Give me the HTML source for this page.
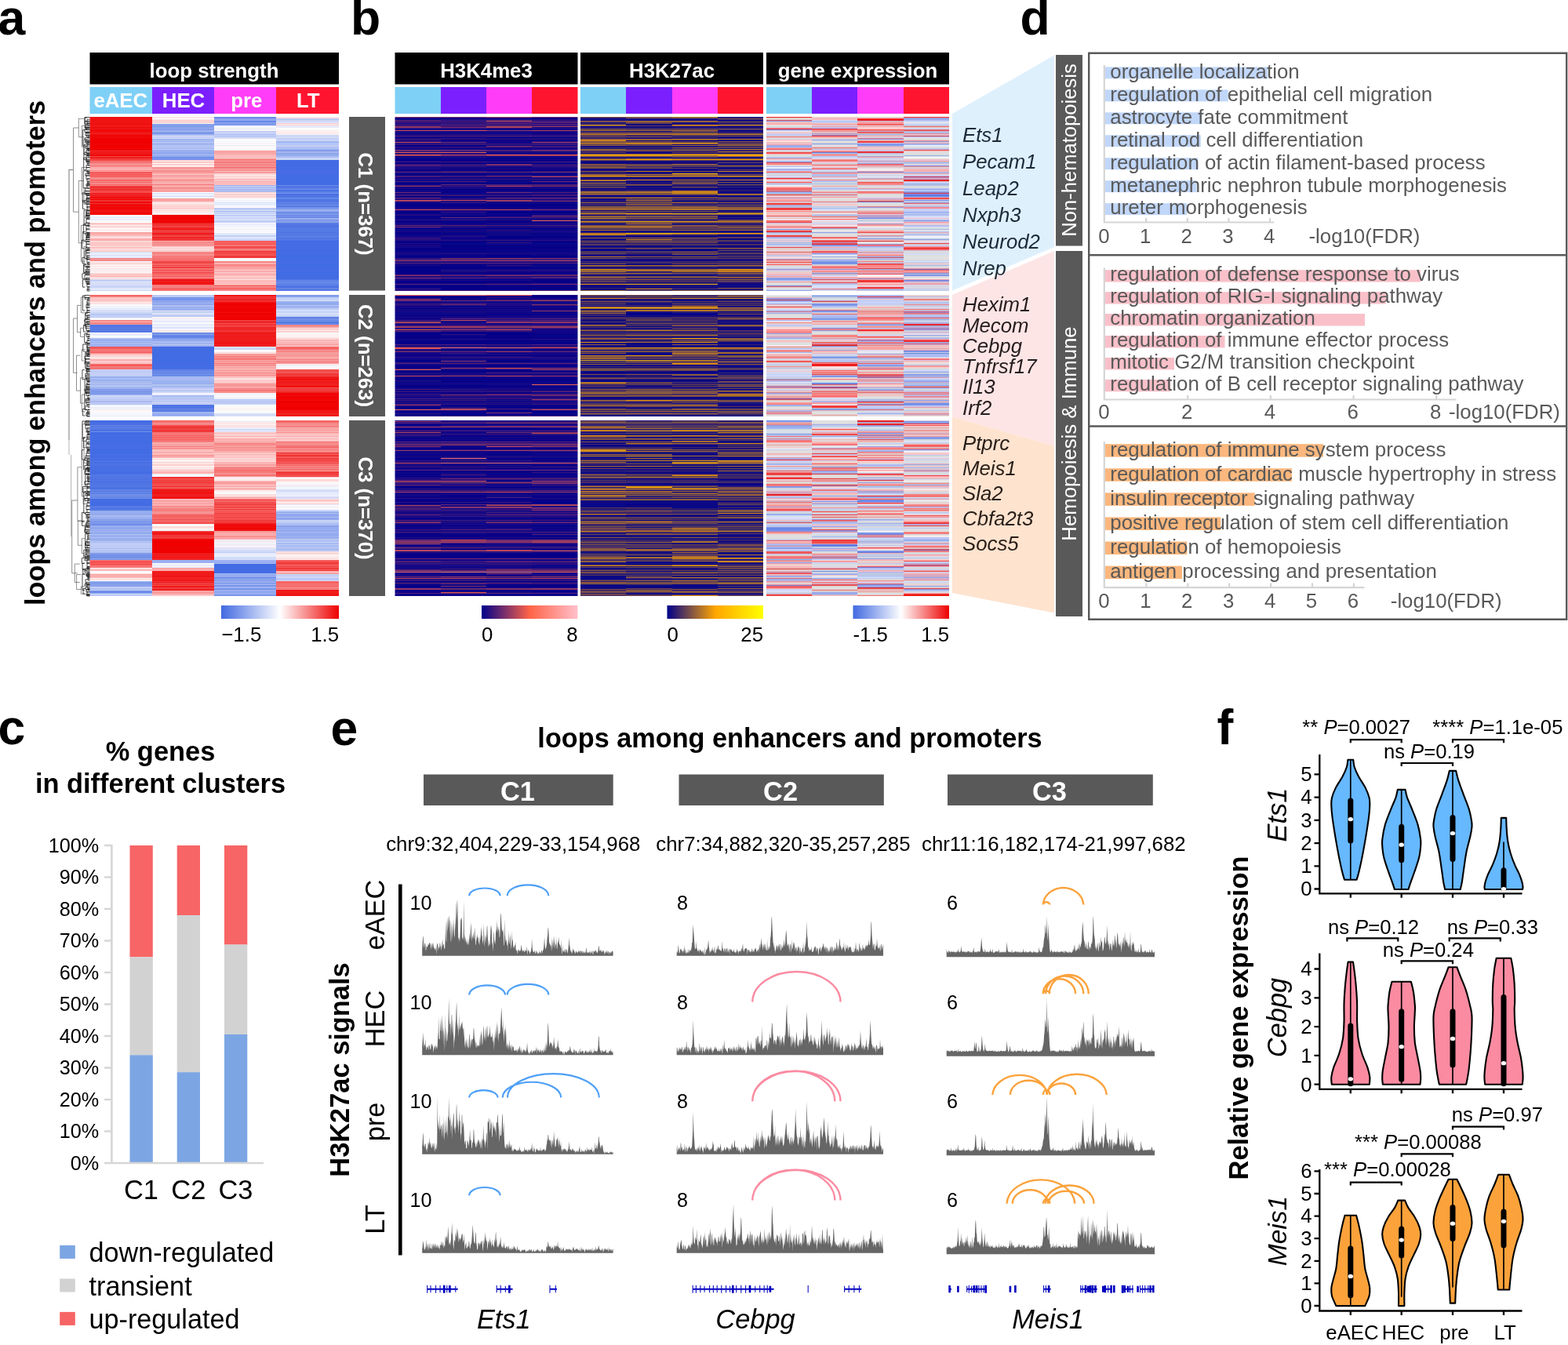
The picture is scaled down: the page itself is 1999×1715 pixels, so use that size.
<!DOCTYPE html>
<html lang="en">
<head>
<meta charset="utf-8">
<title>Figure: loops among enhancers and promoters</title>
<style>
html,body{margin:0;padding:0;background:#fff;}
body{width:1999px;height:1715px;overflow:hidden;}
svg{display:block;font-family:'Liberation Sans', Arial, Helvetica, sans-serif;}
</style>
</head>
<body>
<svg width="1999" height="1715" viewBox="0 0 1999 1715" shape-rendering="auto">
<defs>
<linearGradient id="gbwr"><stop offset="0" stop-color="#4169e1"/><stop offset="0.5" stop-color="#fff"/><stop offset="1" stop-color="#ee0000"/></linearGradient>
<linearGradient id="gk4"><stop offset="0" stop-color="#00008b"/><stop offset="0.5" stop-color="#ff6347"/><stop offset="1" stop-color="#ffc0cb"/></linearGradient>
<linearGradient id="gk27"><stop offset="0" stop-color="#00008b"/><stop offset="0.5" stop-color="#ffa500"/><stop offset="1" stop-color="#ffff00"/></linearGradient>
</defs>
<rect width="1999" height="1715" fill="#fff"/>
<text x="-2.5" y="44.4" font-size="62.5" font-weight="bold">a</text>
<rect x="114.50" y="67.00" width="317.50" height="40.50" fill="#000"/>
<text x="273.0" y="98.8" font-size="25.8" text-anchor="middle" font-weight="bold" fill="#fff">loop strength</text>
<rect x="114.50" y="111.00" width="79.50" height="34.00" fill="#7fd0f7"/>
<text x="153.8" y="136.8" font-size="25.8" text-anchor="middle" font-weight="bold" fill="#fff">eAEC</text>
<rect x="194.00" y="111.00" width="79.00" height="34.00" fill="#7b1fff"/>
<text x="234.0" y="136.8" font-size="25.8" text-anchor="middle" font-weight="bold" fill="#fff">HEC</text>
<rect x="273.00" y="111.00" width="79.00" height="34.00" fill="#ff3cf7"/>
<text x="314.3" y="136.8" font-size="25.8" text-anchor="middle" font-weight="bold" fill="#fff">pre</text>
<rect x="352.00" y="111.00" width="80.00" height="34.00" fill="#ff1430"/>
<text x="392.8" y="136.8" font-size="25.8" text-anchor="middle" font-weight="bold" fill="#fff">LT</text>
<path fill="#f01212" d="M114.5 149h79.5v2h-79.5zM114.5 152h79.5v3h-79.5zM114.5 156h79.5v2h-79.5zM114.5 168h79.5v1h-79.5zM114.5 171h79.5v1h-79.5zM114.5 260h79.5v1h-79.5zM114.5 263h79.5v1h-79.5zM114.5 268h79.5v1h-79.5zM114.5 271h79.5v1h-79.5zM114.5 273h79.5v1h-79.5zM194 356h79v2h-79zM194 360h79v1h-79zM273 376h79v2h-79zM273 425h79v1h-79zM273 436h79v1h-79zM273 438h79v1h-79zM352 483h80v2h-80zM352 492h80v2h-80zM352 525h80v1h-80zM352 529h80v1h-80zM194 625h79v1h-79zM194 627h79v3h-79zM194 633h79v3h-79zM194 681h79v1h-79zM194 707h79v1h-79zM194 735h79v1h-79zM194 740h79v1h-79zM273 675h79v1h-79zM352 753h80v1h-80zM352 757h80v1h-80zM352 759h80v1h-80z"/>
<path fill="#f00c0c" d="M114.5 151h79.5v1h-79.5zM114.5 158h79.5v1h-79.5zM114.5 162h79.5v2h-79.5zM114.5 167h79.5v1h-79.5zM114.5 175h79.5v1h-79.5zM114.5 193h79.5v1h-79.5zM114.5 195h79.5v1h-79.5zM114.5 198h79.5v1h-79.5zM114.5 258h79.5v1h-79.5zM114.5 266h79.5v2h-79.5zM194 280h79v1h-79zM273 382h79v1h-79zM273 390h79v1h-79zM273 398h79v1h-79zM352 501h80v1h-80zM352 504h80v1h-80zM352 510h80v1h-80zM194 679h79v1h-79zM194 687h79v1h-79zM273 668h79v2h-79zM273 671h79v2h-79z"/>
<path fill="#f01818" d="M114.5 155h79.5v1h-79.5zM114.5 159h79.5v3h-79.5zM114.5 169h79.5v1h-79.5zM114.5 238h79.5v1h-79.5zM114.5 246h79.5v1h-79.5zM114.5 248h79.5v1h-79.5zM114.5 253h79.5v1h-79.5zM114.5 269h79.5v1h-79.5zM194 291h79v2h-79zM194 298h79v1h-79zM194 303h79v1h-79zM194 359h79v1h-79zM194 361h79v2h-79zM273 385h79v1h-79zM273 410h79v1h-79zM273 429h79v1h-79zM273 433h79v1h-79zM273 435h79v1h-79zM273 437h79v1h-79zM352 481h80v2h-80zM352 487h80v1h-80zM352 491h80v1h-80zM352 523h80v2h-80zM194 624h79v1h-79zM194 631h79v1h-79zM194 705h79v1h-79zM194 709h79v2h-79zM194 730h79v2h-79zM194 733h79v2h-79zM194 747h79v1h-79zM273 676h79v1h-79zM352 755h80v1h-80zM352 758h80v1h-80z"/>
<path fill="#f01e1e" d="M114.5 164h79.5v1h-79.5zM114.5 170h79.5v1h-79.5zM114.5 252h79.5v1h-79.5zM194 284h79v1h-79zM194 297h79v1h-79zM273 418h79v1h-79zM273 420h79v1h-79zM273 423h79v2h-79zM273 426h79v3h-79zM273 430h79v3h-79zM273 434h79v1h-79zM273 439h79v2h-79zM352 480h80v1h-80zM352 486h80v1h-80zM352 488h80v2h-80zM352 526h80v2h-80zM352 530h80v1h-80zM194 626h79v1h-79zM194 680h79v1h-79zM194 711h79v2h-79zM194 728h79v2h-79zM194 732h79v1h-79zM194 738h79v2h-79zM194 742h79v1h-79zM194 748h79v1h-79zM194 751h79v1h-79zM352 752h80v1h-80zM352 756h80v1h-80z"/>
<path fill="#f00606" d="M114.5 165h79.5v2h-79.5zM114.5 172h79.5v3h-79.5zM114.5 184h79.5v1h-79.5zM114.5 189h79.5v3h-79.5zM114.5 201h79.5v1h-79.5zM114.5 254h79.5v1h-79.5zM114.5 257h79.5v1h-79.5zM114.5 261h79.5v2h-79.5zM114.5 264h79.5v2h-79.5zM114.5 270h79.5v1h-79.5zM114.5 272h79.5v1h-79.5zM194 276h79v1h-79zM273 387h79v1h-79zM273 391h79v1h-79zM273 393h79v1h-79zM273 395h79v1h-79zM273 397h79v1h-79zM273 402h79v2h-79zM273 405h79v1h-79zM352 503h80v1h-80zM352 505h80v1h-80zM352 508h80v2h-80zM352 514h80v1h-80zM352 517h80v1h-80zM194 688h79v1h-79zM194 697h79v1h-79zM194 699h79v1h-79zM273 670h79v1h-79zM273 673h79v2h-79z"/>
<path fill="#f00000" d="M114.5 176h79.5v8h-79.5zM114.5 185h79.5v4h-79.5zM114.5 197h79.5v1h-79.5zM114.5 251h79.5v1h-79.5zM194 274h79v2h-79zM194 277h79v3h-79zM194 281h79v3h-79zM273 386h79v1h-79zM273 388h79v2h-79zM273 392h79v1h-79zM273 394h79v1h-79zM273 396h79v1h-79zM273 399h79v3h-79zM273 404h79v1h-79zM273 406h79v2h-79zM352 502h80v1h-80zM352 506h80v2h-80zM352 511h80v3h-80zM352 515h80v2h-80zM352 518h80v5h-80zM194 689h79v8h-79zM194 698h79v1h-79zM194 700h79v5h-79z"/>
<path fill="#f03636" d="M114.5 192h79.5v1h-79.5zM114.5 256h79.5v1h-79.5zM194 286h79v1h-79zM194 290h79v1h-79zM194 294h79v1h-79zM194 296h79v1h-79zM194 299h79v1h-79zM273 321h79v1h-79zM273 326h79v1h-79zM273 328h79v1h-79zM273 381h79v1h-79zM273 413h79v1h-79zM273 421h79v1h-79zM352 477h80v2h-80zM352 495h80v1h-80zM352 497h80v1h-80zM194 543h79v1h-79zM194 608h79v1h-79zM194 613h79v1h-79zM194 623h79v1h-79zM194 685h79v1h-79zM194 741h79v1h-79zM194 743h79v1h-79zM352 580h80v1h-80zM352 724h80v1h-80zM352 727h80v1h-80z"/>
<path fill="#f02424" d="M114.5 194h79.5v1h-79.5zM114.5 196h79.5v1h-79.5zM114.5 241h79.5v1h-79.5zM114.5 249h79.5v2h-79.5zM194 305h79v1h-79zM194 358h79v1h-79zM273 384h79v1h-79zM273 441h79v1h-79zM352 485h80v1h-80zM352 490h80v1h-80zM352 499h80v2h-80zM352 528h80v1h-80zM194 549h79v1h-79zM194 609h79v1h-79zM194 615h79v1h-79zM194 630h79v1h-79zM194 632h79v1h-79zM194 706h79v1h-79zM194 708h79v1h-79zM194 713h79v1h-79zM194 736h79v2h-79zM194 752h79v1h-79zM352 754h80v1h-80z"/>
<path fill="#f03c3c" d="M114.5 199h79.5v1h-79.5zM114.5 242h79.5v1h-79.5zM194 300h79v1h-79zM194 340h79v1h-79zM273 323h79v1h-79zM273 327h79v1h-79zM273 408h79v2h-79zM273 416h79v1h-79zM273 422h79v1h-79zM352 476h80v1h-80zM194 677h79v1h-79zM194 686h79v1h-79zM194 749h79v2h-79zM273 646h79v1h-79zM273 654h79v1h-79zM352 584h80v2h-80zM352 587h80v1h-80zM352 722h80v1h-80zM352 725h80v1h-80z"/>
<path fill="#f03030" d="M114.5 200h79.5v1h-79.5zM114.5 203h79.5v1h-79.5zM114.5 247h79.5v1h-79.5zM114.5 255h79.5v1h-79.5zM114.5 259h79.5v1h-79.5zM194 285h79v1h-79zM194 289h79v1h-79zM273 380h79v1h-79zM273 419h79v1h-79zM194 620h79v1h-79zM194 678h79v1h-79zM352 577h80v1h-80zM352 581h80v1h-80zM352 602h80v2h-80zM352 605h80v1h-80zM352 718h80v1h-80z"/>
<path fill="#f64e4e" d="M114.5 202h79.5v1h-79.5zM114.5 222h79.5v1h-79.5zM114.5 224h79.5v1h-79.5zM114.5 237h79.5v1h-79.5zM114.5 244h79.5v2h-79.5zM194 288h79v1h-79zM194 306h79v1h-79zM194 344h79v1h-79zM273 315h79v2h-79zM273 412h79v1h-79zM273 415h79v1h-79zM114.5 716h79.5v1h-79.5zM114.5 719h79.5v1h-79.5zM194 658h79v1h-79zM194 660h79v1h-79zM194 666h79v1h-79zM194 746h79v1h-79zM273 644h79v1h-79zM273 647h79v1h-79zM273 650h79v1h-79zM273 652h79v1h-79zM273 655h79v3h-79zM273 660h79v3h-79zM352 715h80v2h-80zM352 720h80v1h-80z"/>
<path fill="#f65454" d="M114.5 204h79.5v1h-79.5zM114.5 219h79.5v1h-79.5zM194 349h79v1h-79zM273 311h79v1h-79zM114.5 443h79.5v1h-79.5zM114.5 466h79.5v1h-79.5zM352 475h80v1h-80zM352 494h80v1h-80zM114.5 715h79.5v1h-79.5zM114.5 717h79.5v1h-79.5zM114.5 720h79.5v1h-79.5zM194 542h79v1h-79zM194 614h79v1h-79zM194 616h79v1h-79zM194 618h79v1h-79zM194 622h79v1h-79zM273 638h79v1h-79zM273 641h79v1h-79zM273 658h79v1h-79zM273 665h79v1h-79zM352 578h80v2h-80zM352 582h80v1h-80zM352 586h80v1h-80zM352 588h80v1h-80zM352 604h80v1h-80z"/>
<path fill="#f66666" d="M114.5 205h79.5v1h-79.5zM114.5 232h79.5v1h-79.5zM194 336h79v2h-79zM194 345h79v1h-79zM194 368h79v1h-79zM273 364h79v1h-79zM273 367h79v2h-79zM114.5 469h79.5v1h-79.5zM352 443h80v1h-80zM194 551h79v1h-79zM194 558h79v1h-79zM194 562h79v1h-79zM194 657h79v1h-79zM194 663h79v1h-79zM273 648h79v1h-79zM273 651h79v1h-79zM352 563h80v1h-80zM352 591h80v1h-80zM352 714h80v1h-80zM352 721h80v1h-80zM352 743h80v1h-80z"/>
<path fill="#f67878" d="M114.5 206h79.5v1h-79.5zM114.5 236h79.5v1h-79.5zM194 326h79v2h-79zM194 330h79v1h-79zM194 354h79v1h-79zM194 363h79v1h-79zM273 312h79v2h-79zM114.5 468h79.5v1h-79.5zM273 497h79v1h-79zM114.5 714h79.5v1h-79.5zM194 559h79v1h-79zM194 561h79v1h-79zM273 598h79v1h-79zM273 606h79v1h-79zM352 596h80v1h-80z"/>
<path fill="#f66c6c" d="M114.5 207h79.5v1h-79.5zM114.5 221h79.5v1h-79.5zM114.5 230h79.5v1h-79.5zM114.5 235h79.5v1h-79.5zM194 329h79v1h-79zM194 331h79v2h-79zM194 339h79v1h-79zM194 343h79v1h-79zM194 348h79v1h-79zM194 351h79v1h-79zM273 213h79v1h-79zM114.5 377h79.5v1h-79.5zM114.5 445h79.5v1h-79.5zM114.5 464h79.5v1h-79.5zM352 445h80v1h-80zM114.5 722h79.5v1h-79.5zM194 553h79v1h-79zM194 650h79v1h-79zM194 664h79v1h-79zM273 596h79v1h-79zM273 636h79v1h-79zM352 536h80v1h-80zM352 538h80v1h-80zM352 543h80v1h-80zM352 570h80v1h-80zM352 741h80v1h-80zM352 745h80v1h-80zM352 747h80v2h-80zM352 750h80v1h-80z"/>
<path fill="#f69090" d="M114.5 208h79.5v1h-79.5zM114.5 227h79.5v2h-79.5zM114.5 233h79.5v1h-79.5zM194 217h79v1h-79zM194 325h79v1h-79zM273 338h79v1h-79zM114.5 409h79.5v1h-79.5zM352 460h80v1h-80zM352 462h80v1h-80zM194 563h79v1h-79zM194 571h79v2h-79zM194 651h79v1h-79zM194 654h79v1h-79zM194 753h79v1h-79zM194 757h79v1h-79zM273 603h79v2h-79zM273 607h79v1h-79zM352 544h80v1h-80zM352 551h80v1h-80zM352 564h80v2h-80zM352 574h80v2h-80zM352 594h80v1h-80zM352 597h80v1h-80z"/>
<path fill="#f69696" d="M114.5 209h79.5v1h-79.5zM114.5 330h79.5v1h-79.5zM194 218h79v1h-79zM194 229h79v2h-79zM194 239h79v1h-79zM194 255h79v1h-79zM194 310h79v2h-79zM194 324h79v1h-79zM273 202h79v1h-79zM273 208h79v1h-79zM273 212h79v1h-79zM273 216h79v1h-79zM273 220h79v1h-79zM114.5 413h79.5v1h-79.5zM273 452h79v1h-79zM273 455h79v1h-79zM273 460h79v2h-79zM273 466h79v1h-79zM273 472h79v1h-79zM273 476h79v1h-79zM273 490h79v2h-79zM273 499h79v1h-79zM352 414h80v1h-80zM352 451h80v1h-80zM114.5 735h79.5v1h-79.5zM194 641h79v1h-79zM194 646h79v2h-79zM194 725h79v1h-79zM273 566h79v1h-79zM273 570h79v1h-79zM273 615h79v1h-79zM273 679h79v1h-79zM273 683h79v1h-79zM352 731h80v1h-80zM352 749h80v1h-80z"/>
<path fill="#f68a8a" d="M114.5 210h79.5v1h-79.5zM114.5 212h79.5v1h-79.5zM114.5 231h79.5v1h-79.5zM114.5 331h79.5v1h-79.5zM194 214h79v1h-79zM194 219h79v1h-79zM194 240h79v1h-79zM194 321h79v1h-79zM273 210h79v2h-79zM273 217h79v1h-79zM273 333h79v1h-79zM273 339h79v1h-79zM273 365h79v1h-79zM273 370h79v1h-79zM114.5 378h79.5v1h-79.5zM114.5 411h79.5v1h-79.5zM114.5 446h79.5v1h-79.5zM273 465h79v1h-79zM273 478h79v1h-79zM273 496h79v1h-79zM352 448h80v1h-80zM352 453h80v1h-80zM194 539h79v2h-79zM194 649h79v1h-79zM194 755h79v1h-79zM273 597h79v1h-79zM273 601h79v1h-79zM273 677h79v1h-79zM273 684h79v1h-79zM352 540h80v2h-80zM352 566h80v2h-80zM352 599h80v1h-80zM352 751h80v1h-80z"/>
<path fill="#f67e7e" d="M114.5 211h79.5v1h-79.5zM194 309h79v1h-79zM194 323h79v1h-79zM194 328h79v1h-79zM194 350h79v1h-79zM194 364h79v2h-79zM194 370h79v1h-79zM273 318h79v1h-79zM273 366h79v1h-79zM273 369h79v1h-79zM114.5 412h79.5v1h-79.5zM114.5 448h79.5v1h-79.5zM114.5 470h79.5v1h-79.5zM273 456h79v2h-79zM352 447h80v1h-80zM352 458h80v1h-80zM352 461h80v1h-80zM114.5 721h79.5v1h-79.5zM114.5 723h79.5v1h-79.5zM194 554h79v1h-79zM194 556h79v1h-79zM194 569h79v1h-79zM194 645h79v1h-79zM194 648h79v1h-79zM194 659h79v1h-79zM194 661h79v1h-79zM273 565h79v1h-79zM273 567h79v1h-79zM273 599h79v1h-79zM352 571h80v1h-80z"/>
<path fill="#fcaeae" d="M114.5 213h79.5v1h-79.5zM114.5 218h79.5v1h-79.5zM114.5 312h79.5v1h-79.5zM194 215h79v1h-79zM194 231h79v1h-79zM273 231h79v1h-79zM273 233h79v1h-79zM273 336h79v1h-79zM273 343h79v1h-79zM273 349h79v1h-79zM273 361h79v1h-79zM114.5 410h79.5v1h-79.5zM114.5 458h79.5v1h-79.5zM273 471h79v1h-79zM273 477h79v1h-79zM352 440h80v1h-80zM114.5 732h79.5v1h-79.5zM194 582h79v2h-79zM194 602h79v2h-79zM194 637h79v1h-79zM194 724h79v1h-79zM194 727h79v1h-79zM273 556h79v1h-79zM273 562h79v2h-79zM273 572h79v1h-79zM273 589h79v1h-79zM273 591h79v1h-79zM273 594h79v1h-79zM273 613h79v2h-79zM273 678h79v1h-79zM273 682h79v1h-79zM273 687h79v1h-79zM352 547h80v1h-80zM352 556h80v1h-80zM352 730h80v1h-80z"/>
<path fill="#fca8a8" d="M114.5 214h79.5v1h-79.5zM114.5 296h79.5v1h-79.5zM114.5 304h79.5v1h-79.5zM194 220h79v2h-79zM194 225h79v2h-79zM194 254h79v1h-79zM273 193h79v1h-79zM273 340h79v1h-79zM273 342h79v1h-79zM273 350h79v1h-79zM273 354h79v1h-79zM273 459h79v1h-79zM273 462h79v1h-79zM273 469h79v1h-79zM273 479h79v1h-79zM273 493h79v2h-79zM352 434h80v1h-80zM352 455h80v2h-80zM194 567h79v1h-79zM194 570h79v1h-79zM194 643h79v1h-79zM273 559h79v1h-79zM273 568h79v1h-79zM273 681h79v1h-79zM273 685h79v1h-79zM352 549h80v1h-80z"/>
<path fill="#fcb4b4" d="M114.5 215h79.5v2h-79.5zM114.5 285h79.5v1h-79.5zM114.5 298h79.5v2h-79.5zM114.5 305h79.5v1h-79.5zM114.5 352h79.5v1h-79.5zM194 237h79v1h-79zM194 242h79v1h-79zM194 244h79v1h-79zM194 256h79v1h-79zM273 200h79v1h-79zM273 228h79v1h-79zM273 335h79v1h-79zM273 345h79v1h-79zM273 359h79v1h-79zM114.5 459h79.5v1h-79.5zM273 467h79v1h-79zM273 470h79v1h-79zM273 473h79v1h-79zM273 488h79v1h-79zM352 436h80v3h-80zM114.5 726h79.5v1h-79.5zM194 565h79v1h-79zM194 642h79v1h-79zM194 754h79v1h-79zM194 756h79v1h-79zM273 560h79v1h-79zM273 575h79v1h-79zM273 579h79v1h-79zM273 617h79v2h-79zM273 680h79v1h-79zM352 550h80v1h-80zM352 559h80v1h-80zM352 728h80v1h-80z"/>
<path fill="#f68484" d="M114.5 217h79.5v1h-79.5zM114.5 226h79.5v1h-79.5zM114.5 234h79.5v1h-79.5zM114.5 329h79.5v1h-79.5zM114.5 332h79.5v1h-79.5zM194 235h79v1h-79zM194 243h79v1h-79zM194 312h79v1h-79zM194 322h79v1h-79zM194 353h79v1h-79zM194 366h79v1h-79zM273 203h79v2h-79zM273 207h79v1h-79zM273 209h79v1h-79zM273 214h79v1h-79zM273 317h79v1h-79zM273 334h79v1h-79zM273 337h79v1h-79zM273 363h79v1h-79zM114.5 408h79.5v1h-79.5zM114.5 450h79.5v1h-79.5zM114.5 467h79.5v1h-79.5zM273 495h79v1h-79zM273 500h79v1h-79zM194 541h79v1h-79zM194 552h79v1h-79zM194 652h79v1h-79zM194 655h79v1h-79zM273 571h79v1h-79zM273 573h79v1h-79zM352 539h80v1h-80zM352 576h80v1h-80zM352 600h80v1h-80z"/>
<path fill="#f65a5a" d="M114.5 220h79.5v1h-79.5zM194 352h79v1h-79zM194 355h79v1h-79zM273 307h79v1h-79zM273 322h79v1h-79zM273 324h79v2h-79zM114.5 442h79.5v1h-79.5zM114.5 449h79.5v1h-79.5zM352 472h80v1h-80zM352 474h80v1h-80zM194 555h79v1h-79zM194 560h79v1h-79zM194 610h79v1h-79zM194 621h79v1h-79zM273 637h79v1h-79zM352 589h80v1h-80zM352 598h80v1h-80zM352 601h80v1h-80zM352 719h80v1h-80zM352 723h80v1h-80zM352 726h80v1h-80z"/>
<path fill="#f67272" d="M114.5 223h79.5v1h-79.5zM114.5 225h79.5v1h-79.5zM194 342h79v1h-79zM194 346h79v1h-79zM273 206h79v1h-79zM273 319h79v1h-79zM273 454h79v1h-79zM273 458h79v1h-79zM273 463h79v1h-79zM273 498h79v1h-79zM352 415h80v1h-80zM194 537h79v2h-79zM273 602h79v1h-79zM273 605h79v1h-79zM273 639h79v1h-79zM352 568h80v2h-80zM352 573h80v1h-80zM352 592h80v1h-80zM352 595h80v1h-80zM352 744h80v1h-80zM352 746h80v1h-80z"/>
<path fill="#f66060" d="M114.5 229h79.5v1h-79.5zM194 367h79v1h-79zM194 369h79v1h-79zM273 308h79v3h-79zM114.5 376h79.5v1h-79.5zM114.5 444h79.5v1h-79.5zM114.5 447h79.5v1h-79.5zM114.5 465h79.5v1h-79.5zM352 442h80v1h-80zM352 444h80v1h-80zM114.5 718h79.5v1h-79.5zM194 536h79v1h-79zM194 557h79v1h-79zM194 656h79v1h-79zM194 665h79v1h-79zM273 600h79v1h-79zM273 645h79v1h-79zM273 653h79v1h-79zM352 537h80v1h-80zM352 583h80v1h-80zM352 593h80v1h-80zM352 606h80v1h-80zM352 742h80v1h-80z"/>
<path fill="#f04242" d="M114.5 239h79.5v2h-79.5zM114.5 243h79.5v1h-79.5zM194 293h79v1h-79zM194 335h79v1h-79zM194 338h79v1h-79zM194 341h79v1h-79zM194 347h79v1h-79zM273 320h79v1h-79zM273 378h79v1h-79zM273 383h79v1h-79zM352 471h80v1h-80zM352 473h80v1h-80zM352 496h80v1h-80zM194 544h79v1h-79zM194 547h79v2h-79zM194 611h79v1h-79zM194 682h79v1h-79zM194 684h79v1h-79zM194 744h79v1h-79zM273 642h79v2h-79zM273 649h79v1h-79zM273 659h79v1h-79zM273 663h79v1h-79zM352 607h80v1h-80zM352 717h80v1h-80z"/>
<path fill="#fcf6f6" d="M114.5 274h79.5v1h-79.5zM114.5 282h79.5v1h-79.5zM114.5 341h79.5v1h-79.5zM114.5 347h79.5v1h-79.5zM194 157h79v1h-79zM194 211h79v1h-79zM273 166h79v1h-79zM273 178h79v1h-79zM273 189h79v1h-79zM273 191h79v1h-79zM273 246h79v1h-79zM273 264h79v1h-79zM273 295h79v1h-79zM352 165h80v1h-80zM352 171h80v1h-80zM114.5 389h79.5v1h-79.5zM114.5 523h79.5v1h-79.5zM114.5 525h79.5v1h-79.5zM194 405h79v1h-79zM194 407h79v1h-79zM273 448h79v1h-79zM273 505h79v1h-79zM273 518h79v2h-79zM273 525h79v1h-79zM352 425h80v1h-80zM352 427h80v1h-80zM352 429h80v1h-80zM194 604h79v1h-79zM273 536h79v1h-79zM273 612h79v1h-79zM352 609h80v1h-80zM352 645h80v1h-80zM352 710h80v1h-80z"/>
<path fill="#fcfcfc" d="M114.5 275h79.5v1h-79.5zM114.5 278h79.5v1h-79.5zM114.5 283h79.5v1h-79.5zM114.5 291h79.5v1h-79.5zM114.5 294h79.5v1h-79.5zM114.5 338h79.5v1h-79.5zM194 151h79v1h-79zM194 208h79v1h-79zM194 245h79v1h-79zM194 248h79v1h-79zM273 163h79v1h-79zM273 165h79v1h-79zM273 177h79v1h-79zM273 179h79v1h-79zM273 181h79v1h-79zM273 184h79v1h-79zM273 187h79v2h-79zM273 253h79v1h-79zM273 256h79v1h-79zM273 262h79v1h-79zM273 287h79v1h-79zM273 290h79v1h-79zM273 293h79v1h-79zM273 296h79v1h-79zM273 329h79v2h-79zM352 163h80v2h-80zM114.5 388h79.5v1h-79.5zM114.5 407h79.5v1h-79.5zM114.5 424h79.5v1h-79.5zM114.5 429h79.5v1h-79.5zM114.5 517h79.5v1h-79.5zM114.5 524h79.5v1h-79.5zM114.5 527h79.5v1h-79.5zM114.5 529h79.5v1h-79.5zM194 411h79v2h-79zM194 416h79v1h-79zM194 502h79v1h-79zM273 446h79v2h-79zM273 501h79v1h-79zM273 506h79v1h-79zM273 516h79v1h-79zM273 520h79v1h-79zM273 522h79v1h-79zM273 524h79v1h-79zM352 468h80v1h-80zM352 470h80v1h-80zM114.5 729h79.5v2h-79.5zM114.5 740h79.5v1h-79.5zM194 584h79v1h-79zM194 586h79v1h-79zM194 594h79v1h-79zM194 606h79v1h-79zM194 670h79v1h-79zM194 674h79v1h-79zM194 718h79v1h-79zM273 541h79v1h-79zM273 610h79v1h-79zM273 628h79v1h-79zM273 692h79v1h-79zM273 696h79v1h-79zM352 610h80v1h-80zM352 615h80v2h-80zM352 644h80v1h-80zM352 648h80v1h-80zM352 708h80v1h-80z"/>
<path fill="#eaf0fc" d="M114.5 276h79.5v1h-79.5zM114.5 280h79.5v1h-79.5zM114.5 323h79.5v2h-79.5zM114.5 327h79.5v1h-79.5zM194 251h79v1h-79zM273 185h79v1h-79zM273 255h79v1h-79zM273 257h79v1h-79zM273 259h79v1h-79zM273 285h79v1h-79zM114.5 427h79.5v1h-79.5zM114.5 519h79.5v2h-79.5zM114.5 528h79.5v1h-79.5zM194 409h79v1h-79zM352 466h80v1h-80zM194 605h79v1h-79zM273 537h79v1h-79zM273 546h79v1h-79zM273 700h79v1h-79zM273 708h79v1h-79zM352 620h80v1h-80zM352 623h80v1h-80z"/>
<path fill="#e4eafc" d="M114.5 277h79.5v1h-79.5zM114.5 279h79.5v1h-79.5zM114.5 322h79.5v1h-79.5zM114.5 326h79.5v1h-79.5zM114.5 359h79.5v1h-79.5zM114.5 362h79.5v1h-79.5zM114.5 368h79.5v1h-79.5zM194 247h79v1h-79zM273 261h79v1h-79zM273 286h79v1h-79zM273 297h79v2h-79zM273 302h79v1h-79zM352 160h80v2h-80zM114.5 426h79.5v1h-79.5zM114.5 516h79.5v1h-79.5zM114.5 530h79.5v1h-79.5zM273 442h79v1h-79zM273 502h79v1h-79zM273 507h79v1h-79zM273 548h79v1h-79zM273 550h79v1h-79zM273 693h79v1h-79zM273 707h79v1h-79zM273 709h79v1h-79zM352 627h80v3h-80zM352 631h80v1h-80zM352 643h80v1h-80zM352 650h80v1h-80z"/>
<path fill="#f6fcfc" d="M114.5 281h79.5v1h-79.5zM273 254h79v1h-79zM273 332h79v1h-79zM114.5 428h79.5v1h-79.5zM273 503h79v1h-79zM273 517h79v1h-79zM273 526h79v1h-79zM352 424h80v1h-80zM194 669h79v1h-79zM194 676h79v1h-79zM273 629h79v1h-79zM352 622h80v1h-80z"/>
<path fill="#fcd8d8" d="M114.5 284h79.5v1h-79.5zM114.5 288h79.5v1h-79.5zM114.5 301h79.5v1h-79.5zM114.5 311h79.5v1h-79.5zM114.5 317h79.5v2h-79.5zM114.5 353h79.5v1h-79.5zM114.5 355h79.5v1h-79.5zM194 155h79v1h-79zM194 260h79v1h-79zM194 264h79v1h-79zM194 266h79v1h-79zM273 221h79v1h-79zM273 249h79v1h-79zM273 353h79v1h-79zM273 355h79v2h-79zM273 362h79v1h-79zM352 150h80v1h-80zM114.5 461h79.5v1h-79.5zM273 449h79v1h-79zM273 484h79v1h-79zM352 431h80v1h-80zM114.5 725h79.5v1h-79.5zM194 589h79v1h-79zM194 599h79v1h-79zM194 671h79v1h-79zM194 758h79v1h-79zM273 542h79v1h-79zM273 544h79v1h-79zM273 554h79v1h-79zM273 557h79v2h-79zM273 630h79v1h-79zM352 611h80v1h-80zM352 639h80v1h-80z"/>
<path fill="#fcdede" d="M114.5 286h79.5v1h-79.5zM114.5 302h79.5v2h-79.5zM114.5 336h79.5v1h-79.5zM114.5 342h79.5v1h-79.5zM114.5 348h79.5v1h-79.5zM194 149h79v1h-79zM194 268h79v1h-79zM194 317h79v2h-79zM273 224h79v1h-79zM273 227h79v1h-79zM273 248h79v1h-79zM273 251h79v1h-79zM114.5 387h79.5v1h-79.5zM114.5 453h79.5v1h-79.5zM114.5 457h79.5v1h-79.5zM273 483h79v1h-79zM352 418h80v1h-80zM352 420h80v1h-80zM114.5 731h79.5v1h-79.5zM114.5 738h79.5v1h-79.5zM194 590h79v1h-79zM194 595h79v1h-79zM194 672h79v2h-79zM273 540h79v1h-79zM273 586h79v1h-79zM273 588h79v1h-79zM273 609h79v1h-79zM273 632h79v1h-79zM352 711h80v2h-80z"/>
<path fill="#fceaea" d="M114.5 287h79.5v1h-79.5zM114.5 307h79.5v1h-79.5zM114.5 334h79.5v1h-79.5zM114.5 346h79.5v1h-79.5zM114.5 354h79.5v1h-79.5zM194 259h79v1h-79zM194 269h79v1h-79zM194 272h79v1h-79zM273 223h79v1h-79zM352 158h80v1h-80zM352 169h80v2h-80zM114.5 385h79.5v1h-79.5zM114.5 456h79.5v1h-79.5zM114.5 522h79.5v1h-79.5zM194 422h79v1h-79zM273 521h79v1h-79zM352 421h80v1h-80zM352 464h80v2h-80zM352 469h80v1h-80zM114.5 724h79.5v1h-79.5zM114.5 737h79.5v1h-79.5zM194 596h79v1h-79zM194 675h79v1h-79zM273 543h79v1h-79zM273 689h79v1h-79zM273 691h79v1h-79zM273 698h79v1h-79zM352 707h80v1h-80zM352 713h80v1h-80z"/>
<path fill="#fcd2d2" d="M114.5 289h79.5v1h-79.5zM114.5 319h79.5v1h-79.5zM114.5 335h79.5v1h-79.5zM194 153h79v2h-79zM194 204h79v1h-79zM194 210h79v1h-79zM194 263h79v1h-79zM194 320h79v1h-79zM273 201h79v1h-79zM273 222h79v1h-79zM273 225h79v1h-79zM273 245h79v1h-79zM273 250h79v1h-79zM352 159h80v1h-80zM273 486h79v2h-79zM352 423h80v1h-80zM352 441h80v1h-80zM273 577h79v1h-79zM273 582h79v1h-79zM352 558h80v1h-80zM352 642h80v1h-80z"/>
<path fill="#fce4e4" d="M114.5 290h79.5v1h-79.5zM114.5 293h79.5v1h-79.5zM114.5 313h79.5v1h-79.5zM114.5 337h79.5v1h-79.5zM114.5 339h79.5v1h-79.5zM114.5 344h79.5v1h-79.5zM194 152h79v1h-79zM194 205h79v1h-79zM194 212h79v1h-79zM194 261h79v1h-79zM194 267h79v1h-79zM194 270h79v1h-79zM194 273h79v1h-79zM194 315h79v1h-79zM273 226h79v1h-79zM273 252h79v1h-79zM114.5 386h79.5v1h-79.5zM114.5 455h79.5v1h-79.5zM194 421h79v1h-79zM273 450h79v1h-79zM273 482h79v1h-79zM352 430h80v1h-80zM114.5 739h79.5v1h-79.5zM273 538h79v1h-79zM273 584h79v1h-79zM273 611h79v1h-79zM273 625h79v1h-79zM273 631h79v1h-79zM352 614h80v1h-80zM352 619h80v1h-80zM352 636h80v1h-80zM352 641h80v1h-80zM352 703h80v2h-80zM352 706h80v1h-80zM352 709h80v1h-80z"/>
<path fill="#fcf0f0" d="M114.5 292h79.5v1h-79.5zM114.5 295h79.5v1h-79.5zM114.5 340h79.5v1h-79.5zM194 150h79v1h-79zM194 258h79v1h-79zM273 183h79v1h-79zM273 186h79v1h-79zM352 149h80v1h-80zM352 166h80v3h-80zM194 404h79v1h-79zM194 423h79v1h-79zM352 426h80v1h-80zM352 428h80v1h-80zM194 587h79v2h-79zM194 591h79v1h-79zM194 597h79v1h-79zM194 668h79v1h-79zM194 722h79v1h-79zM273 539h79v1h-79zM273 626h79v2h-79zM273 694h79v1h-79zM352 613h80v1h-80zM352 640h80v1h-80z"/>
<path fill="#f6a2a2" d="M114.5 297h79.5v1h-79.5zM114.5 306h79.5v1h-79.5zM194 216h79v1h-79zM194 223h79v2h-79zM194 232h79v1h-79zM194 236h79v1h-79zM194 313h79v1h-79zM273 194h79v2h-79zM273 197h79v1h-79zM273 346h79v1h-79zM273 453h79v1h-79zM273 464h79v1h-79zM273 468h79v1h-79zM273 474h79v1h-79zM352 416h80v2h-80zM352 439h80v1h-80zM352 452h80v1h-80zM352 454h80v1h-80zM352 457h80v1h-80zM352 459h80v1h-80zM352 463h80v1h-80zM194 638h79v2h-79zM273 564h79v1h-79zM273 592h79v2h-79zM273 595h79v1h-79zM273 620h79v1h-79zM273 634h79v1h-79zM273 686h79v1h-79zM352 545h80v2h-80z"/>
<path fill="#fcbaba" d="M114.5 300h79.5v1h-79.5zM273 196h79v1h-79zM273 199h79v1h-79zM273 235h79v1h-79zM273 348h79v1h-79zM273 357h79v1h-79zM114.5 382h79.5v1h-79.5zM114.5 452h79.5v1h-79.5zM114.5 727h79.5v1h-79.5zM194 574h79v1h-79zM194 578h79v2h-79zM194 644h79v1h-79zM194 726h79v1h-79zM273 561h79v1h-79zM273 583h79v1h-79zM273 590h79v1h-79zM352 552h80v2h-80zM352 729h80v1h-80z"/>
<path fill="#fcc6c6" d="M114.5 308h79.5v1h-79.5zM114.5 351h79.5v1h-79.5zM194 207h79v1h-79zM194 209h79v1h-79zM194 222h79v1h-79zM194 227h79v1h-79zM194 265h79v1h-79zM273 229h79v1h-79zM273 232h79v1h-79zM273 234h79v1h-79zM273 344h79v1h-79zM273 351h79v2h-79zM114.5 379h79.5v2h-79.5zM114.5 451h79.5v1h-79.5zM352 433h80v1h-80zM114.5 736h79.5v1h-79.5zM194 601h79v1h-79zM273 551h79v1h-79zM273 553h79v1h-79zM273 587h79v1h-79zM273 635h79v1h-79zM352 637h80v1h-80z"/>
<path fill="#fccccc" d="M114.5 309h79.5v1h-79.5zM114.5 314h79.5v1h-79.5zM114.5 316h79.5v1h-79.5zM114.5 320h79.5v1h-79.5zM114.5 350h79.5v1h-79.5zM194 156h79v1h-79zM194 206h79v1h-79zM194 262h79v1h-79zM194 316h79v1h-79zM194 319h79v1h-79zM273 198h79v1h-79zM273 230h79v1h-79zM273 347h79v1h-79zM273 360h79v1h-79zM352 157h80v1h-80zM114.5 381h79.5v1h-79.5zM114.5 383h79.5v2h-79.5zM114.5 454h79.5v1h-79.5zM352 422h80v1h-80zM352 432h80v1h-80zM352 435h80v1h-80zM114.5 734h79.5v1h-79.5zM194 575h79v1h-79zM194 585h79v1h-79zM194 592h79v2h-79zM194 598h79v1h-79zM273 555h79v1h-79zM273 580h79v1h-79zM273 621h79v1h-79zM273 624h79v1h-79zM273 633h79v1h-79zM352 554h80v1h-80zM352 557h80v1h-80zM352 560h80v1h-80zM352 562h80v1h-80zM352 608h80v1h-80zM352 612h80v1h-80zM352 705h80v1h-80z"/>
<path fill="#fcc0c0" d="M114.5 310h79.5v1h-79.5zM114.5 315h79.5v1h-79.5zM114.5 349h79.5v1h-79.5zM194 233h79v1h-79zM194 257h79v1h-79zM194 314h79v1h-79zM273 218h79v1h-79zM273 247h79v1h-79zM273 358h79v1h-79zM114.5 460h79.5v1h-79.5zM114.5 462h79.5v2h-79.5zM273 480h79v2h-79zM273 485h79v1h-79zM352 419h80v1h-80zM194 573h79v1h-79zM194 577h79v1h-79zM194 600h79v1h-79zM194 636h79v1h-79zM194 640h79v1h-79zM194 759h79v1h-79zM273 552h79v1h-79zM273 578h79v1h-79zM273 581h79v1h-79zM273 585h79v1h-79zM273 619h79v1h-79zM273 622h79v1h-79zM352 555h80v1h-80zM352 561h80v1h-80zM352 638h80v1h-80z"/>
<path fill="#d2def6" d="M114.5 321h79.5v1h-79.5zM194 176h79v1h-79zM273 176h79v1h-79zM273 267h79v1h-79zM273 280h79v1h-79zM352 173h80v1h-80zM352 178h80v1h-80zM352 202h80v1h-80zM114.5 397h79.5v1h-79.5zM273 443h79v1h-79zM273 527h79v1h-79zM273 529h79v1h-79zM352 383h80v1h-80zM352 400h80v1h-80zM352 625h80v1h-80z"/>
<path fill="#d8def6" d="M114.5 325h79.5v1h-79.5zM114.5 356h79.5v1h-79.5zM114.5 360h79.5v1h-79.5zM114.5 364h79.5v1h-79.5zM273 175h79v1h-79zM273 304h79v1h-79zM352 175h80v1h-80zM194 396h79v1h-79zM194 417h79v1h-79zM273 528h79v1h-79zM273 530h79v1h-79zM273 549h79v1h-79zM352 634h80v1h-80zM352 735h80v1h-80zM352 740h80v1h-80z"/>
<path fill="#dee4fc" d="M114.5 328h79.5v1h-79.5zM114.5 367h79.5v1h-79.5zM194 246h79v1h-79zM194 249h79v2h-79zM273 164h79v1h-79zM273 258h79v1h-79zM273 273h79v1h-79zM273 279h79v1h-79zM273 303h79v1h-79zM114.5 393h79.5v1h-79.5zM114.5 396h79.5v1h-79.5zM194 400h79v1h-79zM194 410h79v1h-79zM194 413h79v1h-79zM194 415h79v1h-79zM194 503h79v1h-79zM194 720h79v1h-79zM194 723h79v1h-79zM273 702h79v1h-79zM273 705h79v1h-79z"/>
<path fill="#f6f6fc" d="M114.5 333h79.5v1h-79.5zM114.5 343h79.5v1h-79.5zM114.5 345h79.5v1h-79.5zM194 252h79v1h-79zM273 160h79v2h-79zM273 182h79v1h-79zM273 284h79v1h-79zM273 289h79v1h-79zM273 291h79v1h-79zM273 294h79v1h-79zM114.5 406h79.5v1h-79.5zM114.5 518h79.5v1h-79.5zM114.5 526h79.5v1h-79.5zM194 419h79v2h-79zM273 504h79v1h-79zM273 508h79v1h-79zM273 523h79v1h-79zM352 467h80v1h-80zM114.5 728h79.5v1h-79.5zM194 607h79v1h-79zM194 719h79v1h-79zM273 608h79v1h-79zM352 618h80v1h-80zM352 632h80v1h-80zM352 647h80v1h-80z"/>
<path fill="#c0ccf6" d="M114.5 357h79.5v2h-79.5zM114.5 365h79.5v1h-79.5zM194 175h79v1h-79zM194 181h79v1h-79zM273 170h79v1h-79zM273 238h79v1h-79zM273 301h79v1h-79zM352 151h80v1h-80zM352 187h80v1h-80zM114.5 401h79.5v2h-79.5zM114.5 471h79.5v1h-79.5zM114.5 477h79.5v1h-79.5zM114.5 507h79.5v1h-79.5zM114.5 510h79.5v1h-79.5zM194 376h79v1h-79zM194 397h79v1h-79zM194 513h79v2h-79zM273 511h79v1h-79zM273 513h79v2h-79zM352 397h80v1h-80zM352 403h80v1h-80zM114.5 695h79.5v2h-79.5zM114.5 703h79.5v1h-79.5zM114.5 748h79.5v1h-79.5zM114.5 758h79.5v1h-79.5zM352 694h80v1h-80zM352 737h80v1h-80z"/>
<path fill="#ccd8f6" d="M114.5 361h79.5v1h-79.5zM114.5 366h79.5v1h-79.5zM114.5 370h79.5v1h-79.5zM273 270h79v1h-79zM273 281h79v1h-79zM273 283h79v1h-79zM114.5 398h79.5v2h-79.5zM114.5 403h79.5v1h-79.5zM114.5 478h79.5v1h-79.5zM114.5 505h79.5v1h-79.5zM194 499h79v1h-79zM194 510h79v1h-79zM273 444h79v1h-79zM352 380h80v1h-80zM352 395h80v1h-80zM352 401h80v2h-80zM114.5 757h79.5v1h-79.5zM273 713h79v1h-79zM352 663h80v1h-80z"/>
<path fill="#c6d2f6" d="M114.5 363h79.5v1h-79.5zM273 168h79v1h-79zM273 173h79v1h-79zM273 240h79v1h-79zM273 265h79v1h-79zM273 272h79v1h-79zM273 275h79v1h-79zM273 278h79v1h-79zM273 300h79v1h-79zM273 306h79v1h-79zM352 172h80v1h-80zM352 174h80v1h-80zM352 176h80v1h-80zM352 179h80v1h-80zM352 185h80v1h-80zM352 203h80v1h-80zM114.5 474h79.5v1h-79.5zM114.5 504h79.5v1h-79.5zM114.5 506h79.5v1h-79.5zM114.5 508h79.5v1h-79.5zM194 378h79v1h-79zM194 398h79v1h-79zM194 401h79v1h-79zM194 494h79v1h-79zM194 497h79v1h-79zM273 445h79v1h-79zM273 515h79v1h-79zM352 394h80v1h-80zM114.5 694h79.5v1h-79.5zM114.5 700h79.5v1h-79.5zM114.5 749h79.5v1h-79.5zM114.5 752h79.5v1h-79.5zM273 547h79v1h-79zM273 701h79v1h-79zM273 703h79v2h-79zM273 711h79v1h-79zM352 665h80v1h-80zM352 688h80v1h-80zM352 698h80v1h-80zM352 732h80v2h-80zM352 736h80v1h-80z"/>
<path fill="#deeafc" d="M114.5 369h79.5v1h-79.5zM273 260h79v1h-79z"/>
<path fill="#7e9cea" d="M194 158h79v1h-79zM194 161h79v1h-79zM352 270h80v1h-80zM352 273h80v1h-80zM114.5 709h79.5v1h-79.5z"/>
<path fill="#8aa2ea" d="M194 159h79v1h-79zM194 162h79v1h-79zM194 164h79v1h-79zM194 168h79v1h-79zM194 195h79v1h-79zM273 151h79v1h-79zM352 269h80v1h-80zM352 282h80v2h-80zM114.5 497h79.5v1h-79.5zM114.5 501h79.5v1h-79.5zM194 380h79v1h-79zM194 384h79v1h-79zM194 388h79v1h-79zM194 394h79v1h-79zM352 377h80v1h-80zM352 387h80v1h-80zM114.5 655h79.5v1h-79.5zM114.5 663h79.5v1h-79.5zM114.5 706h79.5v1h-79.5zM114.5 712h79.5v1h-79.5zM114.5 742h79.5v1h-79.5zM273 738h79v3h-79zM352 653h80v1h-80zM352 656h80v1h-80zM352 661h80v1h-80zM352 671h80v1h-80zM352 685h80v1h-80z"/>
<path fill="#849cea" d="M194 160h79v1h-79zM194 165h79v1h-79zM352 191h80v2h-80zM352 195h80v1h-80zM352 272h80v1h-80zM352 280h80v1h-80zM194 426h79v1h-79zM114.5 662h79.5v1h-79.5zM114.5 664h79.5v1h-79.5zM114.5 666h79.5v1h-79.5zM114.5 673h79.5v1h-79.5zM114.5 745h79.5v1h-79.5zM114.5 747h79.5v1h-79.5zM273 737h79v1h-79zM352 670h80v1h-80z"/>
<path fill="#90a8f0" d="M194 163h79v1h-79zM194 192h79v1h-79zM194 194h79v1h-79zM194 198h79v1h-79zM273 152h79v2h-79zM273 156h79v1h-79zM352 267h80v1h-80zM114.5 434h79.5v1h-79.5zM114.5 436h79.5v1h-79.5zM114.5 481h79.5v1h-79.5zM194 383h79v1h-79zM194 432h79v2h-79zM194 484h79v1h-79zM194 486h79v1h-79zM194 525h79v1h-79zM194 527h79v1h-79zM194 529h79v1h-79zM114.5 653h79.5v1h-79.5zM114.5 683h79.5v1h-79.5zM114.5 686h79.5v1h-79.5zM114.5 746h79.5v1h-79.5zM114.5 756h79.5v1h-79.5zM273 717h79v1h-79zM273 741h79v1h-79zM273 744h79v1h-79zM273 754h79v2h-79zM352 657h80v2h-80zM352 660h80v1h-80zM352 673h80v1h-80zM352 676h80v2h-80zM352 680h80v1h-80zM352 683h80v1h-80z"/>
<path fill="#9cb4f0" d="M194 166h79v1h-79zM194 171h79v1h-79zM194 177h79v1h-79zM194 180h79v1h-79zM194 184h79v1h-79zM194 193h79v1h-79zM194 196h79v1h-79zM273 239h79v1h-79zM352 181h80v1h-80zM352 196h80v1h-80zM352 199h80v1h-80zM114.5 433h79.5v1h-79.5zM114.5 484h79.5v1h-79.5zM114.5 495h79.5v1h-79.5zM194 489h79v1h-79zM352 384h80v1h-80zM114.5 652h79.5v1h-79.5zM114.5 654h79.5v1h-79.5zM114.5 659h79.5v1h-79.5zM114.5 674h79.5v1h-79.5zM273 748h79v1h-79z"/>
<path fill="#a2b4f0" d="M194 167h79v1h-79zM194 178h79v1h-79zM194 183h79v1h-79zM273 236h79v1h-79zM273 241h79v1h-79zM352 188h80v1h-80zM352 190h80v1h-80zM352 193h80v1h-80zM352 198h80v1h-80zM352 268h80v1h-80zM352 278h80v1h-80zM114.5 438h79.5v3h-79.5zM114.5 490h79.5v1h-79.5zM194 482h79v1h-79zM352 390h80v1h-80zM114.5 682h79.5v1h-79.5zM114.5 684h79.5v1h-79.5zM114.5 699h79.5v1h-79.5zM194 716h79v1h-79zM273 714h79v1h-79zM273 716h79v1h-79zM273 742h79v1h-79zM273 745h79v1h-79zM273 749h79v1h-79zM352 689h80v1h-80zM352 697h80v1h-80zM352 700h80v1h-80z"/>
<path fill="#7896ea" d="M194 169h79v2h-79zM194 201h79v1h-79zM273 157h79v1h-79zM352 281h80v1h-80zM114.5 500h79.5v1h-79.5zM194 425h79v1h-79zM194 431h79v1h-79zM352 376h80v1h-80zM352 407h80v1h-80zM352 409h80v1h-80zM114.5 633h79.5v1h-79.5zM114.5 665h79.5v1h-79.5zM114.5 667h79.5v1h-79.5zM114.5 713h79.5v1h-79.5zM114.5 743h79.5v1h-79.5zM114.5 753h79.5v1h-79.5zM273 743h79v1h-79zM273 746h79v1h-79zM273 750h79v2h-79zM273 758h79v2h-79z"/>
<path fill="#b4c0f0" d="M194 172h79v1h-79zM273 242h79v1h-79zM273 244h79v1h-79zM114.5 437h79.5v1h-79.5zM194 389h79v1h-79zM194 439h79v1h-79zM194 509h79v1h-79zM273 512h79v1h-79zM352 389h80v1h-80zM114.5 690h79.5v1h-79.5z"/>
<path fill="#d2d8f6" d="M194 173h79v1h-79zM273 169h79v1h-79zM273 268h79v1h-79zM273 277h79v1h-79zM352 153h80v1h-80zM114.5 395h79.5v1h-79.5zM194 500h79v1h-79zM194 512h79v1h-79zM352 382h80v1h-80zM273 699h79v1h-79zM352 626h80v1h-80zM352 633h80v1h-80zM352 635h80v1h-80z"/>
<path fill="#ccd2f6" d="M194 174h79v1h-79zM273 305h79v1h-79zM352 154h80v1h-80zM114.5 472h79.5v1h-79.5zM114.5 476h79.5v1h-79.5zM194 496h79v1h-79zM194 515h79v1h-79zM352 398h80v1h-80zM114.5 698h79.5v1h-79.5zM352 691h80v1h-80z"/>
<path fill="#aec0f0" d="M194 179h79v1h-79zM194 186h79v1h-79zM194 189h79v1h-79zM273 174h79v1h-79zM114.5 400h79.5v1h-79.5zM114.5 479h79.5v1h-79.5zM114.5 488h79.5v2h-79.5zM114.5 492h79.5v2h-79.5zM194 390h79v1h-79zM194 395h79v1h-79zM194 436h79v1h-79zM194 480h79v1h-79zM194 485h79v1h-79zM194 490h79v3h-79zM194 498h79v1h-79zM194 504h79v1h-79zM194 526h79v1h-79zM114.5 681h79.5v1h-79.5zM114.5 685h79.5v1h-79.5zM114.5 689h79.5v1h-79.5zM114.5 704h79.5v1h-79.5zM114.5 750h79.5v2h-79.5zM352 654h80v1h-80zM352 667h80v1h-80zM352 702h80v1h-80z"/>
<path fill="#a8baf0" d="M194 182h79v1h-79zM194 188h79v1h-79zM194 191h79v1h-79zM194 197h79v1h-79zM273 266h79v1h-79zM273 269h79v1h-79zM352 180h80v1h-80zM352 194h80v1h-80zM114.5 480h79.5v1h-79.5zM114.5 486h79.5v2h-79.5zM114.5 503h79.5v1h-79.5zM114.5 511h79.5v1h-79.5zM194 435h79v1h-79zM194 438h79v1h-79zM194 481h79v1h-79zM194 505h79v1h-79zM194 511h79v1h-79zM194 530h79v1h-79zM352 392h80v1h-80zM114.5 657h79.5v2h-79.5zM114.5 678h79.5v1h-79.5zM114.5 687h79.5v1h-79.5zM114.5 691h79.5v1h-79.5zM114.5 702h79.5v1h-79.5zM273 718h79v1h-79zM352 659h80v1h-80zM352 668h80v1h-80zM352 678h80v1h-80zM352 684h80v1h-80zM352 686h80v2h-80zM352 692h80v1h-80zM352 695h80v1h-80zM352 699h80v1h-80z"/>
<path fill="#bac6f6" d="M194 185h79v1h-79zM194 187h79v1h-79zM273 167h79v1h-79zM273 171h79v1h-79zM273 237h79v1h-79zM273 274h79v1h-79zM352 177h80v1h-80zM352 186h80v1h-80zM352 200h80v2h-80zM114.5 473h79.5v1h-79.5zM114.5 513h79.5v1h-79.5zM114.5 515h79.5v1h-79.5zM194 402h79v1h-79zM194 495h79v1h-79zM194 507h79v2h-79zM352 393h80v1h-80zM114.5 693h79.5v1h-79.5zM114.5 759h79.5v1h-79.5zM352 738h80v2h-80z"/>
<path fill="#b4c6f6" d="M194 190h79v1h-79zM273 172h79v1h-79zM273 282h79v1h-79zM352 152h80v1h-80zM352 182h80v3h-80zM352 189h80v1h-80zM114.5 404h79.5v1h-79.5zM114.5 431h79.5v1h-79.5zM114.5 435h79.5v1h-79.5zM114.5 482h79.5v1h-79.5zM114.5 491h79.5v1h-79.5zM114.5 509h79.5v1h-79.5zM194 377h79v1h-79zM194 483h79v1h-79zM273 509h79v1h-79zM114.5 697h79.5v1h-79.5zM352 651h80v2h-80zM352 669h80v1h-80zM352 690h80v1h-80zM352 696h80v1h-80z"/>
<path fill="#96aef0" d="M194 199h79v1h-79zM114.5 441h79.5v1h-79.5zM194 386h79v2h-79zM194 528h79v1h-79zM352 385h80v2h-80zM352 391h80v1h-80zM114.5 660h79.5v1h-79.5zM114.5 672h79.5v1h-79.5zM114.5 680h79.5v1h-79.5zM114.5 741h79.5v1h-79.5zM194 715h79v1h-79zM273 732h79v2h-79zM273 735h79v1h-79zM273 753h79v1h-79zM273 756h79v1h-79zM352 674h80v1h-80zM352 681h80v2h-80z"/>
<path fill="#6c8aea" d="M194 200h79v1h-79zM273 149h79v2h-79zM352 241h80v1h-80zM352 258h80v1h-80zM352 261h80v1h-80zM352 274h80v1h-80zM352 363h80v1h-80zM194 427h79v1h-79zM194 473h79v2h-79zM194 476h79v1h-79zM114.5 669h79.5v1h-79.5zM114.5 707h79.5v1h-79.5zM114.5 754h79.5v1h-79.5zM273 736h79v1h-79z"/>
<path fill="#7290ea" d="M194 202h79v1h-79zM273 159h79v1h-79zM352 236h80v1h-80zM352 246h80v1h-80zM352 264h80v2h-80zM352 275h80v2h-80zM352 359h80v1h-80zM114.5 502h79.5v1h-79.5zM194 477h79v1h-79zM114.5 550h79.5v1h-79.5zM114.5 635h79.5v1h-79.5zM114.5 668h79.5v1h-79.5zM114.5 708h79.5v1h-79.5z"/>
<path fill="#7890ea" d="M194 203h79v1h-79zM352 406h80v1h-80z"/>
<path fill="#f69c9c" d="M194 213h79v1h-79zM194 228h79v1h-79zM194 234h79v1h-79zM194 238h79v1h-79zM194 241h79v1h-79zM194 253h79v1h-79zM194 307h79v2h-79zM273 192h79v1h-79zM273 205h79v1h-79zM273 215h79v1h-79zM273 219h79v1h-79zM273 341h79v1h-79zM273 451h79v1h-79zM273 475h79v1h-79zM273 489h79v1h-79zM273 492h79v1h-79zM352 446h80v1h-80zM352 449h80v2h-80zM114.5 733h79.5v1h-79.5zM194 564h79v1h-79zM194 566h79v1h-79zM194 568h79v1h-79zM194 576h79v1h-79zM194 580h79v2h-79zM194 653h79v1h-79zM273 569h79v1h-79zM273 574h79v1h-79zM273 576h79v1h-79zM273 616h79v1h-79zM273 623h79v1h-79zM352 542h80v1h-80zM352 548h80v1h-80zM352 572h80v1h-80z"/>
<path fill="#f0f6fc" d="M194 271h79v1h-79zM273 162h79v1h-79zM273 180h79v1h-79zM273 190h79v1h-79zM273 263h79v1h-79zM273 331h79v1h-79zM114.5 390h79.5v1h-79.5zM114.5 392h79.5v1h-79.5zM114.5 394h79.5v1h-79.5zM114.5 405h79.5v1h-79.5zM114.5 521h79.5v1h-79.5zM194 414h79v1h-79zM194 721h79v1h-79zM352 621h80v1h-80z"/>
<path fill="#f02a2a" d="M194 287h79v1h-79zM194 302h79v1h-79zM273 379h79v1h-79zM273 411h79v1h-79zM273 414h79v1h-79zM273 417h79v1h-79zM194 545h79v1h-79zM194 683h79v1h-79zM194 745h79v1h-79zM273 664h79v1h-79zM273 666h79v2h-79z"/>
<path fill="#f04848" d="M194 295h79v1h-79zM194 301h79v1h-79zM194 304h79v1h-79zM194 333h79v2h-79zM273 314h79v1h-79zM352 479h80v1h-80zM352 498h80v1h-80zM194 546h79v1h-79zM194 550h79v1h-79zM194 612h79v1h-79zM194 617h79v1h-79zM194 619h79v1h-79zM194 662h79v1h-79zM194 667h79v1h-79zM273 640h79v1h-79zM352 590h80v1h-80z"/>
<path fill="#668aea" d="M273 154h79v1h-79zM352 252h80v1h-80zM352 357h80v1h-80zM352 361h80v1h-80zM194 379h79v1h-79zM194 381h79v1h-79zM194 430h79v1h-79zM194 478h79v2h-79zM352 412h80v1h-80zM114.5 627h79.5v1h-79.5zM114.5 630h79.5v1h-79.5zM114.5 755h79.5v1h-79.5z"/>
<path fill="#6684e4" d="M273 155h79v1h-79zM352 240h80v1h-80zM352 277h80v1h-80zM352 367h80v2h-80zM194 429h79v1h-79zM194 471h79v1h-79zM194 521h79v1h-79zM352 404h80v1h-80zM114.5 542h79.5v1h-79.5zM114.5 625h79.5v1h-79.5zM114.5 710h79.5v1h-79.5z"/>
<path fill="#84a2ea" d="M273 158h79v1h-79zM352 197h80v1h-80zM352 266h80v1h-80zM352 378h80v1h-80zM114.5 651h79.5v1h-79.5zM114.5 679h79.5v1h-79.5zM114.5 688h79.5v1h-79.5zM114.5 744h79.5v1h-79.5z"/>
<path fill="#a2baf0" d="M273 243h79v1h-79zM114.5 483h79.5v1h-79.5zM194 393h79v1h-79zM194 440h79v1h-79zM194 487h79v1h-79zM352 693h80v1h-80z"/>
<path fill="#c0d2f6" d="M273 271h79v1h-79zM273 510h79v1h-79zM114.5 692h79.5v1h-79.5z"/>
<path fill="#d8e4fc" d="M273 276h79v1h-79zM273 299h79v1h-79zM352 155h80v2h-80zM194 399h79v1h-79zM194 418h79v1h-79zM352 396h80v1h-80zM352 399h80v1h-80zM273 710h79v1h-79zM273 712h79v1h-79zM352 624h80v1h-80z"/>
<path fill="#eaeafc" d="M273 288h79v1h-79zM352 162h80v1h-80zM114.5 425h79.5v1h-79.5zM194 406h79v1h-79zM273 690h79v1h-79zM273 695h79v1h-79zM273 697h79v1h-79z"/>
<path fill="#f0f0fc" d="M273 292h79v1h-79zM114.5 391h79.5v1h-79.5zM114.5 430h79.5v1h-79.5zM194 408h79v1h-79zM194 501h79v1h-79zM273 545h79v1h-79zM273 688h79v1h-79zM273 706h79v1h-79zM352 617h80v1h-80zM352 630h80v1h-80zM352 646h80v1h-80zM352 649h80v1h-80z"/>
<path fill="#486ce4" d="M352 204h80v1h-80zM352 207h80v1h-80zM352 213h80v1h-80zM352 215h80v1h-80zM352 217h80v5h-80zM352 225h80v1h-80zM352 230h80v1h-80zM352 247h80v1h-80zM352 309h80v1h-80zM352 311h80v1h-80zM352 313h80v1h-80zM352 315h80v1h-80zM352 317h80v1h-80zM352 322h80v1h-80zM352 334h80v2h-80zM352 344h80v2h-80zM194 443h79v1h-79zM194 448h79v1h-79zM194 456h79v1h-79zM194 464h79v2h-79zM194 470h79v1h-79zM114.5 538h79.5v1h-79.5zM114.5 541h79.5v1h-79.5zM114.5 555h79.5v1h-79.5zM114.5 557h79.5v1h-79.5zM114.5 560h79.5v1h-79.5zM114.5 567h79.5v3h-79.5zM114.5 571h79.5v1h-79.5zM114.5 581h79.5v1h-79.5zM114.5 586h79.5v1h-79.5zM114.5 590h79.5v1h-79.5zM114.5 597h79.5v1h-79.5zM114.5 602h79.5v1h-79.5zM114.5 637h79.5v1h-79.5zM114.5 639h79.5v1h-79.5zM273 724h79v1h-79zM273 730h79v1h-79z"/>
<path fill="#426ce4" d="M352 205h80v2h-80zM352 208h80v5h-80zM352 214h80v1h-80zM352 216h80v1h-80zM352 222h80v3h-80zM352 226h80v4h-80zM352 231h80v5h-80zM352 307h80v2h-80zM352 310h80v1h-80zM352 312h80v1h-80zM352 314h80v1h-80zM352 316h80v1h-80zM352 318h80v4h-80zM352 323h80v11h-80zM352 336h80v8h-80zM352 346h80v10h-80zM194 442h79v1h-79zM194 444h79v4h-79zM194 449h79v7h-79zM194 457h79v7h-79zM194 466h79v4h-79zM114.5 537h79.5v1h-79.5zM114.5 539h79.5v1h-79.5zM114.5 551h79.5v4h-79.5zM114.5 556h79.5v1h-79.5zM114.5 558h79.5v2h-79.5zM114.5 561h79.5v6h-79.5zM114.5 570h79.5v1h-79.5zM114.5 572h79.5v7h-79.5zM114.5 580h79.5v1h-79.5zM114.5 582h79.5v2h-79.5zM114.5 585h79.5v1h-79.5zM114.5 595h79.5v1h-79.5zM114.5 599h79.5v1h-79.5zM114.5 601h79.5v1h-79.5zM114.5 603h79.5v1h-79.5zM114.5 636h79.5v1h-79.5zM114.5 638h79.5v1h-79.5zM114.5 640h79.5v5h-79.5zM273 719h79v5h-79zM273 725h79v5h-79z"/>
<path fill="#4872e4" d="M352 237h80v1h-80zM352 243h80v1h-80zM352 364h80v1h-80zM194 519h79v1h-79zM114.5 536h79.5v1h-79.5zM114.5 548h79.5v2h-79.5zM114.5 579h79.5v1h-79.5zM114.5 589h79.5v1h-79.5zM114.5 593h79.5v1h-79.5zM114.5 598h79.5v1h-79.5zM114.5 614h79.5v1h-79.5zM114.5 622h79.5v2h-79.5z"/>
<path fill="#5478e4" d="M352 238h80v1h-80zM352 251h80v1h-80zM352 256h80v1h-80zM352 259h80v1h-80zM352 263h80v1h-80zM352 286h80v1h-80zM352 289h80v1h-80zM352 292h80v2h-80zM352 296h80v1h-80zM352 358h80v1h-80zM352 362h80v1h-80zM114.5 414h79.5v2h-79.5zM114.5 419h79.5v1h-79.5zM194 516h79v1h-79zM194 518h79v1h-79zM194 520h79v1h-79zM194 523h79v1h-79zM352 410h80v2h-80zM114.5 543h79.5v2h-79.5zM114.5 547h79.5v1h-79.5zM114.5 606h79.5v2h-79.5zM114.5 609h79.5v1h-79.5zM114.5 612h79.5v1h-79.5zM114.5 616h79.5v1h-79.5zM114.5 618h79.5v1h-79.5zM114.5 620h79.5v1h-79.5zM114.5 645h79.5v1h-79.5zM114.5 647h79.5v1h-79.5zM114.5 649h79.5v1h-79.5z"/>
<path fill="#4e72e4" d="M352 239h80v1h-80zM352 242h80v1h-80zM352 248h80v2h-80zM352 255h80v1h-80zM352 257h80v1h-80zM352 287h80v2h-80zM352 297h80v1h-80zM352 299h80v1h-80zM352 303h80v1h-80zM352 306h80v1h-80zM352 356h80v1h-80zM352 365h80v2h-80zM352 369h80v1h-80zM114.5 416h79.5v1h-79.5zM114.5 422h79.5v1h-79.5zM194 517h79v1h-79zM114.5 540h79.5v1h-79.5zM114.5 584h79.5v1h-79.5zM114.5 587h79.5v2h-79.5zM114.5 591h79.5v2h-79.5zM114.5 594h79.5v1h-79.5zM114.5 596h79.5v1h-79.5zM114.5 600h79.5v1h-79.5zM114.5 604h79.5v2h-79.5zM114.5 608h79.5v1h-79.5zM114.5 610h79.5v2h-79.5zM114.5 613h79.5v1h-79.5zM114.5 615h79.5v1h-79.5zM114.5 617h79.5v1h-79.5zM114.5 621h79.5v1h-79.5zM114.5 648h79.5v1h-79.5z"/>
<path fill="#5a7ee4" d="M352 244h80v1h-80zM352 262h80v1h-80zM352 271h80v1h-80zM352 284h80v1h-80zM352 291h80v1h-80zM352 294h80v1h-80zM352 298h80v1h-80zM352 300h80v3h-80zM352 370h80v1h-80zM114.5 418h79.5v1h-79.5zM114.5 421h79.5v1h-79.5zM114.5 423h79.5v1h-79.5zM194 472h79v1h-79zM352 405h80v1h-80zM114.5 545h79.5v1h-79.5zM114.5 632h79.5v1h-79.5zM114.5 646h79.5v1h-79.5zM114.5 650h79.5v1h-79.5z"/>
<path fill="#6084e4" d="M352 245h80v1h-80zM352 253h80v1h-80zM352 260h80v1h-80zM352 360h80v1h-80zM194 424h79v1h-79zM194 475h79v1h-79zM194 524h79v1h-79zM352 408h80v1h-80zM114.5 624h79.5v1h-79.5zM114.5 628h79.5v1h-79.5z"/>
<path fill="#4e78e4" d="M352 250h80v1h-80zM352 254h80v1h-80zM352 290h80v1h-80zM352 295h80v1h-80zM352 304h80v1h-80zM114.5 619h79.5v1h-79.5zM114.5 626h79.5v1h-79.5z"/>
<path fill="#96a8f0" d="M352 279h80v1h-80zM194 385h79v1h-79zM194 434h79v1h-79zM194 441h79v1h-79zM194 488h79v1h-79zM194 493h79v1h-79zM114.5 675h79.5v1h-79.5zM194 717h79v1h-79zM273 734h79v1h-79zM352 662h80v1h-80z"/>
<path fill="#5a78e4" d="M352 285h80v1h-80zM352 305h80v1h-80zM114.5 417h79.5v1h-79.5zM114.5 420h79.5v1h-79.5zM114.5 546h79.5v1h-79.5z"/>
<path fill="#9caef0" d="M114.5 432h79.5v1h-79.5zM114.5 485h79.5v1h-79.5zM114.5 494h79.5v1h-79.5zM194 391h79v2h-79zM194 437h79v1h-79zM352 388h80v1h-80zM114.5 656h79.5v1h-79.5zM114.5 661h79.5v1h-79.5zM114.5 670h79.5v2h-79.5zM114.5 676h79.5v2h-79.5zM194 714h79v1h-79zM273 715h79v1h-79zM273 731h79v1h-79zM273 752h79v1h-79zM273 757h79v1h-79zM352 655h80v1h-80zM352 672h80v1h-80zM352 675h80v1h-80zM352 679h80v1h-80z"/>
<path fill="#baccf6" d="M114.5 475h79.5v1h-79.5zM114.5 514h79.5v1h-79.5zM194 403h79v1h-79zM194 506h79v1h-79zM352 379h80v1h-80zM352 381h80v1h-80zM114.5 701h79.5v1h-79.5zM352 664h80v1h-80zM352 666h80v1h-80zM352 701h80v1h-80zM352 734h80v1h-80z"/>
<path fill="#7e96ea" d="M114.5 496h79.5v1h-79.5zM114.5 498h79.5v2h-79.5zM194 382h79v1h-79zM114.5 631h79.5v1h-79.5zM114.5 705h79.5v1h-79.5zM114.5 711h79.5v1h-79.5zM273 747h79v1h-79z"/>
<path fill="#aebaf0" d="M114.5 512h79.5v1h-79.5z"/>
<path fill="#607ee4" d="M194 428h79v1h-79zM194 522h79v1h-79zM352 413h80v1h-80zM114.5 629h79.5v1h-79.5zM114.5 634h79.5v1h-79.5z"/>
<path d="M114.5 149.5H108V154.5H114.5M114.5 152.2H111V157.2H114.5M114.5 154.9H108V157.9H114.5M114.5 157.0H111V160.0H114.5M114.5 159.4H109V162.4H114.5M114.5 161.9H109V163.9H114.5M114.5 163.6H110V165.6H114.5M114.5 165.5H108V168.5H114.5M114.5 168.1H110V170.1H114.5M114.5 169.4H109V172.4H114.5M114.5 172.2H110V174.2H114.5M114.5 174.0H112V176.0H114.5M114.5 175.8H108V178.8H114.5M114.5 178.8H109V180.8H114.5M114.5 180.4H109V182.4H114.5M114.5 181.6H111V184.6H114.5M114.5 183.8H111V188.8H114.5M114.5 186.3H109V189.3H114.5M114.5 189.0H111V191.0H114.5M114.5 190.3H112V192.3H114.5M114.5 191.6H110V195.6H114.5M114.5 194.2H108V197.2H114.5M114.5 195.8H111V197.8H114.5M114.5 197.0H112V200.0H114.5M114.5 198.6H110V203.6H114.5M114.5 201.2H110V206.2H114.5M114.5 204.3H110V206.3H114.5M114.5 205.7H111V208.7H114.5M114.5 207.8H112V210.8H114.5M114.5 210.7H110V213.7H114.5M114.5 213.5H110V218.5H114.5M114.5 217.1H111V220.1H114.5M114.5 219.7H112V221.7H114.5M114.5 221.2H109V224.2H114.5M114.5 223.3H110V228.3H114.5M114.5 227.8H111V231.8H114.5M114.5 231.0H112V234.0H114.5M114.5 233.3H111V235.3H114.5M114.5 235.0H110V237.0H114.5M114.5 236.2H111V240.2H114.5M114.5 239.8H109V243.8H114.5M114.5 243.6H108V246.6H114.5M114.5 246.3H109V248.3H114.5M114.5 247.4H110V249.4H114.5M114.5 249.4H111V252.4H114.5M114.5 252.3H110V254.3H114.5M114.5 253.4H110V256.4H114.5M114.5 255.9H108V258.9H114.5M114.5 257.6H110V260.6H114.5M114.5 260.0H111V265.0H114.5M114.5 263.5H111V268.5H114.5M114.5 267.7H110V271.7H114.5M114.5 269.8H110V274.8H114.5M114.5 272.6H110V274.6H114.5M114.5 274.1H110V276.1H114.5M114.5 275.1H109V278.1H114.5M114.5 277.3H111V279.3H114.5M114.5 279.3H110V284.3H114.5M114.5 284.3H109V287.3H114.5M114.5 285.9H112V288.9H114.5M114.5 287.8H110V292.8H114.5M114.5 291.7H110V296.7H114.5M114.5 296.4H111V298.4H114.5M114.5 297.4H109V299.4H114.5M114.5 298.7H111V300.7H114.5M114.5 300.4H110V302.4H114.5M114.5 301.8H110V303.8H114.5M114.5 302.8H110V305.8H114.5M114.5 305.5H109V308.5H114.5M114.5 307.7H110V311.7H114.5M114.5 311.0H110V316.0H114.5M114.5 315.9H109V318.9H114.5M114.5 317.6H111V319.6H114.5M114.5 318.8H110V322.8H114.5M114.5 322.1H110V327.1H114.5M114.5 325.7H111V330.7H114.5M114.5 328.7H110V330.7H114.5M114.5 330.3H111V335.3H114.5M114.5 334.2H112V337.2H114.5M114.5 337.0H108V340.0H114.5M114.5 339.1H110V341.1H114.5M114.5 340.5H111V343.5H114.5M114.5 343.5H109V345.5H114.5M114.5 345.4H110V347.4H114.5M114.5 347.0H108V349.0H114.5M114.5 348.7H110V350.7H114.5M114.5 350.6H108V355.6H114.5M114.5 354.0H110V357.0H114.5M114.5 356.2H109V359.2H114.5M114.5 358.7H110V361.7H114.5M114.5 360.5H111V362.5H114.5M114.5 362.2H111V366.2H114.5M114.5 365.8H112V369.8H114.5M114.5 368.4H111V371.0H114.5M111.2 150.0H108.2V163.9H111.2M108.7 165.5H105.7V185.8H108.7M109.9 184.7H106.9V203.6H109.9M109.7 201.2H106.7V216.8H109.7M109.2 217.9H106.2V239.7H109.2M108.2 245.8H105.2V257.4H108.2M108.5 255.5H105.5V266.3H108.5M110.1 267.9H107.1V287.2H110.1M109.3 285.9H106.3V297.7H109.3M108.7 295.5H105.7V307.5H108.7M107.6 306.0H104.6V316.9H107.6M111.1 319.9H108.1V329.9H111.1M108.0 328.4H105.0V335.8H108.0M109.6 337.1H106.6V347.3H109.6M107.9 348.8H104.9V355.3H107.9M108.5 356.7H105.5V366.1H108.5M114.5 376.5H108V379.5H114.5M114.5 379.3H108V381.3H114.5M114.5 380.8H112V383.8H114.5M114.5 383.0H111V387.0H114.5M114.5 386.2H111V389.2H114.5M114.5 388.5H110V392.5H114.5M114.5 391.1H111V396.1H114.5M114.5 395.6H111V398.6H114.5M114.5 398.3H109V402.3H114.5M114.5 401.9H111V404.9H114.5M114.5 404.3H111V407.3H114.5M114.5 406.9H108V409.9H114.5M114.5 409.7H111V412.7H114.5M114.5 411.3H109V414.3H114.5M114.5 413.8H109V418.8H114.5M114.5 416.5H110V421.5H114.5M114.5 421.3H112V423.3H114.5M114.5 422.6H111V426.6H114.5M114.5 426.2H110V429.2H114.5M114.5 428.5H112V431.5H114.5M114.5 431.2H112V434.2H114.5M114.5 434.0H111V438.0H114.5M114.5 437.1H109V439.1H114.5M114.5 438.3H111V443.3H114.5M114.5 440.9H111V443.9H114.5M114.5 443.3H111V446.3H114.5M114.5 445.3H111V447.3H114.5M114.5 446.6H112V448.6H114.5M114.5 448.0H110V451.0H114.5M114.5 449.7H112V451.7H114.5M114.5 450.9H110V452.9H114.5M114.5 452.6H111V454.6H114.5M114.5 454.1H108V458.1H114.5M114.5 457.4H109V462.4H114.5M114.5 461.2H108V464.2H114.5M114.5 463.3H111V467.3H114.5M114.5 466.2H110V470.2H114.5M114.5 469.3H111V471.3H114.5M114.5 470.3H110V473.3H114.5M114.5 471.8H110V473.8H114.5M114.5 473.3H111V477.3H114.5M114.5 476.0H109V480.0H114.5M114.5 478.9H109V481.9H114.5M114.5 481.9H110V483.9H114.5M114.5 483.4H110V485.4H114.5M114.5 485.4H112V487.4H114.5M114.5 486.5H111V490.5H114.5M114.5 489.6H110V493.6H114.5M114.5 492.2H110V495.2H114.5M114.5 494.2H110V496.2H114.5M114.5 496.2H108V498.2H114.5M114.5 497.3H109V500.3H114.5M114.5 499.8H110V501.8H114.5M114.5 501.4H110V504.4H114.5M114.5 504.0H112V508.0H114.5M114.5 507.2H112V509.2H114.5M114.5 508.6H109V510.6H114.5M114.5 510.1H109V513.1H114.5M114.5 512.5H110V515.5H114.5M114.5 515.3H112V519.3H114.5M114.5 517.4H109V522.4H114.5M114.5 522.2H112V526.2H114.5M114.5 524.7H111V527.7H114.5M114.5 526.4H110V530.4H114.5M114.5 528.6H111V531.0H114.5M108.4 377.0H105.4V396.0H108.4M111.8 399.4H108.8V406.4H111.8M111.0 407.7H108.0V416.0H111.0M109.6 414.5H106.6V423.1H109.6M110.7 425.5H107.7V436.6H110.7M108.8 439.0H105.8V447.9H108.8M111.8 448.9H108.8V469.9H111.8M107.9 471.6H104.9V483.7H107.9M111.1 482.8H108.1V500.3H111.1M110.8 501.1H107.8V522.6H110.8M108.6 521.3H105.6V530.0H108.6M114.5 536.5H109V538.5H114.5M114.5 537.7H108V540.7H114.5M114.5 540.2H109V542.2H114.5M114.5 541.9H109V546.9H114.5M114.5 545.4H111V550.4H114.5M114.5 549.1H110V551.1H114.5M114.5 550.6H112V553.6H114.5M114.5 552.9H112V554.9H114.5M114.5 553.9H111V557.9H114.5M114.5 557.0H111V560.0H114.5M114.5 559.9H110V564.9H114.5M114.5 562.9H112V566.9H114.5M114.5 565.9H110V570.9H114.5M114.5 570.0H111V573.0H114.5M114.5 572.2H112V574.2H114.5M114.5 573.7H111V575.7H114.5M114.5 574.9H111V577.9H114.5M114.5 577.7H110V581.7H114.5M114.5 581.2H109V584.2H114.5M114.5 584.0H108V587.0H114.5M114.5 585.6H111V588.6H114.5M114.5 588.0H111V590.0H114.5M114.5 589.9H111V592.9H114.5M114.5 591.5H111V593.5H114.5M114.5 593.4H108V597.4H114.5M114.5 595.4H111V597.4H114.5M114.5 596.7H110V598.7H114.5M114.5 597.8H112V599.8H114.5M114.5 599.5H112V601.5H114.5M114.5 600.6H108V604.6H114.5M114.5 603.4H110V605.4H114.5M114.5 605.0H112V609.0H114.5M114.5 607.7H111V610.7H114.5M114.5 609.3H112V613.3H114.5M114.5 611.7H112V614.7H114.5M114.5 613.8H108V617.8H114.5M114.5 616.6H111V620.6H114.5M114.5 620.5H111V622.5H114.5M114.5 621.9H111V626.9H114.5M114.5 626.7H109V628.7H114.5M114.5 627.7H111V630.7H114.5M114.5 629.7H109V631.7H114.5M114.5 631.4H111V636.4H114.5M114.5 635.5H108V638.5H114.5M114.5 637.3H112V641.3H114.5M114.5 640.8H111V645.8H114.5M114.5 644.8H110V649.8H114.5M114.5 649.5H111V653.5H114.5M114.5 653.5H109V656.5H114.5M114.5 655.4H111V659.4H114.5M114.5 658.0H110V661.0H114.5M114.5 659.6H112V664.6H114.5M114.5 663.2H111V667.2H114.5M114.5 665.6H110V669.6H114.5M114.5 668.0H109V671.0H114.5M114.5 670.8H111V672.8H114.5M114.5 672.0H109V676.0H114.5M114.5 675.2H108V679.2H114.5M114.5 677.7H110V680.7H114.5M114.5 680.1H112V685.1H114.5M114.5 682.9H112V687.9H114.5M114.5 687.0H111V692.0H114.5M114.5 690.6H109V694.6H114.5M114.5 692.7H109V695.7H114.5M114.5 695.6H111V698.6H114.5M114.5 698.2H109V701.2H114.5M114.5 700.3H110V703.3H114.5M114.5 702.4H109V705.4H114.5M114.5 705.0H110V708.0H114.5M114.5 707.5H108V709.5H114.5M114.5 709.2H111V711.2H114.5M114.5 710.8H109V712.8H114.5M114.5 711.8H108V714.8H114.5M114.5 713.6H111V718.6H114.5M114.5 717.5H111V722.5H114.5M114.5 722.5H111V724.5H114.5M114.5 723.6H111V725.6H114.5M114.5 725.0H109V728.0H114.5M114.5 726.9H108V729.9H114.5M114.5 729.7H112V731.7H114.5M114.5 731.3H110V733.3H114.5M114.5 732.5H110V734.5H114.5M114.5 733.7H111V735.7H114.5M114.5 735.2H112V737.2H114.5M114.5 736.8H112V739.8H114.5M114.5 738.9H109V743.9H114.5M114.5 742.3H110V745.3H114.5M114.5 744.8H108V746.8H114.5M114.5 745.8H111V749.8H114.5M114.5 748.4H109V751.4H114.5M114.5 750.5H112V752.5H114.5M114.5 752.0H110V755.0H114.5M114.5 754.4H111V758.4H114.5M114.5 757.4H110V759.4H114.5M114.5 758.5H111V760.0H114.5M108.0 537.0H105.0V558.8H108.0M109.5 557.6H106.5V570.9H109.5M107.4 573.6H104.4V585.9H107.4M109.6 586.5H106.6V598.8H109.6M111.8 598.6H108.8V620.6H111.8M108.6 620.5H105.6V627.8H108.6M109.9 626.9H106.9V635.3H109.9M109.8 636.1H106.8V654.4H109.8M107.6 653.4H104.6V665.3H107.6M107.6 664.2H104.6V670.4H107.6M111.3 670.6H108.3V678.7H111.3M111.7 680.7H108.7V698.7H111.7M109.8 701.2H106.8V710.6H109.8M107.3 711.6H104.3V718.4H107.3M108.1 718.2H105.1V726.5H108.1M108.7 725.3H105.7V731.9H108.7M108.0 732.1H105.0V752.5H108.0M109.0 750.5H106.0V757.2H109.0" fill="none" stroke="#111" stroke-width="0.75"/>
<path d="M100.3 163.0H93.5V270.2H100.3M107.0 151.3H100.3V174.7H107.0M107.0 230.5H100.3V309.8H107.0M109.7 160.3H104.3V187.3H109.7M109.7 213.4H104.3V247.6H109.7M108.8 287.3H103.4V333.2H108.8M111.5 177.4H107.0V197.2H111.5M111.5 239.5H107.0V260.3H111.5M111.5 314.3H107.0V348.5H111.5M98.5 406.0H93.5V475.3H98.5M103.4 389.4H98.5V423.7H103.4M102.5 453.2H97.5V498.2H102.5M107.9 379.0H103.4V398.8H107.9M107.0 418.3H102.5V429.4H107.0M108.8 445.6H104.3V460.0H108.8M107.0 481.7H102.5V514.1H107.0M108.8 503.3H104.3V524.9H108.8M98.9 638.0H91.7V730.8H98.9M104.3 595.7H98.9V664.2H104.3M104.9 664.2H99.4V695.3H104.9M101.6 719.1H95.3V742.5H101.6M103.4 732.6H97.6V751.5H103.4M109.7 540.8H105.2V562.4H109.7M108.8 558.8H104.3V632.6H108.8M111.0 562.4H107.0V590.3H111.0M110.6 622.7H106.1V642.6H110.6M108.8 686.7H104.3V705.6H108.8M107.9 747.9H103.4V757.3H107.9" fill="none" stroke="#444" stroke-width="0.6"/>
<path d="M93.5 216.5H88V561" fill="none" stroke="#999" stroke-width="1.3"/>
<path d="M88 561V580M90.6 580V684" fill="none" stroke="#aaa" stroke-width="0.9"/>
<text transform="translate(57.0 450.0) rotate(-90)" font-size="34.3" text-anchor="middle" font-weight="bold">loops among enhancers and promoters</text>
<rect x="282" y="772" width="150" height="17" fill="url(#gbwr)"/>
<text x="282.3" y="818.0" font-size="25.8">−1.5</text>
<text x="432.0" y="818.0" font-size="25.8" text-anchor="end">1.5</text>
<text x="447.0" y="44.4" font-size="62.5" font-weight="bold">b</text>
<rect x="503.50" y="67.00" width="233.00" height="40.50" fill="#000"/>
<text x="620.0" y="98.8" font-size="25.8" text-anchor="middle" font-weight="bold" fill="#fff">H3K4me3</text>
<rect x="503.50" y="111.00" width="58.50" height="34.00" fill="#7fd0f7"/>
<rect x="562.00" y="111.00" width="58.00" height="34.00" fill="#7b1fff"/>
<rect x="620.00" y="111.00" width="58.00" height="34.00" fill="#ff3cf7"/>
<rect x="678.00" y="111.00" width="58.50" height="34.00" fill="#ff1430"/>
<rect x="740.00" y="67.00" width="233.00" height="40.50" fill="#000"/>
<text x="856.5" y="98.8" font-size="25.8" text-anchor="middle" font-weight="bold" fill="#fff">H3K27ac</text>
<rect x="740.00" y="111.00" width="58.00" height="34.00" fill="#7fd0f7"/>
<rect x="798.00" y="111.00" width="59.00" height="34.00" fill="#7b1fff"/>
<rect x="857.00" y="111.00" width="58.00" height="34.00" fill="#ff3cf7"/>
<rect x="915.00" y="111.00" width="58.00" height="34.00" fill="#ff1430"/>
<rect x="977.00" y="67.00" width="233.00" height="40.50" fill="#000"/>
<text x="1093.5" y="98.8" font-size="25.8" text-anchor="middle" font-weight="bold" fill="#fff">gene expression</text>
<rect x="977.00" y="111.00" width="58.00" height="34.00" fill="#7fd0f7"/>
<rect x="1035.00" y="111.00" width="58.00" height="34.00" fill="#7b1fff"/>
<rect x="1093.00" y="111.00" width="59.00" height="34.00" fill="#ff3cf7"/>
<rect x="1152.00" y="111.00" width="58.00" height="34.00" fill="#ff1430"/>
<rect x="445.00" y="149.00" width="46.00" height="221.50" fill="#595959"/>
<text transform="translate(457.0 260.0) rotate(90)" font-size="25.8" text-anchor="middle" font-weight="bold" fill="#fff">C1 (n=367)</text>
<rect x="445.00" y="376.00" width="46.00" height="155.00" fill="#595959"/>
<text transform="translate(457.0 453.5) rotate(90)" font-size="25.8" text-anchor="middle" font-weight="bold" fill="#fff">C2 (n=263)</text>
<rect x="445.00" y="536.00" width="46.00" height="224.00" fill="#595959"/>
<text transform="translate(457.0 648.0) rotate(90)" font-size="25.8" text-anchor="middle" font-weight="bold" fill="#fff">C3 (n=370)</text>
<path fill="#783068" d="M503.5 149h58.5v1h-58.5zM503.5 191h58.5v1h-58.5zM503.5 289h58.5v1h-58.5zM562 181h58v1h-58zM562 219h58v1h-58zM562 330h58v1h-58zM620 160h58v1h-58zM620 329h58v2h-58zM678 237h58.5v1h-58.5zM620 383h58v1h-58zM620 417h58v1h-58zM620 503h58v1h-58zM678 504h58.5v1h-58.5zM503.5 698h58.5v1h-58.5zM562 689h58v1h-58zM562 727h58v1h-58zM562 747h58v1h-58zM562 756h58v1h-58zM620 539h58v1h-58zM678 616h58.5v1h-58.5zM678 712h58.5v1h-58.5z"/>
<path fill="#180888" d="M503.5 150h58.5v1h-58.5zM503.5 157h58.5v1h-58.5zM503.5 165h58.5v1h-58.5zM503.5 168h58.5v1h-58.5zM503.5 182h58.5v1h-58.5zM503.5 189h58.5v2h-58.5zM503.5 209h58.5v1h-58.5zM503.5 211h58.5v1h-58.5zM503.5 240h58.5v1h-58.5zM503.5 246h58.5v1h-58.5zM503.5 265h58.5v1h-58.5zM503.5 273h58.5v1h-58.5zM503.5 284h58.5v1h-58.5zM503.5 288h58.5v1h-58.5zM503.5 295h58.5v1h-58.5zM503.5 303h58.5v1h-58.5zM503.5 315h58.5v1h-58.5zM503.5 329h58.5v1h-58.5zM503.5 331h58.5v1h-58.5zM503.5 333h58.5v1h-58.5zM503.5 352h58.5v1h-58.5zM503.5 357h58.5v1h-58.5zM503.5 361h58.5v1h-58.5zM562 150h58v1h-58zM562 157h58v1h-58zM562 165h58v1h-58zM562 168h58v1h-58zM562 172h58v1h-58zM562 180h58v1h-58zM562 195h58v1h-58zM562 217h58v1h-58zM562 236h58v1h-58zM562 238h58v1h-58zM562 240h58v1h-58zM562 256h58v1h-58zM562 273h58v1h-58zM562 286h58v1h-58zM562 305h58v1h-58zM562 352h58v2h-58zM562 357h58v1h-58zM620 150h58v1h-58zM620 167h58v2h-58zM620 194h58v1h-58zM620 211h58v1h-58zM620 223h58v1h-58zM620 231h58v1h-58zM620 246h58v1h-58zM620 251h58v1h-58zM620 265h58v1h-58zM620 305h58v1h-58zM620 333h58v1h-58zM620 357h58v1h-58zM620 363h58v1h-58zM678 154h58.5v1h-58.5zM678 165h58.5v1h-58.5zM678 182h58.5v1h-58.5zM678 188h58.5v3h-58.5zM678 194h58.5v1h-58.5zM678 200h58.5v1h-58.5zM678 232h58.5v1h-58.5zM678 238h58.5v1h-58.5zM678 247h58.5v1h-58.5zM678 251h58.5v1h-58.5zM678 254h58.5v1h-58.5zM678 265h58.5v2h-58.5zM678 268h58.5v1h-58.5zM678 273h58.5v2h-58.5zM678 276h58.5v1h-58.5zM678 286h58.5v1h-58.5zM678 295h58.5v1h-58.5zM678 305h58.5v1h-58.5zM678 328h58.5v1h-58.5zM678 331h58.5v1h-58.5zM678 333h58.5v1h-58.5zM678 346h58.5v1h-58.5zM678 363h58.5v1h-58.5zM503.5 377h58.5v1h-58.5zM503.5 380h58.5v1h-58.5zM503.5 391h58.5v1h-58.5zM503.5 397h58.5v1h-58.5zM503.5 445h58.5v1h-58.5zM503.5 457h58.5v1h-58.5zM503.5 464h58.5v1h-58.5zM503.5 477h58.5v2h-58.5zM503.5 503h58.5v1h-58.5zM503.5 505h58.5v1h-58.5zM503.5 512h58.5v1h-58.5zM503.5 517h58.5v1h-58.5zM503.5 523h58.5v1h-58.5zM562 377h58v1h-58zM562 449h58v1h-58zM562 464h58v1h-58zM562 468h58v1h-58zM562 470h58v1h-58zM562 477h58v1h-58zM562 480h58v1h-58zM562 498h58v1h-58zM562 507h58v1h-58zM562 523h58v1h-58zM620 377h58v1h-58zM620 391h58v1h-58zM620 397h58v1h-58zM620 407h58v1h-58zM620 449h58v1h-58zM620 464h58v1h-58zM620 474h58v1h-58zM620 477h58v2h-58zM620 480h58v1h-58zM620 505h58v1h-58zM620 507h58v1h-58zM678 381h58.5v1h-58.5zM678 395h58.5v1h-58.5zM678 407h58.5v1h-58.5zM678 421h58.5v1h-58.5zM678 423h58.5v1h-58.5zM678 464h58.5v1h-58.5zM678 468h58.5v1h-58.5zM678 478h58.5v1h-58.5zM678 480h58.5v1h-58.5zM678 489h58.5v1h-58.5zM678 514h58.5v1h-58.5zM503.5 536h58.5v1h-58.5zM503.5 545h58.5v1h-58.5zM503.5 550h58.5v1h-58.5zM503.5 560h58.5v1h-58.5zM503.5 564h58.5v1h-58.5zM503.5 570h58.5v1h-58.5zM503.5 573h58.5v1h-58.5zM503.5 575h58.5v1h-58.5zM503.5 589h58.5v1h-58.5zM503.5 593h58.5v1h-58.5zM503.5 598h58.5v1h-58.5zM503.5 612h58.5v1h-58.5zM503.5 626h58.5v1h-58.5zM503.5 628h58.5v1h-58.5zM503.5 655h58.5v1h-58.5zM503.5 657h58.5v1h-58.5zM503.5 668h58.5v1h-58.5zM503.5 694h58.5v1h-58.5zM503.5 703h58.5v1h-58.5zM503.5 713h58.5v1h-58.5zM503.5 724h58.5v1h-58.5zM503.5 738h58.5v1h-58.5zM503.5 749h58.5v1h-58.5zM503.5 752h58.5v1h-58.5zM562 540h58v1h-58zM562 545h58v1h-58zM562 548h58v1h-58zM562 564h58v1h-58zM562 575h58v1h-58zM562 580h58v1h-58zM562 589h58v1h-58zM562 592h58v1h-58zM562 598h58v1h-58zM562 606h58v1h-58zM562 612h58v1h-58zM562 626h58v1h-58zM562 628h58v1h-58zM562 645h58v1h-58zM562 655h58v1h-58zM562 668h58v1h-58zM562 673h58v2h-58zM562 676h58v1h-58zM562 693h58v1h-58zM562 713h58v1h-58zM562 717h58v1h-58zM562 726h58v1h-58zM562 738h58v1h-58zM620 542h58v1h-58zM620 545h58v1h-58zM620 548h58v1h-58zM620 560h58v1h-58zM620 564h58v1h-58zM620 570h58v1h-58zM620 575h58v1h-58zM620 589h58v1h-58zM620 592h58v1h-58zM620 598h58v1h-58zM620 619h58v1h-58zM620 628h58v1h-58zM620 655h58v1h-58zM620 657h58v1h-58zM620 668h58v1h-58zM620 673h58v1h-58zM620 676h58v1h-58zM620 687h58v1h-58zM620 703h58v1h-58zM620 713h58v1h-58zM620 717h58v1h-58zM620 724h58v1h-58zM620 732h58v1h-58zM620 738h58v1h-58zM620 752h58v1h-58zM678 540h58.5v1h-58.5zM678 542h58.5v1h-58.5zM678 545h58.5v1h-58.5zM678 548h58.5v1h-58.5zM678 560h58.5v1h-58.5zM678 564h58.5v1h-58.5zM678 570h58.5v1h-58.5zM678 580h58.5v1h-58.5zM678 589h58.5v1h-58.5zM678 591h58.5v1h-58.5zM678 598h58.5v1h-58.5zM678 600h58.5v1h-58.5zM678 612h58.5v1h-58.5zM678 617h58.5v1h-58.5zM678 626h58.5v1h-58.5zM678 645h58.5v1h-58.5zM678 651h58.5v1h-58.5zM678 655h58.5v1h-58.5zM678 657h58.5v1h-58.5zM678 662h58.5v1h-58.5zM678 668h58.5v1h-58.5zM678 675h58.5v1h-58.5zM678 679h58.5v1h-58.5zM678 703h58.5v1h-58.5zM678 713h58.5v1h-58.5zM678 717h58.5v1h-58.5zM678 732h58.5v1h-58.5zM678 738h58.5v1h-58.5zM678 749h58.5v1h-58.5zM678 752h58.5v1h-58.5z"/>
<path fill="#000088" d="M503.5 151h58.5v1h-58.5zM503.5 203h58.5v2h-58.5zM503.5 208h58.5v1h-58.5zM503.5 217h58.5v1h-58.5zM503.5 222h58.5v1h-58.5zM503.5 234h58.5v1h-58.5zM503.5 241h58.5v1h-58.5zM503.5 260h58.5v2h-58.5zM503.5 270h58.5v2h-58.5zM503.5 282h58.5v1h-58.5zM503.5 291h58.5v1h-58.5zM503.5 309h58.5v1h-58.5zM503.5 318h58.5v1h-58.5zM503.5 320h58.5v1h-58.5zM503.5 341h58.5v2h-58.5zM503.5 344h58.5v1h-58.5zM503.5 346h58.5v1h-58.5zM503.5 348h58.5v1h-58.5zM503.5 360h58.5v1h-58.5zM503.5 365h58.5v1h-58.5zM562 204h58v1h-58zM562 222h58v1h-58zM562 233h58v1h-58zM562 241h58v2h-58zM562 260h58v2h-58zM562 275h58v1h-58zM562 282h58v1h-58zM562 285h58v1h-58zM562 309h58v1h-58zM562 312h58v1h-58zM562 314h58v1h-58zM562 318h58v1h-58zM562 320h58v1h-58zM562 341h58v2h-58zM562 348h58v1h-58zM562 358h58v3h-58zM562 365h58v1h-58zM562 368h58v1h-58zM620 204h58v1h-58zM620 217h58v1h-58zM620 233h58v1h-58zM620 241h58v1h-58zM620 260h58v2h-58zM620 270h58v2h-58zM620 282h58v1h-58zM620 291h58v1h-58zM620 301h58v3h-58zM620 314h58v1h-58zM620 320h58v1h-58zM620 326h58v1h-58zM620 341h58v2h-58zM620 348h58v1h-58zM620 358h58v1h-58zM620 360h58v1h-58zM620 368h58v1h-58zM678 204h58.5v1h-58.5zM678 208h58.5v1h-58.5zM678 217h58.5v1h-58.5zM678 222h58.5v1h-58.5zM678 241h58.5v1h-58.5zM678 260h58.5v2h-58.5zM678 270h58.5v2h-58.5zM678 302h58.5v1h-58.5zM678 308h58.5v2h-58.5zM678 312h58.5v1h-58.5zM678 314h58.5v1h-58.5zM678 320h58.5v1h-58.5zM678 326h58.5v1h-58.5zM678 341h58.5v2h-58.5zM678 348h58.5v1h-58.5zM678 358h58.5v1h-58.5zM678 368h58.5v1h-58.5zM503.5 378h58.5v1h-58.5zM503.5 424h58.5v3h-58.5zM503.5 431h58.5v1h-58.5zM503.5 437h58.5v1h-58.5zM503.5 459h58.5v2h-58.5zM503.5 473h58.5v1h-58.5zM503.5 493h58.5v1h-58.5zM503.5 519h58.5v1h-58.5zM503.5 525h58.5v1h-58.5zM562 378h58v1h-58zM562 424h58v1h-58zM562 437h58v1h-58zM562 472h58v2h-58zM562 493h58v1h-58zM562 524h58v1h-58zM562 528h58v1h-58zM620 424h58v3h-58zM620 431h58v1h-58zM620 437h58v1h-58zM620 461h58v1h-58zM620 465h58v1h-58zM620 472h58v2h-58zM620 493h58v1h-58zM620 519h58v1h-58zM620 528h58v1h-58zM678 378h58.5v1h-58.5zM678 426h58.5v1h-58.5zM678 437h58.5v1h-58.5zM678 473h58.5v1h-58.5zM678 493h58.5v1h-58.5zM678 519h58.5v1h-58.5zM678 524h58.5v2h-58.5zM678 528h58.5v1h-58.5zM503.5 584h58.5v1h-58.5zM503.5 621h58.5v1h-58.5zM503.5 708h58.5v1h-58.5zM503.5 747h58.5v1h-58.5zM562 601h58v1h-58zM562 708h58v1h-58zM562 731h58v1h-58zM620 579h58v1h-58zM620 636h58v1h-58zM620 706h58v1h-58zM620 708h58v1h-58zM620 747h58v1h-58zM678 546h58.5v2h-58.5zM678 584h58.5v1h-58.5zM678 640h58.5v2h-58.5zM678 708h58.5v1h-58.5zM678 747h58.5v1h-58.5zM740 207h58v1h-58zM740 318h58v1h-58zM798 207h59v1h-59zM857 318h58v1h-58zM798 399h59v3h-59zM857 401h58v1h-58zM740 568h58v1h-58zM798 568h59v1h-59zM798 643h59v1h-59zM798 748h59v1h-59zM857 568h58v1h-58zM857 579h58v1h-58zM857 617h58v1h-58zM915 585h58v1h-58zM915 617h58v1h-58z"/>
<path fill="#100888" d="M503.5 152h58.5v1h-58.5zM503.5 159h58.5v1h-58.5zM503.5 164h58.5v1h-58.5zM503.5 170h58.5v1h-58.5zM503.5 172h58.5v1h-58.5zM503.5 174h58.5v1h-58.5zM503.5 179h58.5v1h-58.5zM503.5 201h58.5v1h-58.5zM503.5 205h58.5v1h-58.5zM503.5 213h58.5v2h-58.5zM503.5 220h58.5v2h-58.5zM503.5 223h58.5v1h-58.5zM503.5 227h58.5v1h-58.5zM503.5 229h58.5v2h-58.5zM503.5 232h58.5v1h-58.5zM503.5 235h58.5v1h-58.5zM503.5 243h58.5v2h-58.5zM503.5 247h58.5v1h-58.5zM503.5 251h58.5v1h-58.5zM503.5 272h58.5v1h-58.5zM503.5 279h58.5v1h-58.5zM503.5 285h58.5v1h-58.5zM503.5 290h58.5v1h-58.5zM503.5 292h58.5v1h-58.5zM503.5 294h58.5v1h-58.5zM503.5 300h58.5v1h-58.5zM503.5 311h58.5v1h-58.5zM503.5 319h58.5v1h-58.5zM503.5 321h58.5v2h-58.5zM503.5 324h58.5v1h-58.5zM503.5 334h58.5v1h-58.5zM503.5 336h58.5v1h-58.5zM503.5 338h58.5v1h-58.5zM503.5 356h58.5v1h-58.5zM503.5 363h58.5v1h-58.5zM503.5 367h58.5v1h-58.5zM503.5 369h58.5v1h-58.5zM562 159h58v1h-58zM562 164h58v1h-58zM562 170h58v1h-58zM562 174h58v2h-58zM562 178h58v1h-58zM562 182h58v1h-58zM562 189h58v2h-58zM562 199h58v1h-58zM562 201h58v1h-58zM562 203h58v1h-58zM562 209h58v1h-58zM562 211h58v1h-58zM562 213h58v1h-58zM562 220h58v2h-58zM562 223h58v1h-58zM562 227h58v1h-58zM562 229h58v2h-58zM562 232h58v1h-58zM562 243h58v1h-58zM562 246h58v2h-58zM562 252h58v1h-58zM562 259h58v1h-58zM562 272h58v1h-58zM562 276h58v1h-58zM562 278h58v2h-58zM562 284h58v1h-58zM562 288h58v1h-58zM562 292h58v1h-58zM562 294h58v1h-58zM562 299h58v2h-58zM562 303h58v1h-58zM562 319h58v1h-58zM562 321h58v2h-58zM562 324h58v1h-58zM562 328h58v1h-58zM562 333h58v2h-58zM562 336h58v2h-58zM562 345h58v1h-58zM562 361h58v1h-58zM562 363h58v1h-58zM620 159h58v1h-58zM620 165h58v1h-58zM620 170h58v1h-58zM620 172h58v1h-58zM620 174h58v1h-58zM620 178h58v1h-58zM620 180h58v2h-58zM620 185h58v1h-58zM620 189h58v2h-58zM620 193h58v1h-58zM620 195h58v1h-58zM620 199h58v1h-58zM620 220h58v2h-58zM620 227h58v1h-58zM620 243h58v2h-58zM620 247h58v1h-58zM620 259h58v1h-58zM620 278h58v2h-58zM620 286h58v1h-58zM620 288h58v1h-58zM620 292h58v1h-58zM620 294h58v1h-58zM620 296h58v1h-58zM620 299h58v2h-58zM620 310h58v2h-58zM620 319h58v1h-58zM620 321h58v2h-58zM620 334h58v1h-58zM620 336h58v1h-58zM620 339h58v1h-58zM620 343h58v1h-58zM620 345h58v1h-58zM620 352h58v1h-58zM620 356h58v1h-58zM678 150h58.5v1h-58.5zM678 159h58.5v1h-58.5zM678 164h58.5v1h-58.5zM678 170h58.5v1h-58.5zM678 172h58.5v1h-58.5zM678 174h58.5v1h-58.5zM678 178h58.5v1h-58.5zM678 185h58.5v1h-58.5zM678 193h58.5v1h-58.5zM678 195h58.5v1h-58.5zM678 199h58.5v1h-58.5zM678 203h58.5v1h-58.5zM678 209h58.5v1h-58.5zM678 211h58.5v1h-58.5zM678 213h58.5v2h-58.5zM678 220h58.5v2h-58.5zM678 223h58.5v1h-58.5zM678 226h58.5v2h-58.5zM678 230h58.5v1h-58.5zM678 240h58.5v1h-58.5zM678 243h58.5v2h-58.5zM678 246h58.5v1h-58.5zM678 259h58.5v1h-58.5zM678 278h58.5v2h-58.5zM678 282h58.5v1h-58.5zM678 288h58.5v1h-58.5zM678 293h58.5v2h-58.5zM678 296h58.5v1h-58.5zM678 303h58.5v1h-58.5zM678 311h58.5v1h-58.5zM678 313h58.5v1h-58.5zM678 319h58.5v1h-58.5zM678 321h58.5v2h-58.5zM678 325h58.5v1h-58.5zM678 334h58.5v1h-58.5zM678 337h58.5v1h-58.5zM678 340h58.5v1h-58.5zM678 343h58.5v1h-58.5zM678 345h58.5v1h-58.5zM503.5 384h58.5v3h-58.5zM503.5 392h58.5v1h-58.5zM503.5 395h58.5v2h-58.5zM503.5 399h58.5v1h-58.5zM503.5 401h58.5v1h-58.5zM503.5 403h58.5v2h-58.5zM503.5 407h58.5v1h-58.5zM503.5 418h58.5v1h-58.5zM503.5 440h58.5v1h-58.5zM503.5 449h58.5v1h-58.5zM503.5 454h58.5v1h-58.5zM503.5 456h58.5v1h-58.5zM503.5 465h58.5v1h-58.5zM503.5 472h58.5v1h-58.5zM503.5 475h58.5v1h-58.5zM503.5 486h58.5v1h-58.5zM503.5 488h58.5v1h-58.5zM503.5 490h58.5v1h-58.5zM503.5 494h58.5v2h-58.5zM503.5 497h58.5v2h-58.5zM503.5 506h58.5v2h-58.5zM503.5 511h58.5v1h-58.5zM503.5 514h58.5v1h-58.5zM503.5 518h58.5v1h-58.5zM503.5 526h58.5v1h-58.5zM503.5 529h58.5v1h-58.5zM562 380h58v3h-58zM562 384h58v2h-58zM562 391h58v2h-58zM562 395h58v2h-58zM562 398h58v2h-58zM562 403h58v2h-58zM562 410h58v2h-58zM562 440h58v1h-58zM562 454h58v1h-58zM562 456h58v1h-58zM562 458h58v2h-58zM562 461h58v1h-58zM562 475h58v1h-58zM562 488h58v2h-58zM562 494h58v2h-58zM562 511h58v2h-58zM562 514h58v1h-58zM562 518h58v1h-58zM562 529h58v1h-58zM620 380h58v2h-58zM620 384h58v3h-58zM620 388h58v1h-58zM620 392h58v1h-58zM620 396h58v1h-58zM620 399h58v1h-58zM620 402h58v3h-58zM620 412h58v1h-58zM620 440h58v1h-58zM620 446h58v1h-58zM620 454h58v1h-58zM620 456h58v1h-58zM620 471h58v1h-58zM620 488h58v3h-58zM620 494h58v1h-58zM620 496h58v1h-58zM620 511h58v2h-58zM620 514h58v1h-58zM620 520h58v1h-58zM620 522h58v1h-58zM620 525h58v1h-58zM620 527h58v1h-58zM620 529h58v1h-58zM678 380h58.5v1h-58.5zM678 384h58.5v3h-58.5zM678 391h58.5v2h-58.5zM678 399h58.5v1h-58.5zM678 402h58.5v3h-58.5zM678 425h58.5v1h-58.5zM678 440h58.5v1h-58.5zM678 446h58.5v1h-58.5zM678 449h58.5v1h-58.5zM678 456h58.5v1h-58.5zM678 458h58.5v1h-58.5zM678 472h58.5v1h-58.5zM678 474h58.5v1h-58.5zM678 477h58.5v1h-58.5zM678 488h58.5v1h-58.5zM678 494h58.5v3h-58.5zM678 507h58.5v1h-58.5zM678 511h58.5v2h-58.5zM678 520h58.5v1h-58.5zM678 523h58.5v1h-58.5zM678 527h58.5v1h-58.5zM503.5 540h58.5v1h-58.5zM503.5 543h58.5v1h-58.5zM503.5 556h58.5v2h-58.5zM503.5 562h58.5v1h-58.5zM503.5 577h58.5v2h-58.5zM503.5 580h58.5v1h-58.5zM503.5 594h58.5v1h-58.5zM503.5 600h58.5v1h-58.5zM503.5 603h58.5v1h-58.5zM503.5 617h58.5v1h-58.5zM503.5 622h58.5v1h-58.5zM503.5 624h58.5v1h-58.5zM503.5 630h58.5v3h-58.5zM503.5 651h58.5v1h-58.5zM503.5 659h58.5v2h-58.5zM503.5 662h58.5v1h-58.5zM503.5 664h58.5v1h-58.5zM503.5 673h58.5v1h-58.5zM503.5 696h58.5v1h-58.5zM503.5 700h58.5v1h-58.5zM503.5 711h58.5v1h-58.5zM503.5 714h58.5v1h-58.5zM503.5 720h58.5v1h-58.5zM503.5 722h58.5v2h-58.5zM503.5 725h58.5v1h-58.5zM503.5 730h58.5v1h-58.5zM503.5 732h58.5v1h-58.5zM503.5 742h58.5v1h-58.5zM503.5 754h58.5v1h-58.5zM503.5 757h58.5v1h-58.5zM562 536h58v1h-58zM562 541h58v2h-58zM562 551h58v2h-58zM562 557h58v2h-58zM562 560h58v1h-58zM562 562h58v1h-58zM562 568h58v1h-58zM562 577h58v2h-58zM562 586h58v1h-58zM562 591h58v1h-58zM562 600h58v1h-58zM562 603h58v2h-58zM562 607h58v1h-58zM562 617h58v1h-58zM562 620h58v1h-58zM562 622h58v1h-58zM562 624h58v1h-58zM562 629h58v2h-58zM562 644h58v1h-58zM562 648h58v1h-58zM562 651h58v1h-58zM562 657h58v1h-58zM562 659h58v1h-58zM562 662h58v1h-58zM562 666h58v2h-58zM562 669h58v1h-58zM562 671h58v2h-58zM562 695h58v1h-58zM562 697h58v1h-58zM562 699h58v1h-58zM562 711h58v1h-58zM562 714h58v1h-58zM562 720h58v1h-58zM562 722h58v2h-58zM562 730h58v1h-58zM562 732h58v1h-58zM562 742h58v1h-58zM562 745h58v2h-58zM562 748h58v2h-58zM562 752h58v1h-58zM562 759h58v1h-58zM620 536h58v1h-58zM620 541h58v1h-58zM620 550h58v1h-58zM620 555h58v1h-58zM620 557h58v2h-58zM620 562h58v1h-58zM620 572h58v1h-58zM620 578h58v1h-58zM620 580h58v1h-58zM620 583h58v1h-58zM620 586h58v1h-58zM620 591h58v1h-58zM620 600h58v1h-58zM620 603h58v1h-58zM620 606h58v1h-58zM620 618h58v1h-58zM620 622h58v1h-58zM620 624h58v1h-58zM620 629h58v1h-58zM620 631h58v3h-58zM620 637h58v1h-58zM620 639h58v1h-58zM620 651h58v1h-58zM620 659h58v2h-58zM620 662h58v1h-58zM620 664h58v1h-58zM620 667h58v1h-58zM620 669h58v1h-58zM620 671h58v1h-58zM620 699h58v2h-58zM620 711h58v1h-58zM620 714h58v1h-58zM620 720h58v1h-58zM620 722h58v2h-58zM620 742h58v1h-58zM620 745h58v1h-58zM620 749h58v1h-58zM620 754h58v2h-58zM620 759h58v1h-58zM678 536h58.5v1h-58.5zM678 550h58.5v1h-58.5zM678 555h58.5v1h-58.5zM678 557h58.5v2h-58.5zM678 562h58.5v1h-58.5zM678 572h58.5v1h-58.5zM678 578h58.5v1h-58.5zM678 586h58.5v1h-58.5zM678 603h58.5v1h-58.5zM678 606h58.5v1h-58.5zM678 620h58.5v1h-58.5zM678 622h58.5v1h-58.5zM678 624h58.5v1h-58.5zM678 628h58.5v1h-58.5zM678 630h58.5v2h-58.5zM678 642h58.5v1h-58.5zM678 646h58.5v1h-58.5zM678 659h58.5v1h-58.5zM678 667h58.5v1h-58.5zM678 673h58.5v1h-58.5zM678 676h58.5v1h-58.5zM678 680h58.5v1h-58.5zM678 699h58.5v1h-58.5zM678 711h58.5v1h-58.5zM678 714h58.5v1h-58.5zM678 720h58.5v1h-58.5zM678 722h58.5v2h-58.5zM678 730h58.5v1h-58.5zM678 733h58.5v1h-58.5zM678 742h58.5v1h-58.5zM678 745h58.5v1h-58.5zM678 755h58.5v1h-58.5zM678 759h58.5v1h-58.5zM740 254h58v1h-58zM740 256h58v1h-58zM798 231h59v1h-59zM798 241h59v1h-59zM798 249h59v1h-59zM798 319h59v1h-59zM857 226h58v1h-58zM857 331h58v1h-58zM915 276h58v1h-58zM857 507h58v1h-58zM915 401h58v1h-58zM915 429h58v1h-58zM915 438h58v1h-58zM915 446h58v1h-58zM915 466h58v1h-58zM740 562h58v1h-58zM740 567h58v1h-58zM740 584h58v1h-58zM740 599h58v1h-58zM740 642h58v1h-58zM798 717h59v1h-59zM798 738h59v1h-59zM857 567h58v1h-58zM857 577h58v1h-58zM857 584h58v1h-58zM857 602h58v1h-58zM857 640h58v1h-58zM915 619h58v1h-58zM915 645h58v1h-58z"/>
<path fill="#582070" d="M503.5 153h58.5v1h-58.5zM503.5 160h58.5v1h-58.5zM503.5 350h58.5v1h-58.5zM562 173h58v1h-58zM562 351h58v1h-58zM620 158h58v1h-58zM620 354h58v1h-58zM620 362h58v1h-58zM678 160h58.5v1h-58.5zM678 210h58.5v1h-58.5zM678 235h58.5v1h-58.5zM678 245h58.5v1h-58.5zM678 277h58.5v1h-58.5zM678 370h58.5v1h-58.5zM503.5 382h58.5v1h-58.5zM503.5 422h58.5v1h-58.5zM562 463h58v1h-58zM678 382h58.5v1h-58.5zM503.5 549h58.5v1h-58.5zM503.5 646h58.5v1h-58.5zM503.5 726h58.5v1h-58.5zM503.5 735h58.5v1h-58.5zM503.5 743h58.5v1h-58.5zM562 539h58v1h-58zM562 625h58v1h-58zM562 675h58v1h-58zM562 743h58v1h-58zM620 566h58v1h-58zM620 725h58v1h-58zM678 563h58.5v1h-58.5zM678 728h58.5v1h-58.5z"/>
<path fill="#401878" d="M503.5 154h58.5v2h-58.5zM503.5 178h58.5v1h-58.5zM503.5 224h58.5v1h-58.5zM503.5 248h58.5v1h-58.5zM503.5 304h58.5v1h-58.5zM503.5 370h58.5v1h-58.5zM562 212h58v1h-58zM562 225h58v1h-58zM562 228h58v1h-58zM562 249h58v1h-58zM562 331h58v1h-58zM620 157h58v1h-58zM620 187h58v1h-58zM620 225h58v1h-58zM620 370h58v1h-58zM678 153h58.5v1h-58.5zM678 186h58.5v2h-58.5zM678 236h58.5v1h-58.5zM678 248h58.5v2h-58.5zM503.5 408h58.5v1h-58.5zM503.5 499h58.5v1h-58.5zM503.5 502h58.5v1h-58.5zM503.5 510h58.5v1h-58.5zM562 422h58v1h-58zM562 455h58v1h-58zM562 510h58v1h-58zM620 414h58v1h-58zM620 422h58v1h-58zM620 439h58v1h-58zM620 521h58v1h-58zM678 475h58.5v1h-58.5zM678 508h58.5v1h-58.5zM503.5 595h58.5v1h-58.5zM503.5 611h58.5v1h-58.5zM562 595h58v1h-58zM562 609h58v1h-58zM562 611h58v1h-58zM562 692h58v1h-58zM620 640h58v1h-58zM678 553h58.5v1h-58.5zM678 595h58.5v1h-58.5zM678 663h58.5v1h-58.5z"/>
<path fill="#301080" d="M503.5 156h58.5v1h-58.5zM503.5 187h58.5v1h-58.5zM503.5 228h58.5v1h-58.5zM503.5 253h58.5v1h-58.5zM503.5 280h58.5v1h-58.5zM503.5 302h58.5v1h-58.5zM562 153h58v1h-58zM562 155h58v1h-58zM562 163h58v1h-58zM562 253h58v1h-58zM562 258h58v1h-58zM562 301h58v1h-58zM620 163h58v1h-58zM620 171h58v1h-58zM620 212h58v1h-58zM620 276h58v1h-58zM620 309h58v1h-58zM620 338h58v1h-58zM620 353h58v1h-58zM678 289h58.5v1h-58.5zM678 306h58.5v1h-58.5zM678 344h58.5v1h-58.5zM503.5 389h58.5v1h-58.5zM503.5 415h58.5v1h-58.5zM503.5 455h58.5v1h-58.5zM503.5 530h58.5v1h-58.5zM562 405h58v1h-58zM562 412h58v1h-58zM562 415h58v1h-58zM562 419h58v1h-58zM562 426h58v1h-58zM562 450h58v1h-58zM562 496h58v1h-58zM562 502h58v1h-58zM562 530h58v1h-58zM620 387h58v1h-58zM620 504h58v1h-58zM678 405h58.5v1h-58.5zM678 412h58.5v1h-58.5zM678 455h58.5v1h-58.5zM503.5 587h58.5v1h-58.5zM503.5 609h58.5v1h-58.5zM503.5 616h58.5v1h-58.5zM503.5 640h58.5v1h-58.5zM503.5 649h58.5v1h-58.5zM503.5 652h58.5v1h-58.5zM503.5 704h58.5v1h-58.5zM503.5 719h58.5v1h-58.5zM503.5 734h58.5v1h-58.5zM503.5 736h58.5v1h-58.5zM503.5 740h58.5v1h-58.5zM562 537h58v2h-58zM562 573h58v1h-58zM562 665h58v1h-58zM562 704h58v1h-58zM562 740h58v1h-58zM620 553h58v1h-58zM620 573h58v1h-58zM620 582h58v1h-58zM620 587h58v1h-58zM620 595h58v1h-58zM620 674h58v1h-58zM620 692h58v1h-58zM620 696h58v1h-58zM620 718h58v1h-58zM620 736h58v1h-58zM678 573h58.5v1h-58.5zM678 575h58.5v1h-58.5zM678 602h58.5v1h-58.5zM678 649h58.5v1h-58.5zM678 653h58.5v1h-58.5zM678 658h58.5v1h-58.5zM678 693h58.5v1h-58.5zM678 715h58.5v1h-58.5zM678 719h58.5v1h-58.5zM678 736h58.5v1h-58.5zM678 739h58.5v2h-58.5z"/>
<path fill="#482078" d="M503.5 158h58.5v1h-58.5zM503.5 231h58.5v1h-58.5zM562 362h58v1h-58zM620 153h58v1h-58zM620 191h58v1h-58zM678 353h58.5v1h-58.5zM503.5 463h58.5v1h-58.5zM503.5 470h58.5v1h-58.5zM620 418h58v1h-58zM678 502h58.5v1h-58.5zM503.5 565h58.5v2h-58.5zM503.5 614h58.5v1h-58.5zM503.5 650h58.5v1h-58.5zM562 614h58v1h-58zM562 663h58v1h-58zM562 678h58v1h-58zM620 634h58v1h-58zM620 665h58v1h-58zM620 698h58v1h-58zM620 728h58v1h-58zM678 610h58.5v1h-58.5zM678 725h58.5v1h-58.5z"/>
<path fill="#803068" d="M503.5 161h58.5v1h-58.5zM503.5 256h58.5v1h-58.5zM503.5 351h58.5v1h-58.5zM620 186h58v1h-58zM620 351h58v1h-58zM678 155h58.5v1h-58.5zM678 219h58.5v1h-58.5zM678 267h58.5v1h-58.5zM620 526h58v1h-58zM678 388h58.5v1h-58.5zM678 396h58.5v1h-58.5zM503.5 567h58.5v1h-58.5zM503.5 666h58.5v1h-58.5zM562 646h58v1h-58zM562 735h58v1h-58zM620 643h58v1h-58zM620 690h58v1h-58zM620 750h58v2h-58zM678 539h58.5v1h-58.5zM678 551h58.5v1h-58.5zM678 688h58.5v1h-58.5zM678 735h58.5v1h-58.5z"/>
<path fill="#903860" d="M503.5 162h58.5v1h-58.5zM620 210h58v1h-58zM503.5 448h58.5v1h-58.5zM620 411h58v1h-58zM620 416h58v1h-58zM678 410h58.5v1h-58.5zM620 615h58v1h-58zM678 727h58.5v1h-58.5z"/>
<path fill="#381880" d="M503.5 163h58.5v1h-58.5zM503.5 355h58.5v1h-58.5zM503.5 368h58.5v1h-58.5zM562 154h58v1h-58zM562 224h58v1h-58zM562 237h58v1h-58zM562 270h58v1h-58zM562 280h58v1h-58zM620 206h58v1h-58zM620 253h58v1h-58zM620 306h58v1h-58zM678 156h58.5v1h-58.5zM678 255h58.5v1h-58.5zM503.5 419h58.5v1h-58.5zM503.5 462h58.5v1h-58.5zM562 442h58v1h-58zM562 478h58v1h-58zM562 499h58v1h-58zM562 515h58v1h-58zM620 415h58v1h-58zM620 419h58v1h-58zM678 414h58.5v2h-58.5zM503.5 715h58.5v1h-58.5zM503.5 718h58.5v1h-58.5zM503.5 739h58.5v1h-58.5zM562 585h58v1h-58zM562 616h58v1h-58zM562 658h58v1h-58zM562 718h58v1h-58zM562 736h58v1h-58zM562 739h58v1h-58zM620 537h58v1h-58zM620 653h58v1h-58zM620 704h58v1h-58zM620 715h58v1h-58zM678 618h58.5v1h-58.5zM678 665h58.5v1h-58.5z"/>
<path fill="#c85058" d="M503.5 166h58.5v1h-58.5zM503.5 181h58.5v1h-58.5zM562 255h58v1h-58zM620 332h58v1h-58zM620 420h58v1h-58zM678 522h58.5v1h-58.5zM503.5 702h58.5v1h-58.5zM562 613h58v1h-58z"/>
<path fill="#180880" d="M503.5 167h58.5v1h-58.5zM503.5 200h58.5v1h-58.5zM503.5 238h58.5v2h-58.5zM503.5 286h58.5v1h-58.5zM503.5 337h58.5v1h-58.5zM562 167h58v1h-58zM562 215h58v1h-58zM562 295h58v1h-58zM620 176h58v1h-58zM620 200h58v1h-58zM620 218h58v1h-58zM620 240h58v1h-58zM620 254h58v1h-58zM620 323h58v1h-58zM620 331h58v1h-58zM620 337h58v1h-58zM678 162h58.5v1h-58.5zM678 168h58.5v1h-58.5zM678 196h58.5v1h-58.5zM678 215h58.5v1h-58.5zM678 239h58.5v1h-58.5zM678 323h58.5v1h-58.5zM678 352h58.5v1h-58.5zM503.5 394h58.5v1h-58.5zM503.5 405h58.5v1h-58.5zM503.5 432h58.5v1h-58.5zM503.5 480h58.5v1h-58.5zM562 394h58v1h-58zM562 476h58v1h-58zM620 423h58v1h-58zM620 498h58v1h-58zM678 447h58.5v1h-58.5zM678 497h58.5v1h-58.5zM678 505h58.5v1h-58.5zM503.5 538h58.5v1h-58.5zM503.5 548h58.5v1h-58.5zM503.5 643h58.5v1h-58.5zM503.5 647h58.5v1h-58.5zM503.5 676h58.5v1h-58.5zM503.5 717h58.5v1h-58.5zM562 593h58v1h-58zM562 724h58v1h-58zM562 754h58v1h-58zM620 540h58v1h-58zM620 552h58v1h-58zM620 626h58v1h-58zM678 619h58.5v1h-58.5zM678 687h58.5v1h-58.5zM678 724h58.5v1h-58.5z"/>
<path fill="#080888" d="M503.5 169h58.5v1h-58.5zM503.5 199h58.5v1h-58.5zM503.5 242h58.5v1h-58.5zM503.5 259h58.5v1h-58.5zM503.5 277h58.5v1h-58.5zM503.5 293h58.5v1h-58.5zM503.5 299h58.5v1h-58.5zM503.5 325h58.5v1h-58.5zM503.5 328h58.5v1h-58.5zM503.5 343h58.5v1h-58.5zM562 169h58v1h-58zM562 214h58v1h-58zM562 234h58v1h-58zM562 251h58v1h-58zM562 274h58v1h-58zM562 293h58v1h-58zM562 296h58v1h-58zM562 310h58v2h-58zM562 326h58v1h-58zM562 343h58v1h-58zM562 355h58v2h-58zM620 169h58v1h-58zM620 201h58v1h-58zM620 203h58v1h-58zM620 208h58v1h-58zM620 214h58v1h-58zM620 222h58v1h-58zM620 229h58v2h-58zM620 232h58v1h-58zM620 272h58v1h-58zM620 285h58v1h-58zM620 297h58v2h-58zM620 308h58v1h-58zM620 324h58v1h-58zM620 328h58v1h-58zM678 175h58.5v1h-58.5zM678 229h58.5v1h-58.5zM678 272h58.5v1h-58.5zM678 285h58.5v1h-58.5zM678 292h58.5v1h-58.5zM678 297h58.5v1h-58.5zM678 299h58.5v2h-58.5zM678 310h58.5v1h-58.5zM678 324h58.5v1h-58.5zM678 338h58.5v2h-58.5zM678 356h58.5v1h-58.5zM678 367h58.5v1h-58.5zM678 369h58.5v1h-58.5zM503.5 398h58.5v1h-58.5zM503.5 400h58.5v1h-58.5zM503.5 433h58.5v2h-58.5zM503.5 458h58.5v1h-58.5zM503.5 474h58.5v1h-58.5zM503.5 487h58.5v1h-58.5zM503.5 489h58.5v1h-58.5zM503.5 509h58.5v1h-58.5zM562 400h58v2h-58zM562 427h58v2h-58zM562 433h58v1h-58zM562 446h58v1h-58zM562 465h58v1h-58zM562 474h58v1h-58zM562 485h58v1h-58zM562 490h58v1h-58zM562 509h58v1h-58zM562 519h58v1h-58zM562 526h58v1h-58zM620 395h58v1h-58zM620 398h58v1h-58zM620 433h58v1h-58zM620 436h58v1h-58zM620 481h58v1h-58zM620 518h58v1h-58zM678 428h58.5v1h-58.5zM678 433h58.5v1h-58.5zM678 435h58.5v1h-58.5zM678 460h58.5v1h-58.5zM678 485h58.5v1h-58.5zM678 487h58.5v1h-58.5zM678 492h58.5v1h-58.5zM678 501h58.5v1h-58.5zM678 516h58.5v1h-58.5zM678 526h58.5v1h-58.5zM678 529h58.5v1h-58.5zM503.5 542h58.5v1h-58.5zM503.5 558h58.5v1h-58.5zM503.5 572h58.5v1h-58.5zM503.5 583h58.5v1h-58.5zM503.5 597h58.5v1h-58.5zM503.5 602h58.5v1h-58.5zM503.5 606h58.5v1h-58.5zM503.5 610h58.5v1h-58.5zM503.5 629h58.5v1h-58.5zM503.5 669h58.5v1h-58.5zM503.5 671h58.5v1h-58.5zM503.5 677h58.5v1h-58.5zM503.5 733h58.5v1h-58.5zM503.5 745h58.5v1h-58.5zM562 547h58v1h-58zM562 559h58v1h-58zM562 570h58v1h-58zM562 572h58v1h-58zM562 596h58v1h-58zM562 602h58v1h-58zM562 637h58v1h-58zM562 639h58v1h-58zM562 660h58v1h-58zM562 664h58v1h-58zM562 677h58v1h-58zM562 680h58v2h-58zM562 707h58v1h-58zM562 757h58v1h-58zM620 581h58v1h-58zM620 596h58v1h-58zM620 613h58v1h-58zM620 617h58v1h-58zM620 620h58v1h-58zM620 630h58v1h-58zM620 642h58v1h-58zM620 661h58v1h-58zM620 677h58v1h-58zM620 680h58v1h-58zM620 694h58v2h-58zM620 757h58v1h-58zM678 577h58.5v1h-58.5zM678 583h58.5v1h-58.5zM678 597h58.5v1h-58.5zM678 607h58.5v1h-58.5zM678 629h58.5v1h-58.5zM678 637h58.5v1h-58.5zM678 660h58.5v1h-58.5zM678 669h58.5v1h-58.5zM678 671h58.5v2h-58.5zM678 677h58.5v1h-58.5zM678 682h58.5v1h-58.5zM678 721h58.5v1h-58.5zM678 757h58.5v1h-58.5zM740 152h58v1h-58zM740 250h58v1h-58zM740 295h58v1h-58zM740 314h58v1h-58zM740 319h58v1h-58zM740 331h58v1h-58zM740 366h58v1h-58zM798 152h59v1h-59zM798 216h59v1h-59zM798 220h59v1h-59zM798 237h59v1h-59zM798 250h59v1h-59zM798 295h59v1h-59zM798 314h59v1h-59zM798 318h59v1h-59zM798 332h59v1h-59zM798 336h59v1h-59zM798 350h59v1h-59zM857 152h58v1h-58zM857 216h58v1h-58zM857 241h58v1h-58zM857 250h58v1h-58zM857 256h58v1h-58zM857 295h58v1h-58zM857 314h58v1h-58zM857 319h58v1h-58zM857 325h58v1h-58zM857 350h58v1h-58zM857 366h58v1h-58zM915 166h58v1h-58zM915 175h58v1h-58zM915 209h58v1h-58zM915 237h58v1h-58zM915 245h58v1h-58zM915 278h58v1h-58zM915 295h58v1h-58zM915 300h58v1h-58zM915 305h58v1h-58zM915 362h58v1h-58zM740 382h58v1h-58zM740 412h58v1h-58zM740 441h58v1h-58zM740 466h58v1h-58zM740 474h58v1h-58zM740 479h58v1h-58zM740 484h58v1h-58zM740 486h58v1h-58zM740 508h58v1h-58zM798 382h59v1h-59zM798 438h59v1h-59zM798 441h59v1h-59zM798 450h59v2h-59zM798 474h59v2h-59zM798 484h59v1h-59zM798 486h59v1h-59zM798 508h59v1h-59zM857 382h58v2h-58zM857 399h58v1h-58zM857 441h58v1h-58zM857 475h58v1h-58zM857 484h58v1h-58zM857 486h58v1h-58zM857 508h58v1h-58zM915 382h58v1h-58zM915 419h58v1h-58zM915 437h58v1h-58zM915 441h58v1h-58zM915 467h58v1h-58zM915 472h58v3h-58zM915 496h58v1h-58zM915 508h58v1h-58zM915 515h58v1h-58zM915 530h58v1h-58zM740 565h58v1h-58zM740 602h58v1h-58zM740 616h58v1h-58zM740 641h58v1h-58zM740 643h58v3h-58zM740 657h58v1h-58zM740 704h58v1h-58zM740 734h58v1h-58zM740 736h58v3h-58zM740 747h58v1h-58zM798 577h59v1h-59zM798 599h59v1h-59zM798 616h59v2h-59zM798 641h59v2h-59zM798 645h59v1h-59zM798 704h59v1h-59zM798 716h59v1h-59zM798 719h59v1h-59zM798 747h59v1h-59zM857 616h58v1h-58zM857 639h58v1h-58zM857 641h58v1h-58zM857 643h58v1h-58zM857 645h58v3h-58zM857 746h58v3h-58zM915 562h58v1h-58zM915 584h58v1h-58zM915 616h58v1h-58zM915 648h58v1h-58zM915 663h58v1h-58zM915 682h58v1h-58zM915 719h58v1h-58zM915 757h58v1h-58z"/>
<path fill="#200880" d="M503.5 171h58.5v1h-58.5zM503.5 180h58.5v1h-58.5zM503.5 188h58.5v1h-58.5zM503.5 218h58.5v1h-58.5zM503.5 254h58.5v1h-58.5zM503.5 268h58.5v1h-58.5zM503.5 305h58.5v1h-58.5zM503.5 310h58.5v1h-58.5zM503.5 323h58.5v1h-58.5zM562 161h58v1h-58zM562 188h58v1h-58zM562 239h58v1h-58zM562 254h58v1h-58zM562 266h58v1h-58zM562 268h58v1h-58zM620 188h58v1h-58zM620 196h58v1h-58zM620 215h58v1h-58zM620 238h58v2h-58zM620 266h58v1h-58zM620 268h58v1h-58zM620 284h58v1h-58zM620 295h58v1h-58zM620 346h58v1h-58zM620 361h58v1h-58zM678 152h58.5v1h-58.5zM678 157h58.5v1h-58.5zM678 167h58.5v1h-58.5zM678 171h58.5v1h-58.5zM678 284h58.5v1h-58.5zM503.5 451h58.5v1h-58.5zM562 397h58v1h-58zM562 407h58v1h-58zM562 505h58v1h-58zM620 394h58v1h-58zM620 432h58v1h-58zM620 468h58v1h-58zM620 476h58v1h-58zM620 495h58v1h-58zM678 394h58.5v1h-58.5zM678 419h58.5v1h-58.5zM678 506h58.5v1h-58.5zM503.5 552h58.5v1h-58.5zM503.5 568h58.5v1h-58.5zM503.5 582h58.5v1h-58.5zM503.5 687h58.5v1h-58.5zM503.5 721h58.5v1h-58.5zM562 597h58v1h-58zM562 619h58v1h-58zM562 635h58v1h-58zM562 679h58v1h-58zM562 685h58v1h-58zM562 687h58v1h-58zM620 554h58v1h-58zM620 648h58v1h-58zM620 679h58v1h-58zM620 697h58v1h-58zM620 721h58v1h-58zM620 744h58v1h-58zM678 541h58.5v1h-58.5zM678 744h58.5v1h-58.5z"/>
<path fill="#602070" d="M503.5 173h58.5v1h-58.5zM503.5 663h58.5v1h-58.5z"/>
<path fill="#080088" d="M503.5 175h58.5v1h-58.5zM503.5 185h58.5v2h-58.5zM503.5 202h58.5v1h-58.5zM503.5 207h58.5v1h-58.5zM503.5 216h58.5v1h-58.5zM503.5 226h58.5v1h-58.5zM503.5 233h58.5v1h-58.5zM503.5 250h58.5v1h-58.5zM503.5 258h58.5v1h-58.5zM503.5 262h58.5v3h-58.5zM503.5 269h58.5v1h-58.5zM503.5 275h58.5v2h-58.5zM503.5 278h58.5v1h-58.5zM503.5 281h58.5v1h-58.5zM503.5 283h58.5v1h-58.5zM503.5 296h58.5v3h-58.5zM503.5 301h58.5v1h-58.5zM503.5 307h58.5v2h-58.5zM503.5 312h58.5v1h-58.5zM503.5 314h58.5v1h-58.5zM503.5 316h58.5v2h-58.5zM503.5 326h58.5v2h-58.5zM503.5 339h58.5v2h-58.5zM503.5 345h58.5v1h-58.5zM503.5 347h58.5v1h-58.5zM503.5 349h58.5v1h-58.5zM503.5 358h58.5v2h-58.5zM503.5 364h58.5v1h-58.5zM503.5 366h58.5v1h-58.5zM562 151h58v1h-58zM562 179h58v1h-58zM562 185h58v2h-58zM562 202h58v1h-58zM562 205h58v1h-58zM562 207h58v2h-58zM562 216h58v1h-58zM562 226h58v1h-58zM562 244h58v2h-58zM562 250h58v1h-58zM562 262h58v3h-58zM562 269h58v1h-58zM562 271h58v1h-58zM562 281h58v1h-58zM562 283h58v1h-58zM562 290h58v2h-58zM562 297h58v2h-58zM562 302h58v1h-58zM562 304h58v1h-58zM562 307h58v2h-58zM562 313h58v1h-58zM562 315h58v3h-58zM562 325h58v1h-58zM562 327h58v1h-58zM562 338h58v3h-58zM562 347h58v1h-58zM562 349h58v1h-58zM562 364h58v1h-58zM562 366h58v2h-58zM562 369h58v1h-58zM620 151h58v1h-58zM620 164h58v1h-58zM620 175h58v1h-58zM620 179h58v1h-58zM620 182h58v1h-58zM620 202h58v1h-58zM620 205h58v1h-58zM620 207h58v1h-58zM620 213h58v1h-58zM620 216h58v1h-58zM620 226h58v1h-58zM620 234h58v1h-58zM620 242h58v1h-58zM620 250h58v1h-58zM620 258h58v1h-58zM620 262h58v3h-58zM620 269h58v1h-58zM620 273h58v3h-58zM620 281h58v1h-58zM620 283h58v1h-58zM620 290h58v1h-58zM620 304h58v1h-58zM620 307h58v1h-58zM620 312h58v2h-58zM620 315h58v4h-58zM620 325h58v1h-58zM620 327h58v1h-58zM620 340h58v1h-58zM620 347h58v1h-58zM620 349h58v1h-58zM620 355h58v1h-58zM620 359h58v1h-58zM620 364h58v4h-58zM620 369h58v1h-58zM678 151h58.5v1h-58.5zM678 169h58.5v1h-58.5zM678 179h58.5v1h-58.5zM678 201h58.5v2h-58.5zM678 205h58.5v1h-58.5zM678 207h58.5v1h-58.5zM678 216h58.5v1h-58.5zM678 233h58.5v2h-58.5zM678 242h58.5v1h-58.5zM678 250h58.5v1h-58.5zM678 258h58.5v1h-58.5zM678 262h58.5v3h-58.5zM678 269h58.5v1h-58.5zM678 283h58.5v1h-58.5zM678 290h58.5v2h-58.5zM678 298h58.5v1h-58.5zM678 301h58.5v1h-58.5zM678 304h58.5v1h-58.5zM678 307h58.5v1h-58.5zM678 315h58.5v4h-58.5zM678 327h58.5v1h-58.5zM678 336h58.5v1h-58.5zM678 347h58.5v1h-58.5zM678 349h58.5v1h-58.5zM678 355h58.5v1h-58.5zM678 357h58.5v1h-58.5zM678 359h58.5v2h-58.5zM678 364h58.5v3h-58.5zM503.5 379h58.5v1h-58.5zM503.5 390h58.5v1h-58.5zM503.5 393h58.5v1h-58.5zM503.5 402h58.5v1h-58.5zM503.5 406h58.5v1h-58.5zM503.5 413h58.5v1h-58.5zM503.5 427h58.5v4h-58.5zM503.5 435h58.5v2h-58.5zM503.5 438h58.5v1h-58.5zM503.5 450h58.5v1h-58.5zM503.5 452h58.5v2h-58.5zM503.5 461h58.5v1h-58.5zM503.5 466h58.5v4h-58.5zM503.5 481h58.5v4h-58.5zM503.5 491h58.5v2h-58.5zM503.5 500h58.5v2h-58.5zM503.5 520h58.5v1h-58.5zM503.5 524h58.5v1h-58.5zM503.5 528h58.5v1h-58.5zM562 379h58v1h-58zM562 390h58v1h-58zM562 393h58v1h-58zM562 402h58v1h-58zM562 413h58v1h-58zM562 423h58v1h-58zM562 425h58v1h-58zM562 429h58v3h-58zM562 434h58v3h-58zM562 438h58v1h-58zM562 445h58v1h-58zM562 452h58v2h-58zM562 466h58v2h-58zM562 481h58v4h-58zM562 486h58v2h-58zM562 491h58v2h-58zM562 500h58v2h-58zM562 516h58v2h-58zM562 525h58v1h-58zM562 527h58v1h-58zM620 378h58v1h-58zM620 390h58v1h-58zM620 393h58v1h-58zM620 400h58v2h-58zM620 413h58v1h-58zM620 427h58v4h-58zM620 434h58v2h-58zM620 438h58v1h-58zM620 445h58v1h-58zM620 450h58v1h-58zM620 452h58v2h-58zM620 458h58v3h-58zM620 466h58v2h-58zM620 482h58v6h-58zM620 491h58v2h-58zM620 500h58v2h-58zM620 509h58v1h-58zM620 516h58v2h-58zM620 523h58v2h-58zM678 377h58.5v1h-58.5zM678 379h58.5v1h-58.5zM678 390h58.5v1h-58.5zM678 393h58.5v1h-58.5zM678 398h58.5v1h-58.5zM678 400h58.5v2h-58.5zM678 413h58.5v1h-58.5zM678 420h58.5v1h-58.5zM678 422h58.5v1h-58.5zM678 424h58.5v1h-58.5zM678 427h58.5v1h-58.5zM678 429h58.5v3h-58.5zM678 434h58.5v1h-58.5zM678 436h58.5v1h-58.5zM678 438h58.5v1h-58.5zM678 445h58.5v1h-58.5zM678 450h58.5v1h-58.5zM678 452h58.5v3h-58.5zM678 459h58.5v1h-58.5zM678 461h58.5v1h-58.5zM678 465h58.5v3h-58.5zM678 481h58.5v4h-58.5zM678 486h58.5v1h-58.5zM678 500h58.5v1h-58.5zM678 517h58.5v2h-58.5zM503.5 541h58.5v1h-58.5zM503.5 546h58.5v2h-58.5zM503.5 559h58.5v1h-58.5zM503.5 561h58.5v1h-58.5zM503.5 571h58.5v1h-58.5zM503.5 576h58.5v1h-58.5zM503.5 579h58.5v1h-58.5zM503.5 581h58.5v1h-58.5zM503.5 585h58.5v2h-58.5zM503.5 596h58.5v1h-58.5zM503.5 601h58.5v1h-58.5zM503.5 604h58.5v2h-58.5zM503.5 607h58.5v2h-58.5zM503.5 620h58.5v1h-58.5zM503.5 633h58.5v2h-58.5zM503.5 636h58.5v4h-58.5zM503.5 641h58.5v2h-58.5zM503.5 653h58.5v1h-58.5zM503.5 661h58.5v1h-58.5zM503.5 670h58.5v1h-58.5zM503.5 672h58.5v1h-58.5zM503.5 674h58.5v1h-58.5zM503.5 680h58.5v5h-58.5zM503.5 686h58.5v1h-58.5zM503.5 695h58.5v1h-58.5zM503.5 705h58.5v3h-58.5zM503.5 709h58.5v2h-58.5zM503.5 731h58.5v1h-58.5zM503.5 741h58.5v1h-58.5zM503.5 746h58.5v1h-58.5zM503.5 748h58.5v1h-58.5zM503.5 753h58.5v1h-58.5zM503.5 755h58.5v1h-58.5zM503.5 758h58.5v2h-58.5zM562 546h58v1h-58zM562 550h58v1h-58zM562 555h58v2h-58zM562 561h58v1h-58zM562 569h58v1h-58zM562 571h58v1h-58zM562 576h58v1h-58zM562 579h58v1h-58zM562 581h58v1h-58zM562 594h58v1h-58zM562 608h58v1h-58zM562 621h58v1h-58zM562 631h58v4h-58zM562 636h58v1h-58zM562 638h58v1h-58zM562 641h58v2h-58zM562 653h58v1h-58zM562 661h58v1h-58zM562 670h58v1h-58zM562 682h58v3h-58zM562 686h58v1h-58zM562 694h58v1h-58zM562 700h58v1h-58zM562 705h58v2h-58zM562 709h58v2h-58zM562 733h58v1h-58zM562 741h58v1h-58zM562 753h58v1h-58zM562 758h58v1h-58zM620 546h58v2h-58zM620 556h58v1h-58zM620 559h58v1h-58zM620 561h58v1h-58zM620 571h58v1h-58zM620 576h58v2h-58zM620 584h58v2h-58zM620 594h58v1h-58zM620 597h58v1h-58zM620 601h58v2h-58zM620 604h58v2h-58zM620 607h58v2h-58zM620 612h58v1h-58zM620 621h58v1h-58zM620 635h58v1h-58zM620 638h58v1h-58zM620 641h58v1h-58zM620 670h58v1h-58zM620 672h58v1h-58zM620 681h58v4h-58zM620 686h58v1h-58zM620 705h58v1h-58zM620 707h58v1h-58zM620 709h58v2h-58zM620 733h58v1h-58zM620 741h58v1h-58zM620 746h58v1h-58zM620 748h58v1h-58zM620 753h58v1h-58zM620 758h58v1h-58zM678 556h58.5v1h-58.5zM678 559h58.5v1h-58.5zM678 561h58.5v1h-58.5zM678 571h58.5v1h-58.5zM678 576h58.5v1h-58.5zM678 579h58.5v1h-58.5zM678 581h58.5v1h-58.5zM678 585h58.5v1h-58.5zM678 587h58.5v1h-58.5zM678 593h58.5v2h-58.5zM678 596h58.5v1h-58.5zM678 601h58.5v1h-58.5zM678 604h58.5v2h-58.5zM678 608h58.5v1h-58.5zM678 621h58.5v1h-58.5zM678 632h58.5v3h-58.5zM678 636h58.5v1h-58.5zM678 638h58.5v2h-58.5zM678 661h58.5v1h-58.5zM678 664h58.5v1h-58.5zM678 670h58.5v1h-58.5zM678 674h58.5v1h-58.5zM678 683h58.5v2h-58.5zM678 686h58.5v1h-58.5zM678 694h58.5v2h-58.5zM678 700h58.5v1h-58.5zM678 705h58.5v3h-58.5zM678 709h58.5v2h-58.5zM678 731h58.5v1h-58.5zM678 741h58.5v1h-58.5zM678 746h58.5v1h-58.5zM678 748h58.5v1h-58.5zM678 753h58.5v2h-58.5zM678 758h58.5v1h-58.5zM740 216h58v1h-58zM740 305h58v1h-58zM740 325h58v1h-58zM798 325h59v1h-59zM857 207h58v1h-58zM915 250h58v1h-58zM915 361h58v1h-58zM740 475h58v1h-58zM740 530h58v1h-58zM857 400h58v1h-58zM857 474h58v1h-58zM857 530h58v1h-58zM740 746h58v1h-58zM798 657h59v1h-59zM857 657h58v1h-58zM915 611h58v1h-58zM915 662h58v1h-58zM915 709h58v1h-58z"/>
<path fill="#281080" d="M503.5 176h58.5v2h-58.5zM503.5 184h58.5v1h-58.5zM503.5 196h58.5v1h-58.5zM503.5 215h58.5v1h-58.5zM503.5 257h58.5v1h-58.5zM503.5 266h58.5v1h-58.5zM503.5 274h58.5v1h-58.5zM503.5 306h58.5v1h-58.5zM503.5 353h58.5v1h-58.5zM562 171h58v1h-58zM562 176h58v2h-58zM562 196h58v1h-58zM562 248h58v1h-58zM562 257h58v1h-58zM562 306h58v1h-58zM562 344h58v1h-58zM620 152h58v1h-58zM620 177h58v1h-58zM620 248h58v1h-58zM620 280h58v1h-58zM620 289h58v1h-58zM620 293h58v1h-58zM620 344h58v1h-58zM678 180h58.5v1h-58.5zM678 184h58.5v1h-58.5zM503.5 388h58.5v1h-58.5zM503.5 409h58.5v1h-58.5zM503.5 414h58.5v1h-58.5zM503.5 421h58.5v1h-58.5zM503.5 441h58.5v1h-58.5zM503.5 447h58.5v1h-58.5zM503.5 504h58.5v1h-58.5zM503.5 527h58.5v1h-58.5zM562 386h58v1h-58zM562 389h58v1h-58zM562 432h58v1h-58zM562 451h58v1h-58zM562 462h58v1h-58zM562 506h58v1h-58zM620 379h58v1h-58zM620 389h58v1h-58zM620 405h58v1h-58zM620 409h58v1h-58zM620 421h58v1h-58zM620 441h58v1h-58zM620 447h58v1h-58zM620 451h58v1h-58zM620 462h58v1h-58zM620 506h58v1h-58zM620 515h58v1h-58zM678 432h58.5v1h-58.5zM678 441h58.5v1h-58.5zM678 451h58.5v1h-58.5zM678 462h58.5v1h-58.5zM678 513h58.5v1h-58.5zM503.5 553h58.5v2h-58.5zM503.5 588h58.5v1h-58.5zM503.5 592h58.5v1h-58.5zM503.5 635h58.5v1h-58.5zM503.5 658h58.5v1h-58.5zM503.5 667h58.5v1h-58.5zM503.5 697h58.5v1h-58.5zM562 553h58v1h-58zM562 652h58v1h-58zM562 696h58v1h-58zM562 703h58v1h-58zM562 715h58v1h-58zM562 719h58v1h-58zM562 734h58v1h-58zM620 649h58v1h-58zM620 654h58v1h-58zM620 693h58v1h-58zM620 730h58v1h-58zM620 734h58v1h-58zM620 739h58v2h-58zM678 614h58.5v1h-58.5zM678 652h58.5v1h-58.5zM678 654h58.5v1h-58.5zM678 696h58.5v1h-58.5zM678 704h58.5v1h-58.5zM678 718h58.5v1h-58.5z"/>
<path fill="#381878" d="M503.5 183h58.5v1h-58.5zM503.5 249h58.5v1h-58.5zM562 156h58v1h-58zM562 187h58v1h-58zM562 289h58v1h-58zM620 228h58v1h-58zM620 249h58v1h-58zM678 228h58.5v1h-58.5zM678 253h58.5v1h-58.5zM678 280h58.5v1h-58.5zM503.5 387h58.5v1h-58.5zM503.5 412h58.5v1h-58.5zM503.5 442h58.5v1h-58.5zM562 504h58v1h-58zM620 499h58v1h-58zM678 389h58.5v1h-58.5zM678 515h58.5v1h-58.5zM503.5 555h58.5v1h-58.5zM503.5 692h58.5v1h-58.5zM503.5 699h58.5v1h-58.5zM562 587h58v1h-58zM562 618h58v1h-58zM562 656h58v1h-58zM562 725h58v1h-58zM620 538h58v1h-58zM620 611h58v1h-58zM620 616h58v1h-58zM620 650h58v1h-58zM620 658h58v1h-58zM620 719h58v1h-58zM678 537h58.5v2h-58.5zM678 611h58.5v1h-58.5zM678 692h58.5v1h-58.5zM678 734h58.5v1h-58.5z"/>
<path fill="#682870" d="M503.5 192h58.5v1h-58.5zM503.5 287h58.5v1h-58.5zM503.5 354h58.5v1h-58.5zM562 158h58v1h-58zM562 160h58v1h-58zM562 235h58v1h-58zM562 277h58v1h-58zM562 335h58v1h-58zM562 354h58v1h-58zM620 219h58v1h-58zM620 224h58v1h-58zM620 335h58v1h-58zM678 231h58.5v1h-58.5zM678 329h58.5v1h-58.5zM678 351h58.5v1h-58.5zM562 448h58v1h-58zM562 520h58v1h-58zM678 408h58.5v1h-58.5zM678 499h58.5v1h-58.5zM503.5 615h58.5v1h-58.5zM503.5 618h58.5v1h-58.5zM503.5 625h58.5v1h-58.5zM503.5 648h58.5v1h-58.5zM503.5 656h58.5v1h-58.5zM503.5 665h58.5v1h-58.5zM562 563h58v1h-58zM562 643h58v1h-58zM620 563h58v1h-58zM620 567h58v1h-58zM620 625h58v1h-58zM620 656h58v1h-58zM620 726h58v1h-58zM620 743h58v1h-58zM620 756h58v1h-58zM678 543h58.5v1h-58.5zM678 599h58.5v1h-58.5zM678 625h58.5v1h-58.5zM678 648h58.5v1h-58.5zM678 656h58.5v1h-58.5zM678 666h58.5v1h-58.5zM678 716h58.5v1h-58.5z"/>
<path fill="#201080" d="M503.5 193h58.5v1h-58.5zM503.5 195h58.5v1h-58.5zM503.5 313h58.5v1h-58.5zM562 152h58v1h-58zM562 184h58v1h-58zM562 193h58v1h-58zM562 200h58v1h-58zM562 218h58v1h-58zM562 265h58v1h-58zM562 323h58v1h-58zM562 346h58v1h-58zM620 184h58v1h-58zM620 257h58v1h-58zM678 163h58.5v1h-58.5zM678 176h58.5v2h-58.5zM678 218h58.5v1h-58.5zM678 257h58.5v1h-58.5zM678 361h58.5v1h-58.5zM503.5 423h58.5v1h-58.5zM503.5 446h58.5v1h-58.5zM503.5 476h58.5v1h-58.5zM503.5 485h58.5v1h-58.5zM503.5 513h58.5v1h-58.5zM503.5 521h58.5v1h-58.5zM562 409h58v1h-58zM562 421h58v1h-58zM562 441h58v1h-58zM562 447h58v1h-58zM562 457h58v1h-58zM562 471h58v1h-58zM562 497h58v1h-58zM562 513h58v1h-58zM620 442h58v1h-58zM620 457h58v1h-58zM620 497h58v1h-58zM620 510h58v1h-58zM620 513h58v1h-58zM678 376h58.5v1h-58.5zM678 387h58.5v1h-58.5zM678 397h58.5v1h-58.5zM678 409h58.5v1h-58.5zM678 444h58.5v1h-58.5zM678 457h58.5v1h-58.5zM678 476h58.5v1h-58.5zM678 491h58.5v1h-58.5zM678 498h58.5v1h-58.5zM503.5 591h58.5v1h-58.5zM503.5 619h58.5v1h-58.5zM503.5 623h58.5v1h-58.5zM503.5 645h58.5v1h-58.5zM503.5 654h58.5v1h-58.5zM503.5 679h58.5v1h-58.5zM503.5 685h58.5v1h-58.5zM503.5 744h58.5v1h-58.5zM562 554h58v1h-58zM562 582h58v1h-58zM562 588h58v1h-58zM562 623h58v1h-58zM562 649h58v1h-58zM562 654h58v1h-58zM562 721h58v1h-58zM620 568h58v1h-58zM620 588h58v1h-58zM620 593h58v1h-58zM620 623h58v1h-58zM620 645h58v1h-58zM620 652h58v1h-58zM620 685h58v1h-58zM678 554h58.5v1h-58.5zM678 568h58.5v1h-58.5zM678 582h58.5v1h-58.5zM678 588h58.5v1h-58.5zM678 592h58.5v1h-58.5zM678 623h58.5v1h-58.5zM678 635h58.5v1h-58.5zM678 685h58.5v1h-58.5zM678 697h58.5v1h-58.5z"/>
<path fill="#e06058" d="M503.5 194h58.5v1h-58.5zM562 194h58v1h-58zM678 490h58.5v1h-58.5zM678 729h58.5v1h-58.5z"/>
<path fill="#e85850" d="M503.5 197h58.5v1h-58.5zM620 197h58v1h-58zM678 197h58.5v1h-58.5zM503.5 443h58.5v2h-58.5zM620 376h58v1h-58z"/>
<path fill="#903868" d="M503.5 198h58.5v1h-58.5zM620 198h58v1h-58zM678 161h58.5v1h-58.5zM620 410h58v1h-58zM678 509h58.5v1h-58.5zM503.5 569h58.5v1h-58.5zM503.5 750h58.5v2h-58.5zM620 647h58v1h-58zM620 731h58v1h-58zM678 567h58.5v1h-58.5zM678 750h58.5v1h-58.5z"/>
<path fill="#481878" d="M503.5 206h58.5v1h-58.5zM503.5 212h58.5v1h-58.5zM503.5 236h58.5v1h-58.5zM562 206h58v1h-58zM562 370h58v1h-58zM620 155h58v2h-58zM620 183h58v1h-58zM678 212h58.5v1h-58.5zM503.5 496h58.5v1h-58.5zM503.5 515h58.5v1h-58.5zM562 387h58v1h-58zM562 414h58v1h-58zM620 382h58v1h-58zM620 455h58v1h-58zM620 475h58v1h-58zM620 502h58v1h-58zM620 508h58v1h-58zM620 530h58v1h-58zM678 418h58.5v1h-58.5zM678 510h58.5v1h-58.5zM678 530h58.5v1h-58.5zM503.5 675h58.5v1h-58.5zM503.5 678h58.5v1h-58.5zM562 605h58v1h-58zM562 716h58v1h-58zM620 609h58v1h-58zM620 614h58v1h-58zM620 678h58v1h-58zM678 609h58.5v1h-58.5zM678 726h58.5v1h-58.5z"/>
<path fill="#883068" d="M503.5 210h58.5v1h-58.5zM562 162h58v1h-58zM503.5 383h58.5v1h-58.5zM562 417h58v1h-58zM678 411h58.5v1h-58.5zM620 666h58v1h-58z"/>
<path fill="#602870" d="M503.5 219h58.5v1h-58.5zM503.5 252h58.5v1h-58.5zM503.5 335h58.5v1h-58.5zM562 210h58v1h-58zM562 287h58v1h-58zM562 329h58v1h-58zM620 173h58v1h-58zM620 252h58v1h-58zM678 192h58.5v1h-58.5zM678 330h58.5v1h-58.5zM678 335h58.5v1h-58.5zM678 350h58.5v1h-58.5zM678 354h58.5v1h-58.5zM562 388h58v1h-58zM562 503h58v1h-58zM503.5 563h58.5v1h-58.5zM503.5 712h58.5v1h-58.5zM503.5 716h58.5v1h-58.5zM562 565h58v1h-58zM562 599h58v1h-58zM562 698h58v1h-58zM562 744h58v1h-58zM562 751h58v1h-58zM620 565h58v1h-58zM620 735h58v1h-58z"/>
<path fill="#502078" d="M503.5 225h58.5v1h-58.5zM503.5 362h58.5v1h-58.5zM562 183h58v1h-58zM562 192h58v1h-58zM562 231h58v1h-58zM562 350h58v1h-58zM620 192h58v1h-58zM620 235h58v2h-58zM620 277h58v1h-58zM620 287h58v1h-58zM620 350h58v1h-58zM678 183h58.5v1h-58.5zM678 206h58.5v1h-58.5zM678 224h58.5v1h-58.5zM678 287h58.5v1h-58.5zM503.5 439h58.5v1h-58.5zM503.5 508h58.5v1h-58.5zM562 406h58v1h-58zM562 418h58v1h-58zM562 439h58v1h-58zM562 508h58v1h-58zM620 406h58v1h-58zM620 470h58v1h-58zM678 406h58.5v1h-58.5zM678 439h58.5v1h-58.5zM678 442h58.5v1h-58.5zM678 470h58.5v1h-58.5zM678 503h58.5v1h-58.5zM678 521h58.5v1h-58.5zM503.5 728h58.5v1h-58.5zM503.5 756h58.5v1h-58.5zM562 543h58v1h-58zM562 549h58v1h-58zM562 566h58v1h-58zM562 610h58v1h-58zM562 650h58v1h-58zM562 728h58v1h-58zM620 549h58v1h-58zM620 610h58v1h-58zM620 663h58v1h-58zM620 675h58v1h-58zM678 549h58.5v1h-58.5zM678 566h58.5v1h-58.5zM678 678h58.5v1h-58.5zM678 681h58.5v1h-58.5zM678 698h58.5v1h-58.5zM678 743h58.5v1h-58.5z"/>
<path fill="#883868" d="M503.5 237h58.5v1h-58.5zM620 161h58v1h-58zM620 166h58v1h-58zM620 256h58v1h-58zM678 275h58.5v1h-58.5zM503.5 381h58.5v1h-58.5zM503.5 410h58.5v1h-58.5zM562 460h58v1h-58zM562 479h58v1h-58zM678 469h58.5v1h-58.5zM503.5 727h58.5v1h-58.5zM562 567h58v1h-58zM562 647h58v1h-58zM620 544h58v1h-58zM620 646h58v1h-58zM620 727h58v1h-58zM678 615h58.5v1h-58.5zM678 647h58.5v1h-58.5zM678 689h58.5v1h-58.5zM678 751h58.5v1h-58.5z"/>
<path fill="#702870" d="M503.5 245h58.5v1h-58.5zM562 198h58v1h-58zM620 209h58v1h-58zM678 149h58.5v1h-58.5zM678 158h58.5v1h-58.5zM678 252h58.5v1h-58.5zM678 256h58.5v1h-58.5zM678 362h58.5v1h-58.5zM503.5 688h58.5v2h-58.5zM562 701h58v1h-58zM562 712h58v1h-58zM562 750h58v1h-58zM620 543h58v1h-58zM620 599h58v1h-58zM620 688h58v1h-58zM620 716h58v1h-58z"/>
<path fill="#d05058" d="M503.5 255h58.5v1h-58.5zM562 166h58v1h-58zM503.5 613h58.5v1h-58.5zM620 569h58v1h-58z"/>
<path fill="#c04858" d="M503.5 267h58.5v1h-58.5zM562 408h58v1h-58zM620 479h58v1h-58zM503.5 590h58.5v1h-58.5zM503.5 737h58.5v1h-58.5zM562 688h58v1h-58zM562 737h58v1h-58zM678 691h58.5v1h-58.5zM678 737h58.5v1h-58.5z"/>
<path fill="#703070" d="M503.5 330h58.5v1h-58.5zM562 149h58v1h-58zM562 191h58v1h-58zM620 245h58v1h-58zM678 191h58.5v1h-58.5zM562 383h58v1h-58zM562 521h58v1h-58zM678 448h58.5v1h-58.5zM503.5 690h58.5v1h-58.5zM562 615h58v1h-58zM620 551h58v1h-58zM620 689h58v1h-58zM620 712h58v1h-58z"/>
<path fill="#b84858" d="M503.5 332h58.5v1h-58.5zM620 154h58v1h-58zM620 162h58v1h-58zM620 267h58v1h-58zM678 225h58.5v1h-58.5zM503.5 411h58.5v1h-58.5zM503.5 479h58.5v1h-58.5zM503.5 693h58.5v1h-58.5zM562 627h58v1h-58zM678 613h58.5v1h-58.5z"/>
<path fill="#a84060" d="M562 197h58v1h-58zM620 237h58v1h-58zM620 255h58v1h-58zM678 181h58.5v1h-58.5zM562 420h58v1h-58zM562 469h58v1h-58zM503.5 537h58.5v1h-58.5zM503.5 701h58.5v1h-58.5zM620 701h58v1h-58z"/>
<path fill="#b04858" d="M562 267h58v1h-58zM562 416h58v1h-58zM503.5 551h58.5v1h-58.5zM503.5 644h58.5v1h-58.5zM503.5 691h58.5v1h-58.5zM620 644h58v1h-58zM678 552h58.5v1h-58.5zM678 644h58.5v1h-58.5z"/>
<path fill="#b04060" d="M562 332h58v1h-58zM678 166h58.5v1h-58.5zM503.5 544h58.5v1h-58.5zM503.5 627h58.5v1h-58.5zM562 691h58v1h-58z"/>
<path fill="#a04060" d="M620 149h58v1h-58zM503.5 416h58.5v1h-58.5zM620 448h58v1h-58zM678 383h58.5v1h-58.5zM678 416h58.5v1h-58.5zM562 702h58v1h-58zM620 574h58v1h-58zM620 737h58v1h-58zM678 569h58.5v1h-58.5zM678 574h58.5v1h-58.5zM678 627h58.5v1h-58.5zM678 643h58.5v1h-58.5z"/>
<path fill="#582078" d="M678 173h58.5v1h-58.5zM620 408h58v1h-58zM620 463h58v1h-58zM678 463h58.5v1h-58.5zM503.5 539h58.5v1h-58.5zM503.5 599h58.5v1h-58.5zM678 565h58.5v1h-58.5zM678 756h58.5v1h-58.5z"/>
<path fill="#983860" d="M678 198h58.5v1h-58.5zM503.5 417h58.5v1h-58.5zM503.5 516h58.5v1h-58.5zM678 417h58.5v1h-58.5zM678 479h58.5v1h-58.5zM562 574h58v1h-58zM562 690h58v1h-58zM620 691h58v1h-58zM678 544h58.5v1h-58.5zM678 650h58.5v1h-58.5zM678 690h58.5v1h-58.5z"/>
<path fill="#e05858" d="M678 281h58.5v1h-58.5zM678 702h58.5v1h-58.5z"/>
<path fill="#d05050" d="M678 332h58.5v1h-58.5zM503.5 420h58.5v1h-58.5z"/>
<path fill="#f06858" d="M503.5 376h58.5v1h-58.5z"/>
<path fill="#e05850" d="M503.5 471h58.5v1h-58.5z"/>
<path fill="#e06060" d="M503.5 522h58.5v1h-58.5zM562 522h58v1h-58z"/>
<path fill="#f07068" d="M562 376h58v1h-58z"/>
<path fill="#e07070" d="M562 443h58v1h-58z"/>
<path fill="#181088" d="M562 444h58v1h-58z"/>
<path fill="#e06868" d="M620 443h58v1h-58zM503.5 729h58.5v1h-58.5z"/>
<path fill="#201088" d="M620 444h58v1h-58zM562 583h58v1h-58z"/>
<path fill="#d85050" d="M620 469h58v1h-58zM678 443h58.5v1h-58.5zM562 755h58v1h-58zM620 627h58v1h-58zM620 702h58v1h-58z"/>
<path fill="#984060" d="M678 471h58.5v1h-58.5zM503.5 574h58.5v1h-58.5zM562 544h58v1h-58z"/>
<path fill="#e06870" d="M562 584h58v1h-58z"/>
<path fill="#d86868" d="M562 590h58v1h-58z"/>
<path fill="#301880" d="M562 640h58v1h-58zM678 701h58.5v1h-58.5z"/>
<path fill="#e07878" d="M562 729h58v1h-58zM620 729h58v1h-58z"/>
<path fill="#d86870" d="M620 590h58v1h-58z"/>
<path fill="#d86060" d="M678 590h58.5v1h-58.5z"/>
<path fill="#885840" d="M740 149h58v1h-58zM740 170h58v1h-58zM740 172h58v1h-58zM740 211h58v1h-58zM740 223h58v1h-58zM740 287h58v1h-58zM740 323h58v1h-58zM740 339h58v1h-58zM740 345h58v1h-58zM798 149h59v1h-59zM798 170h59v1h-59zM798 174h59v1h-59zM798 196h59v1h-59zM798 287h59v1h-59zM798 291h59v1h-59zM798 293h59v1h-59zM857 183h58v1h-58zM857 188h58v1h-58zM857 247h58v1h-58zM857 252h58v1h-58zM857 273h58v1h-58zM857 323h58v1h-58zM915 155h58v1h-58zM915 170h58v1h-58zM915 261h58v1h-58zM915 283h58v1h-58zM915 316h58v1h-58zM915 348h58v1h-58zM915 370h58v1h-58zM740 405h58v1h-58zM740 415h58v1h-58zM740 432h58v1h-58zM740 439h58v1h-58zM740 444h58v2h-58zM740 448h58v1h-58zM740 450h58v1h-58zM740 455h58v1h-58zM740 517h58v1h-58zM798 376h59v1h-59zM798 477h59v1h-59zM857 434h58v1h-58zM857 439h58v1h-58zM857 450h58v1h-58zM857 470h58v1h-58zM857 496h58v1h-58zM915 406h58v1h-58zM915 431h58v1h-58zM915 492h58v1h-58zM915 525h58v1h-58zM740 652h58v1h-58zM740 664h58v1h-58zM740 671h58v1h-58zM740 685h58v1h-58zM740 712h58v1h-58zM740 720h58v1h-58zM740 727h58v1h-58zM740 757h58v1h-58zM798 543h59v1h-59zM798 548h59v1h-59zM798 572h59v1h-59zM798 605h59v1h-59zM798 622h59v2h-59zM798 681h59v1h-59zM798 697h59v1h-59zM798 707h59v1h-59zM798 740h59v1h-59zM857 655h58v1h-58zM857 681h58v1h-58zM857 699h58v1h-58zM915 543h58v1h-58zM915 579h58v1h-58zM915 624h58v1h-58zM915 671h58v1h-58zM915 739h58v1h-58zM915 754h58v1h-58z"/>
<path fill="#100880" d="M740 150h58v1h-58zM740 161h58v1h-58zM740 205h58v1h-58zM740 208h58v1h-58zM740 217h58v1h-58zM740 226h58v1h-58zM740 241h58v1h-58zM740 249h58v1h-58zM740 253h58v1h-58zM740 301h58v1h-58zM740 317h58v1h-58zM740 332h58v1h-58zM740 350h58v1h-58zM740 364h58v2h-58zM740 368h58v1h-58zM798 158h59v1h-59zM798 161h59v1h-59zM798 194h59v1h-59zM798 205h59v1h-59zM798 208h59v1h-59zM798 226h59v1h-59zM798 233h59v1h-59zM798 238h59v1h-59zM798 240h59v1h-59zM798 300h59v2h-59zM798 313h59v1h-59zM798 322h59v1h-59zM798 324h59v1h-59zM798 331h59v1h-59zM798 337h59v1h-59zM798 359h59v1h-59zM798 366h59v1h-59zM857 157h58v1h-58zM857 179h58v1h-58zM857 205h58v1h-58zM857 213h58v1h-58zM857 217h58v1h-58zM857 237h58v1h-58zM857 240h58v1h-58zM857 249h58v1h-58zM857 300h58v2h-58zM857 317h58v1h-58zM857 326h58v1h-58zM857 332h58v1h-58zM857 359h58v1h-58zM915 153h58v1h-58zM915 161h58v1h-58zM915 167h58v1h-58zM915 179h58v1h-58zM915 205h58v1h-58zM915 214h58v1h-58zM915 220h58v1h-58zM915 226h58v1h-58zM915 231h58v1h-58zM915 240h58v2h-58zM915 244h58v1h-58zM915 269h58v1h-58zM915 275h58v1h-58zM915 301h58v1h-58zM915 304h58v1h-58zM915 310h58v1h-58zM915 313h58v2h-58zM915 318h58v1h-58zM915 332h58v1h-58zM915 340h58v1h-58zM915 364h58v1h-58zM915 366h58v1h-58zM740 394h58v1h-58zM740 406h58v1h-58zM740 408h58v1h-58zM740 451h58v2h-58zM740 465h58v1h-58zM740 485h58v1h-58zM740 506h58v2h-58zM740 519h58v1h-58zM798 388h59v1h-59zM798 437h59v1h-59zM798 439h59v2h-59zM798 465h59v2h-59zM798 485h59v1h-59zM798 492h59v1h-59zM798 506h59v2h-59zM798 519h59v1h-59zM798 530h59v1h-59zM857 406h58v1h-58zM857 465h58v2h-58zM857 473h58v1h-58zM857 479h58v1h-58zM857 485h58v1h-58zM857 506h58v1h-58zM857 519h58v1h-58zM915 391h58v1h-58zM915 399h58v1h-58zM915 409h58v1h-58zM915 412h58v1h-58zM915 417h58v2h-58zM915 420h58v1h-58zM915 430h58v1h-58zM915 436h58v1h-58zM915 440h58v1h-58zM915 452h58v1h-58zM915 500h58v1h-58zM915 506h58v1h-58zM915 516h58v1h-58zM915 519h58v1h-58zM740 561h58v1h-58zM740 577h58v1h-58zM740 593h58v1h-58zM740 596h58v1h-58zM740 617h58v1h-58zM740 639h58v2h-58zM740 646h58v1h-58zM740 649h58v1h-58zM740 658h58v1h-58zM740 663h58v1h-58zM740 683h58v1h-58zM740 703h58v1h-58zM740 719h58v1h-58zM740 725h58v1h-58zM740 735h58v1h-58zM740 748h58v2h-58zM798 557h59v1h-59zM798 561h59v2h-59zM798 567h59v1h-59zM798 569h59v1h-59zM798 596h59v1h-59zM798 602h59v1h-59zM798 639h59v2h-59zM798 644h59v1h-59zM798 646h59v1h-59zM798 649h59v1h-59zM798 658h59v1h-59zM798 663h59v1h-59zM798 703h59v1h-59zM798 709h59v1h-59zM798 749h59v1h-59zM798 757h59v1h-59zM857 557h58v1h-58zM857 569h58v1h-58zM857 571h58v1h-58zM857 578h58v1h-58zM857 593h58v1h-58zM857 596h58v1h-58zM857 599h58v1h-58zM857 601h58v1h-58zM857 638h58v1h-58zM857 642h58v1h-58zM857 644h58v1h-58zM857 649h58v1h-58zM857 658h58v1h-58zM857 683h58v1h-58zM857 716h58v1h-58zM857 719h58v1h-58zM857 725h58v1h-58zM857 734h58v1h-58zM857 738h58v1h-58zM857 745h58v1h-58zM857 749h58v1h-58zM915 583h58v1h-58zM915 593h58v1h-58zM915 596h58v1h-58zM915 638h58v2h-58zM915 679h58v1h-58zM915 683h58v1h-58zM915 690h58v2h-58zM915 705h58v1h-58zM915 734h58v1h-58zM915 746h58v1h-58z"/>
<path fill="#281878" d="M740 151h58v1h-58zM740 162h58v1h-58zM740 167h58v1h-58zM740 176h58v1h-58zM740 200h58v1h-58zM740 242h58v1h-58zM740 292h58v1h-58zM740 294h58v1h-58zM740 328h58v1h-58zM740 361h58v1h-58zM798 200h59v1h-59zM798 212h59v1h-59zM798 239h59v1h-59zM798 268h59v1h-59zM798 274h59v1h-59zM798 294h59v1h-59zM798 361h59v1h-59zM857 162h58v1h-58zM857 176h58v1h-58zM857 184h58v1h-58zM857 187h58v1h-58zM857 189h58v1h-58zM857 201h58v1h-58zM857 206h58v1h-58zM857 268h58v1h-58zM857 274h58v1h-58zM857 281h58v1h-58zM915 169h58v1h-58zM915 206h58v1h-58zM915 255h58v1h-58zM915 285h58v1h-58zM915 294h58v1h-58zM915 308h58v1h-58zM915 337h58v1h-58zM915 342h58v1h-58zM915 357h58v1h-58zM740 390h58v1h-58zM740 429h58v1h-58zM740 434h58v1h-58zM740 458h58v1h-58zM740 497h58v1h-58zM798 390h59v1h-59zM798 455h59v1h-59zM798 479h59v1h-59zM798 483h59v1h-59zM798 494h59v2h-59zM798 525h59v1h-59zM857 413h58v1h-58zM857 422h58v1h-58zM857 495h58v1h-58zM857 497h58v1h-58zM857 525h58v1h-58zM915 379h58v1h-58zM915 410h58v1h-58zM915 422h58v1h-58zM915 447h58v1h-58zM915 493h58v2h-58zM740 550h58v1h-58zM740 558h58v1h-58zM740 603h58v2h-58zM740 625h58v1h-58zM740 635h58v1h-58zM740 668h58v1h-58zM740 675h58v1h-58zM740 698h58v1h-58zM740 722h58v1h-58zM740 728h58v1h-58zM798 544h59v1h-59zM798 564h59v1h-59zM798 586h59v1h-59zM798 635h59v1h-59zM798 656h59v1h-59zM798 670h59v1h-59zM798 675h59v1h-59zM798 696h59v1h-59zM857 554h58v1h-58zM857 586h58v1h-58zM857 625h58v1h-58zM857 627h58v1h-58zM857 632h58v1h-58zM857 698h58v1h-58zM857 731h58v2h-58zM857 753h58v1h-58zM915 560h58v1h-58zM915 629h58v1h-58zM915 636h58v1h-58zM915 656h58v1h-58zM915 698h58v1h-58zM915 710h58v1h-58zM915 721h58v1h-58zM915 728h58v1h-58z"/>
<path fill="#181080" d="M740 153h58v1h-58zM740 156h58v1h-58zM740 163h58v1h-58zM740 186h58v2h-58zM740 195h58v1h-58zM740 215h58v1h-58zM740 228h58v1h-58zM740 231h58v1h-58zM740 240h58v1h-58zM740 261h58v1h-58zM740 285h58v1h-58zM740 310h58v1h-58zM740 313h58v1h-58zM740 315h58v1h-58zM740 322h58v1h-58zM740 324h58v1h-58zM740 330h58v1h-58zM740 334h58v1h-58zM740 359h58v1h-58zM740 369h58v1h-58zM798 153h59v1h-59zM798 159h59v1h-59zM798 163h59v1h-59zM798 173h59v1h-59zM798 175h59v1h-59zM798 179h59v1h-59zM798 189h59v1h-59zM798 193h59v1h-59zM798 195h59v1h-59zM798 215h59v1h-59zM798 217h59v1h-59zM798 228h59v1h-59zM798 230h59v1h-59zM798 270h59v1h-59zM798 310h59v1h-59zM798 330h59v1h-59zM798 340h59v1h-59zM798 351h59v1h-59zM798 364h59v2h-59zM857 153h58v1h-58zM857 156h58v1h-58zM857 161h58v1h-58zM857 163h58v1h-58zM857 173h58v1h-58zM857 186h58v1h-58zM857 193h58v1h-58zM857 208h58v1h-58zM857 215h58v1h-58zM857 227h58v2h-58zM857 236h58v1h-58zM857 253h58v1h-58zM857 285h58v1h-58zM857 310h58v1h-58zM857 313h58v1h-58zM857 351h58v1h-58zM857 364h58v2h-58zM857 369h58v1h-58zM915 149h58v1h-58zM915 154h58v1h-58zM915 156h58v1h-58zM915 176h58v1h-58zM915 178h58v1h-58zM915 192h58v1h-58zM915 200h58v2h-58zM915 208h58v1h-58zM915 213h58v1h-58zM915 215h58v1h-58zM915 221h58v1h-58zM915 227h58v2h-58zM915 230h58v1h-58zM915 239h58v1h-58zM915 251h58v1h-58zM915 256h58v1h-58zM915 259h58v1h-58zM915 262h58v1h-58zM915 268h58v1h-58zM915 279h58v1h-58zM915 309h58v1h-58zM915 320h58v1h-58zM915 330h58v2h-58zM915 369h58v1h-58zM740 381h58v1h-58zM740 395h58v1h-58zM740 400h58v1h-58zM740 403h58v2h-58zM740 411h58v1h-58zM740 418h58v2h-58zM740 433h58v1h-58zM740 435h58v1h-58zM740 437h58v2h-58zM740 440h58v1h-58zM740 442h58v1h-58zM740 476h58v1h-58zM740 478h58v1h-58zM740 480h58v1h-58zM740 529h58v1h-58zM798 386h59v2h-59zM798 398h59v1h-59zM798 402h59v2h-59zM798 409h59v1h-59zM798 416h59v1h-59zM798 418h59v2h-59zM798 430h59v1h-59zM798 452h59v1h-59zM798 463h59v1h-59zM798 476h59v1h-59zM798 491h59v1h-59zM798 493h59v1h-59zM798 520h59v1h-59zM798 529h59v1h-59zM857 377h58v1h-58zM857 381h58v1h-58zM857 388h58v1h-58zM857 403h58v1h-58zM857 409h58v1h-58zM857 417h58v1h-58zM857 430h58v1h-58zM857 437h58v2h-58zM857 440h58v1h-58zM857 476h58v1h-58zM857 480h58v1h-58zM857 488h58v1h-58zM857 494h58v1h-58zM857 503h58v1h-58zM857 529h58v1h-58zM915 397h58v1h-58zM915 402h58v1h-58zM915 408h58v1h-58zM915 411h58v1h-58zM915 427h58v1h-58zM915 463h58v1h-58zM915 477h58v1h-58zM915 484h58v1h-58zM915 497h58v1h-58zM915 520h58v1h-58zM915 528h58v1h-58zM740 541h58v1h-58zM740 551h58v1h-58zM740 564h58v1h-58zM740 569h58v1h-58zM740 571h58v1h-58zM740 578h58v1h-58zM740 592h58v1h-58zM740 598h58v1h-58zM740 611h58v1h-58zM740 654h58v1h-58zM740 679h58v1h-58zM740 682h58v1h-58zM740 684h58v1h-58zM740 687h58v1h-58zM740 706h58v1h-58zM740 717h58v2h-58zM740 750h58v1h-58zM798 558h59v1h-59zM798 571h59v1h-59zM798 578h59v1h-59zM798 588h59v1h-59zM798 595h59v1h-59zM798 601h59v1h-59zM798 611h59v1h-59zM798 618h59v1h-59zM798 682h59v2h-59zM798 687h59v1h-59zM798 693h59v1h-59zM798 706h59v1h-59zM798 712h59v1h-59zM798 725h59v1h-59zM798 734h59v1h-59zM798 746h59v1h-59zM798 756h59v1h-59zM857 544h58v1h-58zM857 551h58v1h-58zM857 558h58v1h-58zM857 561h58v1h-58zM857 582h58v2h-58zM857 595h58v1h-58zM857 603h58v1h-58zM857 610h58v2h-58zM857 618h58v1h-58zM857 654h58v1h-58zM857 663h58v1h-58zM857 682h58v1h-58zM857 684h58v1h-58zM857 692h58v1h-58zM857 703h58v1h-58zM857 706h58v1h-58zM857 750h58v1h-58zM857 756h58v2h-58zM915 537h58v1h-58zM915 553h58v1h-58zM915 563h58v2h-58zM915 567h58v1h-58zM915 569h58v1h-58zM915 574h58v1h-58zM915 586h58v1h-58zM915 592h58v1h-58zM915 595h58v1h-58zM915 606h58v1h-58zM915 612h58v1h-58zM915 618h58v1h-58zM915 640h58v1h-58zM915 644h58v1h-58zM915 646h58v1h-58zM915 649h58v1h-58zM915 658h58v1h-58zM915 667h58v1h-58zM915 670h58v1h-58zM915 681h58v1h-58zM915 687h58v1h-58zM915 713h58v1h-58zM915 738h58v1h-58zM915 748h58v2h-58zM915 751h58v1h-58z"/>
<path fill="#905840" d="M740 154h58v1h-58zM740 174h58v1h-58zM740 258h58v1h-58zM798 356h59v1h-59zM857 155h58v1h-58zM857 160h58v1h-58zM857 287h58v1h-58zM857 339h58v1h-58zM740 431h58v1h-58zM740 516h58v1h-58zM798 461h59v1h-59zM798 527h59v1h-59zM857 500h58v1h-58zM915 377h58v1h-58zM915 461h58v1h-58zM740 742h58v1h-58zM798 674h59v1h-59zM857 545h58v1h-58zM915 695h58v1h-58z"/>
<path fill="#704850" d="M740 155h58v1h-58zM740 160h58v1h-58zM740 192h58v1h-58zM740 202h58v1h-58zM740 214h58v1h-58zM740 263h58v1h-58zM740 267h58v1h-58zM740 307h58v1h-58zM798 150h59v1h-59zM798 156h59v1h-59zM798 164h59v1h-59zM798 184h59v1h-59zM798 213h59v1h-59zM798 263h59v1h-59zM798 265h59v1h-59zM798 316h59v1h-59zM798 358h59v1h-59zM857 167h58v1h-58zM857 202h58v1h-58zM857 211h58v1h-58zM857 223h58v1h-58zM857 263h58v1h-58zM857 288h58v1h-58zM857 291h58v1h-58zM857 329h58v1h-58zM857 348h58v1h-58zM915 151h58v1h-58zM915 164h58v1h-58zM915 184h58v1h-58zM915 187h58v1h-58zM915 254h58v1h-58zM915 319h58v1h-58zM915 349h58v1h-58zM740 384h58v1h-58zM740 498h58v1h-58zM798 384h59v1h-59zM798 447h59v1h-59zM798 471h59v1h-59zM798 482h59v1h-59zM798 501h59v1h-59zM857 387h58v1h-58zM857 456h58v1h-58zM857 461h58v1h-58zM857 472h58v1h-58zM857 499h58v1h-58zM857 501h58v2h-58zM915 378h58v1h-58zM915 393h58v1h-58zM915 487h58v1h-58zM915 490h58v1h-58zM915 524h58v1h-58zM740 546h58v1h-58zM740 597h58v1h-58zM740 622h58v1h-58zM740 636h58v1h-58zM740 660h58v1h-58zM740 710h58v1h-58zM740 729h58v1h-58zM740 755h58v1h-58zM798 538h59v1h-59zM798 540h59v1h-59zM798 636h59v1h-59zM798 685h59v1h-59zM798 694h59v1h-59zM798 715h59v1h-59zM798 723h59v1h-59zM798 730h59v1h-59zM798 754h59v1h-59zM798 759h59v1h-59zM857 573h58v1h-58zM857 594h58v1h-58zM857 667h58v1h-58zM857 723h58v1h-58zM857 751h58v1h-58zM915 555h58v1h-58zM915 643h58v1h-58zM915 729h58v1h-58zM915 733h58v1h-58zM915 755h58v1h-58z"/>
<path fill="#402868" d="M740 157h58v1h-58zM740 239h58v1h-58zM740 257h58v1h-58zM740 308h58v1h-58zM798 257h59v1h-59zM798 277h59v1h-59zM798 360h59v1h-59zM857 257h58v1h-58zM857 270h58v1h-58zM857 277h58v1h-58zM857 308h58v1h-58zM857 333h58v1h-58zM857 355h58v1h-58zM857 360h58v1h-58zM915 152h58v1h-58zM915 157h58v1h-58zM915 210h58v1h-58zM915 284h58v1h-58zM915 292h58v1h-58zM915 312h58v1h-58zM915 335h58v1h-58zM915 347h58v1h-58zM915 354h58v2h-58zM915 360h58v1h-58zM740 407h58v1h-58zM740 428h58v1h-58zM798 389h59v1h-59zM798 426h59v1h-59zM798 435h59v1h-59zM798 469h59v1h-59zM798 489h59v1h-59zM857 423h58v1h-58zM857 467h58v1h-58zM857 489h58v1h-58zM915 398h58v1h-58zM915 423h58v1h-58zM915 426h58v1h-58zM915 435h58v1h-58zM915 479h58v1h-58zM740 536h58v1h-58zM740 542h58v1h-58zM740 566h58v1h-58zM740 673h58v1h-58zM740 688h58v2h-58zM740 739h58v1h-58zM798 542h59v1h-59zM798 615h59v1h-59zM798 669h59v1h-59zM798 690h59v1h-59zM798 692h59v1h-59zM798 714h59v1h-59zM798 729h59v1h-59zM798 737h59v1h-59zM857 536h58v1h-58zM857 570h58v1h-58zM857 574h58v1h-58zM857 585h58v1h-58zM857 600h58v1h-58zM857 612h58v1h-58zM857 614h58v1h-58zM857 714h58v1h-58zM915 558h58v1h-58zM915 672h58v1h-58zM915 692h58v1h-58zM915 726h58v1h-58zM915 758h58v1h-58z"/>
<path fill="#201878" d="M740 158h58v1h-58zM740 175h58v1h-58zM740 189h58v1h-58zM740 219h58v1h-58zM740 232h58v1h-58zM740 255h58v1h-58zM740 259h58v1h-58zM740 279h58v1h-58zM740 281h58v1h-58zM740 286h58v1h-58zM740 302h58v1h-58zM740 304h58v1h-58zM740 306h58v1h-58zM798 151h59v1h-59zM798 162h59v1h-59zM798 167h59v1h-59zM798 187h59v1h-59zM798 201h59v1h-59zM798 232h59v1h-59zM798 253h59v1h-59zM798 296h59v1h-59zM798 315h59v1h-59zM798 328h59v1h-59zM798 341h59v1h-59zM798 346h59v1h-59zM798 363h59v1h-59zM798 369h59v1h-59zM857 220h58v1h-58zM857 230h58v1h-58zM857 255h58v1h-58zM857 259h58v1h-58zM857 261h58v1h-58zM857 271h58v1h-58zM857 279h58v1h-58zM857 286h58v1h-58zM857 296h58v1h-58zM857 315h58v1h-58zM857 328h58v1h-58zM857 341h58v1h-58zM857 363h58v1h-58zM915 158h58v1h-58zM915 163h58v1h-58zM915 174h58v1h-58zM915 186h58v1h-58zM915 189h58v1h-58zM915 219h58v1h-58zM915 223h58v1h-58zM915 233h58v1h-58zM915 260h58v1h-58zM915 296h58v1h-58zM915 341h58v1h-58zM915 359h58v1h-58zM740 379h58v1h-58zM740 402h58v1h-58zM740 416h58v1h-58zM740 424h58v1h-58zM740 493h58v3h-58zM740 509h58v1h-58zM740 513h58v1h-58zM740 525h58v1h-58zM798 377h59v1h-59zM798 379h59v1h-59zM798 406h59v1h-59zM798 411h59v1h-59zM798 413h59v1h-59zM798 415h59v1h-59zM798 429h59v1h-59zM798 449h59v1h-59zM798 458h59v1h-59zM857 379h58v1h-58zM857 386h58v1h-58zM857 394h58v1h-58zM857 397h58v1h-58zM857 404h58v1h-58zM857 419h58v1h-58zM857 424h58v1h-58zM857 433h58v1h-58zM857 442h58v1h-58zM857 446h58v1h-58zM857 452h58v1h-58zM857 455h58v1h-58zM857 458h58v1h-58zM857 468h58v1h-58zM857 493h58v1h-58zM857 513h58v1h-58zM857 520h58v1h-58zM857 523h58v1h-58zM915 413h58v1h-58zM915 424h58v1h-58zM915 448h58v1h-58zM915 509h58v1h-58zM915 513h58v2h-58zM915 523h58v1h-58zM740 553h58v1h-58zM740 582h58v1h-58zM740 586h58v1h-58zM740 588h58v1h-58zM740 595h58v1h-58zM740 610h58v1h-58zM740 621h58v1h-58zM740 670h58v1h-58zM740 680h58v1h-58zM740 686h58v1h-58zM740 692h58v1h-58zM740 696h58v1h-58zM740 732h58v1h-58zM740 741h58v1h-58zM740 745h58v1h-58zM740 753h58v1h-58zM798 541h59v1h-59zM798 547h59v1h-59zM798 551h59v1h-59zM798 553h59v2h-59zM798 582h59v2h-59zM798 604h59v1h-59zM798 632h59v1h-59zM798 668h59v1h-59zM798 672h59v1h-59zM798 686h59v1h-59zM798 698h59v2h-59zM798 708h59v1h-59zM798 722h59v1h-59zM798 724h59v1h-59zM798 732h59v1h-59zM798 741h59v1h-59zM798 745h59v1h-59zM857 541h58v1h-58zM857 547h58v1h-58zM857 564h58v1h-58zM857 580h58v1h-58zM857 588h58v1h-58zM857 592h58v1h-58zM857 598h58v1h-58zM857 621h58v1h-58zM857 635h58v1h-58zM857 656h58v1h-58zM857 661h58v1h-58zM857 668h58v1h-58zM857 670h58v1h-58zM857 686h58v1h-58zM857 718h58v1h-58zM857 728h58v1h-58zM915 547h58v1h-58zM915 582h58v1h-58zM915 598h58v2h-58zM915 601h58v1h-58zM915 603h58v1h-58zM915 625h58v1h-58zM915 632h58v1h-58zM915 642h58v1h-58zM915 653h58v1h-58zM915 668h58v1h-58zM915 675h58v1h-58zM915 693h58v1h-58zM915 696h58v1h-58zM915 708h58v1h-58zM915 717h58v1h-58zM915 753h58v1h-58z"/>
<path fill="#e0a010" d="M740 159h58v1h-58zM857 587h58v1h-58z"/>
<path fill="#805840" d="M740 164h58v1h-58zM740 283h58v1h-58zM740 291h58v1h-58zM740 321h58v1h-58zM798 199h59v1h-59zM798 269h59v1h-59zM857 169h58v1h-58zM857 276h58v1h-58zM740 456h58v1h-58zM740 472h58v1h-58zM798 448h59v1h-59zM857 498h58v1h-58zM857 522h58v1h-58zM915 453h58v1h-58zM915 455h58v1h-58zM915 464h58v1h-58zM915 505h58v1h-58zM740 665h58v1h-58zM740 707h58v1h-58zM740 744h58v1h-58zM798 691h59v1h-59zM798 710h59v1h-59zM798 742h59v1h-59zM915 637h58v1h-58z"/>
<path fill="#583858" d="M740 165h58v1h-58zM740 194h58v1h-58zM740 212h58v1h-58zM740 251h58v1h-58zM740 309h58v1h-58zM740 312h58v1h-58zM798 157h59v1h-59zM798 160h59v1h-59zM798 190h59v1h-59zM798 284h59v1h-59zM798 311h59v1h-59zM798 323h59v1h-59zM857 174h58v1h-58zM857 180h58v1h-58zM857 194h58v1h-58zM857 251h58v1h-58zM857 305h58v1h-58zM915 216h58v1h-58zM915 303h58v1h-58zM915 306h58v1h-58zM915 311h58v1h-58zM915 317h58v1h-58zM740 410h58v1h-58zM740 481h58v1h-58zM740 526h58v1h-58zM798 414h59v1h-59zM798 515h59v1h-59zM857 384h58v1h-58zM857 408h58v1h-58zM857 410h58v1h-58zM857 490h58v1h-58zM857 518h58v1h-58zM915 458h58v1h-58zM740 615h58v1h-58zM740 619h58v1h-58zM740 669h58v1h-58zM740 672h58v1h-58zM740 733h58v1h-58zM740 759h58v1h-58zM798 607h59v1h-59zM798 634h59v1h-59zM798 660h59v1h-59zM798 662h59v1h-59zM798 727h59v1h-59zM798 755h59v1h-59zM857 597h58v1h-58zM857 609h58v1h-58zM857 659h58v1h-58zM857 664h58v1h-58zM857 694h58v2h-58zM857 729h58v1h-58zM857 752h58v1h-58zM915 552h58v1h-58zM915 561h58v1h-58zM915 566h58v1h-58zM915 623h58v1h-58zM915 657h58v1h-58zM915 685h58v1h-58zM915 752h58v1h-58z"/>
<path fill="#a87030" d="M740 166h58v1h-58zM740 222h58v1h-58zM740 233h58v1h-58zM740 244h58v2h-58zM740 293h58v1h-58zM740 327h58v1h-58zM740 344h58v1h-58zM740 346h58v1h-58zM915 190h58v1h-58zM915 193h58v1h-58zM915 199h58v1h-58zM915 247h58v1h-58zM915 252h58v1h-58zM798 393h59v1h-59zM798 427h59v1h-59zM798 436h59v1h-59zM798 498h59v1h-59zM798 500h59v1h-59zM798 504h59v1h-59zM857 524h58v1h-58zM915 395h58v1h-58zM915 415h58v1h-58zM915 450h58v1h-58zM798 549h59v1h-59zM798 555h59v1h-59zM857 690h58v1h-58zM857 715h58v1h-58zM857 736h58v1h-58zM915 622h58v1h-58zM915 712h58v1h-58zM915 744h58v1h-58z"/>
<path fill="#382070" d="M740 168h58v1h-58zM798 234h59v1h-59zM798 243h59v1h-59zM798 292h59v1h-59zM798 326h59v1h-59zM798 333h59v1h-59zM798 355h59v1h-59zM857 320h58v1h-58zM857 334h58v1h-58zM857 367h58v1h-58zM915 325h58v2h-58zM915 334h58v1h-58zM740 483h58v1h-58zM798 457h59v1h-59zM798 512h59v1h-59zM857 514h58v1h-58zM915 416h58v1h-58zM915 457h58v1h-58zM915 465h58v1h-58zM915 471h58v1h-58zM740 613h58v2h-58zM740 653h58v1h-58zM798 585h59v1h-59zM798 613h59v1h-59zM798 628h59v1h-59zM798 653h59v1h-59zM798 689h59v1h-59zM798 705h59v1h-59zM857 613h58v1h-58zM857 648h58v1h-58zM857 689h58v1h-58zM857 708h58v1h-58zM915 536h58v1h-58zM915 620h58v1h-58zM915 714h58v1h-58z"/>
<path fill="#785048" d="M740 169h58v1h-58zM740 184h58v2h-58zM740 191h58v1h-58zM740 196h58v1h-58zM740 225h58v1h-58zM740 238h58v1h-58zM740 246h58v1h-58zM740 271h58v1h-58zM740 329h58v1h-58zM740 348h58v2h-58zM798 204h59v1h-59zM798 209h59v1h-59zM798 225h59v1h-59zM798 235h59v1h-59zM798 267h59v1h-59zM798 288h59v1h-59zM798 321h59v1h-59zM857 150h58v1h-58zM857 164h58v1h-58zM857 172h58v1h-58zM857 190h58v1h-58zM857 218h58v1h-58zM857 231h58v1h-58zM857 238h58v1h-58zM857 307h58v1h-58zM857 358h58v1h-58zM915 180h58v1h-58zM915 202h58v1h-58zM915 225h58v1h-58zM915 235h58v1h-58zM915 265h58v1h-58zM915 267h58v1h-58zM915 271h58v1h-58zM915 287h58v1h-58zM740 477h58v1h-58zM740 501h58v1h-58zM740 505h58v1h-58zM798 405h59v1h-59zM798 408h59v1h-59zM798 444h59v2h-59zM798 454h59v1h-59zM798 522h59v1h-59zM857 412h58v1h-58zM857 448h58v1h-58zM857 482h58v1h-58zM857 517h58v1h-58zM915 400h58v1h-58zM915 414h58v1h-58zM915 433h58v2h-58zM915 454h58v1h-58zM915 470h58v1h-58zM915 521h58v1h-58zM740 543h58v1h-58zM740 666h58v1h-58zM740 702h58v1h-58zM798 680h59v1h-59zM857 543h58v1h-58zM857 591h58v1h-58zM857 636h58v1h-58zM857 665h58v1h-58zM857 702h58v1h-58zM857 713h58v1h-58zM857 733h58v1h-58zM857 744h58v1h-58zM857 755h58v1h-58zM915 544h58v1h-58zM915 573h58v1h-58zM915 651h58v1h-58zM915 697h58v1h-58zM915 703h58v1h-58zM915 727h58v1h-58zM915 737h58v1h-58zM915 742h58v1h-58z"/>
<path fill="#a86830" d="M740 171h58v1h-58zM740 338h58v1h-58zM857 166h58v1h-58zM857 258h58v1h-58zM915 345h58v1h-58zM740 510h58v1h-58zM798 524h59v1h-59zM857 391h58v1h-58zM915 449h58v1h-58zM740 544h58v1h-58zM740 548h58v1h-58zM740 572h58v1h-58zM740 624h58v1h-58zM740 631h58v1h-58zM740 754h58v1h-58zM798 579h59v1h-59zM798 676h59v2h-59zM798 700h59v1h-59zM915 556h58v1h-58z"/>
<path fill="#201078" d="M740 173h58v1h-58zM740 193h58v1h-58zM740 201h58v1h-58zM740 206h58v1h-58zM740 221h58v1h-58zM740 227h58v1h-58zM740 268h58v1h-58zM740 274h58v1h-58zM740 296h58v1h-58zM740 300h58v1h-58zM740 341h58v1h-58zM740 351h58v1h-58zM740 357h58v1h-58zM740 363h58v1h-58zM798 176h59v1h-59zM798 206h59v1h-59zM798 219h59v1h-59zM798 221h59v1h-59zM798 279h59v1h-59zM798 302h59v1h-59zM798 342h59v1h-59zM798 357h59v1h-59zM857 175h58v1h-58zM857 195h58v1h-58zM857 219h58v1h-58zM857 330h58v1h-58zM857 342h58v1h-58zM857 357h58v1h-58zM915 162h58v1h-58zM915 217h58v1h-58zM915 246h58v1h-58zM915 253h58v1h-58zM915 257h58v1h-58zM915 274h58v1h-58zM915 286h58v1h-58zM915 288h58v1h-58zM915 315h58v1h-58zM915 321h58v1h-58zM915 328h58v1h-58zM915 352h58v1h-58zM740 413h58v1h-58zM740 463h58v1h-58zM740 468h58v1h-58zM740 491h58v1h-58zM740 520h58v1h-58zM798 381h59v1h-59zM798 394h59v1h-59zM798 397h59v1h-59zM798 424h59v1h-59zM798 433h59v1h-59zM798 442h59v1h-59zM798 468h59v1h-59zM798 473h59v1h-59zM798 478h59v1h-59zM798 480h59v1h-59zM798 503h59v1h-59zM857 402h58v1h-58zM857 411h58v1h-58zM857 416h58v1h-58zM857 429h58v1h-58zM915 386h58v1h-58zM915 390h58v1h-58zM915 403h58v1h-58zM915 442h58v1h-58zM915 451h58v1h-58zM915 456h58v1h-58zM915 459h58v1h-58zM915 468h58v1h-58zM915 485h58v1h-58zM915 517h58v1h-58zM740 547h58v1h-58zM740 618h58v1h-58zM740 756h58v1h-58zM798 592h59v2h-59zM798 598h59v1h-59zM798 603h59v1h-59zM798 610h59v1h-59zM798 625h59v1h-59zM798 654h59v1h-59zM798 679h59v1h-59zM798 728h59v1h-59zM857 553h58v1h-58zM857 604h58v1h-58zM857 679h58v1h-58zM857 696h58v1h-58zM857 724h58v1h-58zM857 726h58v1h-58zM857 735h58v1h-58zM915 541h58v1h-58zM915 554h58v1h-58zM915 571h58v2h-58zM915 604h58v1h-58zM915 610h58v1h-58zM915 655h58v1h-58zM915 684h58v1h-58zM915 686h58v1h-58zM915 718h58v1h-58zM915 723h58v1h-58zM915 735h58v1h-58zM915 745h58v1h-58z"/>
<path fill="#b07028" d="M740 177h58v1h-58zM798 344h59v1h-59zM857 149h58v1h-58zM857 171h58v1h-58zM857 229h58v1h-58zM857 278h58v1h-58zM857 346h58v1h-58zM740 457h58v1h-58zM740 500h58v1h-58zM798 380h59v1h-59zM798 395h59v1h-59zM857 395h58v1h-58zM915 498h58v1h-58zM915 503h58v2h-58zM740 677h58v1h-58zM798 594h59v1h-59zM798 629h59v1h-59zM798 665h59v1h-59zM798 753h59v1h-59zM857 677h58v1h-58zM857 712h58v1h-58zM915 551h58v1h-58zM915 626h58v1h-58zM915 631h58v1h-58zM915 722h58v1h-58z"/>
<path fill="#986038" d="M740 178h58v1h-58zM740 199h58v1h-58zM740 218h58v1h-58zM740 229h58v1h-58zM740 298h58v1h-58zM798 154h59v1h-59zM798 177h59v2h-59zM798 211h59v1h-59zM798 258h59v1h-59zM798 303h59v1h-59zM798 307h59v1h-59zM798 343h59v1h-59zM798 348h59v1h-59zM798 353h59v1h-59zM857 170h58v1h-58zM857 185h58v1h-58zM857 243h58v1h-58zM857 303h58v1h-58zM915 293h58v1h-58zM915 358h58v1h-58zM740 391h58v1h-58zM740 496h58v1h-58zM740 504h58v1h-58zM798 516h59v1h-59zM857 415h58v1h-58zM857 421h58v1h-58zM857 449h58v1h-58zM857 453h58v1h-58zM857 512h58v1h-58zM857 521h58v1h-58zM915 444h58v1h-58zM915 511h58v1h-58zM740 556h58v1h-58zM740 573h58v1h-58zM740 626h58v1h-58zM740 699h58v1h-58zM740 715h58v1h-58zM798 556h59v1h-59zM798 563h59v1h-59zM798 655h59v1h-59zM798 701h59v1h-59zM857 563h58v1h-58zM857 626h58v1h-58zM857 631h58v1h-58zM857 675h58v2h-58zM857 700h58v1h-58zM857 704h58v1h-58zM857 707h58v1h-58zM915 630h58v1h-58zM915 650h58v1h-58zM915 659h58v1h-58zM915 724h58v1h-58zM915 736h58v1h-58zM915 750h58v1h-58z"/>
<path fill="#e89810" d="M740 179h58v1h-58zM740 282h58v1h-58zM798 289h59v1h-59zM915 297h58v1h-58zM857 443h58v1h-58zM740 549h58v1h-58z"/>
<path fill="#805048" d="M740 180h58v1h-58zM740 288h58v1h-58zM740 303h58v1h-58zM740 355h58v1h-58zM798 169h59v1h-59zM798 180h59v1h-59zM798 192h59v1h-59zM798 254h59v2h-59zM798 273h59v1h-59zM798 309h59v1h-59zM798 327h59v1h-59zM857 283h58v1h-58zM915 183h58v1h-58zM915 222h58v1h-58zM915 232h58v1h-58zM915 281h58v1h-58zM915 291h58v1h-58zM740 454h58v1h-58zM740 482h58v1h-58zM740 522h58v1h-58zM740 527h58v1h-58zM798 378h59v1h-59zM798 412h59v1h-59zM798 432h59v1h-59zM798 456h59v1h-59zM798 464h59v1h-59zM798 511h59v1h-59zM798 517h59v1h-59zM857 378h58v1h-58zM857 432h58v1h-58zM857 471h58v1h-58zM857 527h58v1h-58zM740 557h58v1h-58zM740 563h58v1h-58zM740 676h58v1h-58zM740 697h58v1h-58zM740 701h58v1h-58zM740 709h58v1h-58zM740 730h58v1h-58zM740 740h58v1h-58zM740 743h58v1h-58zM798 626h59v1h-59zM798 650h59v1h-59zM798 652h59v1h-59zM798 664h59v1h-59zM798 666h59v2h-59zM798 735h59v2h-59zM857 556h58v1h-58zM857 678h58v1h-58zM857 743h58v1h-58zM915 545h58v1h-58zM915 676h58v1h-58zM915 694h58v1h-58zM915 700h58v1h-58z"/>
<path fill="#604058" d="M740 181h58v1h-58zM740 235h58v2h-58zM740 269h58v1h-58zM740 335h58v1h-58zM798 236h59v1h-59zM798 299h59v1h-59zM798 349h59v1h-59zM798 352h59v1h-59zM857 204h58v1h-58zM857 214h58v1h-58zM857 248h58v1h-58zM857 254h58v1h-58zM857 262h58v1h-58zM857 265h58v1h-58zM857 324h58v1h-58zM915 207h58v1h-58zM915 263h58v1h-58zM915 336h58v1h-58zM740 387h58v1h-58zM740 471h58v1h-58zM740 511h58v1h-58zM798 420h59v1h-59zM798 425h59v1h-59zM798 472h59v1h-59zM798 487h59v1h-59zM798 505h59v1h-59zM857 376h58v1h-58zM857 414h58v1h-58zM857 462h58v1h-58zM915 376h58v1h-58zM915 387h58v1h-58zM915 460h58v1h-58zM915 480h58v2h-58zM740 609h58v1h-58zM740 659h58v1h-58zM740 681h58v1h-58zM740 693h58v2h-58zM740 713h58v1h-58zM740 723h58v1h-58zM798 552h59v1h-59zM798 560h59v1h-59zM798 566h59v1h-59zM798 671h59v1h-59zM798 733h59v1h-59zM798 743h59v1h-59zM857 560h58v1h-58zM857 680h58v1h-58zM915 550h58v1h-58zM915 570h58v1h-58zM915 605h58v1h-58zM915 621h58v1h-58zM915 627h58v1h-58zM915 634h58v1h-58zM915 666h58v1h-58zM915 669h58v1h-58zM915 680h58v1h-58zM915 701h58v1h-58zM915 720h58v1h-58zM915 730h58v1h-58zM915 759h58v1h-58z"/>
<path fill="#d08818" d="M740 182h58v1h-58zM740 278h58v1h-58zM740 343h58v1h-58zM798 252h59v1h-59zM857 246h58v1h-58zM915 289h58v1h-58zM915 344h58v1h-58zM740 396h58v1h-58zM798 443h59v1h-59zM915 443h58v1h-58zM740 632h58v1h-58zM857 549h58v1h-58zM857 711h58v1h-58zM915 565h58v1h-58z"/>
<path fill="#784848" d="M740 183h58v1h-58zM857 309h58v1h-58zM798 488h59v1h-59zM798 518h59v1h-59zM857 405h58v1h-58zM857 418h58v1h-58zM857 505h58v1h-58zM915 445h58v1h-58zM915 486h58v1h-58zM740 678h58v1h-58zM798 573h59v1h-59zM857 742h58v1h-58zM915 702h58v1h-58z"/>
<path fill="#302070" d="M740 188h58v1h-58zM740 234h58v1h-58zM740 243h58v1h-58zM740 320h58v1h-58zM740 326h58v1h-58zM740 354h58v1h-58zM798 168h59v1h-59zM798 261h59v1h-59zM798 281h59v1h-59zM798 286h59v1h-59zM798 304h59v1h-59zM798 347h59v1h-59zM798 354h59v1h-59zM857 168h58v1h-58zM857 232h58v1h-58zM857 234h58v1h-58zM857 239h58v1h-58zM857 242h58v1h-58zM857 292h58v1h-58zM857 294h58v1h-58zM857 304h58v1h-58zM857 306h58v1h-58zM857 347h58v1h-58zM857 354h58v1h-58zM915 150h58v1h-58zM915 168h58v1h-58zM915 236h58v1h-58zM915 238h58v1h-58zM915 242h58v1h-58zM915 277h58v1h-58zM915 290h58v1h-58zM740 383h58v1h-58zM798 383h59v1h-59zM798 497h59v1h-59zM798 509h59v1h-59zM798 521h59v1h-59zM857 385h58v1h-58zM857 398h58v1h-58zM857 483h58v1h-58zM915 383h58v1h-58zM915 385h58v1h-58zM915 439h58v1h-58zM740 580h58v1h-58zM740 585h58v1h-58zM740 606h58v1h-58zM740 628h58v1h-58zM740 651h58v1h-58zM740 708h58v1h-58zM740 714h58v1h-58zM740 731h58v1h-58zM798 574h59v1h-59zM798 606h59v1h-59zM798 612h59v1h-59zM798 630h59v1h-59zM857 653h58v1h-58zM857 722h58v1h-58zM915 575h58v1h-58zM915 608h58v1h-58zM915 613h58v1h-58zM915 673h58v1h-58zM915 688h58v2h-58zM915 731h58v1h-58zM915 756h58v1h-58z"/>
<path fill="#a06830" d="M740 190h58v1h-58zM740 252h58v1h-58zM798 166h59v1h-59zM798 183h59v1h-59zM798 247h59v1h-59zM798 264h59v1h-59zM798 338h59v1h-59zM857 154h58v1h-58zM857 199h58v1h-58zM857 298h58v1h-58zM857 338h58v1h-58zM857 345h58v1h-58zM857 353h58v1h-58zM915 185h58v1h-58zM915 248h58v1h-58zM740 421h58v1h-58zM798 496h59v1h-59zM857 390h58v1h-58zM740 579h58v1h-58zM740 589h58v1h-58zM857 608h58v1h-58zM857 637h58v1h-58zM857 674h58v1h-58zM857 730h58v1h-58zM857 740h58v1h-58zM915 600h58v1h-58z"/>
<path fill="#ffb000" d="M740 197h58v1h-58zM798 197h59v1h-59zM857 197h58v1h-58zM915 197h58v1h-58z"/>
<path fill="#d09018" d="M740 198h58v1h-58z"/>
<path fill="#c88020" d="M740 203h58v1h-58zM740 230h58v1h-58zM740 353h58v1h-58zM857 177h58v1h-58zM915 177h58v1h-58zM915 218h58v1h-58zM857 396h58v1h-58zM740 575h58v1h-58zM740 587h58v1h-58zM740 620h58v1h-58zM740 627h58v1h-58zM740 721h58v1h-58zM857 555h58v1h-58zM857 622h58v1h-58zM915 581h58v1h-58z"/>
<path fill="#684850" d="M740 204h58v1h-58zM740 275h58v1h-58zM740 316h58v1h-58zM798 214h59v1h-59zM798 246h59v1h-59zM798 256h59v1h-59zM798 262h59v1h-59zM798 275h59v1h-59zM798 370h59v1h-59zM857 178h58v1h-58zM857 191h58v1h-58zM857 269h58v1h-58zM857 352h58v1h-58zM915 323h58v1h-58zM740 461h58v1h-58zM857 460h58v1h-58zM915 396h58v1h-58zM915 495h58v1h-58zM915 527h58v1h-58zM740 634h58v1h-58zM740 650h58v1h-58zM798 591h59v1h-59zM857 546h58v1h-58zM857 634h58v1h-58zM857 650h58v1h-58zM857 660h58v1h-58zM915 591h58v1h-58zM915 597h58v1h-58zM915 674h58v1h-58z"/>
<path fill="#a06838" d="M740 209h58v1h-58zM740 247h58v1h-58zM798 278h59v1h-59zM798 285h59v1h-59zM857 196h58v1h-58zM857 222h58v1h-58zM857 321h58v1h-58zM915 298h58v1h-58zM915 338h58v1h-58zM740 399h58v1h-58zM740 414h58v1h-58zM857 444h58v1h-58zM857 447h58v1h-58zM740 545h58v1h-58zM740 594h58v1h-58zM740 608h58v1h-58zM740 637h58v1h-58zM798 559h59v1h-59zM798 631h59v1h-59zM857 565h58v1h-58zM857 581h58v1h-58zM857 701h58v1h-58zM915 559h58v1h-58zM915 590h58v1h-58zM915 594h58v1h-58z"/>
<path fill="#503060" d="M740 210h58v1h-58zM740 290h58v1h-58zM740 360h58v1h-58zM798 172h59v1h-59zM798 290h59v1h-59zM798 329h59v1h-59zM798 367h59v1h-59zM857 165h58v1h-58zM857 181h58v1h-58zM857 280h58v1h-58zM857 290h58v1h-58zM857 335h58v2h-58zM915 160h58v1h-58zM915 181h58v1h-58zM915 191h58v1h-58zM740 401h58v1h-58zM740 499h58v1h-58zM798 514h59v1h-59zM857 425h58v1h-58zM857 481h58v1h-58zM857 528h58v1h-58zM915 462h58v1h-58zM915 483h58v1h-58zM915 491h58v1h-58zM915 518h58v1h-58zM740 590h58v2h-58zM740 758h58v1h-58zM798 619h59v1h-59zM798 661h59v1h-59zM857 566h58v1h-58zM857 619h58v1h-58zM857 758h58v1h-58zM915 539h58v1h-58zM915 542h58v1h-58zM915 568h58v1h-58zM915 609h58v1h-58zM915 615h58v1h-58z"/>
<path fill="#906038" d="M740 213h58v1h-58zM740 370h58v1h-58zM798 155h59v1h-59zM798 283h59v1h-59zM857 316h58v1h-58zM857 327h58v1h-58zM857 343h58v1h-58zM857 370h58v1h-58zM915 264h58v1h-58zM915 356h58v1h-58zM740 427h58v1h-58zM740 524h58v1h-58zM798 502h59v1h-59zM740 716h58v1h-58zM798 744h59v1h-59zM857 538h58v1h-58zM857 559h58v1h-58zM857 620h58v1h-58zM857 624h58v1h-58zM915 577h58v1h-58zM915 628h58v1h-58z"/>
<path fill="#382868" d="M740 220h58v1h-58zM740 284h58v1h-58zM740 367h58v1h-58zM798 188h59v1h-59zM798 242h59v1h-59zM798 308h59v1h-59zM915 172h58v1h-58zM915 351h58v1h-58zM740 426h58v1h-58zM740 449h58v1h-58zM740 512h58v1h-58zM798 385h59v1h-59zM798 467h59v1h-59zM915 469h58v1h-58zM915 475h58v1h-58zM740 726h58v1h-58zM798 576h59v1h-59zM798 633h59v1h-59zM798 648h59v1h-59zM798 673h59v1h-59zM798 688h59v1h-59zM798 726h59v1h-59zM857 630h58v1h-58zM857 651h58v1h-58zM915 725h58v1h-58z"/>
<path fill="#f0a008" d="M740 224h58v1h-58zM798 203h59v1h-59z"/>
<path fill="#101080" d="M740 237h58v1h-58zM740 337h58v1h-58zM798 186h59v1h-59zM798 227h59v1h-59zM857 337h58v1h-58zM915 234h58v1h-58zM915 249h58v1h-58zM915 324h58v1h-58zM915 363h58v1h-58zM915 365h58v1h-58zM740 409h58v1h-58zM740 446h58v1h-58zM740 473h58v1h-58zM798 404h59v1h-59zM798 446h59v1h-59zM915 381h58v1h-58zM915 476h58v1h-58zM915 488h58v1h-58zM915 507h58v1h-58zM740 583h58v1h-58zM740 601h58v1h-58zM740 638h58v1h-58zM740 724h58v1h-58zM798 589h59v1h-59zM798 638h59v1h-59zM798 684h59v1h-59zM857 687h58v1h-58zM857 717h58v1h-58zM915 557h58v1h-58zM915 602h58v1h-58zM915 704h58v1h-58zM915 706h58v1h-58z"/>
<path fill="#603858" d="M740 248h58v1h-58zM740 492h58v1h-58zM915 421h58v1h-58zM740 751h58v1h-58zM798 647h59v1h-59zM798 678h59v1h-59zM798 750h59v1h-59zM857 540h58v1h-58zM857 633h58v1h-58z"/>
<path fill="#483068" d="M740 260h58v1h-58zM740 333h58v1h-58zM740 336h58v1h-58zM798 248h59v1h-59zM857 212h58v1h-58zM915 188h58v1h-58zM740 389h58v1h-58zM740 417h58v1h-58zM740 462h58v1h-58zM798 462h59v1h-59zM798 528h59v1h-59zM857 428h58v1h-58zM857 457h58v1h-58zM857 469h58v1h-58zM857 515h58v1h-58zM915 407h58v1h-58zM915 512h58v1h-58zM915 526h58v1h-58zM740 539h58v1h-58zM740 552h58v1h-58zM740 570h58v1h-58zM740 612h58v1h-58zM798 539h59v1h-59zM798 600h59v1h-59zM798 609h59v1h-59zM798 739h59v1h-59zM857 539h58v1h-58zM857 542h58v1h-58zM857 576h58v1h-58z"/>
<path fill="#483060" d="M740 262h58v1h-58zM740 270h58v1h-58zM798 165h59v1h-59zM798 251h59v1h-59zM798 280h59v1h-59zM798 312h59v1h-59zM798 335h59v1h-59zM857 200h58v1h-58zM857 260h58v1h-58zM857 284h58v1h-58zM857 299h58v1h-58zM857 311h58v1h-58zM915 165h58v1h-58zM915 194h58v1h-58zM915 270h58v1h-58zM915 322h58v1h-58zM740 385h58v1h-58zM740 425h58v1h-58zM740 430h58v1h-58zM740 489h58v1h-58zM740 518h58v1h-58zM798 410h59v1h-59zM798 428h59v1h-59zM798 481h59v1h-59zM857 407h58v1h-58zM857 426h58v1h-58zM857 435h58v1h-58zM915 404h58v1h-58zM915 428h58v1h-58zM915 501h58v1h-58zM915 529h58v1h-58zM740 607h58v1h-58zM740 662h58v1h-58zM740 690h58v1h-58zM798 537h59v1h-59zM798 570h59v1h-59zM857 537h58v1h-58zM857 552h58v1h-58zM857 628h58v1h-58zM857 669h58v1h-58zM857 672h58v1h-58zM857 739h58v1h-58zM915 546h58v1h-58zM915 607h58v1h-58zM915 633h58v1h-58zM915 647h58v1h-58zM915 664h58v1h-58zM915 678h58v1h-58zM915 740h58v1h-58z"/>
<path fill="#986838" d="M740 264h58v1h-58zM740 358h58v1h-58zM857 198h58v1h-58zM857 267h58v1h-58zM857 293h58v1h-58zM740 464h58v1h-58zM740 502h58v1h-58zM915 432h58v1h-58zM740 538h58v1h-58zM740 691h58v1h-58zM798 584h59v1h-59zM798 637h59v1h-59zM857 720h58v1h-58zM915 538h58v1h-58z"/>
<path fill="#684050" d="M740 265h58v1h-58zM798 185h59v1h-59zM798 191h59v1h-59zM798 339h59v1h-59zM857 289h58v1h-58zM857 356h58v1h-58zM915 173h58v1h-58zM915 204h58v1h-58zM915 280h58v1h-58zM915 329h58v1h-58zM740 397h58v1h-58zM740 447h58v1h-58zM798 407h59v1h-59zM798 460h59v1h-59zM798 490h59v1h-59zM857 389h58v1h-58zM857 420h58v1h-58zM857 445h58v1h-58zM857 454h58v1h-58zM857 492h58v1h-58zM915 384h58v1h-58zM915 394h58v1h-58zM915 405h58v1h-58zM915 425h58v1h-58zM915 499h58v1h-58zM915 510h58v1h-58zM915 522h58v1h-58zM740 537h58v1h-58zM740 560h58v1h-58zM740 656h58v1h-58zM740 752h58v1h-58zM798 720h59v1h-59zM798 751h59v1h-59zM857 671h58v1h-58zM857 727h58v1h-58zM915 540h58v1h-58zM915 641h58v1h-58zM915 660h58v1h-58z"/>
<path fill="#e09010" d="M740 266h58v1h-58zM740 362h58v1h-58zM798 224h59v1h-59zM857 244h58v1h-58zM857 266h58v1h-58zM915 343h58v1h-58zM915 346h58v1h-58zM740 380h58v1h-58zM798 510h59v1h-59zM857 436h58v1h-58zM857 451h58v1h-58zM857 459h58v1h-58zM857 759h58v1h-58zM915 654h58v1h-58zM915 711h58v1h-58zM915 716h58v1h-58z"/>
<path fill="#c88018" d="M740 272h58v1h-58z"/>
<path fill="#503860" d="M740 273h58v1h-58zM740 277h58v1h-58zM740 280h58v1h-58zM798 210h59v1h-59zM857 210h58v1h-58zM857 349h58v1h-58zM915 212h58v1h-58zM915 307h58v1h-58zM915 333h58v1h-58zM740 398h58v1h-58zM740 514h58v1h-58zM798 499h59v1h-59zM798 526h59v1h-59zM857 526h58v1h-58zM740 576h58v1h-58zM740 647h58v1h-58zM740 661h58v1h-58zM740 695h58v1h-58zM740 705h58v1h-58zM798 550h59v1h-59zM798 659h59v1h-59zM798 713h59v1h-59zM798 752h59v1h-59zM798 758h59v1h-59zM857 550h58v1h-58zM857 607h58v1h-58zM857 615h58v1h-58zM857 652h58v1h-58zM857 737h58v1h-58zM857 741h58v1h-58zM915 576h58v1h-58zM915 578h58v1h-58zM915 747h58v1h-58z"/>
<path fill="#b07828" d="M740 276h58v1h-58zM857 691h58v1h-58z"/>
<path fill="#d89010" d="M740 289h58v1h-58zM740 436h58v1h-58zM798 620h59v1h-59z"/>
<path fill="#d88818" d="M740 297h58v1h-58zM798 229h59v1h-59zM798 305h59v1h-59zM857 510h58v1h-58zM740 555h58v1h-58zM798 711h59v1h-59zM857 606h58v1h-58z"/>
<path fill="#e8a010" d="M740 299h58v1h-58zM798 282h59v1h-59zM857 182h58v1h-58zM857 224h58v1h-58zM857 282h58v1h-58zM915 224h58v1h-58zM857 431h58v1h-58zM857 721h58v1h-58z"/>
<path fill="#583860" d="M740 311h58v1h-58zM740 352h58v1h-58zM798 181h59v1h-59zM798 317h59v1h-59zM857 225h58v1h-58zM857 235h58v1h-58zM857 312h58v1h-58zM915 302h58v1h-58zM915 327h58v1h-58zM740 420h58v1h-58zM740 515h58v1h-58zM740 528h58v1h-58zM798 417h59v1h-59zM857 487h58v1h-58zM915 389h58v1h-58zM915 478h58v1h-58zM915 482h58v1h-58zM798 597h59v1h-59zM798 695h59v1h-59zM857 662h58v1h-58zM857 666h58v1h-58zM857 705h58v1h-58zM915 635h58v1h-58z"/>
<path fill="#181078" d="M740 340h58v1h-58zM857 158h58v1h-58zM857 302h58v1h-58zM857 322h58v1h-58zM857 340h58v1h-58zM915 195h58v1h-58zM915 299h58v1h-58zM740 377h58v1h-58zM740 388h58v1h-58zM740 503h58v1h-58zM798 513h59v1h-59zM857 491h58v1h-58zM915 388h58v1h-58zM798 536h59v1h-59zM798 718h59v1h-59zM857 693h58v1h-58z"/>
<path fill="#281870" d="M740 342h58v1h-58zM915 243h58v1h-58zM915 368h58v1h-58zM740 386h58v1h-58zM740 422h58v1h-58zM740 523h58v1h-58zM798 422h59v1h-59zM857 509h58v1h-58zM857 511h58v1h-58zM740 554h58v1h-58zM740 630h58v1h-58zM915 580h58v1h-58zM915 732h58v1h-58zM915 741h58v1h-58z"/>
<path fill="#382870" d="M740 347h58v1h-58zM798 223h59v1h-59zM798 306h59v1h-59zM798 320h59v1h-59zM798 334h59v1h-59zM857 368h58v1h-58zM915 182h58v1h-58zM740 423h58v1h-58zM740 467h58v1h-58zM740 469h58v1h-58zM798 423h59v1h-59zM915 489h58v1h-58zM740 600h58v1h-58zM798 580h59v1h-59zM798 590h59v1h-59zM798 614h59v1h-59zM798 651h59v1h-59zM857 688h58v1h-58zM915 614h58v1h-58zM915 661h58v1h-58z"/>
<path fill="#684058" d="M740 356h58v1h-58zM798 271h59v1h-59zM857 192h58v1h-58zM857 275h58v1h-58zM740 378h58v1h-58zM740 490h58v1h-58zM740 540h58v1h-58zM740 633h58v1h-58zM857 697h58v1h-58z"/>
<path fill="#c07820" d="M798 171h59v1h-59zM798 260h59v1h-59zM915 353h58v1h-58zM740 443h58v1h-58zM857 464h58v1h-58zM740 655h58v1h-58zM798 565h59v1h-59zM857 709h58v1h-58zM915 699h58v1h-58z"/>
<path fill="#e89808" d="M798 182h59v1h-59zM857 203h58v1h-58zM915 198h58v1h-58zM915 203h58v1h-58zM740 488h58v1h-58z"/>
<path fill="#d89018" d="M798 198h59v1h-59z"/>
<path fill="#906040" d="M798 202h59v1h-59zM798 276h59v1h-59zM915 196h58v1h-58zM915 211h58v1h-58zM915 258h58v1h-58zM915 367h58v1h-58zM740 376h58v1h-58zM740 470h58v1h-58zM740 487h58v1h-58zM798 470h59v1h-59zM857 477h58v2h-58zM740 559h58v1h-58zM740 700h58v1h-58zM798 546h59v1h-59zM798 702h59v1h-59zM857 575h58v1h-58zM857 685h58v1h-58zM915 549h58v1h-58zM915 589h58v1h-58zM915 652h58v1h-58zM915 665h58v1h-58zM915 743h58v1h-58z"/>
<path fill="#c08020" d="M798 218h59v1h-59zM798 266h59v1h-59zM857 245h58v1h-58zM915 282h58v1h-58zM798 421h59v1h-59zM798 587h59v1h-59zM798 627h59v1h-59zM857 548h58v1h-58zM857 623h58v1h-58zM915 548h58v1h-58z"/>
<path fill="#b87828" d="M798 222h59v1h-59zM798 244h59v2h-59zM798 298h59v1h-59zM798 345h59v1h-59zM798 368h59v1h-59zM857 264h58v1h-58zM857 344h58v1h-58zM915 171h58v1h-58zM915 229h58v1h-58zM740 453h58v1h-58zM798 396h59v1h-59zM857 393h58v1h-58zM857 427h58v1h-58zM915 392h58v1h-58zM740 605h58v1h-58zM740 623h58v1h-58zM740 629h58v1h-58zM740 711h58v1h-58zM798 608h59v1h-59zM798 721h59v1h-59zM857 562h58v1h-58zM857 589h58v1h-58zM857 605h58v1h-58zM857 629h58v1h-58zM915 677h58v1h-58zM915 715h58v1h-58z"/>
<path fill="#282070" d="M798 259h59v1h-59zM857 151h58v1h-58zM857 361h58v1h-58zM915 350h58v1h-58zM798 434h59v1h-59zM798 523h59v1h-59zM740 648h58v1h-58zM798 731h59v1h-59zM857 572h58v1h-58z"/>
<path fill="#e8a008" d="M798 272h59v1h-59z"/>
<path fill="#e8b808" d="M798 297h59v1h-59z"/>
<path fill="#e0a810" d="M798 362h59v1h-59zM857 362h58v1h-58zM740 459h58v1h-58zM798 459h59v1h-59z"/>
<path fill="#e89010" d="M857 159h58v1h-58z"/>
<path fill="#b07030" d="M857 209h58v1h-58zM798 431h59v1h-59zM857 516h58v1h-58zM915 502h58v1h-58zM740 667h58v1h-58zM740 674h58v1h-58zM798 575h59v1h-59zM857 673h58v1h-58zM857 710h58v1h-58zM915 588h58v1h-58zM915 707h58v1h-58z"/>
<path fill="#e8b010" d="M857 221h58v1h-58zM857 272h58v1h-58zM857 297h58v1h-58z"/>
<path fill="#c07828" d="M857 233h58v1h-58zM915 266h58v1h-58zM857 504h58v1h-58zM740 581h58v1h-58zM857 754h58v1h-58z"/>
<path fill="#e09810" d="M915 159h58v1h-58zM798 453h59v1h-59zM857 380h58v1h-58zM915 380h58v1h-58zM798 581h59v1h-59z"/>
<path fill="#f0b008" d="M915 272h58v1h-58zM740 392h58v1h-58zM798 392h59v1h-59z"/>
<path fill="#805848" d="M915 273h58v1h-58zM798 391h59v1h-59zM798 545h59v1h-59zM798 624h59v1h-59z"/>
<path fill="#704848" d="M915 339h58v1h-58zM740 521h58v1h-58z"/>
<path fill="#886040" d="M740 393h58v1h-58z"/>
<path fill="#282078" d="M740 460h58v1h-58z"/>
<path fill="#f0a808" d="M857 392h58v1h-58zM740 574h58v1h-58zM857 590h58v1h-58z"/>
<path fill="#f09808" d="M857 463h58v1h-58z"/>
<path fill="#f8a808" d="M798 621h59v1h-59z"/>
<path fill="#e8a810" d="M915 587h58v1h-58z"/>
<path fill="#f02828" d="M977 149h58v1h-58zM1093 358h59v1h-59zM1093 367h59v1h-59zM1152 316h58v1h-58zM1093 421h59v1h-59zM1152 434h58v1h-58zM977 609h58v1h-58zM1093 540h59v1h-59z"/>
<path fill="#e0c0c0" d="M977 150h58v1h-58zM977 249h58v1h-58zM977 316h58v1h-58zM977 322h58v1h-58zM977 332h58v1h-58zM977 335h58v1h-58zM1035 319h58v1h-58zM1093 297h59v1h-59zM1093 308h59v1h-59zM977 390h58v1h-58zM977 405h58v1h-58zM977 506h58v1h-58zM977 510h58v1h-58zM1035 385h58v1h-58zM1035 430h58v1h-58zM1035 491h58v1h-58zM1093 441h59v1h-59zM1093 476h59v1h-59zM1093 501h59v1h-59zM977 726h58v1h-58zM977 732h58v1h-58zM1035 573h58v1h-58zM1035 577h58v1h-58zM1035 592h58v1h-58zM1035 605h58v1h-58zM1035 609h58v1h-58zM1035 617h58v1h-58zM1035 653h58v1h-58zM1035 657h58v1h-58zM1035 674h58v1h-58zM1035 726h58v1h-58zM1093 613h59v1h-59zM1093 631h59v1h-59zM1152 570h58v1h-58zM1152 671h58v1h-58zM1152 699h58v1h-58zM1152 749h58v1h-58z"/>
<path fill="#e0e0e0" d="M977 151h58v1h-58zM977 160h58v1h-58zM977 198h58v1h-58zM977 339h58v1h-58zM977 361h58v2h-58zM1035 180h58v2h-58zM1035 185h58v2h-58zM1035 253h58v3h-58zM1035 272h58v1h-58zM1035 293h58v1h-58zM1035 298h58v3h-58zM1035 329h58v1h-58zM1093 214h59v1h-59zM1093 230h59v1h-59zM1093 238h59v1h-59zM1093 248h59v2h-59zM1093 259h59v3h-59zM1093 266h59v2h-59zM1093 298h59v1h-59zM1152 176h58v2h-58zM1152 194h58v3h-58zM1152 238h58v1h-58zM1152 290h58v1h-58zM1152 321h58v1h-58zM1152 326h58v5h-58zM1152 340h58v1h-58zM1152 353h58v2h-58zM977 377h58v1h-58zM977 401h58v4h-58zM977 437h58v3h-58zM977 511h58v1h-58zM977 519h58v2h-58zM977 529h58v2h-58zM1035 381h58v1h-58zM1035 393h58v1h-58zM1035 423h58v3h-58zM1035 470h58v1h-58zM1035 485h58v1h-58zM1035 525h58v3h-58zM1093 506h59v2h-59zM1093 530h59v1h-59zM1152 463h58v1h-58zM1152 521h58v1h-58zM977 575h58v2h-58zM977 615h58v1h-58zM977 682h58v5h-58zM1035 536h58v4h-58zM1035 545h58v1h-58zM1035 606h58v3h-58zM1035 704h58v1h-58zM1035 748h58v3h-58zM1093 567h59v1h-59zM1093 665h59v1h-59zM1093 756h59v2h-59zM1152 588h58v1h-58zM1152 603h58v1h-58zM1152 612h58v1h-58zM1152 614h58v1h-58zM1152 639h58v1h-58zM1152 675h58v2h-58zM1152 682h58v1h-58z"/>
<path fill="#e0c8c8" d="M977 152h58v1h-58zM977 175h58v1h-58zM977 193h58v1h-58zM977 276h58v1h-58zM977 320h58v1h-58zM977 338h58v1h-58zM977 366h58v1h-58zM1035 168h58v1h-58zM1035 187h58v1h-58zM1035 256h58v1h-58zM1035 269h58v1h-58zM1035 277h58v1h-58zM1093 231h59v1h-59zM1093 332h59v1h-59zM1152 162h58v1h-58zM1152 260h58v1h-58zM977 412h58v1h-58zM977 453h58v1h-58zM977 459h58v1h-58zM977 462h58v1h-58zM977 499h58v1h-58zM977 504h58v1h-58zM977 528h58v1h-58zM1035 394h58v1h-58zM1035 399h58v1h-58zM1035 435h58v1h-58zM1035 471h58v1h-58zM1035 484h58v1h-58zM1093 453h59v1h-59zM977 606h58v1h-58zM977 616h58v1h-58zM977 708h58v1h-58zM1035 658h58v1h-58zM1035 660h58v1h-58zM1035 747h58v1h-58zM1035 751h58v1h-58zM1035 753h58v1h-58zM1093 579h59v1h-59zM1093 581h59v1h-59zM1093 597h59v1h-59zM1093 606h59v1h-59zM1093 658h59v1h-59zM1093 753h59v1h-59zM1093 758h59v1h-59zM1152 550h58v1h-58zM1152 615h58v1h-58zM1152 656h58v1h-58zM1152 698h58v1h-58z"/>
<path fill="#e05860" d="M977 153h58v1h-58zM977 207h58v1h-58zM1035 356h58v1h-58zM1035 663h58v1h-58z"/>
<path fill="#9890d0" d="M977 154h58v1h-58zM1093 633h59v1h-59zM1152 539h58v1h-58z"/>
<path fill="#d0d0d8" d="M977 155h58v1h-58zM977 426h58v1h-58zM1035 445h58v1h-58zM1035 631h58v1h-58zM1093 608h59v1h-59zM1152 593h58v1h-58zM1152 746h58v1h-58z"/>
<path fill="#f8b8b8" d="M977 156h58v1h-58zM977 196h58v1h-58zM977 270h58v1h-58zM977 272h58v1h-58zM977 274h58v1h-58zM977 323h58v1h-58zM977 349h58v1h-58zM1035 211h58v1h-58zM1093 150h59v1h-59zM1093 164h59v1h-59zM1152 192h58v1h-58zM1152 284h58v1h-58zM1035 412h58v1h-58zM1035 448h58v1h-58zM977 578h58v2h-58zM977 690h58v2h-58zM977 722h58v1h-58zM1035 548h58v1h-58zM1035 563h58v1h-58zM1035 590h58v1h-58zM1035 629h58v1h-58zM1093 582h59v1h-59zM1093 624h59v1h-59zM1093 721h59v1h-59zM1152 541h58v1h-58zM1152 708h58v1h-58z"/>
<path fill="#f8b0b0" d="M977 157h58v2h-58zM977 238h58v1h-58zM977 254h58v1h-58zM977 336h58v1h-58zM1035 151h58v1h-58zM1035 175h58v1h-58zM1035 244h58v1h-58zM1093 324h59v1h-59zM1093 360h59v1h-59zM1093 363h59v1h-59zM1152 216h58v2h-58zM1093 400h59v1h-59zM977 564h58v1h-58zM977 680h58v1h-58zM977 723h58v1h-58zM977 742h58v1h-58zM1035 564h58v1h-58zM1035 759h58v1h-58zM1093 714h59v1h-59zM1152 714h58v1h-58z"/>
<path fill="#f8d8d8" d="M977 159h58v1h-58zM977 250h58v1h-58zM977 328h58v1h-58zM1035 271h58v1h-58zM1035 278h58v1h-58zM1035 304h58v1h-58zM1093 364h59v1h-59z"/>
<path fill="#d8e0e0" d="M977 161h58v1h-58zM977 367h58v1h-58zM1035 268h58v1h-58zM1093 250h59v1h-59zM1152 187h58v1h-58zM1152 325h58v1h-58zM977 471h58v1h-58zM1035 416h58v1h-58zM1035 486h58v1h-58zM977 548h58v1h-58zM977 550h58v1h-58zM1035 681h58v1h-58zM1035 686h58v1h-58zM1035 720h58v1h-58zM1093 546h59v1h-59zM1152 561h58v1h-58zM1152 582h58v1h-58zM1152 589h58v1h-58zM1152 604h58v1h-58zM1152 705h58v1h-58z"/>
<path fill="#d8d0e0" d="M977 162h58v1h-58zM1093 236h59v1h-59zM1152 610h58v1h-58zM1152 660h58v1h-58z"/>
<path fill="#f08088" d="M977 163h58v1h-58z"/>
<path fill="#e04050" d="M977 164h58v1h-58zM1093 612h59v1h-59zM1093 632h59v1h-59zM1152 540h58v1h-58z"/>
<path fill="#8080d0" d="M977 165h58v1h-58z"/>
<path fill="#c8d0f0" d="M977 166h58v1h-58zM977 224h58v1h-58zM1035 156h58v1h-58zM1093 202h59v1h-59zM1093 318h59v1h-59zM977 488h58v1h-58zM1035 417h58v1h-58zM1093 388h59v1h-59zM1093 427h59v1h-59zM1152 409h58v1h-58zM977 589h58v1h-58zM977 668h58v1h-58zM1035 615h58v1h-58zM1035 644h58v1h-58zM1035 661h58v1h-58zM1093 649h59v1h-59zM1152 654h58v1h-58z"/>
<path fill="#f0e0e8" d="M977 167h58v1h-58zM1035 252h58v1h-58zM1035 288h58v1h-58zM1152 425h58v1h-58zM1152 456h58v1h-58zM977 593h58v1h-58zM1035 714h58v1h-58zM1152 655h58v1h-58z"/>
<path fill="#e8d8d8" d="M977 168h58v1h-58zM1152 202h58v1h-58zM977 720h58v1h-58zM1035 584h58v1h-58zM1035 589h58v1h-58z"/>
<path fill="#f0c0c0" d="M977 169h58v1h-58zM977 278h58v1h-58zM1035 157h58v1h-58zM977 427h58v1h-58zM1093 504h59v1h-59zM1152 525h58v1h-58zM1035 560h58v1h-58zM1093 657h59v1h-59zM1093 717h59v1h-59zM1152 594h58v1h-58z"/>
<path fill="#d8d0f0" d="M977 170h58v1h-58zM1152 482h58v1h-58zM1152 730h58v1h-58z"/>
<path fill="#c0c8f8" d="M977 171h58v1h-58zM1035 324h58v1h-58zM1093 315h59v1h-59zM1093 387h59v1h-59zM1093 518h59v1h-59zM1152 517h58v1h-58zM1093 725h59v1h-59zM1152 686h58v1h-58z"/>
<path fill="#c0c8f0" d="M977 172h58v1h-58zM977 298h58v1h-58zM977 326h58v1h-58zM1093 207h59v1h-59zM1093 319h59v1h-59zM1152 189h58v1h-58zM1152 208h58v1h-58zM1152 232h58v1h-58zM1152 334h58v1h-58zM1152 368h58v1h-58zM1152 370h58v1h-58zM977 414h58v2h-58zM1035 398h58v1h-58zM1035 458h58v1h-58zM977 597h58v1h-58zM1093 669h59v2h-59zM1093 695h59v1h-59zM1152 673h58v1h-58zM1152 711h58v1h-58z"/>
<path fill="#d8c8d0" d="M977 173h58v1h-58zM1093 334h59v1h-59zM977 443h58v1h-58zM977 466h58v1h-58zM977 468h58v1h-58zM977 557h58v1h-58zM977 595h58v1h-58zM977 736h58v1h-58zM1035 614h58v1h-58zM1093 549h59v1h-59z"/>
<path fill="#f07878" d="M977 174h58v1h-58zM1035 188h58v1h-58zM1035 289h58v1h-58zM1093 159h59v1h-59zM1093 325h59v1h-59zM1035 501h58v1h-58zM1093 404h59v1h-59zM1093 440h59v1h-59zM1093 454h59v1h-59zM977 602h58v1h-58zM977 617h58v1h-58zM977 709h58v1h-58zM1035 742h58v1h-58zM1093 580h59v1h-59zM1093 759h59v1h-59zM1152 630h58v1h-58z"/>
<path fill="#d8d8e0" d="M977 176h58v1h-58zM977 192h58v1h-58zM977 199h58v1h-58zM977 211h58v1h-58zM977 222h58v2h-58zM977 313h58v1h-58zM977 329h58v1h-58zM977 340h58v1h-58zM1035 242h58v1h-58zM1035 326h58v1h-58zM1035 370h58v1h-58zM1093 197h59v1h-59zM1093 223h59v1h-59zM1093 226h59v1h-59zM1093 237h59v1h-59zM1093 280h59v1h-59zM1093 282h59v1h-59zM1093 292h59v1h-59zM1093 302h59v1h-59zM1093 310h59v1h-59zM1093 317h59v1h-59zM1152 188h58v1h-58zM1152 199h58v1h-58zM1152 209h58v1h-58zM1152 239h58v1h-58zM1152 261h58v1h-58zM1152 293h58v1h-58zM1152 300h58v1h-58zM1152 312h58v1h-58zM1152 320h58v1h-58zM1152 322h58v1h-58zM1152 331h58v1h-58zM1152 364h58v1h-58zM1152 366h58v2h-58zM977 413h58v1h-58zM977 416h58v1h-58zM977 458h58v1h-58zM977 463h58v1h-58zM977 470h58v1h-58zM977 489h58v2h-58zM977 496h58v1h-58zM1035 380h58v1h-58zM1093 389h59v1h-59zM1093 426h59v1h-59zM1093 524h59v2h-59zM1152 379h58v1h-58zM1152 391h58v2h-58zM1152 429h58v1h-58zM1152 464h58v1h-58zM1152 470h58v1h-58zM1152 496h58v2h-58zM1152 522h58v1h-58zM977 574h58v1h-58zM977 598h58v1h-58zM977 623h58v1h-58zM977 653h58v1h-58zM977 687h58v1h-58zM977 707h58v1h-58zM977 755h58v1h-58zM1035 570h58v1h-58zM1035 576h58v1h-58zM1035 616h58v1h-58zM1035 645h58v1h-58zM1035 654h58v1h-58zM1035 682h58v1h-58zM1035 719h58v1h-58zM1035 730h58v1h-58zM1093 564h59v1h-59zM1093 566h59v1h-59zM1093 591h59v1h-59zM1093 622h59v1h-59zM1093 664h59v1h-59zM1093 671h59v2h-59zM1093 694h59v1h-59zM1093 696h59v1h-59zM1093 701h59v1h-59zM1093 719h59v1h-59zM1093 738h59v1h-59zM1152 581h58v1h-58zM1152 587h58v1h-58zM1152 602h58v1h-58zM1152 611h58v1h-58zM1152 627h58v1h-58zM1152 672h58v1h-58zM1152 674h58v1h-58zM1152 710h58v1h-58zM1152 712h58v1h-58zM1152 724h58v2h-58zM1152 743h58v1h-58zM1152 754h58v1h-58z"/>
<path fill="#d8d8e8" d="M977 177h58v1h-58zM1035 414h58v1h-58zM1152 590h58v1h-58z"/>
<path fill="#f8b8c0" d="M977 178h58v1h-58z"/>
<path fill="#ffd8d8" d="M977 179h58v1h-58zM1093 163h59v1h-59zM1093 353h59v1h-59zM1093 588h59v1h-59zM1152 608h58v1h-58z"/>
<path fill="#f8e0e0" d="M977 180h58v1h-58zM977 410h58v1h-58zM1035 469h58v1h-58zM1035 482h58v1h-58zM1035 515h58v1h-58zM1152 462h58v1h-58zM1035 621h58v1h-58zM1093 598h59v1h-59zM1093 700h59v1h-59z"/>
<path fill="#e8d0d0" d="M977 181h58v1h-58zM977 271h58v1h-58zM977 286h58v1h-58zM977 348h58v1h-58zM1035 150h58v1h-58zM1093 188h59v1h-59zM977 441h58v1h-58zM1035 411h58v1h-58zM1035 449h58v1h-58zM1093 423h59v1h-59zM1093 492h59v1h-59zM1093 503h59v1h-59zM1093 653h59v1h-59zM1152 544h58v1h-58zM1152 642h58v1h-58zM1152 663h58v1h-58z"/>
<path fill="#f0a8a8" d="M977 182h58v1h-58zM977 359h58v1h-58zM1035 237h58v1h-58zM1093 173h59v1h-59zM977 446h58v1h-58zM1035 413h58v1h-58zM1035 529h58v1h-58zM977 567h58v1h-58zM1152 707h58v1h-58zM1152 727h58v1h-58z"/>
<path fill="#f8d8e0" d="M977 183h58v1h-58zM1093 350h59v1h-59z"/>
<path fill="#e898a8" d="M977 184h58v1h-58zM1152 170h58v1h-58zM1152 734h58v1h-58z"/>
<path fill="#a0a8e0" d="M977 185h58v1h-58zM977 201h58v1h-58zM1152 169h58v1h-58zM1152 183h58v1h-58zM1035 446h58v1h-58zM1093 461h59v1h-59zM1152 488h58v1h-58zM977 740h58v1h-58zM1093 575h59v1h-59zM1152 592h58v1h-58z"/>
<path fill="#a8b8f0" d="M977 186h58v1h-58zM977 216h58v1h-58zM977 357h58v1h-58zM1035 231h58v1h-58zM1152 184h58v1h-58zM1152 242h58v1h-58zM1152 273h58v1h-58zM977 384h58v1h-58zM1035 403h58v2h-58zM1035 454h58v1h-58zM1152 490h58v1h-58zM977 694h58v1h-58zM1035 666h58v1h-58zM1035 684h58v1h-58zM1035 702h58v1h-58zM1035 731h58v1h-58zM1093 593h59v1h-59zM1093 730h59v1h-59zM1093 734h59v1h-59zM1152 687h58v1h-58zM1152 752h58v1h-58z"/>
<path fill="#88a0e8" d="M977 187h58v1h-58zM977 262h58v1h-58zM1035 331h58v1h-58zM1093 185h59v1h-59zM1152 234h58v1h-58zM1152 450h58v1h-58zM1152 477h58v1h-58zM1152 491h58v1h-58zM977 553h58v1h-58zM977 621h58v1h-58zM1035 757h58v1h-58zM1152 538h58v1h-58z"/>
<path fill="#e8c0d0" d="M977 188h58v1h-58zM977 291h58v1h-58zM1093 204h59v1h-59zM1093 284h59v1h-59z"/>
<path fill="#f86868" d="M977 189h58v1h-58zM977 240h58v1h-58zM1035 279h58v1h-58zM1035 341h58v1h-58zM1093 165h59v1h-59zM1035 505h58v1h-58zM1093 405h59v1h-59zM1152 433h58v1h-58zM977 618h58v1h-58zM977 749h58v1h-58zM1035 566h58v1h-58z"/>
<path fill="#f06868" d="M977 190h58v1h-58zM977 281h58v1h-58zM977 337h58v1h-58zM1035 197h58v1h-58zM1035 205h58v1h-58zM1093 271h59v1h-59zM1093 477h59v1h-59zM1093 618h59v1h-59zM1152 648h58v1h-58zM1152 650h58v1h-58z"/>
<path fill="#d8c8e0" d="M977 191h58v1h-58zM977 257h58v1h-58zM1035 213h58v1h-58zM1035 216h58v1h-58zM1035 258h58v1h-58zM1093 175h59v1h-59zM1152 383h58v1h-58zM1152 389h58v1h-58zM1035 740h58v1h-58zM1093 743h59v1h-59z"/>
<path fill="#f05050" d="M977 194h58v2h-58zM977 241h58v1h-58zM977 267h58v1h-58zM977 289h58v1h-58zM977 334h58v1h-58zM1093 337h59v1h-59zM1152 253h58v1h-58zM1152 317h58v1h-58zM1035 517h58v1h-58zM1093 429h59v1h-59zM977 605h58v1h-58zM977 704h58v1h-58zM977 711h58v1h-58zM1035 690h58v2h-58zM1035 746h58v1h-58zM1152 542h58v1h-58zM1152 606h58v1h-58zM1152 728h58v1h-58z"/>
<path fill="#e0d8d8" d="M977 197h58v1h-58zM977 277h58v1h-58zM977 317h58v1h-58zM977 319h58v1h-58zM977 346h58v1h-58zM1035 176h58v1h-58zM1035 243h58v1h-58zM1093 149h59v1h-59zM1152 193h58v1h-58zM977 378h58v1h-58zM977 389h58v1h-58zM977 433h58v1h-58zM977 436h58v1h-58zM977 521h58v1h-58zM1035 434h58v1h-58zM1035 524h58v1h-58zM1093 390h59v1h-59zM1093 410h59v1h-59zM1093 425h59v1h-59zM1093 472h59v1h-59zM1093 505h59v1h-59zM1152 376h58v1h-58zM1152 469h58v1h-58zM1152 508h58v1h-58zM1152 530h58v1h-58zM977 565h58v1h-58zM977 569h58v1h-58zM977 577h58v1h-58zM977 580h58v1h-58zM977 637h58v1h-58zM977 681h58v1h-58zM977 743h58v1h-58zM1035 559h58v1h-58zM1035 561h58v2h-58zM1035 673h58v1h-58zM1093 590h59v1h-59zM1093 623h59v1h-59zM1093 716h59v1h-59zM1093 720h59v1h-59zM1152 626h58v1h-58zM1152 637h58v1h-58zM1152 640h58v1h-58zM1152 677h58v1h-58zM1152 744h58v1h-58z"/>
<path fill="#c0d0f0" d="M977 200h58v1h-58zM977 221h58v1h-58zM1035 239h58v1h-58zM1035 263h58v1h-58zM1093 196h59v1h-59zM1093 316h59v1h-59zM977 464h58v2h-58zM1093 526h59v1h-59zM1035 650h58v1h-58zM1093 565h59v1h-59zM1093 737h59v1h-59zM1152 564h58v1h-58zM1152 653h58v1h-58zM1152 690h58v1h-58z"/>
<path fill="#e8a0a8" d="M977 202h58v1h-58zM1093 200h59v1h-59zM1093 240h59v1h-59zM1093 356h59v1h-59zM977 429h58v1h-58zM1152 519h58v1h-58zM977 647h58v1h-58zM977 741h58v1h-58zM1035 647h58v1h-58zM1152 556h58v1h-58zM1152 692h58v1h-58z"/>
<path fill="#f8c8c8" d="M977 203h58v1h-58zM977 210h58v1h-58zM977 268h58v1h-58zM977 273h58v1h-58zM1035 149h58v1h-58zM1035 260h58v2h-58zM1093 189h59v1h-59zM1093 288h59v1h-59zM977 451h58v1h-58zM1035 467h58v1h-58zM1152 468h58v1h-58zM977 570h58v1h-58zM977 721h58v1h-58zM1035 546h58v1h-58zM1035 583h58v1h-58zM1093 589h59v1h-59zM1093 600h59v1h-59zM1152 577h58v2h-58zM1152 713h58v1h-58z"/>
<path fill="#d8d8f0" d="M977 204h58v1h-58zM977 341h58v1h-58zM1035 153h58v1h-58zM1035 285h58v1h-58zM1093 203h59v1h-59zM1093 291h59v1h-59zM1152 365h58v1h-58zM1093 382h59v1h-59zM977 662h58v1h-58z"/>
<path fill="#c0d0f8" d="M977 205h58v1h-58zM1035 200h58v1h-58zM1035 266h58v1h-58zM1152 268h58v1h-58zM977 478h58v1h-58zM1093 519h59v1h-59zM1152 473h58v1h-58zM1152 483h58v1h-58zM977 669h58v1h-58zM977 701h58v1h-58zM1152 717h58v1h-58z"/>
<path fill="#9090d0" d="M977 206h58v1h-58zM1093 327h59v1h-59z"/>
<path fill="#f88888" d="M977 208h58v1h-58zM977 239h58v1h-58zM977 269h58v1h-58zM1093 339h59v2h-59zM1152 346h58v1h-58zM977 455h58v1h-58zM1035 503h58v1h-58zM1093 407h59v1h-59zM977 563h58v1h-58zM977 710h58v1h-58zM1035 635h58v1h-58zM1093 583h59v1h-59zM1152 696h58v1h-58z"/>
<path fill="#f88080" d="M977 209h58v1h-58zM1093 234h59v1h-59zM1035 463h58v1h-58zM1035 502h58v1h-58zM1152 567h58v1h-58z"/>
<path fill="#b0c0f0" d="M977 212h58v1h-58zM1035 223h58v1h-58zM1035 240h58v1h-58zM1035 265h58v1h-58zM1035 332h58v1h-58zM1152 153h58v1h-58zM1152 240h58v1h-58zM1152 256h58v1h-58zM1152 271h58v1h-58zM1152 274h58v1h-58zM1152 288h58v1h-58zM1152 298h58v2h-58zM977 444h58v1h-58zM977 486h58v1h-58zM1035 390h58v2h-58zM1035 402h58v1h-58zM1093 376h59v1h-59zM1152 385h58v1h-58zM1152 403h58v1h-58zM1152 454h58v1h-58zM1152 484h58v1h-58zM1152 495h58v1h-58zM977 633h58v1h-58zM977 670h58v1h-58zM1093 592h59v1h-59zM1093 747h59v1h-59z"/>
<path fill="#f0f0ff" d="M977 213h58v1h-58z"/>
<path fill="#e8f0f8" d="M977 214h58v1h-58zM1152 185h58v1h-58zM1152 294h58v1h-58z"/>
<path fill="#a0b0f0" d="M977 215h58v1h-58zM977 311h58v1h-58zM1152 241h58v1h-58zM1035 405h58v1h-58zM1035 756h58v1h-58zM1093 702h59v1h-59z"/>
<path fill="#b8c0f0" d="M977 217h58v1h-58zM1152 262h58v1h-58zM1152 287h58v1h-58zM977 480h58v1h-58zM1035 667h58v1h-58zM1093 594h59v1h-59zM1093 663h59v1h-59z"/>
<path fill="#f0b0b8" d="M977 218h58v1h-58zM1035 198h58v1h-58zM1035 354h58v1h-58zM1093 155h59v1h-59zM1152 218h58v1h-58zM1035 628h58v1h-58zM1035 669h58v1h-58zM1093 727h59v1h-59zM1152 722h58v1h-58z"/>
<path fill="#f05858" d="M977 219h58v1h-58zM977 232h58v1h-58zM1035 165h58v1h-58zM1093 158h59v1h-59zM1093 232h59v1h-59zM977 460h58v2h-58zM977 649h58v1h-58zM977 731h58v1h-58zM1035 547h58v1h-58zM1093 572h59v1h-59zM1152 657h58v1h-58zM1152 715h58v1h-58z"/>
<path fill="#d8c0c8" d="M977 220h58v1h-58zM977 299h58v1h-58zM1035 189h58v1h-58zM1035 196h58v1h-58zM1152 160h58v1h-58zM1152 395h58v1h-58zM977 667h58v1h-58zM1035 651h58v1h-58zM1093 573h59v1h-59zM1093 595h59v1h-59z"/>
<path fill="#e8e8f8" d="M977 225h58v1h-58zM1093 225h59v1h-59zM1152 155h58v1h-58zM977 376h58v1h-58zM977 479h58v1h-58zM977 487h58v1h-58zM1093 448h59v2h-59zM977 581h58v1h-58zM1035 558h58v1h-58z"/>
<path fill="#c0b0d0" d="M977 226h58v1h-58zM1093 195h59v1h-59zM1152 150h58v1h-58zM1035 495h58v1h-58zM1152 528h58v1h-58zM977 639h58v1h-58z"/>
<path fill="#e83038" d="M977 227h58v1h-58z"/>
<path fill="#f89090" d="M977 228h58v1h-58zM1093 295h59v1h-59zM1093 338h59v1h-59zM977 514h58v1h-58zM1035 473h58v1h-58zM1035 715h58v1h-58zM1152 665h58v1h-58z"/>
<path fill="#f0d8e0" d="M977 229h58v1h-58zM977 280h58v1h-58zM977 285h58v1h-58zM977 327h58v1h-58zM1035 282h58v1h-58zM1152 307h58v1h-58zM1035 516h58v1h-58z"/>
<path fill="#d0d0f0" d="M977 230h58v1h-58zM1093 191h59v1h-59zM1152 279h58v1h-58zM977 445h58v1h-58zM1035 509h58v1h-58zM977 751h58v1h-58zM1093 742h59v1h-59zM1152 585h58v1h-58z"/>
<path fill="#f0c8c8" d="M977 231h58v1h-58zM977 318h58v1h-58zM977 347h58v1h-58zM1152 336h58v1h-58zM1093 424h59v1h-59zM1093 607h59v1h-59zM1152 662h58v1h-58z"/>
<path fill="#d8b8c8" d="M977 233h58v1h-58zM1093 419h59v1h-59z"/>
<path fill="#a8b8e8" d="M977 234h58v1h-58zM1035 327h58v1h-58zM1152 338h58v1h-58z"/>
<path fill="#d0d8e0" d="M977 235h58v1h-58zM1035 218h58v1h-58zM1035 232h58v2h-58zM1035 235h58v1h-58zM1035 292h58v1h-58zM1035 295h58v1h-58zM1035 328h58v1h-58zM1093 198h59v1h-59zM1152 197h58v1h-58zM1152 237h58v1h-58zM1152 291h58v1h-58zM1152 339h58v1h-58zM1152 369h58v1h-58zM977 481h58v1h-58zM977 518h58v1h-58zM1035 382h58v1h-58zM1035 392h58v1h-58zM1035 453h58v1h-58zM1035 481h58v1h-58zM1093 450h59v1h-59zM1093 508h59v1h-59zM1152 384h58v1h-58zM977 547h58v1h-58zM977 654h58v1h-58zM1035 649h58v1h-58zM1035 685h58v1h-58zM1035 703h58v1h-58zM1093 544h59v1h-59zM1093 644h59v1h-59zM1093 710h59v1h-59z"/>
<path fill="#e0e8f8" d="M977 236h58v1h-58zM1152 163h58v1h-58zM1152 175h58v1h-58zM1152 186h58v1h-58zM1152 333h58v1h-58zM1093 568h59v1h-59zM1093 678h59v1h-59zM1152 563h58v1h-58z"/>
<path fill="#f8f0f0" d="M977 237h58v1h-58zM1035 294h58v1h-58zM1093 289h59v1h-59zM977 440h58v1h-58zM1093 601h59v1h-59zM1152 624h58v1h-58zM1152 683h58v1h-58z"/>
<path fill="#e0a8a8" d="M977 242h58v1h-58zM1035 476h58v1h-58z"/>
<path fill="#e04048" d="M977 243h58v1h-58zM1152 493h58v1h-58z"/>
<path fill="#a898d0" d="M977 244h58v1h-58zM977 296h58v1h-58zM977 585h58v1h-58z"/>
<path fill="#98b0f0" d="M977 245h58v1h-58zM977 303h58v1h-58zM977 431h58v1h-58zM1152 453h58v1h-58zM977 544h58v2h-58zM977 656h58v1h-58zM977 698h58v1h-58z"/>
<path fill="#98b0e8" d="M977 246h58v1h-58zM1093 171h59v1h-59zM1093 330h59v1h-59zM1152 207h58v1h-58zM977 399h58v1h-58zM977 517h58v1h-58zM977 655h58v1h-58zM1093 543h59v1h-59zM1093 609h59v1h-59zM1093 620h59v1h-59zM1093 662h59v1h-59zM1093 667h59v1h-59z"/>
<path fill="#d0b8c0" d="M977 247h58v1h-58zM977 261h58v1h-58zM1035 520h58v1h-58zM1093 539h59v1h-59z"/>
<path fill="#e84040" d="M977 248h58v1h-58zM1035 477h58v1h-58zM1035 610h58v1h-58z"/>
<path fill="#f0a0a8" d="M977 251h58v1h-58zM977 352h58v1h-58zM1035 221h58v1h-58zM1152 283h58v1h-58zM1152 314h58v1h-58zM1152 361h58v2h-58zM1035 497h58v1h-58zM1093 417h59v1h-59zM1035 551h58v1h-58zM1035 586h58v1h-58zM1035 743h58v1h-58zM1152 609h58v1h-58zM1152 732h58v1h-58z"/>
<path fill="#c0b0d8" d="M977 252h58v1h-58zM1093 322h59v1h-59zM1152 190h58v1h-58zM1152 251h58v1h-58zM1035 461h58v1h-58zM1035 600h58v1h-58z"/>
<path fill="#f0a8b0" d="M977 253h58v1h-58zM1035 315h58v1h-58zM1093 212h59v1h-59zM977 407h58v1h-58zM977 750h58v1h-58zM1035 716h58v1h-58zM1093 584h59v1h-59zM1152 620h58v1h-58zM1152 695h58v1h-58z"/>
<path fill="#f8a8a8" d="M977 255h58v1h-58zM1035 192h58v1h-58zM1035 353h58v1h-58zM1093 161h59v1h-59zM1093 294h59v1h-59zM1093 362h59v1h-59zM1152 345h58v1h-58zM977 452h58v1h-58zM1093 392h59v1h-59zM1093 445h59v1h-59zM1093 471h59v1h-59zM1093 475h59v1h-59zM977 643h58v1h-58zM1035 585h58v1h-58zM1093 599h59v1h-59zM1093 617h59v1h-59zM1093 652h59v1h-59zM1093 654h59v1h-59zM1152 651h58v1h-58zM1152 664h58v1h-58zM1152 756h58v1h-58z"/>
<path fill="#f08080" d="M977 256h58v1h-58zM1035 270h58v1h-58zM1035 346h58v1h-58zM1093 333h59v1h-59zM1035 483h58v1h-58zM1152 381h58v2h-58zM977 539h58v1h-58zM977 715h58v1h-58zM1035 613h58v1h-58zM1035 752h58v1h-58zM1093 651h59v1h-59zM1152 569h58v1h-58zM1152 616h58v1h-58zM1152 703h58v1h-58z"/>
<path fill="#e0c0c8" d="M977 258h58v1h-58z"/>
<path fill="#f04040" d="M977 259h58v1h-58zM977 294h58v1h-58zM977 300h58v1h-58zM1035 303h58v1h-58zM1035 307h58v1h-58zM1093 151h59v1h-59zM1093 180h59v1h-59zM1093 357h59v1h-59zM1093 359h59v1h-59zM1093 366h59v1h-59zM1035 519h58v1h-58zM977 603h58v1h-58zM1035 582h58v1h-58zM1152 568h58v1h-58zM1152 666h58v1h-58zM1152 757h58v1h-58z"/>
<path fill="#f03838" d="M977 260h58v1h-58zM1093 420h59v1h-59zM977 604h58v1h-58zM977 610h58v1h-58zM977 758h58v1h-58zM1035 636h58v1h-58zM1035 688h58v2h-58z"/>
<path fill="#c8c8e0" d="M977 263h58v1h-58zM1093 457h59v1h-59zM1152 465h58v1h-58zM977 671h58v1h-58zM1093 691h59v1h-59z"/>
<path fill="#b8b0d0" d="M977 264h58v1h-58z"/>
<path fill="#e84048" d="M977 265h58v1h-58zM977 301h58v1h-58zM1093 193h59v1h-59zM1035 578h58v1h-58zM1035 725h58v1h-58zM1093 641h59v1h-59z"/>
<path fill="#f03030" d="M977 266h58v1h-58zM1035 466h58v1h-58zM1035 518h58v1h-58z"/>
<path fill="#f06060" d="M977 275h58v1h-58zM1035 320h58v1h-58zM1093 169h59v1h-59zM1035 475h58v1h-58zM1035 591h58v1h-58zM1035 597h58v1h-58zM1093 605h59v1h-59zM1152 697h58v1h-58z"/>
<path fill="#f0e8f0" d="M977 279h58v1h-58zM1035 287h58v1h-58zM1093 217h59v1h-59zM1093 283h59v1h-59zM977 571h58v1h-58zM1035 734h58v1h-58zM1152 684h58v1h-58z"/>
<path fill="#f87878" d="M977 282h58v1h-58zM1035 204h58v1h-58zM1035 340h58v1h-58zM1093 233h59v1h-59zM1093 245h59v1h-59zM977 423h58v1h-58zM1035 428h58v1h-58zM1035 504h58v1h-58zM1152 457h58v1h-58zM1152 644h58v1h-58z"/>
<path fill="#e84848" d="M977 283h58v1h-58zM1093 307h59v1h-59zM1152 310h58v1h-58zM977 725h58v1h-58z"/>
<path fill="#c8b0d0" d="M977 284h58v1h-58zM1035 724h58v1h-58zM1035 744h58v1h-58z"/>
<path fill="#f0b0b0" d="M977 287h58v1h-58zM1093 752h59v1h-59z"/>
<path fill="#f0c8d0" d="M977 288h58v1h-58zM977 307h58v1h-58zM1035 286h58v1h-58zM1152 278h58v1h-58zM977 473h58v1h-58zM1035 723h58v1h-58zM1152 579h58v1h-58zM1152 584h58v1h-58z"/>
<path fill="#f8d0d0" d="M977 290h58v1h-58zM1093 162h59v1h-59zM977 417h58v1h-58zM1093 490h59v2h-59zM1152 625h58v1h-58z"/>
<path fill="#8898e0" d="M977 292h58v1h-58zM1093 304h59v1h-59zM1035 522h58v1h-58zM1152 510h58v1h-58zM977 713h58v1h-58z"/>
<path fill="#d0b8c8" d="M977 293h58v1h-58zM1152 254h58v1h-58zM1093 462h59v1h-59zM1152 406h58v1h-58zM977 712h58v1h-58zM1035 555h58v1h-58zM1035 738h58v1h-58zM1093 556h59v1h-59z"/>
<path fill="#e03840" d="M977 295h58v1h-58z"/>
<path fill="#c8d0e0" d="M977 297h58v1h-58zM977 310h58v1h-58zM977 342h58v1h-58zM977 363h58v1h-58zM1093 258h59v1h-59zM1093 279h59v1h-59zM1093 303h59v1h-59zM1152 168h58v1h-58zM1152 257h58v1h-58zM1152 304h58v1h-58zM1035 442h58v1h-58zM1035 457h58v1h-58zM1093 495h59v1h-59zM1152 408h58v1h-58zM1152 421h58v1h-58zM1152 489h58v1h-58zM977 552h58v1h-58zM1035 542h58v1h-58zM1035 643h58v1h-58zM1035 697h58v1h-58zM1035 727h58v1h-58zM1035 729h58v1h-58zM1093 668h59v1h-59zM1093 689h59v1h-59zM1093 731h59v1h-59zM1093 733h59v1h-59z"/>
<path fill="#b8a8d8" d="M977 302h58v1h-58zM1152 224h58v1h-58zM977 646h58v1h-58zM1152 599h58v1h-58zM1152 668h58v2h-58z"/>
<path fill="#d0d8f0" d="M977 304h58v1h-58zM1035 217h58v1h-58zM1035 284h58v1h-58zM1093 224h59v1h-59zM1152 323h58v1h-58zM977 475h58v1h-58zM1035 415h58v1h-58zM1035 452h58v1h-58zM1093 528h59v1h-59zM1152 471h58v1h-58zM977 573h58v1h-58zM977 624h58v1h-58zM1035 544h58v1h-58zM1035 718h58v1h-58zM1093 630h59v1h-59zM1152 628h58v1h-58zM1152 723h58v1h-58zM1152 741h58v2h-58z"/>
<path fill="#f0c8d8" d="M977 305h58v1h-58z"/>
<path fill="#c8c8e8" d="M977 306h58v1h-58zM977 497h58v1h-58zM1035 443h58v1h-58zM1152 511h58v1h-58zM977 652h58v1h-58zM1035 627h58v1h-58zM1093 718h59v1h-59zM1152 726h58v1h-58z"/>
<path fill="#d8d0d8" d="M977 308h58v1h-58zM977 358h58v1h-58zM1035 238h58v1h-58zM1152 297h58v1h-58zM1152 335h58v1h-58zM1152 337h58v1h-58zM1093 459h59v1h-59zM1152 524h58v1h-58zM977 664h58v1h-58zM1035 668h58v1h-58zM1093 706h59v1h-59zM1152 565h58v1h-58zM1152 595h58v1h-58zM1152 597h58v1h-58zM1152 634h58v1h-58zM1152 652h58v1h-58z"/>
<path fill="#a0b8e8" d="M977 309h58v1h-58zM1152 198h58v1h-58zM1093 509h59v1h-59z"/>
<path fill="#b8c8f0" d="M977 312h58v1h-58zM1035 155h58v1h-58zM1035 241h58v1h-58zM1152 154h58v1h-58zM1152 159h58v1h-58zM1152 272h58v1h-58zM1152 280h58v1h-58zM1035 376h58v1h-58zM1035 459h58v2h-58zM1093 383h59v1h-59zM1093 520h59v1h-59zM1152 386h58v1h-58zM1152 390h58v1h-58zM1152 430h58v1h-58zM1152 498h58v1h-58zM1152 523h58v1h-58zM977 596h58v1h-58zM977 739h58v1h-58zM1035 543h58v1h-58zM1035 698h58v1h-58zM1035 713h58v1h-58zM1093 621h59v1h-59zM1093 688h59v1h-59zM1152 685h58v1h-58zM1152 753h58v1h-58z"/>
<path fill="#d8c0d8" d="M977 314h58v1h-58zM1093 403h59v1h-59zM1152 459h58v1h-58z"/>
<path fill="#e85050" d="M977 315h58v1h-58zM1152 191h58v1h-58zM1035 499h58v1h-58z"/>
<path fill="#e86868" d="M977 321h58v1h-58zM1035 276h58v1h-58zM1152 161h58v1h-58z"/>
<path fill="#f0b8b8" d="M977 324h58v1h-58zM1152 215h58v1h-58zM1035 450h58v1h-58zM1093 502h59v1h-59zM977 663h58v1h-58zM1035 593h58v1h-58zM1093 741h59v1h-59zM1152 551h58v1h-58zM1152 731h58v1h-58z"/>
<path fill="#c0c8e8" d="M977 325h58v1h-58zM1152 580h58v1h-58z"/>
<path fill="#b8a8d0" d="M977 330h58v1h-58zM1152 167h58v1h-58zM1152 412h58v1h-58zM977 560h58v1h-58zM1093 585h59v1h-59z"/>
<path fill="#e06068" d="M977 331h58v1h-58zM1152 405h58v1h-58zM977 666h58v1h-58zM1093 560h59v1h-59z"/>
<path fill="#f8a0a0" d="M977 333h58v1h-58zM1035 158h58v1h-58zM1035 166h58v1h-58zM1035 174h58v1h-58zM1035 345h58v1h-58zM1093 346h59v1h-59zM977 513h58v1h-58zM1093 401h59v1h-59zM1093 411h59v1h-59zM1093 442h59v3h-59zM1093 474h59v1h-59zM977 679h58v1h-58zM1035 565h58v1h-58zM1035 634h58v1h-58zM1093 642h59v1h-59zM1093 699h59v1h-59zM1152 658h58v1h-58zM1152 678h58v1h-58z"/>
<path fill="#9098e0" d="M977 343h58v1h-58zM1093 277h59v1h-59zM1093 497h59v1h-59zM1152 480h58v1h-58zM1035 677h58v1h-58zM1152 557h58v1h-58z"/>
<path fill="#e0b8d0" d="M977 344h58v1h-58z"/>
<path fill="#d0d0e8" d="M977 345h58v1h-58zM1035 208h58v1h-58zM1152 214h58v1h-58zM1035 451h58v1h-58zM1152 422h58v1h-58zM1035 575h58v1h-58zM1035 670h58v1h-58zM1035 717h58v1h-58z"/>
<path fill="#f0b8c0" d="M977 350h58v1h-58zM1035 358h58v1h-58zM1152 171h58v1h-58zM1152 460h58v1h-58zM1093 728h59v1h-59z"/>
<path fill="#d0c0e0" d="M977 351h58v1h-58zM1035 246h58v1h-58zM1093 273h59v1h-59zM1152 360h58v1h-58zM977 428h58v1h-58zM1035 432h58v1h-58zM1093 432h59v1h-59zM1093 517h59v1h-59zM1152 499h58v1h-58zM1093 558h59v1h-59z"/>
<path fill="#e8b8c0" d="M977 353h58v1h-58zM977 388h58v1h-58zM1093 460h59v1h-59zM1093 493h59v1h-59zM1152 423h58v1h-58zM1093 616h59v1h-59zM1152 598h58v1h-58z"/>
<path fill="#98a8e8" d="M977 354h58v1h-58zM1035 178h58v1h-58zM1035 195h58v1h-58zM1035 632h58v1h-58zM1035 732h58v1h-58zM1035 755h58v1h-58zM1093 634h59v1h-59zM1093 690h59v1h-59zM1152 747h58v1h-58z"/>
<path fill="#8098e8" d="M977 355h58v1h-58zM1035 333h58v1h-58zM1035 336h58v1h-58zM1152 244h58v1h-58zM1152 255h58v1h-58zM1152 281h58v1h-58zM1152 350h58v2h-58zM1035 387h58v1h-58zM1035 389h58v1h-58zM1035 456h58v1h-58zM1035 479h58v2h-58zM1152 478h58v1h-58zM1152 516h58v1h-58zM977 537h58v1h-58zM977 699h58v1h-58zM1035 601h58v1h-58zM1035 639h58v1h-58zM1093 679h59v1h-59zM1093 746h59v1h-59zM1152 537h58v1h-58z"/>
<path fill="#80a0e8" d="M977 356h58v1h-58zM1035 407h58v1h-58zM1035 521h58v1h-58zM1152 559h58v1h-58z"/>
<path fill="#e0d0d0" d="M977 360h58v1h-58zM1035 228h58v1h-58zM1035 236h58v1h-58zM1035 250h58v1h-58zM1035 301h58v1h-58zM1035 305h58v1h-58zM1035 338h58v1h-58zM1093 213h59v1h-59zM1093 229h59v1h-59zM1093 239h59v1h-59zM1093 243h59v1h-59zM1093 247h59v1h-59zM1093 262h59v1h-59zM1093 268h59v1h-59zM1093 293h59v1h-59zM1093 299h59v1h-59zM1152 178h58v1h-58zM1152 213h58v1h-58zM1152 341h58v1h-58zM977 495h58v1h-58zM977 512h58v1h-58zM1035 426h58v1h-58zM1035 528h58v1h-58zM1035 530h58v1h-58zM1093 393h59v2h-59zM1093 409h59v1h-59zM1093 473h59v1h-59zM1152 380h58v1h-58zM1152 520h58v1h-58zM977 566h58v1h-58zM977 568h58v1h-58zM977 607h58v1h-58zM977 614h58v1h-58zM977 727h58v1h-58zM977 744h58v1h-58zM1035 646h58v1h-58zM1035 705h58v1h-58zM1093 578h59v1h-59zM1093 660h59v1h-59zM1093 715h59v1h-59zM1093 739h59v1h-59zM1093 755h59v1h-59zM1152 546h58v2h-58zM1152 681h58v1h-58zM1152 704h58v1h-58zM1152 740h58v1h-58z"/>
<path fill="#8888d0" d="M977 364h58v1h-58zM1093 219h59v1h-59zM977 381h58v1h-58zM1093 511h59v1h-59zM1152 418h58v1h-58zM1093 555h59v1h-59zM1093 745h59v1h-59zM1093 748h59v1h-59z"/>
<path fill="#d86070" d="M977 365h58v1h-58zM1035 490h58v1h-58z"/>
<path fill="#d8e0f0" d="M977 368h58v1h-58zM1093 222h59v1h-59zM977 549h58v1h-58zM977 551h58v1h-58zM1035 721h58v1h-58zM1093 545h59v1h-59z"/>
<path fill="#d0d0e0" d="M977 369h58v1h-58zM1035 177h58v1h-58zM1035 179h58v1h-58zM1035 182h58v1h-58zM1035 184h58v1h-58zM1035 264h58v1h-58zM1035 273h58v1h-58zM1035 297h58v1h-58zM1035 330h58v1h-58zM1035 337h58v1h-58zM1093 265h59v1h-59zM1093 331h59v1h-59zM1093 370h59v1h-59zM1152 210h58v1h-58zM1152 306h58v1h-58zM1152 352h58v1h-58zM977 400h58v1h-58zM977 482h58v1h-58zM1035 386h58v1h-58zM1035 422h58v1h-58zM1152 410h58v1h-58zM1152 428h58v1h-58zM1152 475h58v2h-58zM977 590h58v1h-58zM977 622h58v1h-58zM1035 540h58v1h-58zM1035 754h58v1h-58zM1093 614h59v1h-59zM1093 661h59v1h-59zM1093 666h59v1h-59zM1093 708h59v1h-59zM1093 711h59v1h-59zM1152 536h58v1h-58zM1152 560h58v1h-58zM1152 574h58v1h-58zM1152 748h58v1h-58z"/>
<path fill="#90a8e8" d="M977 370h58v1h-58zM1035 183h58v1h-58zM1035 296h58v1h-58zM1093 369h59v1h-59zM1152 407h58v1h-58zM1152 427h58v1h-58zM1152 474h58v1h-58zM1035 556h58v1h-58z"/>
<path fill="#f8c0c8" d="M1035 152h58v1h-58z"/>
<path fill="#b8c8f8" d="M1035 154h58v1h-58zM1152 402h58v1h-58z"/>
<path fill="#f0c0c8" d="M1035 159h58v1h-58zM1035 191h58v1h-58zM1035 207h58v1h-58zM1093 190h59v1h-59zM1093 323h59v1h-59zM1152 203h58v1h-58zM977 498h58v1h-58zM977 503h58v1h-58zM1035 433h58v1h-58zM1035 444h58v1h-58zM1093 402h59v1h-59zM1093 428h59v1h-59zM1152 440h58v1h-58zM1035 574h58v1h-58z"/>
<path fill="#d0c8e0" d="M1035 160h58v1h-58zM977 457h58v1h-58zM1093 488h59v1h-59zM1152 393h58v1h-58zM1152 507h58v1h-58zM1035 550h58v1h-58zM1035 580h58v1h-58zM1035 587h58v1h-58zM1035 623h58v1h-58zM1152 621h58v1h-58z"/>
<path fill="#e8a8b0" d="M1035 161h58v1h-58zM1035 225h58v1h-58zM1152 221h58v1h-58zM977 448h58v1h-58zM1035 447h58v1h-58zM1093 439h59v1h-59zM977 638h58v1h-58zM977 728h58v1h-58zM1035 620h58v1h-58zM1152 619h58v1h-58z"/>
<path fill="#d0c8e8" d="M1035 162h58v1h-58zM1152 266h58v1h-58zM1093 487h59v1h-59zM1035 638h58v1h-58zM1152 694h58v1h-58z"/>
<path fill="#a8a0d8" d="M1035 163h58v1h-58zM1093 285h59v1h-59zM1152 437h58v1h-58z"/>
<path fill="#e85868" d="M1035 164h58v1h-58z"/>
<path fill="#f09090" d="M1035 167h58v1h-58zM1035 203h58v1h-58zM1093 235h59v1h-59zM1152 265h58v1h-58zM977 442h58v1h-58zM977 454h58v1h-58zM977 467h58v1h-58zM977 505h58v1h-58zM977 594h58v1h-58zM1035 612h58v1h-58zM1152 571h58v1h-58zM1152 643h58v1h-58zM1152 680h58v1h-58z"/>
<path fill="#e8b0b8" d="M1035 169h58v1h-58zM1152 182h58v1h-58zM1152 296h58v1h-58zM1152 529h58v1h-58zM977 626h58v1h-58zM977 733h58v1h-58zM1093 625h59v1h-59zM1152 636h58v1h-58z"/>
<path fill="#a8a8d8" d="M1035 170h58v1h-58z"/>
<path fill="#d8a8b8" d="M1035 171h58v1h-58zM1035 349h58v1h-58z"/>
<path fill="#9880c0" d="M1035 172h58v1h-58zM1152 398h58v1h-58zM1035 619h58v1h-58z"/>
<path fill="#e03848" d="M1035 173h58v1h-58zM1093 749h59v1h-59zM1152 721h58v1h-58z"/>
<path fill="#b8c0e8" d="M1035 190h58v1h-58zM1035 199h58v1h-58zM1035 222h58v1h-58zM977 469h58v1h-58zM977 502h58v1h-58zM1152 378h58v1h-58zM1093 707h59v1h-59z"/>
<path fill="#e06878" d="M1035 193h58v1h-58zM1152 259h58v1h-58zM1152 438h58v1h-58zM1093 684h59v1h-59zM1093 744h59v1h-59z"/>
<path fill="#7880d0" d="M1035 194h58v1h-58z"/>
<path fill="#d8e0f8" d="M1035 201h58v1h-58zM1035 227h58v1h-58zM1035 267h58v1h-58zM1035 364h58v3h-58zM1152 157h58v1h-58zM1152 223h58v1h-58zM1152 233h58v1h-58zM1152 276h58v1h-58zM1152 289h58v1h-58zM1152 303h58v1h-58zM1152 324h58v1h-58zM977 409h58v1h-58zM1035 508h58v1h-58zM977 660h58v1h-58zM977 753h58v2h-58zM1035 557h58v1h-58zM1035 680h58v1h-58zM1152 562h58v1h-58z"/>
<path fill="#e0d0e8" d="M1035 202h58v1h-58z"/>
<path fill="#f0d0d8" d="M1035 206h58v1h-58z"/>
<path fill="#d8c8c8" d="M1035 209h58v1h-58zM1035 247h58v1h-58z"/>
<path fill="#f07070" d="M1035 210h58v1h-58zM1035 306h58v1h-58zM1093 210h59v1h-59zM1093 244h59v1h-59zM1093 345h59v1h-59zM1035 436h58v1h-58zM1035 472h58v1h-58zM1093 397h59v1h-59zM1093 513h59v1h-59zM1093 596h59v1h-59z"/>
<path fill="#f8c8d0" d="M1035 212h58v1h-58z"/>
<path fill="#f09898" d="M1035 214h58v1h-58zM1035 251h58v1h-58zM1093 246h59v1h-59zM1093 269h59v1h-59zM1035 409h58v2h-58zM1035 506h58v1h-58zM1093 395h59v1h-59zM1093 408h59v1h-59zM977 692h58v1h-58zM1035 706h58v1h-58zM1093 550h59v1h-59zM1093 740h59v1h-59zM1152 548h58v2h-58z"/>
<path fill="#f06068" d="M1035 215h58v1h-58z"/>
<path fill="#b0b0e0" d="M1035 219h58v1h-58zM977 430h58v1h-58zM977 485h58v1h-58zM977 516h58v1h-58zM977 524h58v1h-58zM1152 504h58v1h-58zM1035 665h58v1h-58zM1152 693h58v1h-58z"/>
<path fill="#e88890" d="M1035 220h58v1h-58zM1035 368h58v1h-58zM1093 455h59v1h-59zM1152 388h58v1h-58zM977 561h58v1h-58zM977 619h58v1h-58zM1152 645h58v1h-58zM1152 739h58v1h-58z"/>
<path fill="#b8b8e8" d="M1035 224h58v1h-58zM1093 186h59v1h-59zM1152 219h58v1h-58zM977 634h58v1h-58z"/>
<path fill="#d8d0e8" d="M1035 226h58v1h-58zM1035 367h58v1h-58zM1152 363h58v1h-58zM1035 496h58v1h-58zM1035 679h58v1h-58zM1152 706h58v1h-58z"/>
<path fill="#f08890" d="M1035 229h58v1h-58zM1152 264h58v1h-58zM1093 489h59v1h-59z"/>
<path fill="#c8c0e0" d="M1035 230h58v1h-58zM1093 329h59v1h-59zM977 398h58v1h-58zM977 491h58v1h-58zM1093 467h59v1h-59zM1152 387h58v1h-58zM1152 503h58v1h-58zM1035 626h58v1h-58zM1152 601h58v1h-58z"/>
<path fill="#b0c0e8" d="M1035 234h58v1h-58zM1152 236h58v1h-58zM1152 292h58v1h-58zM1093 458h59v1h-59zM1093 709h59v1h-59zM1093 732h59v1h-59z"/>
<path fill="#f08888" d="M1035 245h58v1h-58zM1035 257h58v1h-58zM1035 302h58v1h-58zM1035 339h58v1h-58zM977 411h58v1h-58zM977 456h58v1h-58zM1035 427h58v1h-58zM1035 429h58v1h-58zM1093 399h59v1h-59zM1093 416h59v1h-59zM1093 430h59v1h-59zM977 608h58v1h-58zM1035 567h58v1h-58zM1093 577h59v1h-59z"/>
<path fill="#e86870" d="M1035 248h58v1h-58zM1093 209h59v1h-59zM977 527h58v1h-58zM977 689h58v1h-58zM977 703h58v1h-58zM1035 572h58v1h-58zM1035 739h58v1h-58zM1093 557h59v1h-59z"/>
<path fill="#d0c0d8" d="M1035 249h58v1h-58zM1093 182h59v1h-59zM1152 319h58v1h-58zM977 599h58v1h-58zM1152 716h58v1h-58zM1152 729h58v1h-58z"/>
<path fill="#e0d8e0" d="M1035 259h58v1h-58zM1035 283h58v1h-58zM977 393h58v1h-58zM977 474h58v1h-58zM1035 549h58v1h-58zM1035 722h58v1h-58zM1152 661h58v1h-58z"/>
<path fill="#d8d8d8" d="M1035 262h58v1h-58z"/>
<path fill="#a0b0e8" d="M1035 274h58v1h-58zM977 387h58v1h-58zM977 449h58v1h-58zM1093 496h59v1h-59zM1152 411h58v1h-58zM1152 431h58v1h-58zM977 591h58v1h-58zM977 735h58v1h-58zM1035 541h58v1h-58zM1093 574h59v1h-59zM1152 596h58v1h-58z"/>
<path fill="#d0c0c8" d="M1035 275h58v1h-58zM1093 170h59v1h-59zM1093 326h59v1h-59zM1093 344h59v1h-59zM1093 514h59v1h-59zM1093 619h59v1h-59z"/>
<path fill="#f8d0d8" d="M1035 280h58v1h-58z"/>
<path fill="#e0e0f0" d="M1035 281h58v1h-58zM1152 583h58v1h-58z"/>
<path fill="#e85860" d="M1035 290h58v1h-58zM1093 168h59v1h-59zM1093 336h59v1h-59zM1093 349h59v1h-59zM977 730h58v1h-58zM1035 599h58v1h-58z"/>
<path fill="#a8a0d0" d="M1035 291h58v1h-58zM1093 311h59v1h-59zM1152 415h58v1h-58zM1152 436h58v1h-58zM1152 494h58v1h-58zM977 665h58v1h-58z"/>
<path fill="#e85058" d="M1035 308h58v1h-58zM1035 656h58v1h-58zM1035 745h58v1h-58zM1152 670h58v1h-58z"/>
<path fill="#b090c0" d="M1035 309h58v1h-58z"/>
<path fill="#e85060" d="M1035 310h58v1h-58zM1093 312h59v1h-59z"/>
<path fill="#e03038" d="M1035 311h58v1h-58zM1035 440h58v1h-58zM1093 537h59v1h-59z"/>
<path fill="#9088d0" d="M1035 312h58v1h-58zM1152 245h58v1h-58zM1152 247h58v1h-58zM977 383h58v1h-58zM1035 676h58v1h-58zM1152 751h58v1h-58z"/>
<path fill="#88a0f0" d="M1035 313h58v1h-58zM1093 183h59v1h-59z"/>
<path fill="#c0c0e8" d="M1035 314h58v1h-58zM1035 350h58v1h-58zM1093 241h59v1h-59zM1152 282h58v1h-58zM1152 313h58v1h-58zM1152 424h58v1h-58zM1093 726h59v1h-59zM1093 729h59v1h-59zM1152 635h58v1h-58z"/>
<path fill="#d8c8d8" d="M1035 316h58v1h-58zM1152 445h58v1h-58z"/>
<path fill="#b0b8e8" d="M1035 317h58v1h-58zM1152 295h58v1h-58zM977 408h58v1h-58zM977 523h58v1h-58zM1035 701h58v1h-58zM1093 692h59v1h-59z"/>
<path fill="#e8c0c8" d="M1035 318h58v1h-58zM977 522h58v1h-58zM1152 377h58v1h-58zM1035 733h58v1h-58z"/>
<path fill="#f04848" d="M1035 321h58v1h-58zM1093 296h59v1h-59zM1152 252h58v1h-58zM977 391h58v1h-58zM977 406h58v1h-58zM977 650h58v1h-58zM977 759h58v1h-58zM1035 553h58v2h-58zM1035 692h58v1h-58zM1093 655h59v1h-59zM1093 750h59v1h-59zM1152 632h58v1h-58z"/>
<path fill="#e0a0b0" d="M1035 322h58v1h-58zM1093 218h59v1h-59zM1152 446h58v1h-58zM977 696h58v1h-58z"/>
<path fill="#7890e0" d="M1035 323h58v1h-58z"/>
<path fill="#f0f0f8" d="M1035 325h58v1h-58zM1093 216h59v1h-59zM1093 309h59v1h-59zM1152 301h58v1h-58zM1035 569h58v1h-58zM1093 677h59v1h-59zM1152 575h58v1h-58zM1152 638h58v1h-58z"/>
<path fill="#7090e8" d="M1035 334h58v2h-58zM1093 466h59v1h-59zM1152 514h58v2h-58zM977 536h58v1h-58zM977 676h58v1h-58zM1093 680h59v1h-59z"/>
<path fill="#e8a8b8" d="M1035 342h58v1h-58zM1035 344h58v1h-58zM977 635h58v1h-58zM1093 635h59v1h-59z"/>
<path fill="#9898d8" d="M1035 343h58v1h-58zM1093 177h59v1h-59zM1093 264h59v1h-59zM1093 275h59v1h-59zM1152 180h58v1h-58zM977 501h58v1h-58zM1035 421h58v1h-58zM977 677h58v1h-58z"/>
<path fill="#d0c0d0" d="M1035 347h58v1h-58zM1093 415h59v1h-59zM977 538h58v1h-58zM977 716h58v1h-58zM1152 617h58v1h-58z"/>
<path fill="#8890d8" d="M1035 348h58v1h-58z"/>
<path fill="#d0d8f8" d="M1035 351h58v1h-58zM1035 363h58v1h-58zM1152 275h58v1h-58zM977 385h58v1h-58zM977 394h58v2h-58zM977 476h58v1h-58zM1152 452h58v1h-58zM1152 472h58v1h-58zM977 661h58v1h-58zM977 752h58v1h-58zM1093 686h59v1h-59zM1093 735h59v1h-59z"/>
<path fill="#e8e0f0" d="M1035 352h58v1h-58zM1093 643h59v1h-59z"/>
<path fill="#c0a8d0" d="M1035 355h58v1h-58zM1035 478h58v1h-58zM1152 439h58v1h-58zM977 729h58v1h-58z"/>
<path fill="#e0c0d0" d="M1035 357h58v1h-58zM1152 359h58v1h-58z"/>
<path fill="#e0b8b8" d="M1035 359h58v1h-58zM1093 255h59v1h-59zM1093 270h59v1h-59zM1093 306h59v1h-59zM1035 498h58v1h-58zM1093 396h59v1h-59zM1093 398h59v1h-59zM1093 499h59v1h-59zM977 540h58v1h-58zM977 601h58v1h-58zM977 724h58v1h-58zM1035 552h58v1h-58zM1093 561h59v1h-59zM1093 656h59v1h-59zM1093 751h59v1h-59z"/>
<path fill="#e84850" d="M1035 360h58v1h-58zM1152 166h58v1h-58z"/>
<path fill="#c8b8d8" d="M1035 361h58v1h-58zM1093 192h59v1h-59zM977 706h58v1h-58zM1152 733h58v1h-58z"/>
<path fill="#a8c0f0" d="M1035 362h58v1h-58zM977 554h58v1h-58z"/>
<path fill="#c0b8e0" d="M1035 369h58v1h-58zM1152 164h58v1h-58zM1152 263h58v1h-58zM977 555h58v1h-58zM977 702h58v1h-58zM1093 553h59v1h-59z"/>
<path fill="#f01010" d="M1093 152h59v1h-59zM1035 465h58v1h-58zM1152 759h58v1h-58z"/>
<path fill="#e82830" d="M1093 153h59v1h-59zM1093 194h59v1h-59zM1152 229h58v1h-58zM1152 413h58v1h-58z"/>
<path fill="#c8a8c8" d="M1093 154h59v1h-59zM1093 348h59v1h-59zM1093 469h59v1h-59z"/>
<path fill="#f89898" d="M1093 156h59v2h-59zM1093 287h59v1h-59zM1093 341h59v1h-59zM977 420h58v3h-58zM1035 474h58v1h-58zM1035 514h58v1h-58zM1152 467h58v1h-58zM977 644h58v1h-58zM977 648h58v1h-58zM1093 571h59v1h-59zM1152 607h58v1h-58zM1152 631h58v1h-58z"/>
<path fill="#e0c8d8" d="M1093 160h59v1h-59zM1152 309h58v1h-58zM1093 483h59v1h-59zM1152 526h58v1h-58zM1035 687h58v1h-58zM1152 605h58v1h-58z"/>
<path fill="#e87880" d="M1093 166h59v1h-59zM1093 484h59v1h-59zM1152 394h58v1h-58zM977 556h58v1h-58zM977 640h58v1h-58z"/>
<path fill="#c0a8c8" d="M1093 167h59v1h-59z"/>
<path fill="#d0c8d0" d="M1093 172h59v1h-59zM1152 206h58v1h-58zM1035 408h58v1h-58z"/>
<path fill="#e0d8e8" d="M1093 174h59v1h-59zM1152 285h58v1h-58zM1035 507h58v1h-58zM1093 446h59v1h-59zM977 582h58v1h-58zM977 636h58v1h-58zM1093 610h59v1h-59zM1152 709h58v1h-58zM1152 755h58v1h-58z"/>
<path fill="#e07888" d="M1093 176h59v1h-59zM977 507h58v1h-58zM977 737h58v1h-58z"/>
<path fill="#d0c8d8" d="M1093 178h59v1h-59zM1152 181h58v1h-58zM1035 594h58v1h-58zM1035 633h58v1h-58zM1035 640h58v1h-58zM1035 758h58v1h-58z"/>
<path fill="#f0a0a0" d="M1093 179h59v1h-59zM1093 422h59v1h-59zM1152 444h58v1h-58zM977 613h58v1h-58zM977 641h58v1h-58zM1093 562h59v1h-59zM1093 659h59v1h-59zM1093 754h59v1h-59zM1152 545h58v1h-58zM1152 566h58v1h-58zM1152 633h58v1h-58z"/>
<path fill="#f04048" d="M1093 181h59v1h-59z"/>
<path fill="#7898e8" d="M1093 184h59v1h-59zM1035 377h58v1h-58zM1035 397h58v1h-58zM1035 406h58v1h-58zM1035 455h58v1h-58zM1035 488h58v1h-58zM1152 451h58v1h-58zM977 672h58v1h-58zM1152 558h58v1h-58z"/>
<path fill="#e8b8b8" d="M1093 187h59v1h-59z"/>
<path fill="#a8a8e0" d="M1093 199h59v1h-59zM1093 205h59v1h-59zM977 695h58v1h-58z"/>
<path fill="#e0d0d8" d="M1093 201h59v1h-59zM1093 221h59v1h-59zM1152 222h58v1h-58zM1093 431h59v1h-59zM977 612h58v1h-58zM977 625h58v1h-58zM1035 568h58v1h-58zM1152 691h58v1h-58z"/>
<path fill="#e0b8c8" d="M1093 206h59v1h-59zM1035 492h58v1h-58zM1152 509h58v1h-58zM1035 672h58v1h-58z"/>
<path fill="#a0a0d8" d="M1093 208h59v1h-59zM977 396h58v1h-58zM977 542h58v1h-58zM1093 559h59v1h-59z"/>
<path fill="#d8b8d0" d="M1093 211h59v1h-59zM1093 485h59v1h-59zM1152 487h58v1h-58z"/>
<path fill="#f8e8e8" d="M1093 215h59v1h-59zM1152 355h58v1h-58z"/>
<path fill="#e098a8" d="M1093 220h59v1h-59zM1152 347h58v1h-58zM977 745h58v1h-58zM1035 693h58v1h-58z"/>
<path fill="#b8b8e0" d="M1093 227h59v1h-59zM1093 418h59v1h-59zM1152 401h58v1h-58zM1152 513h58v1h-58zM1093 648h59v1h-59zM1152 718h58v1h-58zM1152 735h58v1h-58z"/>
<path fill="#e89098" d="M1093 228h59v1h-59zM1093 286h59v1h-59zM1093 300h59v1h-59zM1093 468h59v1h-59zM1152 400h58v1h-58zM1093 576h59v1h-59zM1093 646h59v1h-59zM1152 553h58v1h-58z"/>
<path fill="#e0e0f8" d="M1093 242h59v1h-59zM1152 308h58v1h-58zM977 659h58v1h-58zM1035 736h58v1h-58z"/>
<path fill="#e0d8f0" d="M1093 251h59v1h-59zM1152 277h58v1h-58zM977 472h58v1h-58z"/>
<path fill="#e8c8d0" d="M1093 252h59v1h-59zM1152 286h58v1h-58zM1152 647h58v1h-58z"/>
<path fill="#b8b0e0" d="M1093 253h59v1h-59zM1093 301h59v1h-59zM1093 435h59v1h-59zM1035 712h58v1h-58z"/>
<path fill="#e8a0b0" d="M1093 254h59v1h-59zM1152 356h58v1h-58zM977 583h58v1h-58zM977 718h58v1h-58z"/>
<path fill="#d84048" d="M1093 256h59v1h-59zM1035 618h58v1h-58z"/>
<path fill="#8880c8" d="M1093 257h59v1h-59zM1035 441h58v1h-58zM977 746h58v1h-58z"/>
<path fill="#e08898" d="M1093 263h59v1h-59zM1152 212h58v1h-58z"/>
<path fill="#f098a0" d="M1093 272h59v1h-59zM1152 466h58v1h-58zM977 651h58v1h-58zM1035 707h58v1h-58zM1152 659h58v1h-58z"/>
<path fill="#e0a8b8" d="M1093 274h59v1h-59zM1152 481h58v1h-58zM1093 705h59v1h-59z"/>
<path fill="#d8a8c0" d="M1093 276h59v1h-59zM1152 417h58v1h-58z"/>
<path fill="#7890e8" d="M1093 278h59v1h-59zM1152 151h58v1h-58zM1035 388h58v1h-58zM1093 414h59v1h-59zM1152 448h58v1h-58z"/>
<path fill="#b8c8e8" d="M1093 281h59v1h-59zM1035 379h58v1h-58zM977 756h58v1h-58z"/>
<path fill="#e0e0e8" d="M1093 290h59v1h-59zM1152 156h58v1h-58zM1093 447h59v1h-59zM977 572h58v1h-58zM1035 735h58v1h-58zM1093 602h59v1h-59zM1093 676h59v1h-59z"/>
<path fill="#e0b8c0" d="M1093 305h59v1h-59z"/>
<path fill="#e890a0" d="M1093 313h59v1h-59zM1093 354h59v1h-59zM977 424h58v1h-58z"/>
<path fill="#90a0e0" d="M1093 314h59v1h-59zM1093 712h59v1h-59zM1152 736h58v1h-58z"/>
<path fill="#d8d0d0" d="M1093 320h59v1h-59z"/>
<path fill="#e898a0" d="M1093 321h59v1h-59zM1035 431h58v1h-58zM1093 486h59v1h-59zM1152 512h58v1h-58zM977 628h58v1h-58zM977 645h58v1h-58z"/>
<path fill="#d86078" d="M1093 328h59v1h-59z"/>
<path fill="#b8b0d8" d="M1093 335h59v1h-59zM1093 464h59v1h-59zM1035 571h58v1h-58z"/>
<path fill="#e04850" d="M1093 342h59v1h-59zM1035 384h58v1h-58z"/>
<path fill="#a098d0" d="M1093 343h59v1h-59zM1152 258h58v1h-58zM1093 379h59v1h-59zM1035 603h58v1h-58z"/>
<path fill="#f09098" d="M1093 347h59v1h-59zM1152 205h58v1h-58zM1152 506h58v1h-58zM1035 637h58v1h-58zM1093 647h59v1h-59z"/>
<path fill="#f8f8f8" d="M1093 351h59v1h-59zM1152 613h58v1h-58z"/>
<path fill="#ffe8e8" d="M1093 352h59v1h-59zM1035 468h58v1h-58z"/>
<path fill="#9898d0" d="M1093 355h59v1h-59zM1093 637h59v1h-59z"/>
<path fill="#f8c0c0" d="M1093 361h59v1h-59zM977 392h58v1h-58zM977 419h58v1h-58zM977 434h58v2h-58zM1093 391h59v1h-59zM1152 441h58v2h-58zM1152 461h58v1h-58zM977 719h58v1h-58zM1035 630h58v1h-58zM1093 563h59v1h-59zM1152 543h58v1h-58zM1152 555h58v1h-58z"/>
<path fill="#e0c0d8" d="M1093 365h59v1h-59z"/>
<path fill="#d0b0c0" d="M1093 368h59v1h-59zM1152 492h58v1h-58z"/>
<path fill="#e82028" d="M1152 149h58v1h-58zM977 630h58v1h-58z"/>
<path fill="#a0b8f0" d="M1152 152h58v1h-58zM1152 485h58v1h-58zM977 546h58v1h-58zM977 592h58v1h-58zM1093 548h59v1h-59zM1093 724h59v1h-59zM1152 688h58v1h-58z"/>
<path fill="#c8d8f8" d="M1152 158h58v1h-58zM1152 243h58v1h-58zM977 386h58v1h-58zM977 477h58v1h-58zM1093 385h59v1h-59zM1093 629h59v1h-59zM1093 674h59v1h-59zM1093 687h59v1h-59zM1093 736h59v1h-59z"/>
<path fill="#e88088" d="M1152 165h58v1h-58zM977 515h58v1h-58zM977 525h58v1h-58zM1035 664h58v1h-58z"/>
<path fill="#d0b8d0" d="M1152 172h58v1h-58zM1035 708h58v1h-58zM1093 603h59v1h-59zM1093 627h59v1h-59z"/>
<path fill="#e05868" d="M1152 173h58v1h-58zM1152 344h58v1h-58z"/>
<path fill="#b0a8d8" d="M1152 174h58v1h-58zM1093 413h59v1h-59zM1152 396h58v1h-58zM1152 404h58v1h-58z"/>
<path fill="#e09098" d="M1152 179h58v1h-58z"/>
<path fill="#f0f8f8" d="M1152 200h58v2h-58z"/>
<path fill="#e0d0e0" d="M1152 204h58v1h-58z"/>
<path fill="#9090d8" d="M1152 211h58v1h-58zM977 738h58v1h-58z"/>
<path fill="#a8b0e0" d="M1152 220h58v1h-58zM1093 451h59v1h-59zM1093 494h59v1h-59zM977 584h58v1h-58zM1093 645h59v1h-59z"/>
<path fill="#d84860" d="M1152 225h58v1h-58z"/>
<path fill="#a090c8" d="M1152 226h58v1h-58z"/>
<path fill="#e0a0b8" d="M1152 227h58v1h-58z"/>
<path fill="#c0a0c8" d="M1152 228h58v1h-58z"/>
<path fill="#e82020" d="M1152 230h58v1h-58zM977 631h58v1h-58z"/>
<path fill="#d8b8c0" d="M1152 231h58v1h-58zM977 632h58v1h-58zM977 757h58v1h-58z"/>
<path fill="#c0c8e0" d="M1152 235h58v1h-58zM1035 378h58v1h-58zM1093 510h59v1h-59zM1152 449h58v1h-58zM1152 479h58v1h-58zM1035 602h58v1h-58z"/>
<path fill="#d04058" d="M1152 246h58v1h-58z"/>
<path fill="#6080e8" d="M1152 248h58v1h-58zM1093 638h59v1h-59zM1093 703h59v1h-59z"/>
<path fill="#5878e8" d="M1152 249h58v1h-58zM1035 695h58v1h-58z"/>
<path fill="#6888e8" d="M1152 250h58v1h-58zM977 673h58v3h-58zM1093 639h59v1h-59z"/>
<path fill="#c8d0f8" d="M1152 267h58v1h-58zM1152 269h58v1h-58zM1093 384h59v1h-59zM1093 386h59v1h-59zM1152 455h58v1h-58zM977 588h58v1h-58zM977 700h58v1h-58z"/>
<path fill="#90a8f0" d="M1152 270h58v1h-58zM1093 465h59v1h-59zM977 543h58v1h-58zM1152 689h58v1h-58z"/>
<path fill="#f0f8ff" d="M1152 302h58v1h-58z"/>
<path fill="#88a0e0" d="M1152 305h58v1h-58z"/>
<path fill="#d8c0d0" d="M1152 311h58v1h-58z"/>
<path fill="#f86060" d="M1152 315h58v1h-58zM977 447h58v1h-58zM977 562h58v1h-58zM1152 679h58v1h-58z"/>
<path fill="#f06870" d="M1152 318h58v1h-58zM1035 437h58v1h-58zM1035 581h58v1h-58z"/>
<path fill="#c8d8f0" d="M1152 332h58v1h-58zM977 432h58v1h-58zM1035 487h58v1h-58zM977 657h58v1h-58zM1035 683h58v1h-58zM1093 547h59v1h-59zM1093 673h59v1h-59zM1093 675h59v1h-59zM1152 586h58v1h-58z"/>
<path fill="#e098a0" d="M1152 342h58v1h-58zM1035 678h58v1h-58z"/>
<path fill="#8070c0" d="M1152 343h58v1h-58zM1035 493h58v1h-58z"/>
<path fill="#8090d8" d="M1152 348h58v1h-58zM1035 418h58v1h-58zM1093 552h59v1h-59z"/>
<path fill="#b8c0e0" d="M1152 349h58v1h-58z"/>
<path fill="#8088d8" d="M1152 357h58v1h-58zM1035 396h58v1h-58zM1093 434h59v1h-59zM1152 420h58v1h-58zM1093 681h59v1h-59zM1152 573h58v1h-58z"/>
<path fill="#8090e0" d="M1152 358h58v1h-58zM1152 447h58v1h-58z"/>
<path fill="#e8b0c0" d="M977 379h58v1h-58zM1093 452h59v1h-59zM1152 432h58v1h-58z"/>
<path fill="#98a0e0" d="M977 380h58v1h-58zM977 425h58v1h-58zM977 717h58v1h-58zM1035 642h58v1h-58zM1093 615h59v1h-59zM1152 618h58v1h-58z"/>
<path fill="#d05870" d="M977 382h58v1h-58z"/>
<path fill="#e08090" d="M977 397h58v1h-58zM977 494h58v1h-58zM1035 419h58v1h-58zM1035 709h58v1h-58zM1152 572h58v1h-58z"/>
<path fill="#ffe0e0" d="M977 418h58v1h-58z"/>
<path fill="#e8e8f0" d="M977 450h58v1h-58z"/>
<path fill="#9098d8" d="M977 483h58v1h-58zM1093 456h59v1h-59zM1035 595h58v1h-58zM1093 626h59v1h-59z"/>
<path fill="#d88090" d="M977 484h58v1h-58z"/>
<path fill="#d88098" d="M977 492h58v1h-58zM1152 719h58v1h-58z"/>
<path fill="#9080c8" d="M977 493h58v1h-58zM1093 481h59v1h-59z"/>
<path fill="#e08890" d="M977 500h58v1h-58zM1152 600h58v1h-58z"/>
<path fill="#8870b8" d="M977 508h58v1h-58z"/>
<path fill="#d84850" d="M977 509h58v1h-58z"/>
<path fill="#d8b0c8" d="M977 526h58v1h-58z"/>
<path fill="#b0a0d0" d="M1035 383h58v1h-58zM1093 377h59v1h-59zM1093 438h59v1h-59zM1093 611h59v1h-59zM1093 640h59v1h-59z"/>
<path fill="#e07880" d="M1035 395h58v1h-58zM977 541h58v1h-58z"/>
<path fill="#e87078" d="M1035 400h58v1h-58zM1093 412h59v1h-59zM1093 437h59v1h-59zM1152 500h58v1h-58zM1152 502h58v1h-58zM977 600h58v1h-58zM977 678h58v1h-58z"/>
<path fill="#c0b8d8" d="M1035 401h58v1h-58zM977 688h58v1h-58zM1093 685h59v1h-59z"/>
<path fill="#e88090" d="M1035 420h58v1h-58zM1152 527h58v1h-58z"/>
<path fill="#c8a0c0" d="M1035 438h58v1h-58z"/>
<path fill="#e83838" d="M1035 439h58v1h-58z"/>
<path fill="#e86060" d="M1035 462h58v1h-58zM1093 500h59v1h-59zM1035 659h58v1h-58z"/>
<path fill="#f02020" d="M1035 464h58v1h-58z"/>
<path fill="#7078d0" d="M1035 489h58v1h-58z"/>
<path fill="#d03048" d="M1035 494h58v1h-58z"/>
<path fill="#e0b0b0" d="M1035 500h58v1h-58zM1035 598h58v1h-58zM1035 611h58v1h-58zM1152 649h58v1h-58z"/>
<path fill="#e8d8e0" d="M1035 510h58v1h-58z"/>
<path fill="#b0b8f0" d="M1035 511h58v1h-58z"/>
<path fill="#b0b0e8" d="M1035 512h58v1h-58zM1152 416h58v1h-58z"/>
<path fill="#f0a0b0" d="M1035 513h58v1h-58z"/>
<path fill="#e0b0b8" d="M1035 523h58v1h-58z"/>
<path fill="#d84858" d="M1093 378h59v1h-59zM1152 700h58v1h-58z"/>
<path fill="#a8b0e8" d="M1093 380h59v1h-59zM977 697h58v1h-58z"/>
<path fill="#e8b8c8" d="M1093 381h59v1h-59zM1093 713h59v1h-59z"/>
<path fill="#f87070" d="M1093 406h59v1h-59zM1093 587h59v1h-59z"/>
<path fill="#d87088" d="M1093 433h59v1h-59z"/>
<path fill="#f07880" d="M1093 436h59v1h-59zM1035 624h58v2h-58z"/>
<path fill="#e86068" d="M1093 463h59v1h-59zM1093 470h59v1h-59zM977 705h58v1h-58zM1093 586h59v1h-59zM1093 636h59v1h-59z"/>
<path fill="#e83840" d="M1093 478h59v1h-59zM1152 435h58v1h-58zM1093 604h59v1h-59zM1152 667h58v1h-58z"/>
<path fill="#b888b8" d="M1093 479h59v1h-59z"/>
<path fill="#d05060" d="M1093 480h59v1h-59z"/>
<path fill="#e0b0c0" d="M1093 482h59v1h-59zM1035 641h58v1h-58zM1152 591h58v1h-58z"/>
<path fill="#e090a0" d="M1093 498h59v1h-59zM977 559h58v1h-58zM1093 551h59v1h-59z"/>
<path fill="#e05060" d="M1093 512h59v1h-59z"/>
<path fill="#8088d0" d="M1093 515h59v1h-59z"/>
<path fill="#d86878" d="M1093 516h59v1h-59z"/>
<path fill="#b0b0d8" d="M1093 521h59v1h-59z"/>
<path fill="#e07080" d="M1093 522h59v1h-59zM1152 399h58v1h-58zM1152 702h58v1h-58z"/>
<path fill="#c8c0d8" d="M1093 523h59v1h-59z"/>
<path fill="#98a8f0" d="M1093 527h59v1h-59z"/>
<path fill="#f0e0e0" d="M1093 529h59v1h-59z"/>
<path fill="#d86880" d="M1152 397h58v1h-58z"/>
<path fill="#e02830" d="M1152 414h58v1h-58z"/>
<path fill="#c890b0" d="M1152 419h58v1h-58z"/>
<path fill="#e8e0e8" d="M1152 426h58v1h-58z"/>
<path fill="#e8c8c8" d="M1152 443h58v1h-58zM977 642h58v1h-58zM1152 554h58v1h-58z"/>
<path fill="#f07078" d="M1152 458h58v1h-58z"/>
<path fill="#8898e8" d="M1152 486h58v1h-58z"/>
<path fill="#d0a8c8" d="M1152 501h58v1h-58zM977 629h58v1h-58zM1093 683h59v1h-59z"/>
<path fill="#e88898" d="M1152 505h58v1h-58zM1093 570h59v1h-59z"/>
<path fill="#c8c0e8" d="M1152 518h58v1h-58zM977 693h58v1h-58z"/>
<path fill="#c0c0e0" d="M977 558h58v1h-58zM1035 648h58v1h-58z"/>
<path fill="#e04858" d="M977 586h58v1h-58z"/>
<path fill="#d0b8d8" d="M977 587h58v1h-58zM1035 579h58v1h-58zM1152 552h58v1h-58zM1152 738h58v1h-58z"/>
<path fill="#e8d0d8" d="M977 611h58v1h-58zM1093 697h59v1h-59z"/>
<path fill="#8890e0" d="M977 620h58v1h-58z"/>
<path fill="#c8b0d8" d="M977 627h58v1h-58z"/>
<path fill="#d8e0e8" d="M977 658h58v1h-58z"/>
<path fill="#e0a0a8" d="M977 714h58v1h-58z"/>
<path fill="#a0a8e8" d="M977 734h58v1h-58zM1035 699h58v1h-58z"/>
<path fill="#e06070" d="M977 747h58v1h-58zM1093 722h59v1h-59z"/>
<path fill="#f85858" d="M977 748h58v1h-58z"/>
<path fill="#f0d0d0" d="M1035 588h58v1h-58zM1152 622h58v1h-58zM1152 641h58v1h-58zM1152 745h58v1h-58z"/>
<path fill="#e08088" d="M1035 596h58v1h-58z"/>
<path fill="#e05058" d="M1035 604h58v1h-58zM1035 675h58v1h-58zM1152 750h58v1h-58z"/>
<path fill="#d8d8f8" d="M1035 622h58v1h-58z"/>
<path fill="#e85858" d="M1035 652h58v1h-58z"/>
<path fill="#c8b8d0" d="M1035 655h58v1h-58z"/>
<path fill="#a098d8" d="M1035 662h58v1h-58z"/>
<path fill="#98a0e8" d="M1035 671h58v1h-58z"/>
<path fill="#7080e0" d="M1035 694h58v1h-58z"/>
<path fill="#6888e0" d="M1035 696h58v1h-58z"/>
<path fill="#e0b0c8" d="M1035 700h58v1h-58z"/>
<path fill="#a088c0" d="M1035 710h58v1h-58z"/>
<path fill="#d87080" d="M1035 711h58v1h-58zM1093 554h59v1h-59z"/>
<path fill="#8098e0" d="M1035 728h58v1h-58z"/>
<path fill="#90a0e8" d="M1035 737h58v1h-58zM1093 628h59v1h-59z"/>
<path fill="#e8d0e0" d="M1035 741h58v1h-58z"/>
<path fill="#f01818" d="M1093 536h59v1h-59zM1152 758h58v1h-58z"/>
<path fill="#a090d0" d="M1093 538h59v1h-59zM1093 542h59v1h-59z"/>
<path fill="#e02028" d="M1093 541h59v1h-59z"/>
<path fill="#a0a0e0" d="M1093 569h59v1h-59zM1152 646h58v1h-58z"/>
<path fill="#e0c8d0" d="M1093 650h59v1h-59zM1152 629h58v1h-58z"/>
<path fill="#d87888" d="M1093 682h59v1h-59z"/>
<path fill="#e8d8e8" d="M1093 693h59v1h-59z"/>
<path fill="#f04850" d="M1093 698h59v1h-59z"/>
<path fill="#7080d8" d="M1093 704h59v1h-59z"/>
<path fill="#7878d0" d="M1093 723h59v1h-59z"/>
<path fill="#f0e8f8" d="M1152 576h58v1h-58z"/>
<path fill="#e8e0e0" d="M1152 623h58v1h-58z"/>
<path fill="#8070b8" d="M1152 701h58v1h-58z"/>
<path fill="#a080b8" d="M1152 720h58v1h-58z"/>
<path fill="#e0a8c0" d="M1152 737h58v1h-58z"/>
<rect x="614" y="772" width="122.5" height="17" fill="url(#gk4)"/>
<text x="614.0" y="817.5" font-size="25.8">0</text>
<text x="736.5" y="817.5" font-size="25.8" text-anchor="end">8</text>
<rect x="850.5" y="772" width="122.5" height="17" fill="url(#gk27)"/>
<text x="850.5" y="817.5" font-size="25.8">0</text>
<text x="973.0" y="817.5" font-size="25.8" text-anchor="end">25</text>
<rect x="1087.5" y="772" width="122.5" height="17" fill="url(#gbwr)"/>
<text x="1087.5" y="817.5" font-size="25.8">-1.5</text>
<text x="1210.0" y="817.5" font-size="25.8" text-anchor="end">1.5</text>
<path d="M1214 145L1344 70.5V315L1214 370.5z" fill="#dff0fd"/>
<path d="M1214 376L1344 320V568.5L1214 531.5z" fill="#fde5e6"/>
<path d="M1214 531.5L1344 568.5V781.5L1214 756z" fill="#fee3cf"/>
<text x="1227.0" y="180.6" font-size="25.8" font-style="italic" fill="#1c2a38">Ets1</text>
<text x="1227.0" y="214.6" font-size="25.8" font-style="italic" fill="#1c2a38">Pecam1</text>
<text x="1227.0" y="248.6" font-size="25.8" font-style="italic" fill="#1c2a38">Leap2</text>
<text x="1227.0" y="282.6" font-size="25.8" font-style="italic" fill="#1c2a38">Nxph3</text>
<text x="1227.0" y="316.6" font-size="25.8" font-style="italic" fill="#1c2a38">Neurod2</text>
<text x="1227.0" y="350.6" font-size="25.8" font-style="italic" fill="#1c2a38">Nrep</text>
<text x="1227.0" y="397.2" font-size="25.8" font-style="italic" fill="#261c1e">Hexim1</text>
<text x="1227.0" y="423.5" font-size="25.8" font-style="italic" fill="#261c1e">Mecom</text>
<text x="1227.0" y="449.8" font-size="25.8" font-style="italic" fill="#261c1e">Cebpg</text>
<text x="1227.0" y="476.1" font-size="25.8" font-style="italic" fill="#261c1e">Tnfrsf17</text>
<text x="1227.0" y="502.4" font-size="25.8" font-style="italic" fill="#261c1e">Il13</text>
<text x="1227.0" y="528.7" font-size="25.8" font-style="italic" fill="#261c1e">Irf2</text>
<text x="1227.0" y="574.0" font-size="25.8" font-style="italic" fill="#281d16">Ptprc</text>
<text x="1227.0" y="606.0" font-size="25.8" font-style="italic" fill="#281d16">Meis1</text>
<text x="1227.0" y="638.0" font-size="25.8" font-style="italic" fill="#281d16">Sla2</text>
<text x="1227.0" y="670.0" font-size="25.8" font-style="italic" fill="#281d16">Cbfa2t3</text>
<text x="1227.0" y="702.0" font-size="25.8" font-style="italic" fill="#281d16">Socs5</text>
<text x="1300.5" y="44.2" font-size="62.5" font-weight="bold">d</text>
<rect x="1346.00" y="70.00" width="34.00" height="243.50" fill="#595959"/>
<text transform="translate(1372.0 191.5) rotate(-90)" font-size="25.6" text-anchor="middle" fill="#fff">Non-hematopoiesis</text>
<rect x="1346.00" y="320.00" width="34.00" height="466.00" fill="#595959"/>
<text transform="translate(1372.0 553.0) rotate(-90)" font-size="25.75" text-anchor="middle" fill="#fff">Hemopoiesis &amp; Immune</text>
<path d="M1388.2 67.7H1997.2V789.7H1388.2zM1388.2 325.3H1997M1388.2 543.5H1997" fill="none" stroke="#595959" stroke-width="2.4"/>
<rect x="1408.50" y="85.40" width="208.00" height="15.00" fill="#c1d7fa"/>
<rect x="1408.50" y="114.35" width="157.20" height="15.00" fill="#c1d7fa"/>
<rect x="1408.50" y="143.30" width="124.00" height="15.00" fill="#c1d7fa"/>
<rect x="1408.50" y="172.25" width="122.30" height="15.00" fill="#c1d7fa"/>
<rect x="1408.50" y="201.20" width="118.80" height="15.00" fill="#c1d7fa"/>
<rect x="1408.50" y="230.15" width="117.00" height="15.00" fill="#c1d7fa"/>
<rect x="1408.50" y="259.10" width="104.80" height="15.00" fill="#c1d7fa"/>
<path d="M1407.8 83V283.5H1624.5M1461.2 283.5v-5.5M1513.8 283.5v-5.5M1566.5 283.5v-5.5M1619.1 283.5v-5.5" fill="none" stroke="#d5d5d5" stroke-width="2.2"/>
<text x="1415.3" y="99.7" font-size="25.85" fill="#595959">organelle localization</text>
<text x="1415.3" y="128.7" font-size="25.85" fill="#595959">regulation of epithelial cell migration</text>
<text x="1415.3" y="157.6" font-size="25.85" fill="#595959">astrocyte fate commitment</text>
<text x="1415.3" y="186.6" font-size="25.85" fill="#595959">retinal rod cell differentiation</text>
<text x="1415.3" y="215.5" font-size="25.85" fill="#595959">regulation of actin filament-based process</text>
<text x="1415.3" y="244.5" font-size="25.85" fill="#595959">metanephric nephron tubule morphogenesis</text>
<text x="1415.3" y="273.4" font-size="25.85" fill="#595959">ureter morphogenesis</text>
<text x="1407.5" y="309.8" font-size="25.8" text-anchor="middle" fill="#595959">0</text>
<text x="1460.2" y="309.8" font-size="25.8" text-anchor="middle" fill="#595959">1</text>
<text x="1512.8" y="309.8" font-size="25.8" text-anchor="middle" fill="#595959">2</text>
<text x="1565.5" y="309.8" font-size="25.8" text-anchor="middle" fill="#595959">3</text>
<text x="1618.1" y="309.8" font-size="25.8" text-anchor="middle" fill="#595959">4</text>
<text x="1668.5" y="309.8" font-size="25.8" fill="#595959">-log10(FDR)</text>
<rect x="1408.50" y="344.20" width="402.50" height="15.40" fill="#f9c0c9"/>
<rect x="1408.50" y="372.15" width="358.30" height="15.40" fill="#f9c0c9"/>
<rect x="1408.50" y="400.10" width="331.50" height="15.40" fill="#f9c0c9"/>
<rect x="1408.50" y="428.05" width="153.00" height="15.40" fill="#f9c0c9"/>
<rect x="1408.50" y="456.00" width="88.50" height="15.40" fill="#f9c0c9"/>
<rect x="1408.50" y="483.95" width="83.80" height="15.40" fill="#f9c0c9"/>
<path d="M1407.8 341.5V509.5H1856.5M1514.2 509.5v-5.5M1619.9 509.5v-5.5M1725.6 509.5v-5.5M1831.3 509.5v-5.5" fill="none" stroke="#d5d5d5" stroke-width="2.2"/>
<text x="1415.3" y="358.1" font-size="25.85" fill="#595959">regulation of defense response to virus</text>
<text x="1415.3" y="386.0" font-size="25.85" fill="#595959">regulation of RIG-I signaling pathway</text>
<text x="1415.3" y="414.0" font-size="25.85" fill="#595959">chromatin organization</text>
<text x="1415.3" y="441.9" font-size="25.85" fill="#595959">regulation of immune effector process</text>
<text x="1415.3" y="469.9" font-size="25.85" fill="#595959">mitotic G2/M transition checkpoint</text>
<text x="1415.3" y="497.8" font-size="25.85" fill="#595959">regulation of B cell receptor signaling pathway</text>
<text x="1407.5" y="533.5" font-size="25.8" text-anchor="middle" fill="#595959">0</text>
<text x="1513.2" y="533.5" font-size="25.8" text-anchor="middle" fill="#595959">2</text>
<text x="1618.9" y="533.5" font-size="25.8" text-anchor="middle" fill="#595959">4</text>
<text x="1724.6" y="533.5" font-size="25.8" text-anchor="middle" fill="#595959">6</text>
<text x="1830.3" y="533.5" font-size="25.8" text-anchor="middle" fill="#595959">8</text>
<text x="1847.0" y="533.5" font-size="25.8" fill="#595959">-log10(FDR)</text>
<rect x="1408.50" y="566.15" width="278.50" height="16.50" fill="#fbb77d"/>
<rect x="1408.50" y="597.25" width="238.50" height="16.50" fill="#fbb77d"/>
<rect x="1408.50" y="628.35" width="191.20" height="16.50" fill="#fbb77d"/>
<rect x="1408.50" y="659.45" width="147.80" height="16.50" fill="#fbb77d"/>
<rect x="1408.50" y="690.55" width="104.80" height="16.50" fill="#fbb77d"/>
<rect x="1408.50" y="721.65" width="98.50" height="16.50" fill="#fbb77d"/>
<path d="M1407.8 563V749.1H1739.5M1461.4 749.1v-5.5M1514.3 749.1v-5.5M1567.2 749.1v-5.5M1620.1 749.1v-5.5M1673.0 749.1v-5.5M1725.9 749.1v-5.5" fill="none" stroke="#d5d5d5" stroke-width="2.2"/>
<text x="1415.3" y="581.5" font-size="25.85" fill="#595959">regulation of immune system process</text>
<text x="1415.3" y="612.6" font-size="25.85" fill="#595959">regulation of cardiac muscle hypertrophy in stress</text>
<text x="1415.3" y="643.7" font-size="25.85" fill="#595959">insulin receptor signaling pathway</text>
<text x="1415.3" y="674.8" font-size="25.85" fill="#595959">positive regulation of stem cell differentiation</text>
<text x="1415.3" y="705.9" font-size="25.85" fill="#595959">regulation of hemopoiesis</text>
<text x="1415.3" y="737.0" font-size="25.85" fill="#595959">antigen processing and presentation</text>
<text x="1407.5" y="774.8" font-size="25.8" text-anchor="middle" fill="#595959">0</text>
<text x="1460.4" y="774.8" font-size="25.8" text-anchor="middle" fill="#595959">1</text>
<text x="1513.3" y="774.8" font-size="25.8" text-anchor="middle" fill="#595959">2</text>
<text x="1566.2" y="774.8" font-size="25.8" text-anchor="middle" fill="#595959">3</text>
<text x="1619.1" y="774.8" font-size="25.8" text-anchor="middle" fill="#595959">4</text>
<text x="1672.0" y="774.8" font-size="25.8" text-anchor="middle" fill="#595959">5</text>
<text x="1724.9" y="774.8" font-size="25.8" text-anchor="middle" fill="#595959">6</text>
<text x="1772.8" y="774.8" font-size="25.8" fill="#595959">-log10(FDR)</text>
<text x="-2.5" y="949.2" font-size="62.5" font-weight="bold">c</text>
<text x="204.5" y="969.8" font-size="34.4" text-anchor="middle" font-weight="bold">% genes</text>
<text x="204.5" y="1010.9" font-size="34.4" text-anchor="middle" font-weight="bold">in different clusters</text>
<rect x="165.50" y="1078.00" width="29.30" height="142.36" fill="#f76566"/>
<rect x="165.50" y="1220.36" width="29.30" height="124.94" fill="#d2d2d2"/>
<rect x="165.50" y="1345.30" width="29.30" height="136.70" fill="#7ca6e3"/>
<rect x="225.70" y="1078.00" width="29.30" height="89.10" fill="#f76566"/>
<rect x="225.70" y="1167.10" width="29.30" height="200.07" fill="#d2d2d2"/>
<rect x="225.70" y="1367.17" width="29.30" height="114.83" fill="#7ca6e3"/>
<rect x="286.00" y="1078.00" width="29.30" height="126.56" fill="#f76566"/>
<rect x="286.00" y="1204.56" width="29.30" height="114.41" fill="#d2d2d2"/>
<rect x="286.00" y="1318.97" width="29.30" height="163.03" fill="#7ca6e3"/>
<path d="M142.4 1077.0V1483.0H336M133 1483.0H142.4M133 1442.5H142.4M133 1402.0H142.4M133 1361.5H142.4M133 1321.0H142.4M133 1280.5H142.4M133 1240.0H142.4M133 1199.5H142.4M133 1159.0H142.4M133 1118.5H142.4M133 1078.0H142.4" fill="none" stroke="#d6d6d6" stroke-width="2.6"/>
<text x="126.2" y="1491.6" font-size="25.2" text-anchor="end">0%</text>
<text x="126.2" y="1451.1" font-size="25.2" text-anchor="end">10%</text>
<text x="126.2" y="1410.6" font-size="25.2" text-anchor="end">20%</text>
<text x="126.2" y="1370.1" font-size="25.2" text-anchor="end">30%</text>
<text x="126.2" y="1329.6" font-size="25.2" text-anchor="end">40%</text>
<text x="126.2" y="1289.1" font-size="25.2" text-anchor="end">50%</text>
<text x="126.2" y="1248.6" font-size="25.2" text-anchor="end">60%</text>
<text x="126.2" y="1208.1" font-size="25.2" text-anchor="end">70%</text>
<text x="126.2" y="1167.6" font-size="25.2" text-anchor="end">80%</text>
<text x="126.2" y="1127.1" font-size="25.2" text-anchor="end">90%</text>
<text x="126.2" y="1086.6" font-size="25.2" text-anchor="end">100%</text>
<text x="180.0" y="1529.0" font-size="34.4" text-anchor="middle">C1</text>
<text x="240.3" y="1529.0" font-size="34.4" text-anchor="middle">C2</text>
<text x="300.5" y="1529.0" font-size="34.4" text-anchor="middle">C3</text>
<rect x="76.20" y="1587.90" width="19.60" height="17.00" fill="#7ca6e3"/>
<text x="113.5" y="1609.0" font-size="34.2">down-regulated</text>
<rect x="76.20" y="1630.50" width="19.60" height="17.00" fill="#d2d2d2"/>
<text x="113.5" y="1651.6" font-size="34.2">transient</text>
<rect x="76.20" y="1672.90" width="19.60" height="17.00" fill="#f76566"/>
<text x="113.5" y="1694.0" font-size="34.2">up-regulated</text>
<text x="421.5" y="949.5" font-size="62.5" font-weight="bold">e</text>
<text x="1007.0" y="953.0" font-size="34.25" text-anchor="middle" font-weight="bold">loops among enhancers and promoters</text>
<rect x="540.00" y="987.50" width="241.70" height="39.50" fill="#595959"/>
<text x="659.9" y="1021.0" font-size="34.4" text-anchor="middle" font-weight="bold" fill="#fff">C1</text>
<rect x="865.50" y="987.50" width="261.30" height="39.50" fill="#595959"/>
<text x="995.1" y="1021.0" font-size="34.4" text-anchor="middle" font-weight="bold" fill="#fff">C2</text>
<rect x="1208.00" y="987.50" width="261.80" height="39.50" fill="#595959"/>
<text x="1337.9" y="1021.0" font-size="34.4" text-anchor="middle" font-weight="bold" fill="#fff">C3</text>
<text x="654.3" y="1085.0" font-size="25.8" text-anchor="middle">chr9:32,404,229-33,154,968</text>
<text x="998.4" y="1085.0" font-size="25.8" text-anchor="middle">chr7:34,882,320-35,257,285</text>
<text x="1343.3" y="1085.0" font-size="25.8" text-anchor="middle">chr11:16,182,174-21,997,682</text>
<rect x="508.00" y="1127.50" width="4.60" height="473.00" fill="#000"/>
<text transform="translate(489.5 1166.5) rotate(-90)" font-size="34.4" text-anchor="middle">eAEC</text>
<text transform="translate(489.5 1299.0) rotate(-90)" font-size="34.4" text-anchor="middle">HEC</text>
<text transform="translate(489.5 1430.5) rotate(-90)" font-size="34.4" text-anchor="middle">pre</text>
<text transform="translate(489.5 1555.0) rotate(-90)" font-size="34.4" text-anchor="middle">LT</text>
<text transform="translate(444.5 1364.0) rotate(-90)" font-size="34.4" text-anchor="middle" font-weight="bold">H3K27ac signals</text>
<text x="522.5" y="1160.1" font-size="25.2">10</text>
<text x="522.5" y="1286.6" font-size="25.2">10</text>
<text x="522.5" y="1413.1" font-size="25.2">10</text>
<text x="522.5" y="1539.1" font-size="25.2">10</text>
<text x="863.0" y="1160.1" font-size="25.2">8</text>
<text x="863.0" y="1286.6" font-size="25.2">8</text>
<text x="863.0" y="1413.1" font-size="25.2">8</text>
<text x="863.0" y="1539.1" font-size="25.2">8</text>
<text x="1207.0" y="1160.1" font-size="25.2">6</text>
<text x="1207.0" y="1286.6" font-size="25.2">6</text>
<text x="1207.0" y="1413.1" font-size="25.2">6</text>
<text x="1207.0" y="1539.1" font-size="25.2">6</text>
<path d="M538.2 1218.8L538.2 1209.0L538.7 1203.1L539.2 1192.7L539.7 1195.8L540.2 1204.7L540.7 1209.5L541.2 1204.1L541.7 1202.1L542.2 1203.2L542.7 1211.7L543.2 1211.9L543.7 1204.9L544.2 1208.3L544.7 1206.7L545.2 1207.6L545.7 1203.7L546.2 1204.8L546.7 1204.7L547.2 1201.9L547.7 1202.0L548.2 1204.9L548.7 1201.5L549.2 1207.5L549.7 1210.9L550.2 1204.7L550.7 1201.9L551.2 1210.0L551.7 1202.9L552.2 1202.6L552.7 1205.4L553.2 1208.9L553.7 1208.2L554.2 1212.2L554.7 1208.3L555.2 1211.6L555.7 1207.1L556.2 1217.2L556.7 1207.0L557.2 1203.4L557.7 1202.9L558.2 1203.9L558.7 1212.5L559.2 1209.2L559.7 1206.5L560.2 1209.6L560.7 1202.0L561.2 1203.0L561.7 1207.5L562.2 1206.2L562.7 1212.6L563.2 1207.8L563.7 1201.5L564.2 1197.5L564.7 1207.0L565.2 1203.7L565.7 1203.9L566.2 1208.7L566.7 1210.3L567.2 1209.2L567.7 1194.3L568.2 1174.4L568.7 1197.9L569.2 1202.1L569.7 1177.2L570.2 1169.3L570.7 1188.4L571.2 1181.8L571.7 1173.3L572.2 1166.8L572.7 1172.9L573.2 1193.0L573.7 1172.4L574.2 1175.1L574.7 1201.4L575.2 1198.6L575.7 1175.9L576.2 1182.3L576.7 1199.4L577.2 1170.4L577.7 1196.0L578.2 1172.5L578.7 1185.6L579.2 1192.9L579.7 1196.1L580.2 1169.3L580.7 1186.7L581.2 1170.3L581.7 1152.9L582.2 1147.7L582.7 1173.9L583.2 1145.6L583.7 1169.9L584.2 1195.5L584.7 1196.2L585.2 1201.4L585.7 1195.0L586.2 1199.3L586.7 1187.9L587.2 1173.0L587.7 1172.1L588.2 1169.4L588.7 1172.5L589.2 1194.7L589.7 1196.2L590.2 1198.7L590.7 1194.8L591.2 1148.2L591.7 1184.1L592.2 1201.2L592.7 1191.2L593.2 1202.8L593.7 1193.5L594.2 1198.4L594.7 1201.0L595.2 1202.3L595.7 1205.5L596.2 1196.2L596.7 1203.7L597.2 1204.9L597.7 1201.6L598.2 1197.2L598.7 1188.4L599.2 1197.9L599.7 1191.1L600.2 1176.3L600.7 1182.5L601.2 1193.5L601.7 1200.5L602.2 1191.0L602.7 1195.9L603.2 1196.5L603.7 1186.9L604.2 1198.9L604.7 1191.1L605.2 1181.9L605.7 1192.8L606.2 1204.6L606.7 1205.0L607.2 1193.1L607.7 1200.3L608.2 1195.7L608.7 1190.7L609.2 1196.3L609.7 1194.7L610.2 1204.3L610.7 1200.1L611.2 1206.3L611.7 1193.2L612.2 1199.5L612.7 1194.0L613.2 1187.0L613.7 1181.2L614.2 1193.7L614.7 1191.9L615.2 1204.5L615.7 1200.1L616.2 1198.4L616.7 1177.7L617.2 1192.2L617.7 1207.4L618.2 1200.9L618.7 1192.1L619.2 1202.9L619.7 1191.1L620.2 1196.7L620.7 1181.9L621.2 1179.5L621.7 1192.6L622.2 1200.1L622.7 1208.2L623.2 1198.0L623.7 1206.6L624.2 1204.8L624.7 1203.6L625.2 1191.3L625.7 1178.9L626.2 1186.0L626.7 1178.2L627.2 1205.1L627.7 1200.3L628.2 1207.0L628.7 1213.3L629.2 1187.2L629.7 1190.6L630.2 1204.1L630.7 1198.1L631.2 1204.6L631.7 1198.6L632.2 1184.5L632.7 1189.8L633.2 1172.8L633.7 1184.1L634.2 1190.3L634.7 1181.3L635.2 1182.5L635.7 1186.0L636.2 1185.6L636.7 1195.7L637.2 1194.2L637.7 1181.9L638.2 1167.3L638.7 1163.6L639.2 1175.8L639.7 1183.5L640.2 1188.4L640.7 1186.7L641.2 1183.8L641.7 1189.8L642.2 1206.4L642.7 1204.3L643.2 1170.9L643.7 1191.7L644.2 1195.4L644.7 1201.7L645.2 1198.1L645.7 1199.0L646.2 1205.5L646.7 1205.4L647.2 1198.8L647.7 1213.4L648.2 1186.6L648.7 1199.2L649.2 1204.5L649.7 1201.3L650.2 1191.0L650.7 1196.5L651.2 1203.4L651.7 1210.3L652.2 1205.5L652.7 1186.7L653.2 1200.9L653.7 1197.1L654.2 1204.7L654.7 1209.3L655.2 1206.3L655.7 1209.8L656.2 1204.2L656.7 1205.8L657.2 1200.5L657.7 1211.4L658.2 1210.6L658.7 1213.0L659.2 1211.5L659.7 1215.9L660.1 1215.4L660.6 1210.5L661.1 1212.2L661.6 1210.3L662.1 1213.0L662.6 1212.6L663.1 1212.2L663.6 1211.9L664.1 1209.2L664.6 1204.2L665.1 1207.8L665.6 1212.0L666.1 1214.1L666.6 1211.6L667.1 1211.6L667.6 1212.0L668.1 1213.7L668.6 1213.4L669.1 1213.4L669.6 1210.1L670.1 1213.0L670.6 1211.9L671.1 1212.9L671.6 1206.5L672.1 1211.6L672.6 1218.1L673.1 1211.7L673.6 1210.7L674.1 1213.3L674.6 1212.3L675.1 1215.3L675.6 1217.0L676.1 1213.4L676.6 1214.0L677.1 1211.5L677.6 1208.4L678.1 1197.1L678.6 1206.9L679.1 1211.4L679.6 1213.3L680.1 1214.2L680.6 1214.2L681.1 1213.5L681.6 1211.3L682.1 1214.3L682.6 1216.2L683.1 1215.3L683.6 1211.5L684.1 1213.0L684.6 1215.5L685.1 1212.7L685.6 1217.0L686.1 1215.8L686.6 1214.8L687.1 1217.2L687.6 1211.4L688.1 1215.4L688.6 1213.6L689.1 1214.2L689.6 1216.4L690.1 1212.5L690.6 1211.6L691.1 1212.9L691.6 1216.3L692.1 1211.6L692.6 1211.5L693.1 1208.9L693.6 1202.8L694.1 1194.7L694.6 1203.6L695.1 1211.3L695.6 1209.6L696.1 1208.2L696.6 1206.7L697.1 1202.4L697.6 1195.7L698.1 1193.8L698.6 1182.6L699.1 1183.9L699.6 1190.1L700.1 1201.8L700.6 1202.8L701.1 1206.4L701.6 1203.3L702.1 1205.1L702.6 1207.6L703.1 1213.7L703.6 1194.1L704.1 1211.5L704.6 1197.3L705.1 1208.4L705.6 1202.0L706.1 1193.0L706.6 1199.7L707.1 1202.7L707.6 1210.5L708.1 1203.3L708.6 1205.3L709.1 1194.8L709.6 1206.7L710.1 1211.3L710.6 1206.2L711.1 1201.8L711.6 1201.8L712.1 1194.4L712.6 1199.6L713.1 1204.3L713.6 1204.2L714.1 1205.4L714.6 1207.5L715.1 1209.5L715.6 1197.5L716.1 1216.6L716.6 1215.2L717.1 1204.7L717.6 1212.3L718.1 1213.6L718.6 1212.8L719.1 1213.9L719.6 1211.0L720.1 1209.2L720.6 1215.3L721.1 1213.9L721.6 1209.7L722.1 1211.5L722.6 1210.3L723.1 1216.0L723.6 1214.3L724.1 1212.8L724.6 1207.8L725.1 1203.5L725.6 1194.9L726.1 1205.5L726.6 1207.2L727.1 1211.7L727.6 1212.1L728.1 1215.3L728.6 1212.3L729.1 1215.5L729.6 1215.2L730.1 1211.1L730.6 1209.3L731.1 1212.9L731.6 1210.4L732.1 1214.8L732.6 1211.9L733.1 1215.8L733.6 1215.7L734.1 1212.9L734.6 1212.7L735.1 1213.5L735.6 1214.7L736.1 1214.4L736.6 1215.0L737.1 1212.3L737.6 1212.4L738.1 1214.6L738.6 1214.3L739.1 1211.7L739.6 1212.8L740.1 1211.9L740.6 1216.3L741.1 1212.7L741.6 1213.3L742.1 1212.0L742.6 1215.1L743.1 1216.1L743.6 1212.5L744.1 1214.1L744.6 1215.4L745.1 1212.4L745.6 1215.9L746.1 1213.4L746.6 1215.8L747.1 1209.3L747.6 1209.0L748.1 1215.7L748.6 1214.3L749.1 1213.9L749.6 1214.8L750.1 1214.2L750.6 1215.4L751.1 1213.8L751.6 1212.9L752.1 1217.2L752.6 1211.4L753.1 1216.3L753.6 1213.7L754.1 1215.3L754.6 1212.7L755.1 1211.5L755.6 1216.2L756.1 1217.6L756.6 1212.2L757.1 1214.0L757.6 1212.3L758.1 1214.8L758.6 1211.7L759.1 1212.1L759.6 1212.5L760.1 1212.3L760.6 1214.3L761.1 1214.6L761.6 1215.3L762.1 1214.3L762.6 1211.4L763.1 1206.3L763.6 1206.5L764.1 1211.8L764.6 1213.5L765.1 1210.6L765.6 1212.2L766.1 1211.4L766.6 1215.0L767.1 1210.4L767.6 1214.6L768.1 1212.4L768.6 1213.7L769.1 1213.4L769.6 1211.5L770.1 1212.4L770.6 1218.0L771.1 1214.2L771.6 1214.8L772.1 1216.1L772.6 1211.7L773.1 1215.3L773.6 1212.9L774.1 1211.4L774.6 1216.0L775.1 1213.0L775.6 1213.2L776.1 1217.7L776.6 1213.4L777.1 1214.3L777.6 1214.6L778.1 1215.9L778.6 1214.4L779.1 1213.5L779.6 1215.1L780.1 1212.4L780.6 1212.4L781.1 1212.9L781.6 1213.9L781.6 1218.8zM538.2 1345.3L538.2 1333.8L538.7 1327.7L539.2 1316.0L539.7 1324.4L540.2 1329.8L540.7 1336.1L541.2 1331.5L541.7 1333.0L542.2 1324.6L542.7 1334.2L543.2 1336.1L543.7 1339.9L544.2 1334.7L544.7 1333.7L545.2 1338.3L545.7 1333.9L546.2 1339.7L546.7 1331.7L547.2 1334.7L547.7 1331.5L548.2 1337.0L548.7 1337.9L549.2 1338.5L549.7 1331.3L550.2 1330.7L550.7 1332.9L551.2 1334.9L551.7 1331.0L552.2 1337.6L552.7 1342.5L553.2 1337.5L553.7 1335.8L554.2 1332.5L554.7 1335.5L555.2 1331.9L555.7 1339.3L556.2 1334.6L556.7 1334.2L557.2 1337.9L557.7 1334.3L558.2 1323.7L558.7 1316.9L559.2 1296.6L559.7 1324.3L560.2 1325.2L560.7 1325.0L561.2 1299.5L561.7 1314.3L562.2 1314.2L562.7 1300.7L563.2 1294.1L563.7 1328.1L564.2 1298.0L564.7 1316.7L565.2 1310.0L565.7 1323.9L566.2 1340.5L566.7 1313.5L567.2 1326.8L567.7 1292.1L568.2 1336.9L568.7 1309.8L569.2 1316.2L569.7 1327.8L570.2 1327.1L570.7 1318.9L571.2 1315.7L571.7 1296.2L572.2 1272.5L572.7 1298.6L573.2 1305.7L573.7 1305.5L574.2 1322.7L574.7 1299.9L575.2 1313.6L575.7 1293.7L576.2 1294.3L576.7 1314.6L577.2 1319.9L577.7 1299.3L578.2 1320.0L578.7 1339.1L579.2 1320.1L579.7 1329.5L580.2 1316.6L580.7 1305.3L581.2 1300.0L581.7 1284.9L582.2 1277.6L582.7 1303.5L583.2 1312.7L583.7 1303.4L584.2 1322.4L584.7 1311.5L585.2 1291.8L585.7 1313.5L586.2 1306.8L586.7 1313.8L587.2 1309.8L587.7 1307.4L588.2 1303.8L588.7 1306.4L589.2 1301.6L589.7 1309.5L590.2 1311.2L590.7 1312.3L591.2 1324.3L591.7 1308.0L592.2 1327.5L592.7 1336.1L593.2 1325.8L593.7 1338.0L594.2 1323.3L594.7 1327.9L595.2 1333.0L595.7 1335.5L596.2 1323.3L596.7 1337.4L597.2 1335.9L597.7 1335.0L598.2 1320.4L598.7 1317.6L599.2 1332.3L599.7 1337.0L600.2 1323.7L600.7 1326.3L601.2 1333.7L601.7 1326.2L602.2 1324.7L602.7 1325.6L603.2 1324.4L603.7 1311.0L604.2 1311.2L604.7 1321.0L605.2 1325.1L605.7 1328.0L606.2 1336.4L606.7 1328.7L607.2 1328.8L607.7 1335.8L608.2 1335.3L608.7 1332.3L609.2 1333.2L609.7 1333.2L610.2 1331.9L610.7 1335.1L611.2 1333.1L611.7 1321.4L612.2 1334.2L612.7 1320.4L613.2 1319.1L613.7 1313.8L614.2 1321.6L614.7 1332.4L615.2 1331.3L615.7 1322.5L616.2 1307.5L616.7 1312.2L617.2 1327.7L617.7 1319.7L618.2 1324.9L618.7 1314.8L619.2 1309.8L619.7 1328.1L620.2 1319.9L620.7 1310.0L621.2 1307.8L621.7 1322.0L622.2 1323.1L622.7 1320.6L623.2 1316.6L623.7 1321.8L624.2 1316.1L624.7 1307.0L625.2 1318.8L625.7 1322.2L626.2 1322.7L626.7 1322.4L627.2 1322.0L627.7 1316.0L628.2 1326.6L628.7 1329.6L629.2 1322.3L629.7 1340.5L630.2 1317.7L630.7 1335.3L631.2 1310.9L631.7 1323.0L632.2 1323.4L632.7 1314.0L633.2 1302.3L633.7 1314.7L634.2 1326.1L634.7 1304.9L635.2 1315.2L635.7 1329.7L636.2 1318.1L636.7 1318.2L637.2 1317.5L637.7 1314.1L638.2 1306.0L638.7 1295.0L639.2 1284.5L639.7 1292.9L640.2 1308.4L640.7 1311.3L641.2 1320.1L641.7 1295.9L642.2 1329.0L642.7 1322.4L643.2 1313.0L643.7 1312.5L644.2 1322.6L644.7 1307.7L645.2 1316.6L645.7 1337.3L646.2 1329.2L646.7 1335.1L647.2 1330.3L647.7 1338.7L648.2 1331.1L648.7 1338.3L649.2 1325.6L649.7 1332.9L650.2 1334.5L650.7 1339.3L651.2 1331.6L651.7 1333.5L652.2 1341.5L652.7 1336.7L653.2 1331.9L653.7 1335.4L654.2 1334.9L654.7 1334.5L655.2 1340.4L655.7 1338.9L656.2 1340.0L656.7 1339.3L657.2 1340.2L657.7 1338.1L658.2 1338.0L658.7 1340.1L659.2 1342.6L659.7 1338.9L660.1 1339.4L660.6 1336.1L661.1 1340.4L661.6 1337.3L662.1 1333.7L662.6 1334.8L663.1 1339.1L663.6 1340.8L664.1 1334.5L664.6 1342.3L665.1 1342.7L665.6 1338.0L666.1 1342.8L666.6 1341.2L667.1 1338.0L667.6 1338.6L668.1 1338.7L668.6 1338.9L669.1 1342.0L669.6 1339.6L670.1 1338.7L670.6 1341.7L671.1 1339.3L671.6 1335.8L672.1 1328.9L672.6 1338.0L673.1 1340.4L673.6 1342.4L674.1 1341.8L674.6 1344.1L675.1 1344.2L675.6 1341.0L676.1 1342.5L676.6 1340.0L677.1 1340.2L677.6 1338.1L678.1 1342.7L678.6 1342.7L679.1 1340.4L679.6 1339.8L680.1 1338.8L680.6 1341.4L681.1 1341.4L681.6 1338.4L682.1 1340.5L682.6 1339.5L683.1 1338.4L683.6 1334.1L684.1 1343.9L684.6 1338.9L685.1 1335.7L685.6 1340.3L686.1 1339.0L686.6 1337.9L687.1 1342.3L687.6 1341.1L688.1 1337.8L688.6 1340.0L689.1 1342.2L689.6 1338.2L690.1 1339.2L690.6 1343.8L691.1 1338.1L691.6 1340.3L692.1 1339.0L692.6 1341.9L693.1 1342.3L693.6 1335.5L694.1 1341.5L694.6 1339.1L695.1 1330.4L695.6 1338.4L696.1 1340.1L696.6 1328.0L697.1 1336.0L697.6 1331.5L698.1 1319.2L698.6 1303.5L699.1 1307.7L699.6 1322.5L700.1 1332.7L700.6 1334.6L701.1 1328.0L701.6 1330.2L702.1 1331.1L702.6 1328.2L703.1 1331.2L703.6 1330.8L704.1 1337.4L704.6 1332.5L705.1 1335.1L705.6 1330.3L706.1 1321.6L706.6 1329.5L707.1 1332.6L707.6 1337.4L708.1 1337.0L708.6 1335.6L709.1 1339.4L709.6 1334.5L710.1 1335.7L710.6 1332.8L711.1 1325.1L711.6 1330.0L712.1 1335.7L712.6 1334.9L713.1 1337.5L713.6 1341.5L714.1 1339.6L714.6 1341.6L715.1 1339.8L715.6 1341.3L716.1 1339.6L716.6 1342.1L717.1 1340.9L717.6 1343.2L718.1 1344.8L718.6 1339.4L719.1 1344.4L719.6 1343.9L720.1 1341.1L720.6 1340.2L721.1 1341.9L721.6 1341.3L722.1 1342.5L722.6 1341.8L723.1 1341.1L723.6 1339.7L724.1 1341.6L724.6 1338.1L725.1 1340.8L725.6 1338.5L726.1 1339.2L726.6 1334.2L727.1 1334.8L727.6 1338.7L728.1 1340.9L728.6 1339.4L729.1 1342.5L729.6 1341.7L730.1 1341.9L730.6 1341.3L731.1 1342.5L731.6 1337.0L732.1 1339.2L732.6 1338.3L733.1 1344.8L733.6 1340.1L734.1 1339.2L734.6 1340.7L735.1 1340.0L735.6 1342.2L736.1 1343.2L736.6 1342.4L737.1 1342.5L737.6 1339.3L738.1 1344.2L738.6 1342.3L739.1 1336.1L739.6 1340.3L740.1 1340.9L740.6 1341.2L741.1 1342.6L741.6 1340.0L742.1 1339.3L742.6 1339.9L743.1 1341.0L743.6 1339.9L744.1 1342.7L744.6 1344.1L745.1 1341.5L745.6 1341.8L746.1 1339.5L746.6 1340.2L747.1 1339.1L747.6 1341.0L748.1 1342.5L748.6 1342.5L749.1 1340.6L749.6 1340.7L750.1 1341.4L750.6 1342.9L751.1 1339.2L751.6 1340.5L752.1 1341.9L752.6 1336.4L753.1 1343.0L753.6 1339.7L754.1 1343.1L754.6 1337.1L755.1 1342.6L755.6 1343.2L756.1 1341.5L756.6 1340.7L757.1 1342.8L757.6 1336.2L758.1 1340.4L758.6 1340.0L759.1 1340.1L759.6 1340.7L760.1 1339.3L760.6 1341.6L761.1 1341.7L761.6 1339.6L762.1 1337.9L762.6 1333.6L763.1 1321.3L763.6 1321.7L764.1 1333.2L764.6 1337.1L765.1 1339.5L765.6 1339.3L766.1 1341.0L766.6 1343.2L767.1 1339.1L767.6 1338.8L768.1 1342.8L768.6 1339.8L769.1 1340.0L769.6 1341.2L770.1 1341.1L770.6 1341.0L771.1 1339.9L771.6 1340.4L772.1 1337.7L772.6 1339.3L773.1 1342.7L773.6 1342.6L774.1 1343.1L774.6 1340.4L775.1 1343.0L775.6 1343.3L776.1 1340.5L776.6 1340.6L777.1 1339.6L777.6 1341.9L778.1 1336.8L778.6 1339.4L779.1 1340.8L779.6 1340.0L780.1 1343.1L780.6 1339.7L781.1 1342.9L781.6 1339.2L781.6 1345.3zM538.2 1471.8L538.2 1462.0L538.7 1457.3L539.2 1444.1L539.7 1447.4L540.2 1459.5L540.7 1462.6L541.2 1456.7L541.7 1464.7L542.2 1458.9L542.7 1458.0L543.2 1466.5L543.7 1464.9L544.2 1470.1L544.7 1461.4L545.2 1466.0L545.7 1456.0L546.2 1458.7L546.7 1460.0L547.2 1450.1L547.7 1457.8L548.2 1456.3L548.7 1459.8L549.2 1463.4L549.7 1456.5L550.2 1463.8L550.7 1464.0L551.2 1461.6L551.7 1458.0L552.2 1457.6L552.7 1462.9L553.2 1456.3L553.7 1468.6L554.2 1456.5L554.7 1469.2L555.2 1464.8L555.7 1464.1L556.2 1466.5L556.7 1457.5L557.2 1463.8L557.7 1396.8L558.2 1438.7L558.7 1425.9L559.2 1440.7L559.7 1433.7L560.2 1444.9L560.7 1420.3L561.2 1439.0L561.7 1440.6L562.2 1435.5L562.7 1433.6L563.2 1440.5L563.7 1451.3L564.2 1434.8L564.7 1431.9L565.2 1454.1L565.7 1421.2L566.2 1454.6L566.7 1447.2L567.2 1437.2L567.7 1426.9L568.2 1443.7L568.7 1445.7L569.2 1441.9L569.7 1421.9L570.2 1450.7L570.7 1442.4L571.2 1423.3L571.7 1424.7L572.2 1399.0L572.7 1424.7L573.2 1429.4L573.7 1425.8L574.2 1446.8L574.7 1418.2L575.2 1435.6L575.7 1435.4L576.2 1453.6L576.7 1426.2L577.2 1441.0L577.7 1426.6L578.2 1418.1L578.7 1422.8L579.2 1439.2L579.7 1438.5L580.2 1446.4L580.7 1436.1L581.2 1438.0L581.7 1413.3L582.2 1407.1L582.7 1428.0L583.2 1437.5L583.7 1425.4L584.2 1431.7L584.7 1445.3L585.2 1431.2L585.7 1416.5L586.2 1429.8L586.7 1428.5L587.2 1454.3L587.7 1445.1L588.2 1446.1L588.7 1422.3L589.2 1421.0L589.7 1438.2L590.2 1434.2L590.7 1430.2L591.2 1434.2L591.7 1447.3L592.2 1460.6L592.7 1455.4L593.2 1455.1L593.7 1453.8L594.2 1464.2L594.7 1464.2L595.2 1463.9L595.7 1452.7L596.2 1458.1L596.7 1453.4L597.2 1458.8L597.7 1461.7L598.2 1454.6L598.7 1448.9L599.2 1439.8L599.7 1454.5L600.2 1453.5L600.7 1453.6L601.2 1464.3L601.7 1463.4L602.2 1456.6L602.7 1457.1L603.2 1453.9L603.7 1440.2L604.2 1440.5L604.7 1452.7L605.2 1456.6L605.7 1457.9L606.2 1461.0L606.7 1463.4L607.2 1462.2L607.7 1456.0L608.2 1461.9L608.7 1454.7L609.2 1457.6L609.7 1452.0L610.2 1455.7L610.7 1452.6L611.2 1456.6L611.7 1460.4L612.2 1454.0L612.7 1463.7L613.2 1463.8L613.7 1452.3L614.2 1466.6L614.7 1451.8L615.2 1454.8L615.7 1451.2L616.2 1434.7L616.7 1450.9L617.2 1456.8L617.7 1452.0L618.2 1464.5L618.7 1459.1L619.2 1456.7L619.7 1453.8L620.2 1445.0L620.7 1444.9L621.2 1467.0L621.7 1429.4L622.2 1430.1L622.7 1432.0L623.2 1427.6L623.7 1424.4L624.2 1445.0L624.7 1440.5L625.2 1437.2L625.7 1426.6L626.2 1431.4L626.7 1433.5L627.2 1449.5L627.7 1450.3L628.2 1438.7L628.7 1429.3L629.2 1439.9L629.7 1434.9L630.2 1441.5L630.7 1433.6L631.2 1444.3L631.7 1436.6L632.2 1450.7L632.7 1431.7L633.2 1430.9L633.7 1431.7L634.2 1420.1L634.7 1423.8L635.2 1441.0L635.7 1428.7L636.2 1450.4L636.7 1456.3L637.2 1433.6L637.7 1448.1L638.2 1448.6L638.7 1447.7L639.2 1446.5L639.7 1436.8L640.2 1421.7L640.7 1420.6L641.2 1435.5L641.7 1445.8L642.2 1428.3L642.7 1449.4L643.2 1458.0L643.7 1463.0L644.2 1465.0L644.7 1461.6L645.2 1465.6L645.7 1459.9L646.2 1458.0L646.7 1459.7L647.2 1460.0L647.7 1464.7L648.2 1463.0L648.7 1458.2L649.2 1453.7L649.7 1461.2L650.2 1464.2L650.7 1458.7L651.2 1460.2L651.7 1463.6L652.2 1457.9L652.7 1468.3L653.2 1464.7L653.7 1468.4L654.2 1467.6L654.7 1467.1L655.2 1465.0L655.7 1464.5L656.2 1466.0L656.7 1465.0L657.2 1466.1L657.7 1465.9L658.2 1466.4L658.7 1467.5L659.2 1466.7L659.7 1468.4L660.1 1465.4L660.6 1466.8L661.1 1466.9L661.6 1467.3L662.1 1461.5L662.6 1464.8L663.1 1466.5L663.6 1467.3L664.1 1466.1L664.6 1469.1L665.1 1469.3L665.6 1468.5L666.1 1467.5L666.6 1468.6L667.1 1466.7L667.6 1468.3L668.1 1468.9L668.6 1462.3L669.1 1465.8L669.6 1466.6L670.1 1466.6L670.6 1466.8L671.1 1464.9L671.6 1467.4L672.1 1466.5L672.6 1468.1L673.1 1469.3L673.6 1464.5L674.1 1466.8L674.6 1466.4L675.1 1466.4L675.6 1466.7L676.1 1462.8L676.6 1467.4L677.1 1464.9L677.6 1464.6L678.1 1457.0L678.6 1463.4L679.1 1468.3L679.6 1466.9L680.1 1469.3L680.6 1461.0L681.1 1465.6L681.6 1464.6L682.1 1469.0L682.6 1469.4L683.1 1468.0L683.6 1465.3L684.1 1464.5L684.6 1465.1L685.1 1467.0L685.6 1466.0L686.1 1466.5L686.6 1467.2L687.1 1468.1L687.6 1466.4L688.1 1466.5L688.6 1467.6L689.1 1462.8L689.6 1467.0L690.1 1468.2L690.6 1466.4L691.1 1467.6L691.6 1466.0L692.1 1466.4L692.6 1465.5L693.1 1465.6L693.6 1465.2L694.1 1465.1L694.6 1468.1L695.1 1467.4L695.6 1466.8L696.1 1465.5L696.6 1460.6L697.1 1458.9L697.6 1451.8L698.1 1455.8L698.6 1446.4L699.1 1447.4L699.6 1451.9L700.1 1454.6L700.6 1453.0L701.1 1454.8L701.6 1453.8L702.1 1462.9L702.6 1451.8L703.1 1456.7L703.6 1464.6L704.1 1452.9L704.6 1454.8L705.1 1461.0L705.6 1455.6L706.1 1442.1L706.6 1451.2L707.1 1453.9L707.6 1462.7L708.1 1461.8L708.6 1461.9L709.1 1456.0L709.6 1452.4L710.1 1453.8L710.6 1451.9L711.1 1449.8L711.6 1456.7L712.1 1463.9L712.6 1456.4L713.1 1452.0L713.6 1458.1L714.1 1460.8L714.6 1461.7L715.1 1455.7L715.6 1464.7L716.1 1469.3L716.6 1464.5L717.1 1468.8L717.6 1464.5L718.1 1466.4L718.6 1465.3L719.1 1465.3L719.6 1463.4L720.1 1467.7L720.6 1464.8L721.1 1465.6L721.6 1465.4L722.1 1468.6L722.6 1468.2L723.1 1465.8L723.6 1469.2L724.1 1465.7L724.6 1465.0L725.1 1461.7L725.6 1454.9L726.1 1463.1L726.6 1466.4L727.1 1464.9L727.6 1466.1L728.1 1466.5L728.6 1468.1L729.1 1464.5L729.6 1464.7L730.1 1467.9L730.6 1464.9L731.1 1465.3L731.6 1467.0L732.1 1468.0L732.6 1467.1L733.1 1468.3L733.6 1470.1L734.1 1468.6L734.6 1466.8L735.1 1470.0L735.6 1466.9L736.1 1469.0L736.6 1466.6L737.1 1468.8L737.6 1468.8L738.1 1464.7L738.6 1465.1L739.1 1460.6L739.6 1468.7L740.1 1468.2L740.6 1468.7L741.1 1469.2L741.6 1464.6L742.1 1467.9L742.6 1468.7L743.1 1465.9L743.6 1468.6L744.1 1468.0L744.6 1468.4L745.1 1470.0L745.6 1465.8L746.1 1467.6L746.6 1464.8L747.1 1468.4L747.6 1466.8L748.1 1469.2L748.6 1462.2L749.1 1465.8L749.6 1467.3L750.1 1465.6L750.6 1464.5L751.1 1468.5L751.6 1466.3L752.1 1465.6L752.6 1466.3L753.1 1465.8L753.6 1466.0L754.1 1466.7L754.6 1462.0L755.1 1468.9L755.6 1467.7L756.1 1469.2L756.6 1464.7L757.1 1471.2L757.6 1466.9L758.1 1465.6L758.6 1455.7L759.1 1465.2L759.6 1463.8L760.1 1464.7L760.6 1459.8L761.1 1460.1L761.6 1465.9L762.1 1462.1L762.6 1456.8L763.1 1449.2L763.6 1449.7L764.1 1458.9L764.6 1454.5L765.1 1464.5L765.6 1460.4L766.1 1466.0L766.6 1459.5L767.1 1462.0L767.6 1460.3L768.1 1459.5L768.6 1463.4L769.1 1467.2L769.6 1468.4L770.1 1469.3L770.6 1470.4L771.1 1471.0L771.6 1467.6L772.1 1469.9L772.6 1469.5L773.1 1469.0L773.6 1469.7L774.1 1468.1L774.6 1469.7L775.1 1470.3L775.6 1470.2L776.1 1469.7L776.6 1470.6L777.1 1468.8L777.6 1470.9L778.1 1468.2L778.6 1468.7L779.1 1468.6L779.6 1469.2L780.1 1469.0L780.6 1470.4L781.1 1469.4L781.6 1468.7L781.6 1471.8zM538.2 1597.8L538.2 1592.5L538.7 1589.5L539.2 1581.5L539.7 1585.0L540.2 1587.0L540.7 1591.9L541.2 1593.8L541.7 1593.5L542.2 1589.1L542.7 1592.8L543.2 1586.7L543.7 1579.5L544.2 1594.7L544.7 1589.3L545.2 1587.1L545.7 1585.5L546.2 1595.6L546.7 1588.9L547.2 1592.6L547.7 1585.8L548.2 1585.8L548.7 1591.6L549.2 1592.0L549.7 1591.6L550.2 1593.3L550.7 1585.9L551.2 1586.8L551.7 1593.1L552.2 1584.7L552.7 1588.2L553.2 1591.9L553.7 1586.6L554.2 1590.0L554.7 1585.4L555.2 1586.0L555.7 1590.5L556.2 1591.5L556.7 1588.7L557.2 1587.0L557.7 1588.2L558.2 1591.7L558.7 1591.2L559.2 1587.0L559.7 1590.2L560.2 1591.4L560.7 1593.8L561.2 1587.0L561.7 1587.6L562.2 1587.9L562.7 1582.2L563.2 1585.5L563.7 1587.9L564.2 1589.3L564.7 1582.3L565.2 1585.4L565.7 1591.9L566.2 1589.5L566.7 1587.3L567.2 1589.4L567.7 1575.0L568.2 1583.3L568.7 1576.2L569.2 1578.6L569.7 1574.4L570.2 1582.8L570.7 1576.1L571.2 1563.3L571.7 1571.3L572.2 1582.7L572.7 1587.5L573.2 1583.4L573.7 1587.5L574.2 1581.0L574.7 1589.4L575.2 1574.7L575.7 1570.8L576.2 1558.8L576.7 1572.5L577.2 1575.1L577.7 1586.2L578.2 1594.1L578.7 1587.9L579.2 1581.3L579.7 1580.7L580.2 1584.6L580.7 1572.4L581.2 1577.2L581.7 1571.5L582.2 1565.3L582.7 1580.3L583.2 1571.8L583.7 1567.2L584.2 1576.3L584.7 1584.4L585.2 1580.6L585.7 1577.3L586.2 1582.7L586.7 1578.5L587.2 1579.6L587.7 1579.8L588.2 1576.6L588.7 1573.7L589.2 1573.2L589.7 1573.4L590.2 1585.3L590.7 1581.8L591.2 1581.6L591.7 1572.6L592.2 1588.1L592.7 1594.8L593.2 1585.0L593.7 1588.6L594.2 1583.0L594.7 1591.4L595.2 1591.9L595.7 1591.0L596.2 1588.6L596.7 1589.5L597.2 1589.4L597.7 1582.2L598.2 1583.6L598.7 1589.3L599.2 1592.2L599.7 1591.3L600.2 1584.7L600.7 1587.7L601.2 1584.3L601.7 1576.9L602.2 1570.4L602.7 1561.3L603.2 1568.9L603.7 1578.2L604.2 1582.8L604.7 1585.1L605.2 1586.1L605.7 1583.9L606.2 1570.8L606.7 1573.1L607.2 1585.3L607.7 1586.6L608.2 1592.4L608.7 1594.1L609.2 1592.0L609.7 1583.3L610.2 1586.6L610.7 1584.7L611.2 1585.1L611.7 1589.1L612.2 1586.6L612.7 1583.5L613.2 1582.2L613.7 1587.1L614.2 1582.0L614.7 1582.4L615.2 1590.4L615.7 1595.9L616.2 1588.9L616.7 1579.8L617.2 1586.8L617.7 1581.0L618.2 1570.7L618.7 1579.6L619.2 1583.2L619.7 1574.5L620.2 1583.8L620.7 1580.7L621.2 1590.0L621.7 1594.3L622.2 1582.8L622.7 1583.3L623.2 1588.3L623.7 1581.0L624.2 1584.8L624.7 1576.7L625.2 1586.1L625.7 1580.5L626.2 1591.1L626.7 1586.6L627.2 1580.3L627.7 1587.8L628.2 1588.6L628.7 1585.1L629.2 1590.8L629.7 1589.3L630.2 1584.3L630.7 1579.4L631.2 1585.0L631.7 1574.8L632.2 1569.9L632.7 1582.6L633.2 1579.6L633.7 1589.5L634.2 1591.1L634.7 1587.5L635.2 1591.1L635.7 1588.5L636.2 1584.3L636.7 1588.2L637.2 1586.1L637.7 1582.0L638.2 1576.4L638.7 1585.2L639.2 1590.9L639.7 1588.0L640.2 1591.4L640.7 1588.8L641.2 1592.0L641.7 1588.9L642.2 1588.0L642.7 1583.4L643.2 1590.1L643.7 1590.9L644.2 1591.7L644.7 1592.7L645.2 1588.0L645.7 1591.3L646.2 1589.7L646.7 1588.9L647.2 1594.0L647.7 1590.8L648.2 1588.4L648.7 1588.9L649.2 1594.2L649.7 1592.4L650.2 1591.6L650.7 1591.5L651.2 1592.8L651.7 1594.3L652.2 1593.1L652.7 1590.1L653.2 1593.1L653.7 1593.2L654.2 1587.6L654.7 1593.8L655.2 1588.6L655.7 1591.3L656.2 1589.3L656.7 1592.5L657.2 1593.3L657.7 1591.5L658.2 1593.3L658.7 1595.7L659.2 1591.3L659.7 1587.8L660.1 1593.7L660.6 1594.0L661.1 1593.9L661.6 1593.0L662.1 1593.1L662.6 1594.9L663.1 1595.0L663.6 1596.6L664.1 1595.5L664.6 1595.9L665.1 1594.1L665.6 1593.7L666.1 1594.5L666.6 1593.6L667.1 1593.9L667.6 1594.4L668.1 1592.9L668.6 1593.3L669.1 1594.5L669.6 1593.2L670.1 1595.8L670.6 1596.8L671.1 1595.3L671.6 1595.1L672.1 1595.9L672.6 1595.3L673.1 1593.2L673.6 1594.7L674.1 1596.0L674.6 1593.3L675.1 1593.1L675.6 1593.5L676.1 1595.4L676.6 1594.1L677.1 1593.6L677.6 1592.9L678.1 1594.4L678.6 1596.6L679.1 1596.0L679.6 1595.0L680.1 1594.3L680.6 1593.0L681.1 1596.1L681.6 1595.7L682.1 1596.2L682.6 1594.8L683.1 1595.5L683.6 1593.9L684.1 1592.9L684.6 1595.4L685.1 1592.8L685.6 1593.1L686.1 1594.3L686.6 1594.5L687.1 1595.4L687.6 1595.4L688.1 1593.7L688.6 1596.8L689.1 1593.9L689.6 1596.7L690.1 1594.1L690.6 1592.9L691.1 1593.0L691.6 1593.5L692.1 1595.6L692.6 1593.7L693.1 1595.9L693.6 1595.9L694.1 1594.4L694.6 1593.7L695.1 1595.0L695.6 1596.5L696.1 1595.6L696.6 1588.9L697.1 1589.5L697.6 1591.1L698.1 1588.2L698.6 1583.3L699.1 1584.1L699.6 1589.0L700.1 1589.9L700.6 1588.3L701.1 1591.1L701.6 1589.7L702.1 1587.6L702.6 1592.6L703.1 1592.6L703.6 1591.0L704.1 1590.9L704.6 1589.0L705.1 1591.4L705.6 1593.1L706.1 1594.1L706.6 1588.5L707.1 1587.8L707.6 1589.7L708.1 1591.4L708.6 1588.0L709.1 1589.0L709.6 1587.9L710.1 1590.3L710.6 1588.8L711.1 1582.5L711.6 1589.3L712.1 1590.2L712.6 1590.8L713.1 1590.7L713.6 1592.5L714.1 1590.3L714.6 1596.9L715.1 1589.9L715.6 1593.1L716.1 1594.6L716.6 1594.9L717.1 1592.1L717.6 1593.5L718.1 1589.8L718.6 1591.7L719.1 1594.4L719.6 1594.7L720.1 1594.9L720.6 1594.3L721.1 1594.4L721.6 1592.6L722.1 1592.2L722.6 1592.7L723.1 1593.8L723.6 1593.0L724.1 1592.5L724.6 1593.8L725.1 1591.6L725.6 1593.8L726.1 1593.4L726.6 1592.1L727.1 1593.8L727.6 1593.8L728.1 1593.6L728.6 1593.7L729.1 1593.6L729.6 1596.5L730.1 1591.8L730.6 1590.8L731.1 1589.6L731.6 1592.6L732.1 1593.4L732.6 1594.3L733.1 1593.3L733.6 1594.3L734.1 1591.6L734.6 1592.6L735.1 1593.2L735.6 1592.6L736.1 1592.5L736.6 1592.4L737.1 1594.0L737.6 1593.6L738.1 1594.4L738.6 1594.3L739.1 1595.4L739.6 1590.0L740.1 1595.7L740.6 1594.8L741.1 1592.1L741.6 1589.7L742.1 1594.8L742.6 1592.9L743.1 1593.7L743.6 1591.9L744.1 1593.4L744.6 1594.2L745.1 1595.3L745.6 1597.2L746.1 1591.9L746.6 1593.8L747.1 1594.8L747.6 1591.8L748.1 1594.5L748.6 1593.0L749.1 1594.3L749.6 1593.5L750.1 1595.1L750.6 1592.0L751.1 1593.1L751.6 1594.3L752.1 1594.2L752.6 1593.3L753.1 1591.8L753.6 1595.5L754.1 1592.1L754.6 1595.3L755.1 1590.4L755.6 1595.3L756.1 1595.2L756.6 1593.4L757.1 1595.2L757.6 1591.7L758.1 1595.3L758.6 1592.7L759.1 1594.5L759.6 1589.5L760.1 1592.1L760.6 1594.5L761.1 1593.1L761.6 1592.2L762.1 1593.4L762.6 1591.6L763.1 1588.6L763.6 1588.8L764.1 1593.0L764.6 1592.3L765.1 1594.9L765.6 1593.6L766.1 1594.4L766.6 1593.9L767.1 1591.8L767.6 1592.7L768.1 1597.2L768.6 1591.7L769.1 1594.0L769.6 1596.6L770.1 1591.6L770.6 1594.8L771.1 1591.8L771.6 1591.9L772.1 1593.1L772.6 1593.6L773.1 1594.3L773.6 1593.1L774.1 1592.8L774.6 1594.5L775.1 1589.8L775.6 1595.6L776.1 1595.7L776.6 1592.9L777.1 1591.9L777.6 1592.7L778.1 1593.8L778.6 1594.1L779.1 1595.6L779.6 1592.3L780.1 1594.8L780.6 1594.5L781.1 1592.2L781.6 1593.6L781.6 1597.8zM862.7 1218.8L862.7 1213.0L863.2 1215.4L863.7 1213.5L864.2 1211.5L864.7 1204.7L865.2 1208.0L865.7 1214.5L866.2 1215.6L866.7 1214.0L867.2 1210.3L867.7 1209.9L868.2 1209.7L868.7 1211.7L869.2 1211.4L869.7 1212.8L870.2 1215.6L870.7 1212.2L871.2 1213.8L871.7 1209.6L872.2 1215.2L872.7 1205.1L873.2 1212.6L873.7 1209.6L874.2 1216.6L874.7 1215.3L875.2 1212.3L875.7 1214.8L876.2 1215.4L876.7 1214.1L877.2 1215.2L877.7 1209.4L878.2 1213.3L878.7 1215.1L879.2 1210.4L879.7 1212.0L880.2 1211.4L880.7 1213.4L881.2 1209.8L881.7 1207.9L882.2 1201.8L882.7 1202.0L883.2 1188.6L883.7 1178.7L884.2 1187.1L884.7 1194.1L885.2 1200.5L885.7 1207.6L886.2 1209.8L886.7 1210.2L887.2 1209.0L887.7 1199.4L888.2 1208.6L888.7 1210.0L889.2 1212.6L889.7 1212.9L890.2 1212.4L890.7 1208.9L891.2 1215.6L891.7 1212.1L892.2 1210.3L892.7 1211.8L893.2 1211.6L893.7 1212.6L894.2 1213.1L894.7 1213.9L895.2 1215.1L895.7 1211.1L896.2 1215.3L896.7 1210.9L897.2 1217.7L897.7 1215.2L898.2 1207.0L898.7 1217.4L899.2 1217.1L899.7 1214.0L900.2 1212.3L900.7 1210.4L901.2 1209.3L901.7 1210.4L902.2 1207.6L902.7 1202.8L903.2 1198.4L903.7 1206.2L904.2 1210.1L904.7 1214.6L905.2 1215.2L905.7 1211.8L906.2 1213.1L906.7 1213.4L907.2 1211.4L907.7 1210.4L908.2 1207.0L908.7 1212.7L909.2 1210.4L909.7 1213.1L910.2 1215.6L910.7 1209.9L911.2 1206.5L911.7 1215.2L912.2 1215.5L912.7 1214.4L913.2 1211.9L913.7 1209.3L914.2 1210.3L914.7 1210.8L915.2 1205.3L915.7 1206.2L916.2 1211.5L916.7 1210.0L917.2 1210.0L917.7 1211.7L918.2 1211.8L918.7 1211.8L919.2 1213.4L919.7 1212.0L920.2 1209.8L920.7 1199.5L921.2 1210.5L921.7 1208.1L922.2 1213.8L922.7 1210.6L923.2 1215.1L923.7 1208.9L924.2 1209.2L924.7 1209.9L925.2 1211.7L925.7 1215.3L926.2 1209.3L926.7 1208.9L927.2 1209.4L927.7 1215.1L928.2 1209.7L928.6 1215.0L929.1 1212.7L929.6 1209.6L930.1 1217.7L930.6 1208.9L931.1 1210.9L931.6 1210.7L932.1 1210.3L932.6 1211.6L933.1 1212.3L933.6 1213.3L934.1 1214.1L934.6 1212.9L935.1 1212.4L935.6 1209.8L936.1 1214.4L936.6 1213.0L937.1 1214.7L937.6 1214.9L938.1 1212.8L938.6 1215.0L939.1 1212.7L939.6 1209.2L940.1 1213.1L940.6 1211.9L941.1 1217.0L941.6 1213.4L942.1 1213.0L942.6 1213.6L943.1 1212.5L943.6 1212.3L944.1 1211.9L944.6 1214.8L945.1 1209.9L945.6 1209.1L946.1 1212.3L946.6 1205.8L947.1 1203.4L947.6 1211.8L948.1 1212.2L948.6 1214.3L949.1 1209.8L949.6 1210.8L950.1 1209.2L950.6 1209.2L951.1 1209.8L951.6 1208.8L952.1 1209.3L952.6 1217.8L953.1 1210.7L953.6 1211.0L954.1 1211.0L954.6 1212.6L955.1 1214.4L955.6 1211.2L956.1 1211.7L956.6 1215.0L957.1 1213.7L957.6 1212.3L958.1 1214.6L958.6 1208.8L959.1 1210.6L959.6 1214.0L960.1 1213.3L960.6 1213.1L961.1 1209.2L961.6 1215.5L962.1 1209.4L962.6 1211.3L963.1 1208.4L963.6 1208.9L964.1 1211.7L964.6 1213.4L965.1 1213.9L965.6 1211.7L966.1 1211.6L966.6 1210.9L967.1 1209.0L967.6 1214.8L968.1 1203.3L968.6 1206.5L969.1 1210.4L969.6 1204.8L970.1 1202.0L970.6 1195.4L971.1 1203.8L971.6 1204.2L972.1 1208.5L972.6 1212.0L973.1 1203.3L973.6 1208.4L974.1 1202.6L974.6 1206.7L975.1 1211.7L975.6 1202.7L976.1 1206.3L976.6 1210.8L977.1 1211.7L977.6 1211.9L978.1 1198.1L978.6 1211.3L979.1 1212.1L979.6 1208.5L980.1 1206.1L980.6 1211.0L981.1 1208.7L981.6 1206.5L982.1 1196.5L982.6 1193.7L983.1 1186.0L983.6 1168.4L984.1 1170.7L984.6 1184.0L985.1 1191.9L985.6 1202.0L986.1 1203.1L986.6 1209.1L987.1 1204.0L987.6 1212.1L988.1 1211.6L988.6 1215.7L989.1 1206.4L989.6 1212.3L990.1 1204.2L990.6 1206.2L991.1 1206.9L991.6 1211.9L992.1 1203.6L992.6 1207.4L993.1 1203.5L993.6 1212.5L994.1 1203.5L994.6 1203.9L995.1 1210.1L995.6 1212.6L996.1 1209.8L996.6 1203.2L997.1 1209.5L997.6 1208.4L998.1 1203.2L998.6 1208.2L999.1 1204.9L999.6 1197.2L1000.1 1203.1L1000.6 1207.5L1001.1 1202.6L1001.6 1193.1L1002.1 1185.9L1002.6 1189.3L1003.1 1198.5L1003.6 1205.9L1004.1 1205.5L1004.6 1202.6L1005.1 1209.9L1005.6 1203.0L1006.1 1206.3L1006.6 1215.2L1007.1 1206.1L1007.6 1203.3L1008.1 1204.3L1008.6 1214.9L1009.1 1210.2L1009.6 1197.6L1010.1 1210.9L1010.6 1209.2L1011.1 1206.2L1011.6 1201.4L1012.1 1201.9L1012.6 1203.5L1013.1 1206.3L1013.6 1212.5L1014.1 1208.1L1014.6 1207.8L1015.1 1215.5L1015.6 1207.0L1016.1 1211.3L1016.6 1212.9L1017.1 1204.9L1017.6 1209.0L1018.1 1207.8L1018.6 1206.8L1019.1 1217.2L1019.6 1210.3L1020.1 1207.1L1020.6 1211.9L1021.1 1213.8L1021.6 1213.0L1022.1 1216.4L1022.6 1210.6L1023.1 1209.1L1023.6 1209.5L1024.1 1200.5L1024.6 1216.1L1025.1 1212.4L1025.6 1214.6L1026.1 1202.4L1026.6 1208.4L1027.1 1202.5L1027.6 1196.5L1028.1 1190.7L1028.6 1174.0L1029.1 1193.4L1029.6 1196.4L1030.1 1206.0L1030.6 1208.9L1031.1 1207.6L1031.6 1213.6L1032.1 1210.8L1032.6 1209.9L1033.1 1212.4L1033.6 1211.1L1034.1 1211.0L1034.6 1206.6L1035.1 1214.0L1035.6 1213.9L1036.1 1213.1L1036.6 1213.4L1037.1 1212.9L1037.6 1209.9L1038.1 1208.5L1038.6 1206.5L1039.1 1209.2L1039.6 1206.3L1040.1 1206.7L1040.6 1213.6L1041.1 1211.7L1041.6 1208.7L1042.1 1209.2L1042.6 1209.0L1043.1 1217.1L1043.6 1216.5L1044.1 1210.4L1044.6 1210.3L1045.1 1207.4L1045.6 1207.7L1046.1 1213.7L1046.6 1212.2L1047.1 1208.0L1047.6 1212.0L1048.1 1206.4L1048.6 1208.2L1049.1 1206.2L1049.6 1202.4L1050.1 1204.6L1050.6 1208.4L1051.1 1211.2L1051.6 1208.5L1052.1 1206.5L1052.6 1207.9L1053.1 1215.3L1053.6 1207.7L1054.1 1209.0L1054.6 1207.9L1055.1 1214.6L1055.6 1209.3L1056.1 1216.0L1056.6 1209.8L1057.1 1214.1L1057.6 1212.4L1058.1 1206.5L1058.6 1209.9L1059.1 1213.5L1059.6 1207.3L1060.1 1207.0L1060.5 1207.6L1061.0 1217.0L1061.5 1207.8L1062.0 1207.6L1062.5 1213.7L1063.0 1211.4L1063.5 1212.6L1064.0 1207.5L1064.5 1208.3L1065.0 1211.3L1065.5 1210.8L1066.0 1208.3L1066.5 1201.6L1067.0 1202.4L1067.5 1208.9L1068.0 1212.7L1068.5 1207.7L1069.0 1204.0L1069.5 1213.0L1070.0 1200.8L1070.5 1195.7L1071.0 1203.8L1071.5 1206.6L1072.0 1207.8L1072.5 1208.4L1073.0 1212.5L1073.5 1209.3L1074.0 1211.1L1074.5 1207.1L1075.0 1207.7L1075.5 1209.0L1076.0 1200.8L1076.5 1209.7L1077.0 1212.0L1077.5 1214.0L1078.0 1210.6L1078.5 1203.3L1079.0 1210.2L1079.5 1209.0L1080.0 1209.2L1080.5 1204.2L1081.0 1208.2L1081.5 1211.9L1082.0 1209.1L1082.5 1207.1L1083.0 1207.6L1083.5 1209.0L1084.0 1206.5L1084.5 1207.4L1085.0 1208.8L1085.5 1211.9L1086.0 1214.2L1086.5 1212.6L1087.0 1213.8L1087.5 1214.3L1088.0 1214.4L1088.5 1213.9L1089.0 1207.0L1089.5 1214.3L1090.0 1210.6L1090.5 1209.3L1091.0 1200.7L1091.5 1207.5L1092.0 1214.7L1092.5 1209.8L1093.0 1211.4L1093.5 1209.0L1094.0 1211.8L1094.5 1214.1L1095.0 1211.7L1095.5 1202.1L1096.0 1204.2L1096.5 1208.8L1097.0 1213.1L1097.5 1207.7L1098.0 1210.0L1098.5 1211.8L1099.0 1212.8L1099.5 1208.6L1100.0 1203.6L1100.5 1209.7L1101.0 1207.9L1101.5 1211.0L1102.0 1208.9L1102.5 1211.4L1103.0 1207.8L1103.5 1207.5L1104.0 1203.9L1104.5 1205.7L1105.0 1208.0L1105.5 1205.1L1106.0 1205.9L1106.5 1205.0L1107.0 1203.5L1107.5 1197.6L1108.0 1204.7L1108.5 1204.7L1109.0 1205.0L1109.5 1199.2L1110.0 1193.1L1110.5 1175.0L1111.0 1176.9L1111.5 1191.4L1112.0 1198.8L1112.5 1203.5L1113.0 1210.8L1113.5 1204.9L1114.0 1203.9L1114.5 1202.8L1115.0 1211.9L1115.5 1210.9L1116.0 1210.3L1116.5 1203.7L1117.0 1207.0L1117.5 1206.0L1118.0 1196.4L1118.5 1203.3L1119.0 1207.5L1119.5 1208.9L1120.0 1209.8L1120.5 1207.0L1121.0 1210.3L1121.5 1204.9L1122.0 1212.7L1122.5 1211.5L1123.0 1203.9L1123.5 1203.8L1124.0 1207.7L1124.5 1211.8L1125.0 1206.4L1125.5 1203.7L1126.0 1210.9L1126.0 1218.8zM862.7 1345.3L862.7 1335.7L863.2 1336.0L863.7 1341.6L864.2 1335.2L864.7 1341.6L865.2 1340.6L865.7 1338.8L866.2 1334.8L866.7 1337.7L867.2 1338.0L867.7 1337.2L868.2 1335.9L868.7 1340.8L869.2 1334.8L869.7 1335.2L870.2 1341.5L870.7 1341.6L871.2 1338.4L871.7 1337.9L872.2 1339.2L872.7 1335.8L873.2 1334.7L873.7 1337.8L874.2 1338.9L874.7 1334.0L875.2 1326.9L875.7 1335.8L876.2 1335.1L876.7 1341.1L877.2 1337.6L877.7 1334.2L878.2 1336.4L878.7 1338.2L879.2 1340.4L879.7 1336.2L880.2 1343.2L880.7 1339.9L881.2 1335.6L881.7 1336.5L882.2 1334.3L882.7 1330.6L883.2 1321.8L883.7 1300.5L884.2 1315.2L884.7 1325.5L885.2 1334.4L885.7 1336.0L886.2 1334.6L886.7 1341.9L887.2 1340.3L887.7 1335.0L888.2 1336.4L888.7 1344.0L889.2 1340.0L889.7 1338.8L890.2 1340.9L890.7 1343.1L891.2 1339.7L891.7 1329.4L892.2 1334.6L892.7 1340.7L893.2 1339.6L893.7 1335.2L894.2 1334.7L894.7 1337.2L895.2 1340.7L895.7 1344.2L896.2 1335.8L896.7 1334.7L897.2 1340.4L897.7 1340.3L898.2 1337.6L898.7 1343.1L899.2 1338.4L899.7 1336.5L900.2 1340.5L900.7 1334.5L901.2 1334.2L901.7 1338.3L902.2 1336.7L902.7 1339.7L903.2 1335.2L903.7 1342.7L904.2 1335.9L904.7 1339.5L905.2 1334.7L905.7 1338.4L906.2 1338.0L906.7 1334.5L907.2 1337.9L907.7 1341.2L908.2 1337.9L908.7 1343.7L909.2 1338.8L909.7 1341.5L910.2 1335.0L910.7 1339.6L911.2 1337.2L911.7 1335.0L912.2 1334.5L912.7 1338.4L913.2 1335.3L913.7 1337.9L914.2 1338.6L914.7 1340.5L915.2 1340.5L915.7 1339.9L916.2 1341.1L916.7 1336.2L917.2 1341.0L917.7 1339.7L918.2 1340.7L918.7 1337.3L919.2 1336.5L919.7 1340.2L920.2 1336.6L920.7 1343.7L921.2 1341.6L921.7 1330.7L922.2 1339.3L922.7 1334.5L923.2 1325.8L923.7 1334.5L924.2 1338.4L924.7 1335.4L925.2 1339.3L925.7 1336.1L926.2 1341.0L926.7 1339.5L927.2 1341.4L927.7 1342.5L928.2 1335.0L928.6 1337.4L929.1 1336.1L929.6 1337.2L930.1 1334.7L930.6 1340.3L931.1 1338.3L931.6 1337.4L932.1 1335.4L932.6 1339.7L933.1 1334.9L933.6 1339.6L934.1 1341.3L934.6 1336.5L935.1 1338.8L935.6 1334.2L936.1 1335.1L936.6 1338.0L937.1 1340.8L937.6 1335.0L938.1 1341.4L938.6 1338.9L939.1 1334.5L939.6 1334.7L940.1 1339.8L940.6 1339.5L941.1 1337.2L941.6 1329.6L942.1 1337.9L942.6 1337.1L943.1 1331.7L943.6 1336.5L944.1 1334.4L944.6 1335.9L945.1 1338.5L945.6 1334.7L946.1 1340.5L946.6 1336.9L947.1 1335.3L947.6 1335.2L948.1 1339.0L948.6 1338.3L949.1 1338.8L949.6 1339.7L950.1 1335.2L950.6 1344.1L951.1 1341.3L951.6 1343.3L952.1 1340.1L952.6 1335.3L953.1 1333.4L953.6 1325.5L954.1 1334.3L954.6 1335.4L955.1 1336.2L955.6 1337.8L956.1 1340.1L956.6 1337.9L957.1 1334.0L957.6 1327.5L958.1 1335.9L958.6 1338.6L959.1 1338.1L959.6 1335.1L960.1 1339.1L960.6 1338.6L961.1 1334.6L961.6 1338.2L962.1 1336.8L962.6 1340.8L963.1 1341.8L963.6 1324.1L964.1 1323.3L964.6 1325.3L965.1 1333.6L965.6 1322.4L966.1 1321.3L966.6 1320.7L967.1 1329.1L967.6 1330.6L968.1 1331.9L968.6 1328.6L969.1 1325.6L969.6 1335.0L970.1 1331.7L970.6 1327.3L971.1 1326.5L971.6 1308.6L972.1 1333.2L972.6 1339.4L973.1 1335.4L973.6 1336.8L974.1 1336.8L974.6 1334.0L975.1 1333.7L975.6 1333.3L976.1 1332.6L976.6 1332.8L977.1 1337.3L977.6 1325.7L978.1 1328.3L978.6 1340.3L979.1 1336.4L979.6 1327.0L980.1 1333.8L980.6 1327.0L981.1 1315.3L981.6 1324.1L982.1 1322.9L982.6 1323.0L983.1 1326.1L983.6 1314.3L984.1 1304.4L984.6 1305.0L985.1 1315.4L985.6 1320.0L986.1 1327.1L986.6 1332.1L987.1 1326.8L987.6 1326.0L988.1 1326.1L988.6 1328.8L989.1 1333.1L989.6 1329.7L990.1 1325.9L990.6 1325.2L991.1 1320.6L991.6 1320.9L992.1 1322.0L992.6 1323.3L993.1 1328.4L993.6 1322.4L994.1 1318.6L994.6 1335.6L995.1 1325.1L995.6 1326.4L996.1 1332.7L996.6 1327.9L997.1 1321.1L997.6 1323.8L998.1 1322.0L998.6 1329.7L999.1 1328.1L999.6 1334.0L1000.1 1327.3L1000.6 1319.0L1001.1 1321.6L1001.6 1313.3L1002.1 1298.5L1002.6 1289.3L1003.1 1278.9L1003.6 1303.0L1004.1 1307.7L1004.6 1319.0L1005.1 1324.3L1005.6 1320.8L1006.1 1304.5L1006.6 1317.7L1007.1 1323.0L1007.6 1321.3L1008.1 1323.1L1008.6 1332.5L1009.1 1335.8L1009.6 1318.6L1010.1 1326.5L1010.6 1330.2L1011.1 1332.8L1011.6 1320.8L1012.1 1324.3L1012.6 1328.8L1013.1 1329.2L1013.6 1337.8L1014.1 1322.2L1014.6 1330.8L1015.1 1321.8L1015.6 1315.1L1016.1 1322.0L1016.6 1331.4L1017.1 1334.6L1017.6 1331.4L1018.1 1335.7L1018.6 1328.1L1019.1 1326.1L1019.6 1325.3L1020.1 1334.8L1020.6 1322.2L1021.1 1332.8L1021.6 1324.4L1022.1 1328.5L1022.6 1332.6L1023.1 1324.4L1023.6 1326.4L1024.1 1321.1L1024.6 1310.9L1025.1 1326.0L1025.6 1324.1L1026.1 1326.7L1026.6 1322.4L1027.1 1320.6L1027.6 1315.8L1028.1 1301.2L1028.6 1290.4L1029.1 1301.0L1029.6 1313.8L1030.1 1321.0L1030.6 1321.6L1031.1 1326.0L1031.6 1331.2L1032.1 1326.2L1032.6 1327.7L1033.1 1328.3L1033.6 1319.7L1034.1 1319.0L1034.6 1326.8L1035.1 1329.1L1035.6 1324.9L1036.1 1330.6L1036.6 1332.3L1037.1 1332.8L1037.6 1325.5L1038.1 1321.1L1038.6 1326.6L1039.1 1330.0L1039.6 1323.3L1040.1 1333.4L1040.6 1330.0L1041.1 1331.5L1041.6 1337.0L1042.1 1336.9L1042.6 1332.5L1043.1 1329.1L1043.6 1322.2L1044.1 1335.4L1044.6 1331.3L1045.1 1339.2L1045.6 1334.2L1046.1 1326.9L1046.6 1321.2L1047.1 1317.7L1047.6 1300.0L1048.1 1317.4L1048.6 1324.3L1049.1 1329.7L1049.6 1333.4L1050.1 1317.4L1050.6 1322.0L1051.1 1318.8L1051.6 1328.9L1052.1 1321.7L1052.6 1328.4L1053.1 1322.9L1053.6 1321.2L1054.1 1309.2L1054.6 1321.7L1055.1 1314.5L1055.6 1327.0L1056.1 1332.6L1056.6 1331.0L1057.1 1310.7L1057.6 1321.2L1058.1 1314.0L1058.6 1330.6L1059.1 1322.8L1059.6 1333.0L1060.1 1322.7L1060.5 1320.9L1061.0 1323.2L1061.5 1320.6L1062.0 1333.2L1062.5 1342.3L1063.0 1317.7L1063.5 1333.8L1064.0 1322.9L1064.5 1335.2L1065.0 1326.1L1065.5 1320.8L1066.0 1329.3L1066.5 1337.2L1067.0 1326.7L1067.5 1329.2L1068.0 1336.3L1068.5 1333.9L1069.0 1329.6L1069.5 1321.7L1070.0 1329.8L1070.5 1335.9L1071.0 1333.3L1071.5 1340.5L1072.0 1338.4L1072.5 1335.7L1073.0 1337.1L1073.5 1330.3L1074.0 1335.6L1074.5 1331.6L1075.0 1340.3L1075.5 1340.3L1076.0 1342.2L1076.5 1338.1L1077.0 1336.4L1077.5 1340.7L1078.0 1331.7L1078.5 1334.9L1079.0 1332.0L1079.5 1339.0L1080.0 1333.4L1080.5 1330.2L1081.0 1336.8L1081.5 1330.3L1082.0 1333.1L1082.5 1332.5L1083.0 1335.7L1083.5 1340.3L1084.0 1335.6L1084.5 1339.5L1085.0 1339.8L1085.5 1328.5L1086.0 1335.7L1086.5 1333.6L1087.0 1332.9L1087.5 1339.7L1088.0 1339.2L1088.5 1332.6L1089.0 1338.0L1089.5 1328.5L1090.0 1332.0L1090.5 1332.3L1091.0 1340.3L1091.5 1333.5L1092.0 1337.5L1092.5 1337.2L1093.0 1335.6L1093.5 1336.9L1094.0 1331.7L1094.5 1335.9L1095.0 1333.9L1095.5 1331.9L1096.0 1332.9L1096.5 1325.0L1097.0 1313.7L1097.5 1324.1L1098.0 1333.3L1098.5 1337.5L1099.0 1328.5L1099.5 1338.4L1100.0 1333.6L1100.5 1332.0L1101.0 1339.2L1101.5 1332.5L1102.0 1339.6L1102.5 1336.2L1103.0 1334.3L1103.5 1334.6L1104.0 1330.9L1104.5 1323.2L1105.0 1334.5L1105.5 1335.4L1106.0 1333.8L1106.5 1339.7L1107.0 1338.2L1107.5 1332.2L1108.0 1330.2L1108.5 1324.9L1109.0 1317.9L1109.5 1300.7L1110.0 1309.4L1110.5 1320.5L1111.0 1328.8L1111.5 1332.1L1112.0 1332.4L1112.5 1338.3L1113.0 1331.8L1113.5 1335.6L1114.0 1335.6L1114.5 1338.8L1115.0 1333.4L1115.5 1336.1L1116.0 1338.6L1116.5 1343.0L1117.0 1332.5L1117.5 1333.2L1118.0 1332.8L1118.5 1340.7L1119.0 1334.5L1119.5 1337.7L1120.0 1337.7L1120.5 1337.0L1121.0 1337.2L1121.5 1335.7L1122.0 1324.5L1122.5 1334.2L1123.0 1335.1L1123.5 1334.3L1124.0 1337.9L1124.5 1334.6L1125.0 1333.3L1125.5 1337.3L1126.0 1331.7L1126.0 1345.3zM862.7 1471.8L862.7 1465.5L863.2 1458.7L863.7 1469.8L864.2 1466.4L864.7 1465.4L865.2 1462.5L865.7 1465.4L866.2 1462.8L866.7 1465.9L867.2 1467.8L867.7 1457.3L868.2 1457.9L868.7 1465.7L869.2 1462.4L869.7 1463.0L870.2 1466.8L870.7 1467.6L871.2 1464.9L871.7 1466.2L872.2 1465.3L872.7 1458.3L873.2 1468.1L873.7 1468.5L874.2 1459.9L874.7 1464.6L875.2 1462.5L875.7 1470.0L876.2 1463.1L876.7 1468.5L877.2 1465.5L877.7 1462.9L878.2 1464.1L878.7 1461.1L879.2 1462.1L879.7 1463.4L880.2 1464.7L880.7 1465.2L881.2 1462.4L881.7 1464.5L882.2 1460.7L882.7 1451.5L883.2 1441.8L883.7 1417.7L884.2 1435.0L884.7 1448.8L885.2 1454.3L885.7 1462.5L886.2 1465.9L886.7 1466.9L887.2 1464.5L887.7 1464.9L888.2 1465.9L888.7 1468.5L889.2 1465.1L889.7 1461.9L890.2 1466.2L890.7 1462.3L891.2 1467.6L891.7 1459.2L892.2 1466.6L892.7 1468.3L893.2 1462.9L893.7 1462.4L894.2 1465.0L894.7 1459.7L895.2 1468.3L895.7 1464.4L896.2 1470.5L896.7 1468.1L897.2 1464.0L897.7 1462.3L898.2 1463.0L898.7 1464.9L899.2 1467.1L899.7 1461.9L900.2 1457.0L900.7 1465.3L901.2 1463.9L901.7 1462.4L902.2 1462.6L902.7 1464.1L903.2 1466.7L903.7 1465.6L904.2 1463.9L904.7 1468.3L905.2 1464.5L905.7 1466.9L906.2 1465.5L906.7 1465.3L907.2 1462.7L907.7 1465.7L908.2 1462.5L908.7 1454.3L909.2 1460.4L909.7 1457.0L910.2 1466.5L910.7 1467.6L911.2 1467.6L911.7 1468.1L912.2 1467.8L912.7 1466.3L913.2 1463.3L913.7 1469.5L914.2 1464.6L914.7 1466.8L915.2 1461.9L915.7 1461.9L916.2 1465.6L916.7 1463.1L917.2 1465.0L917.7 1463.1L918.2 1462.3L918.7 1457.6L919.2 1463.4L919.7 1470.2L920.2 1465.6L920.7 1466.9L921.2 1467.7L921.7 1467.9L922.2 1465.4L922.7 1467.1L923.2 1463.2L923.7 1462.6L924.2 1467.9L924.7 1464.2L925.2 1465.9L925.7 1465.9L926.2 1462.2L926.7 1462.8L927.2 1463.3L927.7 1464.1L928.2 1466.2L928.6 1463.7L929.1 1463.9L929.6 1468.3L930.1 1466.8L930.6 1463.2L931.1 1465.9L931.6 1464.2L932.1 1467.0L932.6 1458.6L933.1 1463.1L933.6 1456.6L934.1 1461.8L934.6 1464.6L935.1 1462.9L935.6 1462.9L936.1 1455.0L936.6 1453.6L937.1 1461.1L937.6 1463.4L938.1 1462.2L938.6 1462.8L939.1 1463.9L939.6 1467.4L940.1 1463.5L940.6 1462.6L941.1 1464.2L941.6 1468.1L942.1 1466.9L942.6 1465.1L943.1 1468.0L943.6 1468.5L944.1 1470.9L944.6 1467.6L945.1 1462.7L945.6 1463.3L946.1 1469.4L946.6 1464.4L947.1 1467.7L947.6 1470.5L948.1 1462.0L948.6 1464.7L949.1 1467.2L949.6 1464.9L950.1 1462.7L950.6 1457.4L951.1 1463.9L951.6 1460.8L952.1 1465.3L952.6 1462.8L953.1 1465.1L953.6 1464.4L954.1 1461.4L954.6 1463.6L955.1 1465.7L955.6 1466.5L956.1 1463.5L956.6 1468.4L957.1 1465.2L957.6 1462.3L958.1 1463.4L958.6 1464.0L959.1 1465.1L959.6 1462.1L960.1 1465.6L960.6 1447.6L961.1 1469.6L961.6 1458.9L962.1 1463.9L962.6 1452.7L963.1 1451.2L963.6 1460.2L964.1 1452.4L964.6 1442.8L965.1 1455.4L965.6 1451.4L966.1 1456.8L966.6 1443.0L967.1 1463.5L967.6 1449.7L968.1 1462.5L968.6 1461.0L969.1 1448.3L969.6 1457.4L970.1 1445.6L970.6 1456.2L971.1 1449.9L971.6 1440.0L972.1 1455.8L972.6 1447.9L973.1 1449.4L973.6 1455.4L974.1 1450.5L974.6 1464.5L975.1 1461.7L975.6 1449.6L976.1 1455.0L976.6 1462.1L977.1 1457.1L977.6 1462.8L978.1 1456.0L978.6 1452.3L979.1 1447.5L979.6 1448.2L980.1 1453.7L980.6 1447.2L981.1 1453.9L981.6 1454.7L982.1 1449.6L982.6 1448.9L983.1 1436.2L983.6 1428.0L984.1 1415.0L984.6 1415.6L985.1 1425.8L985.6 1436.3L986.1 1444.1L986.6 1449.9L987.1 1448.0L987.6 1447.3L988.1 1435.0L988.6 1461.7L989.1 1448.9L989.6 1461.8L990.1 1449.1L990.6 1456.3L991.1 1461.6L991.6 1449.6L992.1 1447.3L992.6 1454.8L993.1 1460.7L993.6 1455.2L994.1 1452.3L994.6 1457.9L995.1 1447.9L995.6 1451.5L996.1 1457.5L996.6 1448.7L997.1 1456.6L997.6 1448.8L998.1 1462.4L998.6 1459.3L999.1 1460.8L999.6 1457.3L1000.1 1452.7L1000.6 1447.3L1001.1 1443.8L1001.6 1437.6L1002.1 1431.1L1002.6 1433.7L1003.1 1446.9L1003.6 1446.9L1004.1 1454.4L1004.6 1449.2L1005.1 1454.3L1005.6 1442.7L1006.1 1459.5L1006.6 1456.8L1007.1 1451.0L1007.6 1461.5L1008.1 1450.5L1008.6 1449.1L1009.1 1460.9L1009.6 1455.3L1010.1 1454.6L1010.6 1448.7L1011.1 1459.5L1011.6 1456.5L1012.1 1454.7L1012.6 1451.3L1013.1 1441.8L1013.6 1436.1L1014.1 1413.2L1014.6 1429.7L1015.1 1435.6L1015.6 1447.1L1016.1 1449.2L1016.6 1451.5L1017.1 1461.1L1017.6 1457.3L1018.1 1460.8L1018.6 1448.8L1019.1 1450.3L1019.6 1450.9L1020.1 1454.9L1020.6 1437.1L1021.1 1450.1L1021.6 1449.6L1022.1 1453.7L1022.6 1462.8L1023.1 1445.3L1023.6 1463.0L1024.1 1447.5L1024.6 1465.9L1025.1 1450.0L1025.6 1462.0L1026.1 1463.2L1026.6 1454.7L1027.1 1456.1L1027.6 1444.7L1028.1 1427.5L1028.6 1404.1L1029.1 1427.0L1029.6 1443.0L1030.1 1440.0L1030.6 1430.6L1031.1 1436.7L1031.6 1446.7L1032.1 1438.5L1032.6 1459.0L1033.1 1453.9L1033.6 1451.6L1034.1 1459.8L1034.6 1448.6L1035.1 1462.9L1035.6 1459.2L1036.1 1454.6L1036.6 1443.1L1037.1 1457.5L1037.6 1439.3L1038.1 1463.3L1038.6 1453.8L1039.1 1448.7L1039.6 1456.9L1040.1 1450.3L1040.6 1450.8L1041.1 1467.1L1041.6 1449.6L1042.1 1448.0L1042.6 1448.8L1043.1 1454.5L1043.6 1462.1L1044.1 1465.8L1044.6 1462.5L1045.1 1461.8L1045.6 1448.0L1046.1 1434.5L1046.6 1443.3L1047.1 1436.8L1047.6 1447.0L1048.1 1451.7L1048.6 1449.2L1049.1 1445.7L1049.6 1441.1L1050.1 1429.4L1050.6 1424.4L1051.1 1435.9L1051.6 1442.6L1052.1 1446.2L1052.6 1449.1L1053.1 1451.9L1053.6 1458.6L1054.1 1456.7L1054.6 1448.6L1055.1 1443.7L1055.6 1429.4L1056.1 1448.8L1056.6 1447.4L1057.1 1459.3L1057.6 1453.7L1058.1 1461.7L1058.6 1461.9L1059.1 1457.9L1059.6 1459.6L1060.1 1446.9L1060.5 1460.4L1061.0 1449.7L1061.5 1467.1L1062.0 1447.1L1062.5 1462.3L1063.0 1462.8L1063.5 1451.5L1064.0 1447.0L1064.5 1455.8L1065.0 1444.5L1065.5 1433.5L1066.0 1450.1L1066.5 1453.4L1067.0 1452.0L1067.5 1456.0L1068.0 1462.2L1068.5 1464.0L1069.0 1460.0L1069.5 1460.9L1070.0 1462.8L1070.5 1464.6L1071.0 1457.7L1071.5 1465.3L1072.0 1463.8L1072.5 1465.2L1073.0 1469.1L1073.5 1462.1L1074.0 1465.9L1074.5 1461.5L1075.0 1452.8L1075.5 1442.2L1076.0 1457.1L1076.5 1463.0L1077.0 1464.0L1077.5 1462.0L1078.0 1460.6L1078.5 1470.2L1079.0 1460.9L1079.5 1465.5L1080.0 1462.8L1080.5 1464.1L1081.0 1464.2L1081.5 1470.4L1082.0 1463.2L1082.5 1465.4L1083.0 1465.5L1083.5 1460.7L1084.0 1466.8L1084.5 1461.7L1085.0 1460.3L1085.5 1463.0L1086.0 1465.7L1086.5 1464.0L1087.0 1461.4L1087.5 1460.6L1088.0 1460.6L1088.5 1465.9L1089.0 1463.5L1089.5 1459.9L1090.0 1470.3L1090.5 1460.0L1091.0 1464.9L1091.5 1461.7L1092.0 1466.2L1092.5 1460.1L1093.0 1461.0L1093.5 1468.8L1094.0 1463.9L1094.5 1465.5L1095.0 1460.0L1095.5 1464.5L1096.0 1460.8L1096.5 1465.3L1097.0 1465.3L1097.5 1464.4L1098.0 1459.6L1098.5 1460.6L1099.0 1466.2L1099.5 1466.7L1100.0 1459.8L1100.5 1466.0L1101.0 1467.2L1101.5 1461.4L1102.0 1460.0L1102.5 1460.4L1103.0 1459.9L1103.5 1466.5L1104.0 1459.3L1104.5 1464.9L1105.0 1460.9L1105.5 1465.0L1106.0 1462.4L1106.5 1465.9L1107.0 1463.9L1107.5 1460.9L1108.0 1463.0L1108.5 1459.6L1109.0 1454.4L1109.5 1448.8L1110.0 1434.1L1110.5 1437.2L1111.0 1447.1L1111.5 1455.4L1112.0 1462.6L1112.5 1460.7L1113.0 1465.3L1113.5 1462.6L1114.0 1461.3L1114.5 1453.3L1115.0 1461.0L1115.5 1464.0L1116.0 1466.0L1116.5 1465.7L1117.0 1459.7L1117.5 1462.8L1118.0 1460.0L1118.5 1462.9L1119.0 1460.1L1119.5 1461.7L1120.0 1463.7L1120.5 1458.6L1121.0 1454.2L1121.5 1441.3L1122.0 1454.2L1122.5 1461.0L1123.0 1460.9L1123.5 1461.7L1124.0 1464.8L1124.5 1469.5L1125.0 1463.6L1125.5 1464.7L1126.0 1466.1L1126.0 1471.8zM862.7 1597.8L862.7 1587.0L863.2 1590.4L863.7 1592.0L864.2 1581.9L864.7 1586.7L865.2 1591.1L865.7 1593.7L866.2 1593.5L866.7 1591.8L867.2 1582.6L867.7 1588.3L868.2 1581.7L868.7 1581.0L869.2 1587.6L869.7 1590.1L870.2 1592.2L870.7 1593.4L871.2 1587.8L871.7 1586.6L872.2 1593.9L872.7 1593.0L873.2 1587.6L873.7 1588.8L874.2 1591.8L874.7 1595.6L875.2 1591.0L875.7 1593.3L876.2 1592.0L876.7 1591.4L877.2 1586.8L877.7 1591.0L878.2 1587.6L878.7 1587.0L879.2 1592.1L879.7 1588.6L880.2 1592.3L880.7 1586.6L881.2 1588.6L881.7 1582.9L882.2 1587.8L882.7 1585.2L883.2 1578.6L883.7 1562.4L884.2 1576.1L884.7 1584.8L885.2 1585.1L885.7 1586.9L886.2 1580.1L886.7 1576.8L887.2 1580.6L887.7 1581.1L888.2 1567.0L888.7 1579.4L889.2 1587.7L889.7 1587.6L890.2 1594.4L890.7 1578.6L891.2 1583.1L891.7 1582.5L892.2 1585.1L892.7 1578.7L893.2 1573.2L893.7 1579.1L894.2 1589.7L894.7 1584.7L895.2 1588.9L895.7 1592.2L896.2 1586.1L896.7 1577.7L897.2 1576.1L897.7 1579.3L898.2 1587.7L898.7 1570.5L899.2 1578.9L899.7 1582.2L900.2 1579.6L900.7 1589.9L901.2 1588.8L901.7 1589.8L902.2 1582.2L902.7 1591.5L903.2 1576.8L903.7 1572.1L904.2 1584.9L904.7 1574.0L905.2 1572.1L905.7 1566.1L906.2 1585.4L906.7 1587.8L907.2 1575.6L907.7 1571.6L908.2 1580.4L908.7 1587.0L909.2 1579.4L909.7 1588.1L910.2 1588.0L910.7 1576.6L911.2 1582.6L911.7 1576.5L912.2 1582.0L912.7 1577.4L913.2 1583.3L913.7 1584.6L914.2 1583.1L914.7 1588.7L915.2 1582.2L915.7 1577.4L916.2 1575.9L916.7 1582.7L917.2 1583.8L917.7 1582.4L918.2 1573.0L918.7 1584.9L919.2 1572.3L919.7 1579.7L920.2 1570.5L920.7 1591.3L921.2 1584.6L921.7 1574.9L922.2 1581.7L922.7 1583.3L923.2 1576.9L923.7 1573.7L924.2 1571.3L924.7 1564.3L925.2 1573.5L925.7 1578.3L926.2 1577.6L926.7 1587.3L927.2 1581.6L927.7 1583.9L928.2 1585.8L928.6 1587.0L929.1 1579.8L929.6 1579.8L930.1 1583.3L930.6 1580.8L931.1 1581.2L931.6 1585.8L932.1 1585.2L932.6 1579.5L933.1 1580.4L933.6 1571.6L934.1 1556.6L934.6 1546.7L935.1 1535.2L935.6 1557.6L936.1 1569.0L936.6 1574.7L937.1 1578.8L937.6 1564.0L938.1 1574.1L938.6 1589.6L939.1 1586.9L939.6 1587.6L940.1 1575.3L940.6 1581.1L941.1 1572.1L941.6 1578.1L942.1 1582.7L942.6 1577.3L943.1 1571.2L943.6 1578.2L944.1 1568.2L944.6 1552.1L945.1 1554.5L945.6 1568.1L946.1 1580.2L946.6 1582.1L947.1 1583.1L947.6 1586.7L948.1 1587.2L948.6 1587.0L949.1 1581.2L949.6 1586.2L950.1 1584.5L950.6 1583.2L951.1 1578.1L951.6 1583.5L952.1 1579.0L952.6 1578.0L953.1 1573.3L953.6 1573.6L954.1 1579.5L954.6 1579.0L955.1 1587.0L955.6 1576.3L956.1 1574.7L956.6 1568.6L957.1 1576.3L957.6 1585.7L958.1 1574.2L958.6 1574.5L959.1 1573.4L959.6 1582.2L960.1 1586.9L960.6 1588.2L961.1 1574.1L961.6 1591.6L962.1 1585.6L962.6 1575.0L963.1 1582.9L963.6 1582.8L964.1 1579.4L964.6 1577.1L965.1 1584.2L965.6 1573.4L966.1 1577.7L966.6 1575.7L967.1 1589.7L967.6 1584.1L968.1 1574.5L968.6 1578.0L969.1 1569.7L969.6 1571.2L970.1 1575.0L970.6 1585.9L971.1 1578.7L971.6 1584.4L972.1 1575.6L972.6 1586.9L973.1 1579.9L973.6 1583.7L974.1 1584.1L974.6 1566.3L975.1 1576.9L975.6 1581.1L976.1 1580.4L976.6 1575.0L977.1 1588.1L977.6 1578.1L978.1 1587.9L978.6 1572.4L979.1 1577.0L979.6 1585.2L980.1 1573.9L980.6 1570.3L981.1 1575.9L981.6 1581.5L982.1 1578.8L982.6 1573.2L983.1 1580.2L983.6 1561.8L984.1 1536.4L984.6 1543.8L985.1 1556.3L985.6 1563.6L986.1 1575.3L986.6 1579.9L987.1 1582.2L987.6 1583.3L988.1 1585.3L988.6 1579.1L989.1 1577.8L989.6 1589.0L990.1 1577.0L990.6 1573.7L991.1 1576.0L991.6 1574.9L992.1 1583.1L992.6 1582.5L993.1 1581.6L993.6 1574.5L994.1 1578.8L994.6 1587.9L995.1 1580.2L995.6 1571.3L996.1 1575.0L996.6 1582.8L997.1 1576.0L997.6 1582.9L998.1 1587.7L998.6 1593.9L999.1 1588.0L999.6 1585.5L1000.1 1576.3L1000.6 1588.8L1001.1 1581.5L1001.6 1575.9L1002.1 1565.5L1002.6 1573.9L1003.1 1573.4L1003.6 1584.1L1004.1 1585.0L1004.6 1579.0L1005.1 1574.8L1005.6 1573.0L1006.1 1592.3L1006.6 1580.5L1007.1 1560.7L1007.6 1585.4L1008.1 1574.9L1008.6 1581.6L1009.1 1585.1L1009.6 1584.3L1010.1 1579.7L1010.6 1595.5L1011.1 1574.1L1011.6 1583.3L1012.1 1574.0L1012.6 1587.6L1013.1 1573.9L1013.6 1586.4L1014.1 1588.7L1014.6 1578.7L1015.1 1580.1L1015.6 1571.5L1016.1 1580.6L1016.6 1585.8L1017.1 1587.4L1017.6 1585.0L1018.1 1578.9L1018.6 1573.3L1019.1 1585.1L1019.6 1588.0L1020.1 1584.7L1020.6 1584.9L1021.1 1582.0L1021.6 1589.7L1022.1 1584.8L1022.6 1589.1L1023.1 1573.1L1023.6 1573.6L1024.1 1571.0L1024.6 1586.6L1025.1 1582.7L1025.6 1572.0L1026.1 1568.1L1026.6 1574.9L1027.1 1575.8L1027.6 1573.4L1028.1 1578.8L1028.6 1583.8L1029.1 1589.3L1029.6 1583.8L1030.1 1588.4L1030.6 1582.5L1031.1 1586.8L1031.6 1588.1L1032.1 1589.1L1032.6 1583.2L1033.1 1580.1L1033.6 1585.1L1034.1 1584.1L1034.6 1571.8L1035.1 1562.2L1035.6 1575.9L1036.1 1582.6L1036.6 1576.8L1037.1 1579.8L1037.6 1586.5L1038.1 1580.1L1038.6 1587.0L1039.1 1576.5L1039.6 1587.2L1040.1 1580.9L1040.6 1580.8L1041.1 1593.9L1041.6 1589.1L1042.1 1586.1L1042.6 1582.6L1043.1 1578.8L1043.6 1578.8L1044.1 1586.4L1044.6 1581.5L1045.1 1573.1L1045.6 1586.8L1046.1 1580.0L1046.6 1585.8L1047.1 1586.4L1047.6 1581.0L1048.1 1568.8L1048.6 1568.0L1049.1 1578.7L1049.6 1583.1L1050.1 1575.8L1050.6 1587.6L1051.1 1578.6L1051.6 1581.1L1052.1 1583.8L1052.6 1585.9L1053.1 1583.6L1053.6 1582.1L1054.1 1568.4L1054.6 1565.0L1055.1 1577.9L1055.6 1585.5L1056.1 1587.1L1056.6 1573.7L1057.1 1577.6L1057.6 1574.4L1058.1 1577.3L1058.6 1585.2L1059.1 1584.4L1059.6 1592.1L1060.1 1583.7L1060.5 1588.7L1061.0 1589.2L1061.5 1583.8L1062.0 1579.6L1062.5 1566.9L1063.0 1566.5L1063.5 1574.8L1064.0 1583.6L1064.5 1583.5L1065.0 1589.8L1065.5 1583.1L1066.0 1587.1L1066.5 1587.1L1067.0 1588.1L1067.5 1590.1L1068.0 1585.5L1068.5 1589.9L1069.0 1587.8L1069.5 1585.8L1070.0 1592.1L1070.5 1588.7L1071.0 1582.9L1071.5 1589.1L1072.0 1583.0L1072.5 1592.9L1073.0 1582.5L1073.5 1589.9L1074.0 1585.1L1074.5 1580.2L1075.0 1586.9L1075.5 1581.8L1076.0 1576.5L1076.5 1584.0L1077.0 1587.0L1077.5 1590.9L1078.0 1588.0L1078.5 1583.0L1079.0 1592.6L1079.5 1583.0L1080.0 1583.2L1080.5 1585.9L1081.0 1583.5L1081.5 1579.3L1082.0 1586.8L1082.5 1595.4L1083.0 1578.2L1083.5 1595.7L1084.0 1590.8L1084.5 1589.4L1085.0 1585.7L1085.5 1587.7L1086.0 1592.2L1086.5 1584.6L1087.0 1591.4L1087.5 1586.4L1088.0 1595.4L1088.5 1583.5L1089.0 1587.8L1089.5 1592.7L1090.0 1583.6L1090.5 1590.8L1091.0 1587.2L1091.5 1589.0L1092.0 1587.9L1092.5 1585.0L1093.0 1586.6L1093.5 1591.2L1094.0 1585.1L1094.5 1591.9L1095.0 1585.1L1095.5 1584.0L1096.0 1593.6L1096.5 1590.3L1097.0 1589.1L1097.5 1587.0L1098.0 1582.6L1098.5 1584.1L1099.0 1594.4L1099.5 1591.2L1100.0 1581.8L1100.5 1580.9L1101.0 1573.2L1101.5 1585.5L1102.0 1586.4L1102.5 1579.2L1103.0 1585.8L1103.5 1591.2L1104.0 1580.6L1104.5 1584.7L1105.0 1583.8L1105.5 1581.6L1106.0 1591.9L1106.5 1586.9L1107.0 1586.0L1107.5 1586.6L1108.0 1577.8L1108.5 1580.3L1109.0 1580.5L1109.5 1577.3L1110.0 1568.3L1110.5 1569.8L1111.0 1577.9L1111.5 1583.2L1112.0 1584.5L1112.5 1583.5L1113.0 1581.5L1113.5 1590.4L1114.0 1586.3L1114.5 1582.1L1115.0 1587.5L1115.5 1586.7L1116.0 1586.6L1116.5 1591.0L1117.0 1583.1L1117.5 1585.5L1118.0 1580.0L1118.5 1585.6L1119.0 1583.2L1119.5 1585.1L1120.0 1582.4L1120.5 1582.4L1121.0 1590.8L1121.5 1586.7L1122.0 1577.9L1122.5 1584.6L1123.0 1581.3L1123.5 1591.3L1124.0 1582.2L1124.5 1591.1L1125.0 1572.2L1125.5 1590.8L1126.0 1594.2L1126.0 1597.8zM1206.7 1220.3L1206.7 1209.2L1207.2 1212.9L1207.7 1213.4L1208.2 1214.4L1208.7 1215.0L1209.2 1212.9L1209.7 1211.4L1210.2 1213.7L1210.7 1212.9L1211.2 1213.6L1211.7 1214.9L1212.2 1213.1L1212.7 1213.9L1213.2 1213.2L1213.7 1213.2L1214.2 1213.8L1214.7 1214.2L1215.2 1213.0L1215.7 1213.6L1216.2 1213.9L1216.7 1213.5L1217.2 1214.8L1217.7 1213.7L1218.2 1213.8L1218.7 1215.1L1219.2 1213.4L1219.7 1213.2L1220.2 1214.1L1220.7 1213.5L1221.2 1209.6L1221.7 1212.8L1222.2 1214.5L1222.7 1212.8L1223.2 1213.6L1223.7 1214.5L1224.2 1213.5L1224.7 1213.0L1225.2 1205.8L1225.7 1210.4L1226.2 1212.8L1226.7 1213.4L1227.2 1214.0L1227.7 1213.4L1228.2 1212.9L1228.7 1213.2L1229.2 1214.2L1229.7 1213.5L1230.2 1213.1L1230.7 1214.2L1231.2 1215.1L1231.7 1213.1L1232.2 1214.6L1232.7 1213.8L1233.2 1213.4L1233.7 1213.2L1234.2 1213.0L1234.7 1212.8L1235.2 1212.4L1235.7 1213.9L1236.2 1215.3L1236.7 1212.8L1237.2 1213.4L1237.7 1214.6L1238.2 1213.7L1238.7 1213.7L1239.2 1215.2L1239.7 1214.0L1240.2 1212.9L1240.7 1211.8L1241.2 1207.5L1241.7 1212.6L1242.2 1214.5L1242.7 1214.1L1243.2 1213.3L1243.7 1214.8L1244.2 1213.1L1244.7 1214.3L1245.2 1213.5L1245.7 1215.3L1246.2 1213.0L1246.7 1212.8L1247.2 1214.1L1247.7 1212.6L1248.2 1213.1L1248.7 1214.3L1249.2 1213.5L1249.7 1212.4L1250.2 1208.6L1250.7 1202.2L1251.2 1195.2L1251.7 1201.4L1252.2 1208.6L1252.7 1210.4L1253.2 1213.6L1253.7 1213.3L1254.2 1213.5L1254.7 1213.8L1255.2 1214.0L1255.7 1209.5L1256.2 1212.2L1256.7 1214.5L1257.2 1214.2L1257.7 1213.6L1258.2 1213.6L1258.7 1213.2L1259.2 1213.8L1259.7 1213.2L1260.2 1214.6L1260.7 1214.5L1261.2 1213.6L1261.7 1213.1L1262.2 1213.2L1262.7 1209.4L1263.2 1213.0L1263.7 1213.5L1264.2 1214.2L1264.7 1213.7L1265.2 1209.5L1265.7 1213.2L1266.2 1214.2L1266.7 1215.0L1267.2 1214.6L1267.7 1215.0L1268.2 1213.9L1268.7 1213.6L1269.2 1212.9L1269.7 1213.2L1270.2 1213.6L1270.7 1213.0L1271.2 1213.4L1271.7 1212.9L1272.2 1212.8L1272.7 1214.7L1273.1 1212.8L1273.6 1209.9L1274.1 1214.0L1274.6 1215.1L1275.1 1213.8L1275.6 1214.7L1276.1 1213.8L1276.6 1214.2L1277.1 1213.0L1277.6 1214.4L1278.1 1214.8L1278.6 1213.8L1279.1 1213.7L1279.6 1213.5L1280.1 1215.3L1280.6 1213.5L1281.1 1213.3L1281.6 1214.2L1282.1 1214.6L1282.6 1213.8L1283.1 1208.9L1283.6 1200.4L1284.1 1206.9L1284.6 1211.8L1285.1 1213.0L1285.6 1213.7L1286.1 1214.4L1286.6 1213.2L1287.1 1213.7L1287.6 1213.8L1288.1 1214.5L1288.6 1213.6L1289.1 1214.9L1289.6 1213.4L1290.1 1210.5L1290.6 1214.2L1291.1 1214.1L1291.6 1214.9L1292.1 1214.4L1292.6 1213.6L1293.1 1214.2L1293.6 1213.6L1294.1 1213.4L1294.6 1212.8L1295.1 1213.6L1295.6 1213.1L1296.1 1214.7L1296.6 1214.0L1297.1 1213.1L1297.6 1213.9L1298.1 1212.8L1298.6 1214.3L1299.1 1214.5L1299.6 1214.7L1300.1 1213.5L1300.6 1213.4L1301.1 1213.3L1301.6 1215.1L1302.1 1214.7L1302.6 1214.1L1303.1 1213.7L1303.6 1213.7L1304.1 1213.7L1304.6 1209.1L1305.1 1214.2L1305.6 1214.1L1306.1 1213.1L1306.6 1214.7L1307.1 1214.4L1307.6 1213.1L1308.1 1212.9L1308.6 1215.0L1309.1 1213.3L1309.6 1214.4L1310.1 1214.3L1310.6 1214.1L1311.1 1214.7L1311.6 1213.3L1312.1 1214.5L1312.6 1212.9L1313.1 1213.6L1313.6 1212.6L1314.1 1212.9L1314.6 1214.4L1315.1 1214.2L1315.6 1214.6L1316.1 1214.0L1316.6 1215.3L1317.1 1214.3L1317.6 1213.0L1318.1 1213.4L1318.6 1213.8L1319.1 1213.5L1319.6 1215.0L1320.1 1214.3L1320.6 1213.3L1321.1 1215.1L1321.6 1214.5L1322.1 1214.0L1322.6 1214.8L1323.1 1214.7L1323.6 1213.9L1324.1 1214.1L1324.6 1207.6L1325.1 1211.3L1325.6 1213.3L1326.1 1213.2L1326.6 1214.2L1327.1 1214.1L1327.6 1213.9L1328.1 1213.8L1328.6 1212.2L1329.1 1209.0L1329.6 1208.2L1330.1 1207.3L1330.6 1201.2L1331.1 1196.3L1331.6 1195.1L1332.1 1189.4L1332.6 1178.2L1333.1 1182.4L1333.6 1191.3L1334.1 1188.6L1334.6 1167.6L1335.1 1188.2L1335.6 1199.8L1336.1 1191.7L1336.6 1177.0L1337.1 1192.4L1337.6 1200.5L1338.1 1208.8L1338.6 1213.0L1339.1 1214.8L1339.6 1213.1L1340.1 1213.1L1340.6 1209.8L1341.1 1213.0L1341.6 1213.3L1342.1 1213.9L1342.6 1214.7L1343.1 1214.2L1343.6 1212.8L1344.1 1213.3L1344.6 1213.3L1345.1 1213.4L1345.6 1213.9L1346.1 1214.0L1346.6 1214.8L1347.1 1212.8L1347.6 1213.1L1348.1 1214.4L1348.6 1213.1L1349.1 1214.5L1349.6 1213.3L1350.1 1214.7L1350.6 1213.4L1351.1 1213.2L1351.6 1214.3L1352.1 1213.9L1352.6 1213.0L1353.1 1212.9L1353.6 1213.3L1354.1 1213.7L1354.6 1213.3L1355.1 1214.3L1355.6 1214.4L1356.1 1211.5L1356.6 1215.0L1357.1 1215.2L1357.6 1213.7L1358.1 1211.3L1358.6 1213.4L1359.1 1213.2L1359.6 1213.8L1360.1 1214.4L1360.6 1213.3L1361.1 1215.1L1361.6 1214.5L1362.1 1215.2L1362.6 1213.2L1363.1 1213.3L1363.6 1214.9L1364.1 1213.2L1364.6 1214.1L1365.1 1215.2L1365.6 1214.7L1366.1 1213.6L1366.6 1214.8L1367.1 1214.3L1367.6 1212.8L1368.1 1209.2L1368.6 1210.9L1369.1 1212.8L1369.6 1205.9L1370.1 1204.6L1370.6 1209.6L1371.1 1212.3L1371.6 1212.9L1372.1 1211.5L1372.6 1211.0L1373.1 1211.8L1373.6 1209.8L1374.1 1209.5L1374.6 1209.2L1375.1 1202.3L1375.6 1209.6L1376.1 1212.2L1376.6 1202.4L1377.1 1207.8L1377.6 1207.2L1378.1 1204.3L1378.6 1202.4L1379.1 1199.4L1379.6 1186.4L1380.1 1180.0L1380.6 1175.0L1381.1 1188.2L1381.6 1195.6L1382.1 1199.5L1382.6 1200.2L1383.1 1204.5L1383.6 1208.4L1384.1 1208.3L1384.6 1200.8L1385.1 1205.1L1385.6 1209.9L1386.1 1209.7L1386.6 1210.6L1387.1 1200.5L1387.6 1200.7L1388.1 1207.1L1388.6 1212.3L1389.1 1207.7L1389.6 1206.4L1390.1 1208.7L1390.6 1210.3L1391.1 1201.3L1391.6 1204.1L1392.1 1203.6L1392.6 1198.6L1393.1 1189.6L1393.6 1168.1L1394.1 1173.1L1394.6 1187.7L1395.1 1197.5L1395.6 1191.7L1396.1 1206.4L1396.6 1209.9L1397.1 1202.2L1397.6 1212.9L1398.1 1206.3L1398.6 1211.8L1399.1 1205.1L1399.6 1201.2L1400.1 1212.3L1400.6 1213.0L1401.1 1206.9L1401.6 1200.4L1402.1 1204.6L1402.6 1208.4L1403.1 1204.1L1403.6 1194.3L1404.1 1202.1L1404.6 1200.1L1405.1 1200.4L1405.6 1211.4L1406.0 1213.1L1406.5 1210.5L1407.0 1208.8L1407.5 1201.8L1408.0 1195.6L1408.5 1194.5L1409.0 1201.6L1409.5 1202.6L1410.0 1204.5L1410.5 1199.1L1411.0 1190.8L1411.5 1179.3L1412.0 1198.4L1412.5 1200.5L1413.0 1206.5L1413.5 1203.8L1414.0 1201.4L1414.5 1212.2L1415.0 1209.1L1415.5 1203.2L1416.0 1203.1L1416.5 1203.7L1417.0 1211.1L1417.5 1212.4L1418.0 1207.0L1418.5 1203.4L1419.0 1197.3L1419.5 1207.1L1420.0 1203.1L1420.5 1207.0L1421.0 1192.5L1421.5 1194.0L1422.0 1203.4L1422.5 1197.1L1423.0 1209.2L1423.5 1206.0L1424.0 1196.6L1424.5 1189.8L1425.0 1190.2L1425.5 1198.9L1426.0 1205.4L1426.5 1203.7L1427.0 1202.6L1427.5 1206.1L1428.0 1207.5L1428.5 1200.0L1429.0 1209.6L1429.5 1214.7L1430.0 1198.3L1430.5 1210.9L1431.0 1200.3L1431.5 1204.4L1432.0 1194.6L1432.5 1197.1L1433.0 1207.9L1433.5 1202.4L1434.0 1186.9L1434.5 1199.6L1435.0 1198.4L1435.5 1203.0L1436.0 1196.1L1436.5 1201.6L1437.0 1201.6L1437.5 1202.9L1438.0 1207.6L1438.5 1206.5L1439.0 1202.6L1439.5 1209.7L1440.0 1201.5L1440.5 1206.5L1441.0 1186.9L1441.5 1206.2L1442.0 1212.1L1442.5 1212.7L1443.0 1201.3L1443.5 1205.0L1444.0 1205.0L1444.5 1199.9L1445.0 1203.2L1445.5 1202.9L1446.0 1208.5L1446.5 1212.8L1447.0 1213.7L1447.5 1213.8L1448.0 1209.6L1448.5 1213.9L1449.0 1213.3L1449.5 1214.7L1450.0 1211.3L1450.5 1214.5L1451.0 1213.3L1451.5 1209.1L1452.0 1214.9L1452.5 1213.7L1453.0 1214.7L1453.5 1213.8L1454.0 1211.8L1454.5 1204.1L1455.0 1204.3L1455.5 1211.2L1456.0 1214.8L1456.5 1212.8L1457.0 1214.3L1457.5 1213.2L1458.0 1215.3L1458.5 1213.3L1459.0 1213.8L1459.5 1212.8L1460.0 1211.2L1460.5 1213.0L1461.0 1213.4L1461.5 1215.2L1462.0 1214.1L1462.5 1212.9L1463.0 1214.3L1463.5 1213.9L1464.0 1215.1L1464.5 1213.5L1465.0 1214.8L1465.5 1209.8L1466.0 1214.6L1466.5 1213.4L1467.0 1213.9L1467.5 1215.2L1468.0 1211.9L1468.5 1210.0L1469.0 1213.3L1469.5 1213.5L1470.0 1214.9L1470.5 1214.7L1471.0 1214.4L1471.5 1213.3L1472.0 1213.7L1472.0 1220.3zM1206.7 1346.8L1206.7 1340.7L1207.2 1339.6L1207.7 1339.5L1208.2 1340.9L1208.7 1340.0L1209.2 1340.1L1209.7 1339.5L1210.2 1340.3L1210.7 1341.5L1211.2 1341.1L1211.7 1339.3L1212.2 1339.8L1212.7 1340.6L1213.2 1339.6L1213.7 1339.6L1214.2 1339.5L1214.7 1340.4L1215.2 1341.7L1215.7 1340.1L1216.2 1339.9L1216.7 1340.0L1217.2 1340.6L1217.7 1339.5L1218.2 1340.0L1218.7 1340.0L1219.2 1339.3L1219.7 1339.7L1220.2 1341.5L1220.7 1341.6L1221.2 1337.0L1221.7 1340.5L1222.2 1340.9L1222.7 1340.6L1223.2 1340.2L1223.7 1340.2L1224.2 1340.7L1224.7 1339.4L1225.2 1341.2L1225.7 1340.7L1226.2 1341.5L1226.7 1341.1L1227.2 1340.6L1227.7 1339.7L1228.2 1340.4L1228.7 1340.4L1229.2 1340.6L1229.7 1340.2L1230.2 1340.4L1230.7 1341.1L1231.2 1340.9L1231.7 1339.6L1232.2 1339.7L1232.7 1339.8L1233.2 1340.9L1233.7 1341.0L1234.2 1341.2L1234.7 1339.9L1235.2 1340.2L1235.7 1339.4L1236.2 1339.8L1236.7 1340.7L1237.2 1340.2L1237.7 1340.4L1238.2 1339.9L1238.7 1339.7L1239.2 1340.4L1239.7 1339.5L1240.2 1340.8L1240.7 1339.8L1241.2 1340.4L1241.7 1335.7L1242.2 1332.7L1242.7 1327.6L1243.2 1336.4L1243.7 1336.9L1244.2 1330.0L1244.7 1329.6L1245.2 1338.3L1245.7 1341.3L1246.2 1341.1L1246.7 1339.8L1247.2 1340.7L1247.7 1332.5L1248.2 1336.6L1248.7 1339.7L1249.2 1341.3L1249.7 1340.2L1250.2 1339.6L1250.7 1337.6L1251.2 1331.9L1251.7 1320.1L1252.2 1325.5L1252.7 1332.9L1253.2 1337.7L1253.7 1339.4L1254.2 1341.2L1254.7 1339.3L1255.2 1337.7L1255.7 1330.5L1256.2 1336.2L1256.7 1339.1L1257.2 1339.8L1257.7 1339.5L1258.2 1339.9L1258.7 1339.5L1259.2 1341.0L1259.7 1340.2L1260.2 1339.7L1260.7 1340.0L1261.2 1339.5L1261.7 1339.7L1262.2 1340.9L1262.7 1339.4L1263.2 1339.7L1263.7 1340.1L1264.2 1339.9L1264.7 1340.1L1265.2 1340.2L1265.7 1339.3L1266.2 1339.6L1266.7 1340.8L1267.2 1341.1L1267.7 1340.3L1268.2 1339.3L1268.7 1340.3L1269.2 1340.5L1269.7 1340.4L1270.2 1340.9L1270.7 1341.2L1271.2 1341.2L1271.7 1339.4L1272.2 1341.0L1272.7 1340.8L1273.1 1339.4L1273.6 1340.2L1274.1 1341.6L1274.6 1340.8L1275.1 1339.9L1275.6 1339.8L1276.1 1340.0L1276.6 1339.5L1277.1 1340.5L1277.6 1339.9L1278.1 1340.9L1278.6 1340.0L1279.1 1340.0L1279.6 1340.0L1280.1 1340.6L1280.6 1340.9L1281.1 1339.3L1281.6 1340.5L1282.1 1339.5L1282.6 1340.1L1283.1 1334.7L1283.6 1326.9L1284.1 1333.3L1284.6 1338.2L1285.1 1339.8L1285.6 1341.8L1286.1 1340.5L1286.6 1339.3L1287.1 1337.8L1287.6 1333.1L1288.1 1336.0L1288.6 1341.3L1289.1 1339.6L1289.6 1340.4L1290.1 1340.8L1290.6 1340.3L1291.1 1340.6L1291.6 1341.5L1292.1 1341.6L1292.6 1339.6L1293.1 1339.7L1293.6 1340.1L1294.1 1339.8L1294.6 1339.3L1295.1 1341.6L1295.6 1341.3L1296.1 1341.0L1296.6 1339.6L1297.1 1340.6L1297.6 1339.4L1298.1 1339.6L1298.6 1340.3L1299.1 1339.4L1299.6 1340.3L1300.1 1339.8L1300.6 1340.6L1301.1 1339.7L1301.6 1339.7L1302.1 1341.4L1302.6 1339.8L1303.1 1341.7L1303.6 1335.6L1304.1 1339.3L1304.6 1340.3L1305.1 1339.5L1305.6 1341.8L1306.1 1341.1L1306.6 1341.0L1307.1 1339.9L1307.6 1340.1L1308.1 1339.0L1308.6 1337.2L1309.1 1341.1L1309.6 1339.9L1310.1 1341.1L1310.6 1341.7L1311.1 1340.2L1311.6 1341.6L1312.1 1340.9L1312.6 1339.4L1313.1 1341.4L1313.6 1340.9L1314.1 1340.4L1314.6 1341.5L1315.1 1341.1L1315.6 1340.3L1316.1 1339.4L1316.6 1339.5L1317.1 1340.8L1317.6 1339.3L1318.1 1339.4L1318.6 1340.3L1319.1 1341.8L1319.6 1340.7L1320.1 1339.7L1320.6 1341.1L1321.1 1339.4L1321.6 1339.7L1322.1 1339.3L1322.6 1341.4L1323.1 1340.8L1323.6 1340.0L1324.1 1341.8L1324.6 1340.8L1325.1 1341.2L1325.6 1340.1L1326.1 1339.9L1326.6 1340.4L1327.1 1340.6L1327.6 1339.4L1328.1 1338.9L1328.6 1338.7L1329.1 1336.3L1329.6 1333.4L1330.1 1331.9L1330.6 1328.3L1331.1 1320.6L1331.6 1315.3L1332.1 1306.2L1332.6 1298.9L1333.1 1303.7L1333.6 1311.3L1334.1 1308.0L1334.6 1272.7L1335.1 1301.0L1335.6 1317.5L1336.1 1313.6L1336.6 1295.2L1337.1 1313.8L1337.6 1322.1L1338.1 1332.1L1338.6 1336.7L1339.1 1341.5L1339.6 1339.9L1340.1 1339.5L1340.6 1339.8L1341.1 1340.4L1341.6 1339.9L1342.1 1339.1L1342.6 1339.7L1343.1 1339.5L1343.6 1340.6L1344.1 1339.4L1344.6 1340.0L1345.1 1340.6L1345.6 1339.6L1346.1 1341.7L1346.6 1341.0L1347.1 1341.1L1347.6 1339.5L1348.1 1341.8L1348.6 1341.4L1349.1 1339.8L1349.6 1341.2L1350.1 1340.2L1350.6 1338.9L1351.1 1338.0L1351.6 1339.9L1352.1 1340.5L1352.6 1339.3L1353.1 1339.7L1353.6 1339.4L1354.1 1340.9L1354.6 1340.4L1355.1 1340.1L1355.6 1338.2L1356.1 1339.5L1356.6 1341.7L1357.1 1339.9L1357.6 1340.0L1358.1 1340.3L1358.6 1339.6L1359.1 1340.5L1359.6 1340.0L1360.1 1340.1L1360.6 1339.8L1361.1 1341.0L1361.6 1339.4L1362.1 1340.2L1362.6 1340.4L1363.1 1340.3L1363.6 1341.0L1364.1 1339.7L1364.6 1340.8L1365.1 1339.9L1365.6 1340.2L1366.1 1341.8L1366.6 1332.3L1367.1 1339.9L1367.6 1335.6L1368.1 1340.2L1368.6 1338.6L1369.1 1336.0L1369.6 1335.3L1370.1 1334.2L1370.6 1340.3L1371.1 1330.4L1371.6 1332.4L1372.1 1336.3L1372.6 1334.7L1373.1 1341.8L1373.6 1334.6L1374.1 1336.5L1374.6 1325.4L1375.1 1333.7L1375.6 1337.9L1376.1 1336.3L1376.6 1332.2L1377.1 1337.9L1377.6 1324.4L1378.1 1332.5L1378.6 1324.9L1379.1 1322.3L1379.6 1309.2L1380.1 1314.9L1380.6 1321.8L1381.1 1302.2L1381.6 1307.3L1382.1 1324.0L1382.6 1322.1L1383.1 1332.7L1383.6 1326.4L1384.1 1334.2L1384.6 1322.4L1385.1 1337.2L1385.6 1324.2L1386.1 1326.9L1386.6 1326.6L1387.1 1329.8L1387.6 1324.3L1388.1 1327.8L1388.6 1334.2L1389.1 1328.5L1389.6 1324.4L1390.1 1329.6L1390.6 1330.7L1391.1 1331.9L1391.6 1322.8L1392.1 1323.8L1392.6 1323.5L1393.1 1309.9L1393.6 1292.0L1394.1 1297.2L1394.6 1318.5L1395.1 1321.5L1395.6 1332.3L1396.1 1336.8L1396.6 1336.7L1397.1 1334.4L1397.6 1337.6L1398.1 1325.4L1398.6 1325.3L1399.1 1331.6L1399.6 1326.9L1400.1 1322.3L1400.6 1338.0L1401.1 1336.1L1401.6 1329.2L1402.1 1333.1L1402.6 1333.2L1403.1 1324.0L1403.6 1311.8L1404.1 1326.4L1404.6 1333.4L1405.1 1337.6L1405.6 1323.8L1406.0 1330.3L1406.5 1326.6L1407.0 1325.1L1407.5 1325.1L1408.0 1316.3L1408.5 1315.0L1409.0 1311.2L1409.5 1325.9L1410.0 1333.3L1410.5 1326.0L1411.0 1320.4L1411.5 1301.9L1412.0 1315.7L1412.5 1329.6L1413.0 1322.0L1413.5 1334.7L1414.0 1323.9L1414.5 1337.6L1415.0 1319.8L1415.5 1337.0L1416.0 1322.4L1416.5 1330.5L1417.0 1326.4L1417.5 1336.4L1418.0 1335.0L1418.5 1329.7L1419.0 1339.4L1419.5 1322.0L1420.0 1322.2L1420.5 1330.7L1421.0 1325.4L1421.5 1335.6L1422.0 1327.4L1422.5 1323.4L1423.0 1331.1L1423.5 1322.3L1424.0 1322.2L1424.5 1318.4L1425.0 1318.8L1425.5 1322.8L1426.0 1318.1L1426.5 1308.0L1427.0 1326.2L1427.5 1335.5L1428.0 1333.8L1428.5 1334.5L1429.0 1330.8L1429.5 1333.4L1430.0 1336.4L1430.5 1323.3L1431.0 1323.6L1431.5 1336.3L1432.0 1325.3L1432.5 1316.7L1433.0 1319.8L1433.5 1323.1L1434.0 1334.8L1434.5 1321.6L1435.0 1331.2L1435.5 1328.2L1436.0 1328.0L1436.5 1316.6L1437.0 1332.9L1437.5 1335.5L1438.0 1322.4L1438.5 1312.5L1439.0 1324.4L1439.5 1325.0L1440.0 1325.5L1440.5 1332.8L1441.0 1331.6L1441.5 1321.6L1442.0 1337.0L1442.5 1330.2L1443.0 1324.6L1443.5 1338.1L1444.0 1325.5L1444.5 1328.7L1445.0 1322.3L1445.5 1327.0L1446.0 1336.6L1446.5 1340.4L1447.0 1340.1L1447.5 1341.1L1448.0 1341.6L1448.5 1339.8L1449.0 1339.7L1449.5 1341.0L1450.0 1340.6L1450.5 1340.6L1451.0 1339.3L1451.5 1340.1L1452.0 1339.9L1452.5 1341.1L1453.0 1340.0L1453.5 1339.5L1454.0 1337.1L1454.5 1329.0L1455.0 1329.2L1455.5 1336.1L1456.0 1340.1L1456.5 1340.7L1457.0 1340.1L1457.5 1340.1L1458.0 1339.8L1458.5 1340.7L1459.0 1339.4L1459.5 1339.5L1460.0 1340.7L1460.5 1340.4L1461.0 1340.4L1461.5 1341.0L1462.0 1340.9L1462.5 1340.7L1463.0 1341.2L1463.5 1341.1L1464.0 1339.9L1464.5 1340.2L1465.0 1340.4L1465.5 1339.9L1466.0 1339.6L1466.5 1341.2L1467.0 1340.2L1467.5 1341.0L1468.0 1336.8L1468.5 1340.5L1469.0 1340.5L1469.5 1339.7L1470.0 1339.7L1470.5 1340.9L1471.0 1340.4L1471.5 1339.9L1472.0 1341.3L1472.0 1346.8zM1206.7 1473.3L1206.7 1467.2L1207.2 1464.9L1207.7 1466.7L1208.2 1465.8L1208.7 1466.8L1209.2 1465.1L1209.7 1466.8L1210.2 1466.7L1210.7 1468.1L1211.2 1466.4L1211.7 1467.1L1212.2 1462.8L1212.7 1467.3L1213.2 1468.0L1213.7 1466.1L1214.2 1466.5L1214.7 1468.2L1215.2 1467.0L1215.7 1465.8L1216.2 1468.0L1216.7 1466.0L1217.2 1468.2L1217.7 1466.5L1218.2 1463.5L1218.7 1468.1L1219.2 1464.5L1219.7 1467.6L1220.2 1467.2L1220.7 1465.1L1221.2 1459.1L1221.7 1465.0L1222.2 1466.3L1222.7 1466.2L1223.2 1467.0L1223.7 1466.8L1224.2 1466.7L1224.7 1466.7L1225.2 1466.7L1225.7 1467.5L1226.2 1466.3L1226.7 1466.1L1227.2 1466.0L1227.7 1467.8L1228.2 1462.9L1228.7 1466.4L1229.2 1465.2L1229.7 1467.3L1230.2 1467.5L1230.7 1466.9L1231.2 1466.8L1231.7 1467.8L1232.2 1465.9L1232.7 1466.5L1233.2 1466.9L1233.7 1466.0L1234.2 1467.2L1234.7 1464.0L1235.2 1466.5L1235.7 1466.5L1236.2 1466.7L1236.7 1468.0L1237.2 1465.8L1237.7 1468.3L1238.2 1467.2L1238.7 1467.3L1239.2 1467.6L1239.7 1467.7L1240.2 1466.3L1240.7 1466.3L1241.2 1465.9L1241.7 1467.3L1242.2 1463.9L1242.7 1462.3L1243.2 1452.9L1243.7 1445.7L1244.2 1448.6L1244.7 1459.9L1245.2 1463.4L1245.7 1466.5L1246.2 1466.8L1246.7 1464.6L1247.2 1462.3L1247.7 1466.4L1248.2 1468.0L1248.7 1466.4L1249.2 1467.2L1249.7 1466.1L1250.2 1466.3L1250.7 1465.7L1251.2 1460.6L1251.7 1449.3L1252.2 1452.7L1252.7 1461.6L1253.2 1465.3L1253.7 1466.2L1254.2 1466.0L1254.7 1461.6L1255.2 1453.8L1255.7 1461.3L1256.2 1464.2L1256.7 1466.1L1257.2 1466.1L1257.7 1466.8L1258.2 1466.3L1258.7 1466.4L1259.2 1467.2L1259.7 1465.8L1260.2 1467.3L1260.7 1466.7L1261.2 1468.0L1261.7 1467.7L1262.2 1466.0L1262.7 1467.0L1263.2 1466.9L1263.7 1465.8L1264.2 1467.0L1264.7 1467.4L1265.2 1463.4L1265.7 1466.9L1266.2 1466.7L1266.7 1467.2L1267.2 1466.7L1267.7 1466.1L1268.2 1466.5L1268.7 1467.2L1269.2 1467.4L1269.7 1467.3L1270.2 1468.0L1270.7 1465.8L1271.2 1467.6L1271.7 1466.4L1272.2 1466.2L1272.7 1468.0L1273.1 1465.9L1273.6 1467.1L1274.1 1467.6L1274.6 1467.5L1275.1 1466.6L1275.6 1466.4L1276.1 1466.4L1276.6 1468.1L1277.1 1466.8L1277.6 1467.3L1278.1 1467.4L1278.6 1466.3L1279.1 1466.0L1279.6 1467.2L1280.1 1466.6L1280.6 1466.4L1281.1 1467.1L1281.6 1467.2L1282.1 1466.0L1282.6 1466.7L1283.1 1465.2L1283.6 1459.4L1284.1 1466.4L1284.6 1466.5L1285.1 1466.1L1285.6 1467.6L1286.1 1466.9L1286.6 1466.0L1287.1 1467.2L1287.6 1468.1L1288.1 1466.9L1288.6 1467.0L1289.1 1466.4L1289.6 1467.4L1290.1 1466.8L1290.6 1464.8L1291.1 1459.5L1291.6 1465.8L1292.1 1467.3L1292.6 1466.4L1293.1 1467.5L1293.6 1463.8L1294.1 1465.9L1294.6 1467.7L1295.1 1467.1L1295.6 1466.4L1296.1 1467.6L1296.6 1467.2L1297.1 1466.5L1297.6 1465.8L1298.1 1466.3L1298.6 1466.2L1299.1 1466.6L1299.6 1467.7L1300.1 1466.4L1300.6 1467.0L1301.1 1467.5L1301.6 1466.5L1302.1 1463.3L1302.6 1466.9L1303.1 1468.1L1303.6 1468.3L1304.1 1467.2L1304.6 1466.5L1305.1 1466.0L1305.6 1465.0L1306.1 1467.1L1306.6 1467.4L1307.1 1467.7L1307.6 1466.1L1308.1 1467.4L1308.6 1467.3L1309.1 1467.3L1309.6 1467.0L1310.1 1466.8L1310.6 1467.7L1311.1 1465.8L1311.6 1466.3L1312.1 1468.0L1312.6 1466.7L1313.1 1464.0L1313.6 1466.1L1314.1 1465.8L1314.6 1467.7L1315.1 1466.7L1315.6 1467.8L1316.1 1466.6L1316.6 1466.7L1317.1 1466.6L1317.6 1466.1L1318.1 1465.9L1318.6 1467.1L1319.1 1468.1L1319.6 1466.0L1320.1 1466.7L1320.6 1467.4L1321.1 1467.4L1321.6 1467.4L1322.1 1466.5L1322.6 1467.8L1323.1 1467.9L1323.6 1466.3L1324.1 1466.4L1324.6 1464.9L1325.1 1467.0L1325.6 1466.0L1326.1 1468.2L1326.6 1465.9L1327.1 1466.0L1327.6 1465.5L1328.1 1463.2L1328.6 1461.3L1329.1 1461.1L1329.6 1456.0L1330.1 1452.1L1330.6 1453.8L1331.1 1444.4L1331.6 1436.2L1332.1 1432.6L1332.6 1419.7L1333.1 1425.1L1333.6 1438.6L1334.1 1419.2L1334.6 1397.2L1335.1 1429.7L1335.6 1445.5L1336.1 1446.8L1336.6 1421.7L1337.1 1433.3L1337.6 1450.6L1338.1 1458.6L1338.6 1463.3L1339.1 1466.3L1339.6 1465.8L1340.1 1467.0L1340.6 1466.4L1341.1 1466.8L1341.6 1465.8L1342.1 1463.0L1342.6 1466.9L1343.1 1463.1L1343.6 1467.5L1344.1 1466.3L1344.6 1468.1L1345.1 1466.2L1345.6 1466.1L1346.1 1468.0L1346.6 1467.2L1347.1 1465.9L1347.6 1467.8L1348.1 1467.4L1348.6 1466.8L1349.1 1466.1L1349.6 1466.9L1350.1 1466.8L1350.6 1466.9L1351.1 1467.9L1351.6 1467.1L1352.1 1467.1L1352.6 1467.8L1353.1 1467.3L1353.6 1467.7L1354.1 1465.3L1354.6 1466.5L1355.1 1463.6L1355.6 1467.9L1356.1 1468.0L1356.6 1465.9L1357.1 1467.8L1357.6 1465.9L1358.1 1467.8L1358.6 1465.9L1359.1 1467.1L1359.6 1466.1L1360.1 1466.8L1360.6 1467.4L1361.1 1467.6L1361.6 1465.8L1362.1 1466.2L1362.6 1466.0L1363.1 1466.8L1363.6 1466.5L1364.1 1464.7L1364.6 1465.9L1365.1 1462.5L1365.6 1465.9L1366.1 1466.0L1366.6 1462.5L1367.1 1467.9L1367.6 1459.7L1368.1 1465.1L1368.6 1466.8L1369.1 1462.8L1369.6 1465.5L1370.1 1466.4L1370.6 1466.5L1371.1 1466.9L1371.6 1455.2L1372.1 1464.6L1372.6 1463.2L1373.1 1465.9L1373.6 1462.4L1374.1 1466.8L1374.6 1464.5L1375.1 1458.0L1375.6 1455.3L1376.1 1466.0L1376.6 1463.0L1377.1 1466.2L1377.6 1453.4L1378.1 1461.5L1378.6 1459.2L1379.1 1452.3L1379.6 1443.9L1380.1 1438.5L1380.6 1426.0L1381.1 1438.4L1381.6 1447.3L1382.1 1455.7L1382.6 1459.1L1383.1 1461.8L1383.6 1463.9L1384.1 1466.0L1384.6 1463.8L1385.1 1457.3L1385.6 1454.4L1386.1 1457.0L1386.6 1456.9L1387.1 1461.2L1387.6 1447.5L1388.1 1454.3L1388.6 1465.4L1389.1 1458.8L1389.6 1455.0L1390.1 1460.6L1390.6 1464.7L1391.1 1454.0L1391.6 1454.7L1392.1 1441.5L1392.6 1427.9L1393.1 1439.0L1393.6 1406.5L1394.1 1430.4L1394.6 1449.2L1395.1 1458.6L1395.6 1462.4L1396.1 1453.5L1396.6 1463.9L1397.1 1459.9L1397.6 1452.8L1398.1 1458.9L1398.6 1452.8L1399.1 1458.7L1399.6 1460.3L1400.1 1464.2L1400.6 1458.5L1401.1 1460.4L1401.6 1455.6L1402.1 1455.7L1402.6 1456.6L1403.1 1458.2L1403.6 1457.6L1404.1 1451.0L1404.6 1448.1L1405.1 1457.8L1405.6 1446.2L1406.0 1464.6L1406.5 1463.1L1407.0 1461.1L1407.5 1456.3L1408.0 1451.3L1408.5 1445.9L1409.0 1446.5L1409.5 1430.3L1410.0 1435.3L1410.5 1448.6L1411.0 1453.0L1411.5 1453.3L1412.0 1457.5L1412.5 1457.3L1413.0 1457.7L1413.5 1464.9L1414.0 1454.5L1414.5 1452.5L1415.0 1452.1L1415.5 1457.7L1416.0 1464.6L1416.5 1455.0L1417.0 1453.0L1417.5 1452.1L1418.0 1464.4L1418.5 1466.2L1419.0 1453.7L1419.5 1462.2L1420.0 1455.4L1420.5 1457.7L1421.0 1462.6L1421.5 1456.0L1422.0 1458.6L1422.5 1458.7L1423.0 1460.5L1423.5 1457.0L1424.0 1458.9L1424.5 1452.3L1425.0 1449.5L1425.5 1437.1L1426.0 1443.6L1426.5 1451.7L1427.0 1452.8L1427.5 1460.9L1428.0 1458.8L1428.5 1462.9L1429.0 1457.3L1429.5 1461.0L1430.0 1449.7L1430.5 1460.7L1431.0 1457.2L1431.5 1460.2L1432.0 1463.4L1432.5 1453.3L1433.0 1459.8L1433.5 1444.4L1434.0 1459.1L1434.5 1461.2L1435.0 1461.4L1435.5 1462.9L1436.0 1454.3L1436.5 1442.2L1437.0 1453.2L1437.5 1455.9L1438.0 1462.7L1438.5 1461.4L1439.0 1466.0L1439.5 1456.5L1440.0 1452.0L1440.5 1459.8L1441.0 1455.7L1441.5 1458.3L1442.0 1453.6L1442.5 1454.8L1443.0 1460.5L1443.5 1448.2L1444.0 1460.6L1444.5 1455.8L1445.0 1462.9L1445.5 1455.1L1446.0 1464.3L1446.5 1465.3L1447.0 1468.1L1447.5 1467.0L1448.0 1466.0L1448.5 1466.9L1449.0 1467.3L1449.5 1464.8L1450.0 1466.8L1450.5 1467.4L1451.0 1467.8L1451.5 1468.2L1452.0 1466.6L1452.5 1466.6L1453.0 1466.9L1453.5 1466.3L1454.0 1464.4L1454.5 1454.3L1455.0 1459.1L1455.5 1463.8L1456.0 1466.8L1456.5 1462.1L1457.0 1466.0L1457.5 1467.5L1458.0 1466.0L1458.5 1466.9L1459.0 1466.7L1459.5 1466.6L1460.0 1465.9L1460.5 1465.9L1461.0 1467.6L1461.5 1465.8L1462.0 1467.3L1462.5 1466.1L1463.0 1466.3L1463.5 1466.2L1464.0 1466.0L1464.5 1467.0L1465.0 1465.0L1465.5 1466.1L1466.0 1466.5L1466.5 1466.3L1467.0 1466.3L1467.5 1462.5L1468.0 1467.9L1468.5 1462.3L1469.0 1463.0L1469.5 1465.9L1470.0 1467.2L1470.5 1467.7L1471.0 1466.9L1471.5 1466.5L1472.0 1465.8L1472.0 1473.3zM1206.7 1599.3L1206.7 1591.4L1207.2 1590.1L1207.7 1590.6L1208.2 1592.3L1208.7 1589.1L1209.2 1590.3L1209.7 1589.2L1210.2 1591.0L1210.7 1589.4L1211.2 1591.6L1211.7 1590.0L1212.2 1592.2L1212.7 1591.2L1213.2 1591.6L1213.7 1592.3L1214.2 1590.9L1214.7 1591.7L1215.2 1588.8L1215.7 1592.0L1216.2 1588.9L1216.7 1591.7L1217.2 1590.5L1217.7 1589.8L1218.2 1588.8L1218.7 1589.4L1219.2 1587.2L1219.7 1591.3L1220.2 1584.9L1220.7 1582.3L1221.2 1564.5L1221.7 1577.7L1222.2 1581.9L1222.7 1589.1L1223.2 1588.9L1223.7 1588.1L1224.2 1582.0L1224.7 1582.7L1225.2 1572.4L1225.7 1582.8L1226.2 1588.6L1226.7 1577.3L1227.2 1583.7L1227.7 1585.7L1228.2 1583.5L1228.7 1588.0L1229.2 1589.5L1229.7 1582.6L1230.2 1586.3L1230.7 1581.8L1231.2 1585.9L1231.7 1576.8L1232.2 1583.7L1232.7 1582.1L1233.2 1574.2L1233.7 1584.5L1234.2 1589.4L1234.7 1582.8L1235.2 1591.0L1235.7 1587.0L1236.2 1592.0L1236.7 1585.0L1237.2 1581.9L1237.7 1587.1L1238.2 1591.9L1238.7 1587.3L1239.2 1576.5L1239.7 1585.9L1240.2 1591.0L1240.7 1589.4L1241.2 1583.9L1241.7 1584.2L1242.2 1577.6L1242.7 1578.6L1243.2 1564.7L1243.7 1555.2L1244.2 1558.5L1244.7 1571.3L1245.2 1574.0L1245.7 1582.3L1246.2 1583.7L1246.7 1584.8L1247.2 1582.9L1247.7 1583.4L1248.2 1586.2L1248.7 1587.0L1249.2 1581.8L1249.7 1589.1L1250.2 1587.0L1250.7 1584.7L1251.2 1579.1L1251.7 1564.7L1252.2 1576.6L1252.7 1583.3L1253.2 1586.5L1253.7 1590.9L1254.2 1588.3L1254.7 1580.1L1255.2 1572.0L1255.7 1581.1L1256.2 1585.2L1256.7 1588.7L1257.2 1589.8L1257.7 1582.9L1258.2 1590.6L1258.7 1582.5L1259.2 1584.3L1259.7 1589.3L1260.2 1589.9L1260.7 1587.0L1261.2 1589.4L1261.7 1589.9L1262.2 1587.0L1262.7 1592.2L1263.2 1588.4L1263.7 1589.6L1264.2 1589.3L1264.7 1589.5L1265.2 1587.3L1265.7 1590.6L1266.2 1590.8L1266.7 1591.2L1267.2 1589.9L1267.7 1590.8L1268.2 1591.8L1268.7 1590.6L1269.2 1587.1L1269.7 1590.6L1270.2 1590.0L1270.7 1588.1L1271.2 1591.8L1271.7 1589.7L1272.2 1589.3L1272.7 1591.4L1273.1 1590.3L1273.6 1584.7L1274.1 1590.8L1274.6 1591.0L1275.1 1589.2L1275.6 1588.8L1276.1 1590.9L1276.6 1586.8L1277.1 1590.6L1277.6 1589.9L1278.1 1589.6L1278.6 1590.3L1279.1 1588.3L1279.6 1588.1L1280.1 1591.5L1280.6 1588.9L1281.1 1589.0L1281.6 1591.0L1282.1 1588.1L1282.6 1590.1L1283.1 1590.6L1283.6 1590.3L1284.1 1591.2L1284.6 1592.1L1285.1 1591.0L1285.6 1591.1L1286.1 1589.1L1286.6 1588.8L1287.1 1587.7L1287.6 1579.7L1288.1 1588.3L1288.6 1591.2L1289.1 1580.8L1289.6 1587.2L1290.1 1583.9L1290.6 1587.9L1291.1 1590.0L1291.6 1588.2L1292.1 1587.7L1292.6 1587.5L1293.1 1592.1L1293.6 1590.1L1294.1 1590.7L1294.6 1590.5L1295.1 1590.1L1295.6 1590.7L1296.1 1590.7L1296.6 1588.3L1297.1 1590.7L1297.6 1588.9L1298.1 1589.7L1298.6 1586.9L1299.1 1584.9L1299.6 1587.7L1300.1 1590.2L1300.6 1589.1L1301.1 1590.5L1301.6 1589.3L1302.1 1590.4L1302.6 1586.8L1303.1 1588.2L1303.6 1591.6L1304.1 1588.8L1304.6 1587.5L1305.1 1586.9L1305.6 1588.7L1306.1 1587.2L1306.6 1589.3L1307.1 1590.8L1307.6 1591.8L1308.1 1591.7L1308.6 1590.7L1309.1 1587.3L1309.6 1591.0L1310.1 1587.7L1310.6 1589.9L1311.1 1590.0L1311.6 1586.4L1312.1 1591.0L1312.6 1591.8L1313.1 1589.3L1313.6 1591.7L1314.1 1590.2L1314.6 1592.1L1315.1 1590.6L1315.6 1590.2L1316.1 1589.4L1316.6 1591.7L1317.1 1588.5L1317.6 1591.9L1318.1 1590.7L1318.6 1587.3L1319.1 1591.2L1319.6 1589.6L1320.1 1590.5L1320.6 1590.2L1321.1 1587.2L1321.6 1589.1L1322.1 1587.4L1322.6 1592.2L1323.1 1587.0L1323.6 1591.2L1324.1 1589.5L1324.6 1589.4L1325.1 1589.9L1325.6 1592.2L1326.1 1591.5L1326.6 1588.0L1327.1 1589.2L1327.6 1589.6L1328.1 1587.0L1328.6 1589.5L1329.1 1584.8L1329.6 1580.4L1330.1 1576.3L1330.6 1564.8L1331.1 1564.6L1331.6 1577.9L1332.1 1576.4L1332.6 1575.1L1333.1 1565.6L1333.6 1557.9L1334.1 1551.4L1334.6 1559.8L1335.1 1574.2L1335.6 1574.5L1336.1 1581.9L1336.6 1578.0L1337.1 1563.4L1337.6 1573.8L1338.1 1583.3L1338.6 1586.9L1339.1 1585.8L1339.6 1592.1L1340.1 1590.2L1340.6 1591.2L1341.1 1589.6L1341.6 1589.3L1342.1 1590.8L1342.6 1584.0L1343.1 1592.2L1343.6 1589.2L1344.1 1589.6L1344.6 1589.0L1345.1 1587.5L1345.6 1591.1L1346.1 1591.8L1346.6 1588.4L1347.1 1584.8L1347.6 1591.3L1348.1 1589.1L1348.6 1591.3L1349.1 1590.3L1349.6 1589.2L1350.1 1588.3L1350.6 1589.0L1351.1 1588.4L1351.6 1589.5L1352.1 1590.1L1352.6 1589.4L1353.1 1591.9L1353.6 1589.5L1354.1 1590.5L1354.6 1591.8L1355.1 1588.6L1355.6 1585.2L1356.1 1590.8L1356.6 1589.6L1357.1 1589.7L1357.6 1591.2L1358.1 1590.3L1358.6 1590.6L1359.1 1585.5L1359.6 1589.0L1360.1 1590.7L1360.6 1588.5L1361.1 1590.2L1361.6 1591.2L1362.1 1591.1L1362.6 1589.5L1363.1 1591.4L1363.6 1589.2L1364.1 1591.6L1364.6 1583.8L1365.1 1590.9L1365.6 1589.8L1366.1 1590.0L1366.6 1590.7L1367.1 1589.4L1367.6 1589.4L1368.1 1589.3L1368.6 1592.1L1369.1 1591.6L1369.6 1588.1L1370.1 1588.5L1370.6 1592.2L1371.1 1589.9L1371.6 1588.3L1372.1 1589.3L1372.6 1591.2L1373.1 1590.7L1373.6 1588.9L1374.1 1568.5L1374.6 1575.0L1375.1 1582.1L1375.6 1569.6L1376.1 1573.1L1376.6 1573.7L1377.1 1575.0L1377.6 1575.9L1378.1 1567.3L1378.6 1550.8L1379.1 1565.3L1379.6 1573.9L1380.1 1569.7L1380.6 1549.7L1381.1 1567.8L1381.6 1579.5L1382.1 1577.9L1382.6 1568.4L1383.1 1570.1L1383.6 1575.0L1384.1 1568.5L1384.6 1570.7L1385.1 1585.7L1385.6 1573.7L1386.1 1578.5L1386.6 1560.3L1387.1 1549.6L1387.6 1568.8L1388.1 1580.9L1388.6 1588.5L1389.1 1558.5L1389.6 1585.6L1390.1 1574.2L1390.6 1574.9L1391.1 1578.2L1391.6 1564.0L1392.1 1557.1L1392.6 1580.7L1393.1 1575.1L1393.6 1554.5L1394.1 1561.9L1394.6 1574.3L1395.1 1568.2L1395.6 1560.9L1396.1 1570.7L1396.6 1569.7L1397.1 1573.7L1397.6 1566.0L1398.1 1560.2L1398.6 1586.1L1399.1 1565.0L1399.6 1588.9L1400.1 1580.9L1400.6 1578.8L1401.1 1575.2L1401.6 1588.2L1402.1 1586.7L1402.6 1566.4L1403.1 1585.7L1403.6 1568.6L1404.1 1577.3L1404.6 1568.3L1405.1 1568.8L1405.6 1583.9L1406.0 1583.2L1406.5 1573.7L1407.0 1581.1L1407.5 1574.1L1408.0 1564.7L1408.5 1563.2L1409.0 1577.7L1409.5 1573.7L1410.0 1585.2L1410.5 1581.5L1411.0 1565.9L1411.5 1541.6L1412.0 1570.3L1412.5 1578.7L1413.0 1568.7L1413.5 1570.8L1414.0 1568.1L1414.5 1575.8L1415.0 1572.6L1415.5 1584.5L1416.0 1570.0L1416.5 1572.2L1417.0 1580.6L1417.5 1584.7L1418.0 1585.8L1418.5 1578.1L1419.0 1583.1L1419.5 1570.1L1420.0 1572.6L1420.5 1573.2L1421.0 1578.0L1421.5 1569.7L1422.0 1581.2L1422.5 1581.2L1423.0 1573.5L1423.5 1579.3L1424.0 1570.5L1424.5 1559.5L1425.0 1560.0L1425.5 1577.1L1426.0 1583.7L1426.5 1573.5L1427.0 1585.1L1427.5 1574.0L1428.0 1584.9L1428.5 1583.1L1429.0 1587.1L1429.5 1582.5L1430.0 1571.9L1430.5 1586.6L1431.0 1569.2L1431.5 1572.3L1432.0 1568.3L1432.5 1573.3L1433.0 1574.2L1433.5 1582.8L1434.0 1576.3L1434.5 1590.1L1435.0 1570.1L1435.5 1577.6L1436.0 1569.3L1436.5 1578.4L1437.0 1573.8L1437.5 1572.9L1438.0 1561.6L1438.5 1579.0L1439.0 1569.5L1439.5 1583.6L1440.0 1586.1L1440.5 1587.5L1441.0 1587.5L1441.5 1573.4L1442.0 1572.7L1442.5 1576.1L1443.0 1589.7L1443.5 1579.4L1444.0 1569.8L1444.5 1579.9L1445.0 1583.6L1445.5 1573.4L1446.0 1584.3L1446.5 1589.0L1447.0 1590.2L1447.5 1588.9L1448.0 1588.8L1448.5 1585.4L1449.0 1589.6L1449.5 1591.4L1450.0 1589.0L1450.5 1592.2L1451.0 1588.9L1451.5 1589.1L1452.0 1589.4L1452.5 1592.1L1453.0 1584.9L1453.5 1588.8L1454.0 1582.8L1454.5 1572.1L1455.0 1572.4L1455.5 1583.2L1456.0 1589.2L1456.5 1587.8L1457.0 1590.1L1457.5 1591.4L1458.0 1588.8L1458.5 1590.1L1459.0 1592.2L1459.5 1590.7L1460.0 1589.2L1460.5 1592.2L1461.0 1591.0L1461.5 1591.8L1462.0 1590.8L1462.5 1587.6L1463.0 1588.0L1463.5 1589.0L1464.0 1588.1L1464.5 1591.7L1465.0 1588.5L1465.5 1590.1L1466.0 1591.3L1466.5 1591.0L1467.0 1590.8L1467.5 1589.3L1468.0 1591.3L1468.5 1589.3L1469.0 1590.0L1469.5 1591.7L1470.0 1589.9L1470.5 1591.4L1471.0 1589.2L1471.5 1588.5L1472.0 1592.1L1472.0 1599.3z" fill="#666"/>
<path d="M598.2 1141.2A19.7 9.7 0 0 1 637.6 1141.2M646.7 1141.2A26.3 13.9 0 0 1 699.3 1141.2M598.2 1267.5A22.9 12.1 0 0 1 644.0 1267.5M646.7 1267.5A26.3 13.6 0 0 1 699.3 1267.5M598.2 1398.5A18.2 9.4 0 0 1 634.6 1398.5M640.7 1398.5A37.2 19.7 0 0 1 715.2 1398.5M647.0 1398.5A58.4 30.3 0 0 1 763.8 1398.5M598.2 1523.3A19.7 10.3 0 0 1 637.6 1523.3" fill="none" stroke="#4d9ff6" stroke-width="2.2" transform="translate(0 1)"/>
<path d="M959.3 1276.6A56.1 38.4 0 0 1 1071.5 1276.6M959.3 1403.4A56.1 38.5 0 0 1 1071.5 1403.4M959.3 1403.4A52.5 38.5 0 0 1 1064.3 1403.4M959.3 1529.6A56.1 38.6 0 0 1 1071.5 1529.6M959.3 1529.6A52.5 38.6 0 0 1 1064.3 1529.6" fill="none" stroke="#fa8ba1" stroke-width="2.4" transform="translate(0 0.8)"/>
<path d="M1329.8 1153.0A25.8 23.0 0 0 1 1381.3 1153.0M1329.8 1153.0A4.2 3.3 0 0 1 1338.2 1153.0M1329.8 1266.7A20.6 18.9 0 0 1 1371.1 1266.7M1333.2 1266.7A24.0 22.7 0 0 1 1381.3 1266.7M1337.8 1266.7A25.0 24.2 0 0 1 1387.8 1266.7M1329.8 1266.7A4.2 3.7 0 0 1 1338.2 1266.7M1265.3 1395.5A34.8 26.5 0 0 1 1334.8 1395.5M1288.0 1395.5A23.4 18.2 0 0 1 1334.8 1395.5M1334.8 1395.5A18.1 14.5 0 0 1 1371.1 1395.5M1334.8 1395.5A38.1 27.6 0 0 1 1410.9 1395.5M1329.8 1395.5A4.4 7.5 0 0 1 1338.5 1395.5M1283.5 1534.2A43.5 31.9 0 0 1 1370.4 1534.2M1290.8 1534.2A22.5 17.5 0 0 1 1335.8 1534.2M1332.5 1534.2A31.0 23.2 0 0 1 1394.6 1534.2M1336.3 1534.2A23.0 17.0 0 0 1 1382.2 1534.2M1329.8 1534.2A4.4 7.2 0 0 1 1338.5 1534.2" fill="none" stroke="#fba23b" stroke-width="2.4" transform="translate(0 0.5)"/>
<path d="M544.7 1643.7H583.7M633.2 1643.7H653.6M701.0 1643.7H710.0M883.2 1643.7H986.6M1076.6 1643.7H1098.3M1210.5 1643.7H1213.0M1232.7 1643.7H1256.7M1330.5 1643.7H1339.6M1377.7 1643.7H1398.7M1406.2 1643.7H1417.0M1431.0 1643.7H1445.0M1453.5 1643.7H1470.7" fill="none" stroke="#0000be" stroke-width="2"/>
<path d="M544.7 1638.7V1648.7M549.0 1639.1000000000001V1648.3M555.6 1638.7V1648.7M561.1 1639.1000000000001V1648.3M569.8 1639.1000000000001V1648.3M580.8 1639.7V1647.7M633.2 1639.1000000000001V1648.3M638.2 1638.7V1648.7M644.4 1639.7V1647.7M701.0 1638.7V1648.7M708.3 1639.1000000000001V1648.3M883.2 1638.7V1648.7M887.4 1638.7V1648.7M892.9 1639.1000000000001V1648.3M898.1 1639.7V1647.7M904.6 1639.1000000000001V1648.3M909.4 1639.1000000000001V1648.3M914.2 1639.1000000000001V1648.3M919.8 1638.7V1648.7M925.6 1639.1000000000001V1648.3M930.6 1639.7V1647.7M938.7 1639.1000000000001V1648.3M944.8 1638.7V1648.7M950.6 1638.7V1648.7M962.8 1639.7V1647.7M968.7 1639.1000000000001V1648.3M974.2 1639.1000000000001V1648.3M978.3 1638.7V1648.7M1030.2 1639.1000000000001V1648.3M1076.6 1639.7V1647.7M1082.2 1639.1000000000001V1648.3M1088.9 1639.1000000000001V1648.3M1095.5 1639.1000000000001V1648.3M1232.7 1639.7V1647.7M1235.3 1638.7V1648.7M1238.6 1639.7V1647.7M1247.9 1638.7V1648.7M1251.0 1639.1000000000001V1648.3M1254.0 1639.1000000000001V1648.3M1330.5 1639.1000000000001V1648.3M1333.4 1639.1000000000001V1648.3M1377.7 1639.1000000000001V1648.3M1380.1 1639.1000000000001V1648.3M1412.7 1639.1000000000001V1648.3M1440.6 1639.1000000000001V1648.3M1443.9 1638.7V1648.7M1453.5 1639.1000000000001V1648.3M1456.6 1638.7V1648.7M1459.7 1639.1000000000001V1648.3M1463.7 1639.1000000000001V1648.3" fill="none" stroke="#1010c4" stroke-width="1.1"/>
<path d="M564.9 1638.7h2.6v10h-2.6zM572.1 1639.1000000000001h2.6v9.2h-2.6zM648.1 1638.7h2.6v10h-2.6zM933.0 1638.7h2.6v10h-2.6zM954.7 1639.1000000000001h2.6v9.2h-2.6zM980.6 1639.7h2.6v8h-2.6zM1209.3 1639.1000000000001h2.6v9.2h-2.6zM1220.1 1639.7h2.6v8h-2.6zM1240.5 1639.1000000000001h2.6v9.2h-2.6zM1243.8 1639.1000000000001h2.6v9.2h-2.6zM1255.4 1638.7h2.6v10h-2.6zM1286.6 1639.7h2.6v8h-2.6zM1293.1 1639.1000000000001h2.6v9.2h-2.6zM1335.8 1639.1000000000001h2.6v9.2h-2.6zM1382.7 1638.7h2.6v10h-2.6zM1386.0 1639.7h2.6v8h-2.6zM1388.6 1639.1000000000001h2.6v9.2h-2.6zM1391.6 1638.7h2.6v10h-2.6zM1395.2 1639.1000000000001h2.6v9.2h-2.6zM1405.0 1639.7h2.6v8h-2.6zM1407.6 1639.1000000000001h2.6v9.2h-2.6zM1415.3 1638.7h2.6v10h-2.6zM1419.0 1639.1000000000001h2.6v9.2h-2.6zM1429.8 1638.7h2.6v10h-2.6zM1432.5 1639.1000000000001h2.6v9.2h-2.6zM1436.7 1639.7h2.6v8h-2.6zM1449.3 1639.7h2.6v8h-2.6zM1465.3 1639.1000000000001h2.6v9.2h-2.6zM1469.0 1639.1000000000001h2.6v9.2h-2.6z" fill="#0000be"/>
<text x="642.3" y="1694.0" font-size="34.4" text-anchor="middle" font-style="italic">Ets1</text>
<text x="963.0" y="1694.0" font-size="34.4" text-anchor="middle" font-style="italic">Cebpg</text>
<text x="1336.0" y="1694.0" font-size="34.4" text-anchor="middle" font-style="italic">Meis1</text>
<text x="1551.5" y="949.0" font-size="62.5" font-weight="bold">f</text>
<text transform="translate(1590.5 1298.0) rotate(-90)" font-size="34.4" text-anchor="middle" font-weight="bold">Relative gene expression</text>
<path d="M1725.2 968.7C1725.5 970.2 1725.6 974.4 1726.7 978.0C1727.8 981.6 1729.7 985.7 1732.1 990.2C1734.5 994.7 1738.7 1000.4 1740.9 1004.9C1743.1 1009.4 1744.7 1013.5 1745.6 1017.2C1746.5 1020.8 1746.4 1022.9 1746.3 1027.0C1746.2 1031.0 1745.9 1035.1 1745.1 1041.6C1744.3 1048.2 1742.7 1058.0 1741.4 1066.1C1740.0 1074.3 1738.4 1083.3 1737.0 1090.6C1735.6 1098.0 1734.0 1105.0 1732.8 1110.2C1731.6 1115.4 1730.2 1119.8 1729.6 1121.7L1714.0 1121.7C1713.4 1119.8 1712.0 1115.4 1710.8 1110.2C1709.6 1105.0 1708.0 1098.0 1706.6 1090.6C1705.2 1083.3 1703.6 1074.3 1702.2 1066.1C1700.9 1058.0 1699.3 1048.2 1698.5 1041.6C1697.7 1035.1 1697.4 1031.0 1697.3 1027.0C1697.2 1022.9 1697.1 1020.8 1698.0 1017.2C1698.9 1013.5 1700.5 1009.4 1702.7 1004.9C1704.9 1000.4 1709.1 994.7 1711.5 990.2C1713.9 985.7 1715.8 981.6 1716.9 978.0C1718.0 974.4 1718.1 970.2 1718.4 968.7z" fill="#66b8ff" stroke="#000" stroke-width="2.1" stroke-linejoin="round"/>
<path d="M1721.8 968.7V1121.7" stroke="#000" stroke-width="1.7"/>
<path d="M1721.8 1021.1V1072.0" stroke="#000" stroke-width="7" stroke-linecap="round"/>
<ellipse cx="1721.8" cy="1044.6" rx="3.2" ry="2.6" fill="#fff"/>
<path d="M1791.6 1006.9C1792.0 1008.6 1792.6 1013.0 1794.0 1017.2C1795.5 1021.3 1797.9 1026.1 1800.2 1031.8C1802.4 1037.6 1805.7 1045.3 1807.5 1051.4C1809.3 1057.6 1810.3 1064.1 1810.9 1068.6C1811.6 1073.1 1811.5 1074.3 1811.2 1078.4C1810.9 1082.5 1810.5 1087.8 1809.2 1093.1C1808.0 1098.4 1805.6 1104.9 1803.8 1110.2C1802.0 1115.5 1799.8 1121.0 1798.5 1124.9C1797.1 1128.9 1796.0 1132.5 1795.5 1134.0L1777.9 1134.0C1777.4 1132.5 1776.3 1128.9 1774.9 1124.9C1773.6 1121.0 1771.4 1115.5 1769.6 1110.2C1767.8 1104.9 1765.4 1098.4 1764.2 1093.1C1762.9 1087.8 1762.5 1082.5 1762.2 1078.4C1761.9 1074.3 1761.8 1073.1 1762.5 1068.6C1763.1 1064.1 1764.1 1057.6 1765.9 1051.4C1767.7 1045.3 1771.0 1037.6 1773.2 1031.8C1775.5 1026.1 1777.9 1021.3 1779.4 1017.2C1780.8 1013.0 1781.4 1008.6 1781.8 1006.9z" fill="#66b8ff" stroke="#000" stroke-width="2.1" stroke-linejoin="round"/>
<path d="M1786.7 1006.9V1134.0" stroke="#000" stroke-width="1.7"/>
<path d="M1786.7 1054.2V1096.7" stroke="#000" stroke-width="7" stroke-linecap="round"/>
<ellipse cx="1786.7" cy="1077.2" rx="3.2" ry="2.6" fill="#fff"/>
<path d="M1856.2 982.9C1856.7 984.9 1857.8 990.2 1859.3 995.1C1860.9 1000.0 1863.2 1006.1 1865.5 1012.3C1867.7 1018.4 1871.1 1026.1 1872.8 1031.8C1874.6 1037.6 1875.4 1042.9 1876.0 1046.5C1876.6 1050.2 1876.7 1050.6 1876.5 1053.9C1876.2 1057.2 1875.7 1060.8 1874.5 1066.1C1873.4 1071.4 1871.0 1078.8 1869.6 1085.7C1868.2 1092.7 1867.2 1101.2 1866.2 1107.8C1865.2 1114.3 1864.5 1120.6 1863.8 1124.9C1863.0 1129.3 1862.1 1132.5 1861.8 1134.0L1842.2 1134.0C1841.9 1132.5 1841.0 1129.3 1840.2 1124.9C1839.5 1120.6 1838.8 1114.3 1837.8 1107.8C1836.8 1101.2 1835.8 1092.7 1834.4 1085.7C1833.0 1078.8 1830.6 1071.4 1829.5 1066.1C1828.3 1060.8 1827.8 1057.2 1827.5 1053.9C1827.3 1050.6 1827.4 1050.2 1828.0 1046.5C1828.6 1042.9 1829.4 1037.6 1831.2 1031.8C1832.9 1026.1 1836.3 1018.4 1838.5 1012.3C1840.8 1006.1 1843.1 1000.0 1844.7 995.1C1846.2 990.2 1847.3 984.9 1847.8 982.9z" fill="#66b8ff" stroke="#000" stroke-width="2.1" stroke-linejoin="round"/>
<path d="M1852.0 982.9V1134.0" stroke="#000" stroke-width="1.7"/>
<path d="M1852.0 1042.4V1095.5" stroke="#000" stroke-width="7" stroke-linecap="round"/>
<ellipse cx="1852.0" cy="1062.5" rx="3.2" ry="2.6" fill="#fff"/>
<path d="M1920.2 1042.9C1920.3 1045.1 1920.3 1051.2 1920.7 1056.3C1921.0 1061.4 1921.5 1068.2 1922.4 1073.5C1923.2 1078.8 1924.3 1083.3 1925.8 1088.2C1927.3 1093.1 1929.3 1098.4 1931.2 1102.9C1933.1 1107.4 1935.5 1111.4 1937.1 1115.1C1938.6 1118.8 1939.8 1122.3 1940.5 1124.9C1941.2 1127.6 1941.4 1129.5 1941.5 1131.0C1941.6 1132.6 1941.1 1133.5 1941.0 1134.0L1893.0 1134.0C1892.9 1133.5 1892.4 1132.6 1892.5 1131.0C1892.6 1129.5 1892.8 1127.6 1893.5 1124.9C1894.2 1122.3 1895.4 1118.8 1896.9 1115.1C1898.5 1111.4 1900.9 1107.4 1902.8 1102.9C1904.7 1098.4 1906.7 1093.1 1908.2 1088.2C1909.7 1083.3 1910.8 1078.8 1911.6 1073.5C1912.5 1068.2 1913.0 1061.4 1913.3 1056.3C1913.7 1051.2 1913.7 1045.1 1913.8 1042.9z" fill="#66b8ff" stroke="#000" stroke-width="2.1" stroke-linejoin="round"/>
<path d="M1917.0 1073.5V1134.0" stroke="#000" stroke-width="1.7"/>
<path d="M1917.0 1109.8V1132.7" stroke="#000" stroke-width="7" stroke-linecap="round"/>
<ellipse cx="1917.0" cy="1133.5" rx="3.2" ry="2.6" fill="#fff"/>
<path d="M1725.0 1226.6C1725.4 1229.2 1726.5 1236.6 1727.2 1242.5C1727.9 1248.4 1728.7 1255.8 1729.1 1262.1C1729.6 1268.4 1730.0 1273.6 1730.1 1280.3C1730.3 1287.0 1729.9 1295.0 1730.1 1302.3C1730.4 1309.7 1730.5 1317.5 1731.6 1324.4C1732.7 1331.3 1734.5 1337.9 1736.5 1344.0C1738.5 1350.1 1741.7 1356.2 1743.4 1361.1C1745.0 1366.0 1745.9 1369.8 1746.3 1373.4C1746.7 1377.0 1745.9 1381.1 1745.8 1382.7L1697.8 1382.7C1697.7 1381.1 1696.9 1377.0 1697.3 1373.4C1697.7 1369.8 1698.6 1366.0 1700.2 1361.1C1701.9 1356.2 1705.1 1350.1 1707.1 1344.0C1709.1 1337.9 1710.9 1331.3 1712.0 1324.4C1713.1 1317.5 1713.2 1309.7 1713.5 1302.3C1713.7 1295.0 1713.3 1287.0 1713.5 1280.3C1713.6 1273.6 1714.0 1268.4 1714.5 1262.1C1714.9 1255.8 1715.7 1248.4 1716.4 1242.5C1717.1 1236.6 1718.2 1229.2 1718.6 1226.6z" fill="#fa8ba1" stroke="#000" stroke-width="2.1" stroke-linejoin="round"/>
<path d="M1721.8 1226.6V1382.7" stroke="#000" stroke-width="1.7"/>
<path d="M1721.8 1308.0V1381.7" stroke="#000" stroke-width="7" stroke-linecap="round"/>
<ellipse cx="1721.8" cy="1375.8" rx="3.2" ry="2.6" fill="#fff"/>
<path d="M1798.9 1251.8C1799.4 1253.9 1801.1 1259.5 1801.9 1264.5C1802.7 1269.5 1803.5 1277.4 1803.8 1281.7C1804.2 1285.9 1804.0 1285.4 1803.8 1290.1C1803.7 1294.8 1802.9 1303.2 1802.9 1309.7C1802.9 1316.2 1803.1 1322.8 1803.8 1329.3C1804.6 1335.8 1806.4 1342.8 1807.5 1348.9C1808.7 1355.0 1810.1 1361.5 1810.7 1366.0C1811.3 1370.5 1811.2 1373.0 1811.2 1375.8C1811.2 1378.6 1810.6 1381.5 1810.5 1382.7L1762.9 1382.7C1762.8 1381.5 1762.2 1378.6 1762.2 1375.8C1762.2 1373.0 1762.1 1370.5 1762.7 1366.0C1763.3 1361.5 1764.7 1355.0 1765.9 1348.9C1767.0 1342.8 1768.8 1335.8 1769.6 1329.3C1770.3 1322.8 1770.5 1316.2 1770.5 1309.7C1770.5 1303.2 1769.7 1294.8 1769.6 1290.1C1769.4 1285.4 1769.2 1285.9 1769.6 1281.7C1769.9 1277.4 1770.7 1269.5 1771.5 1264.5C1772.3 1259.5 1774.0 1253.9 1774.5 1251.8z" fill="#fa8ba1" stroke="#000" stroke-width="2.1" stroke-linejoin="round"/>
<path d="M1786.7 1251.8V1382.7" stroke="#000" stroke-width="1.7"/>
<path d="M1786.7 1289.8V1376.3" stroke="#000" stroke-width="7" stroke-linecap="round"/>
<ellipse cx="1786.7" cy="1334.7" rx="3.2" ry="2.6" fill="#fff"/>
<path d="M1857.4 1233.2C1858.1 1235.1 1859.9 1240.1 1861.8 1244.9C1863.7 1249.7 1866.6 1255.9 1868.7 1262.1C1870.7 1268.2 1872.8 1276.6 1874.0 1281.7C1875.3 1286.7 1875.8 1288.7 1876.2 1292.6C1876.7 1296.4 1876.6 1299.5 1876.5 1304.8C1876.4 1310.1 1876.1 1317.9 1875.8 1324.4C1875.4 1330.9 1875.1 1337.5 1874.5 1344.0C1874.0 1350.5 1873.2 1358.3 1872.6 1363.6C1871.9 1368.9 1871.2 1372.6 1870.6 1375.8C1870.0 1379.0 1869.4 1381.5 1869.1 1382.7L1834.9 1382.7C1834.6 1381.5 1834.0 1379.0 1833.4 1375.8C1832.8 1372.6 1832.1 1368.9 1831.4 1363.6C1830.8 1358.3 1830.0 1350.5 1829.5 1344.0C1828.9 1337.5 1828.6 1330.9 1828.2 1324.4C1827.9 1317.9 1827.6 1310.1 1827.5 1304.8C1827.4 1299.5 1827.3 1296.4 1827.8 1292.6C1828.2 1288.7 1828.7 1286.7 1830.0 1281.7C1831.2 1276.6 1833.3 1268.2 1835.3 1262.1C1837.4 1255.9 1840.3 1249.7 1842.2 1244.9C1844.1 1240.1 1845.9 1235.1 1846.6 1233.2z" fill="#fa8ba1" stroke="#000" stroke-width="2.1" stroke-linejoin="round"/>
<path d="M1852.0 1233.2V1382.7" stroke="#000" stroke-width="1.7"/>
<path d="M1852.0 1289.8V1357.9" stroke="#000" stroke-width="7" stroke-linecap="round"/>
<ellipse cx="1852.0" cy="1324.4" rx="3.2" ry="2.6" fill="#fff"/>
<path d="M1926.3 1221.7C1926.7 1223.9 1928.0 1229.6 1928.8 1235.1C1929.5 1240.6 1930.3 1247.8 1930.7 1254.7C1931.1 1261.7 1931.2 1271.3 1931.2 1276.8C1931.2 1282.3 1930.6 1282.2 1930.7 1287.7C1930.8 1293.1 1931.0 1302.8 1931.7 1309.7C1932.3 1316.6 1933.4 1322.8 1934.6 1329.3C1935.9 1335.8 1937.9 1342.8 1939.0 1348.9C1940.1 1355.0 1940.8 1361.5 1941.2 1366.0C1941.7 1370.5 1941.6 1373.0 1941.5 1375.8C1941.4 1378.6 1940.9 1381.5 1940.8 1382.7L1893.2 1382.7C1893.1 1381.5 1892.6 1378.6 1892.5 1375.8C1892.4 1373.0 1892.3 1370.5 1892.8 1366.0C1893.2 1361.5 1893.9 1355.0 1895.0 1348.9C1896.1 1342.8 1898.1 1335.8 1899.4 1329.3C1900.6 1322.8 1901.7 1316.6 1902.3 1309.7C1903.0 1302.8 1903.2 1293.1 1903.3 1287.7C1903.4 1282.2 1902.8 1282.3 1902.8 1276.8C1902.8 1271.3 1902.9 1261.7 1903.3 1254.7C1903.7 1247.8 1904.5 1240.6 1905.2 1235.1C1906.0 1229.6 1907.3 1223.9 1907.7 1221.7z" fill="#fa8ba1" stroke="#000" stroke-width="2.1" stroke-linejoin="round"/>
<path d="M1917.0 1221.7V1382.7" stroke="#000" stroke-width="1.7"/>
<path d="M1917.0 1271.4V1381.7" stroke="#000" stroke-width="7" stroke-linecap="round"/>
<ellipse cx="1917.0" cy="1355.7" rx="3.2" ry="2.6" fill="#fff"/>
<path d="M1729.1 1549.7C1729.8 1552.2 1731.6 1558.7 1732.8 1564.4C1734.0 1570.1 1735.6 1577.9 1736.5 1584.0C1737.4 1590.1 1737.8 1595.4 1738.5 1601.1C1739.1 1606.9 1739.4 1613.0 1740.4 1618.3C1741.4 1623.6 1743.4 1628.9 1744.3 1633.0C1745.3 1637.1 1746.1 1639.5 1746.3 1642.8C1746.5 1646.0 1746.2 1649.7 1745.6 1652.6C1744.9 1655.4 1743.5 1657.8 1742.6 1659.9C1741.7 1662.0 1740.6 1664.2 1740.2 1665.1L1703.4 1665.1C1703.0 1664.2 1701.9 1662.0 1701.0 1659.9C1700.1 1657.8 1698.7 1655.4 1698.0 1652.6C1697.4 1649.7 1697.1 1646.0 1697.3 1642.8C1697.5 1639.5 1698.3 1637.1 1699.3 1633.0C1700.2 1628.9 1702.2 1623.6 1703.2 1618.3C1704.2 1613.0 1704.5 1606.9 1705.1 1601.1C1705.8 1595.4 1706.2 1590.1 1707.1 1584.0C1708.0 1577.9 1709.6 1570.1 1710.8 1564.4C1712.0 1558.7 1713.8 1552.2 1714.5 1549.7z" fill="#fba23b" stroke="#000" stroke-width="2.1" stroke-linejoin="round"/>
<path d="M1721.8 1549.7V1665.1" stroke="#000" stroke-width="1.7"/>
<path d="M1721.8 1592.1V1651.8" stroke="#000" stroke-width="7" stroke-linecap="round"/>
<ellipse cx="1721.8" cy="1627.4" rx="3.2" ry="2.6" fill="#fff"/>
<path d="M1791.1 1530.6C1791.8 1532.2 1793.1 1536.3 1795.3 1539.9C1797.4 1543.5 1801.5 1548.1 1803.8 1552.2C1806.2 1556.2 1808.3 1560.7 1809.5 1564.4C1810.7 1568.1 1811.3 1570.5 1811.2 1574.2C1811.1 1577.9 1810.3 1582.0 1808.7 1586.5C1807.2 1590.9 1804.1 1596.2 1801.9 1601.1C1799.6 1606.0 1797.0 1610.9 1795.3 1615.8C1793.6 1620.7 1792.4 1625.2 1791.6 1630.5C1790.8 1635.8 1790.6 1641.9 1790.4 1647.7C1790.2 1653.4 1790.4 1662.2 1790.4 1665.1L1783.0 1665.1C1783.0 1662.2 1783.2 1653.4 1783.0 1647.7C1782.8 1641.9 1782.6 1635.8 1781.8 1630.5C1781.0 1625.2 1779.8 1620.7 1778.1 1615.8C1776.4 1610.9 1773.8 1606.0 1771.5 1601.1C1769.3 1596.2 1766.2 1590.9 1764.7 1586.5C1763.1 1582.0 1762.3 1577.9 1762.2 1574.2C1762.1 1570.5 1762.7 1568.1 1763.9 1564.4C1765.1 1560.7 1767.2 1556.2 1769.6 1552.2C1771.9 1548.1 1776.0 1543.5 1778.1 1539.9C1780.3 1536.3 1781.6 1532.2 1782.3 1530.6z" fill="#fba23b" stroke="#000" stroke-width="2.1" stroke-linejoin="round"/>
<path d="M1786.7 1530.6V1653.8" stroke="#000" stroke-width="1.7"/>
<path d="M1786.7 1567.1V1600.9" stroke="#000" stroke-width="7" stroke-linecap="round"/>
<ellipse cx="1786.7" cy="1581.1" rx="3.2" ry="2.6" fill="#fff"/>
<path d="M1857.4 1503.7C1858.3 1505.6 1861.0 1511.0 1863.0 1515.4C1865.1 1519.8 1867.7 1525.2 1869.6 1530.1C1871.6 1535.0 1873.4 1539.9 1874.5 1544.8C1875.7 1549.7 1876.6 1555.0 1876.5 1559.5C1876.4 1564.0 1875.6 1566.9 1874.0 1571.8C1872.5 1576.7 1869.4 1582.8 1867.2 1588.9C1864.9 1595.0 1862.2 1602.0 1860.6 1608.5C1858.9 1615.0 1858.2 1622.0 1857.4 1628.1C1856.6 1634.2 1856.3 1639.6 1855.9 1645.2C1855.6 1650.8 1855.3 1658.9 1855.2 1661.6L1848.8 1661.6C1848.7 1658.9 1848.4 1650.8 1848.1 1645.2C1847.7 1639.6 1847.4 1634.2 1846.6 1628.1C1845.8 1622.0 1845.1 1615.0 1843.4 1608.5C1841.8 1602.0 1839.1 1595.0 1836.8 1588.9C1834.6 1582.8 1831.5 1576.7 1830.0 1571.8C1828.4 1566.9 1827.6 1564.0 1827.5 1559.5C1827.4 1555.0 1828.3 1549.7 1829.5 1544.8C1830.6 1539.9 1832.4 1535.0 1834.4 1530.1C1836.3 1525.2 1838.9 1519.8 1841.0 1515.4C1843.0 1511.0 1845.7 1505.6 1846.6 1503.7z" fill="#fba23b" stroke="#000" stroke-width="2.1" stroke-linejoin="round"/>
<path d="M1852.0 1503.7V1641.6" stroke="#000" stroke-width="1.7"/>
<path d="M1852.0 1539.5V1579.6" stroke="#000" stroke-width="7" stroke-linecap="round"/>
<ellipse cx="1852.0" cy="1560.2" rx="3.2" ry="2.6" fill="#fff"/>
<path d="M1923.9 1497.8C1924.7 1499.9 1926.8 1506.0 1928.8 1510.5C1930.7 1515.1 1933.6 1520.3 1935.4 1525.2C1937.2 1530.1 1938.5 1535.0 1939.5 1539.9C1940.6 1544.8 1941.5 1550.1 1941.5 1554.6C1941.5 1559.1 1940.8 1562.0 1939.5 1566.9C1938.2 1571.8 1935.5 1577.9 1933.7 1584.0C1931.9 1590.1 1930.0 1597.1 1928.8 1603.6C1927.5 1610.1 1927.0 1617.5 1926.3 1623.2C1925.7 1628.9 1925.2 1634.3 1924.8 1637.9C1924.5 1641.4 1924.4 1643.4 1924.3 1644.5L1909.7 1644.5C1909.6 1643.4 1909.5 1641.4 1909.2 1637.9C1908.8 1634.3 1908.3 1628.9 1907.7 1623.2C1907.0 1617.5 1906.5 1610.1 1905.2 1603.6C1904.0 1597.1 1902.1 1590.1 1900.3 1584.0C1898.5 1577.9 1895.8 1571.8 1894.5 1566.9C1893.2 1562.0 1892.5 1559.1 1892.5 1554.6C1892.5 1550.1 1893.4 1544.8 1894.5 1539.9C1895.5 1535.0 1896.8 1530.1 1898.6 1525.2C1900.4 1520.3 1903.3 1515.1 1905.2 1510.5C1907.2 1506.0 1909.3 1499.9 1910.1 1497.8z" fill="#fba23b" stroke="#000" stroke-width="2.1" stroke-linejoin="round"/>
<path d="M1917.0 1497.8V1644.5" stroke="#000" stroke-width="1.7"/>
<path d="M1917.0 1544.9V1588.1" stroke="#000" stroke-width="7" stroke-linecap="round"/>
<ellipse cx="1917.0" cy="1557.3" rx="3.2" ry="2.6" fill="#fff"/>
<path d="M1682.3 962.0V1139.3H1940.5M1675.5 1133.5H1682.3M1675.5 1104.3H1682.3M1675.5 1075.1H1682.3M1675.5 1045.8H1682.3M1675.5 1016.6H1682.3M1675.5 987.4H1682.3M1721.8 1139.3v5.5M1786.7 1139.3v5.5M1852.0 1139.3v5.5M1917.0 1139.3v5.5M1682.3 1215.5V1388.8H1940.5M1675.5 1382.7H1682.3M1675.5 1345.9H1682.3M1675.5 1309.1H1682.3M1675.5 1272.3H1682.3M1675.5 1235.5H1682.3M1721.8 1388.8v5.5M1786.7 1388.8v5.5M1852.0 1388.8v5.5M1917.0 1388.8v5.5M1682.3 1491.0V1671.5H1940.5M1675.5 1665.0H1682.3M1675.5 1636.4H1682.3M1675.5 1607.8H1682.3M1675.5 1579.2H1682.3M1675.5 1550.6H1682.3M1675.5 1522.0H1682.3M1675.5 1493.4H1682.3M1721.8 1671.5v5.5M1786.7 1671.5v5.5M1852.0 1671.5v5.5M1917.0 1671.5v5.5" fill="none" stroke="#000" stroke-width="2.3"/>
<text x="1672.7" y="1142.3" font-size="25.8" text-anchor="end">0</text>
<text x="1672.7" y="1113.1" font-size="25.8" text-anchor="end">1</text>
<text x="1672.7" y="1083.9" font-size="25.8" text-anchor="end">2</text>
<text x="1672.7" y="1054.6" font-size="25.8" text-anchor="end">3</text>
<text x="1672.7" y="1025.4" font-size="25.8" text-anchor="end">4</text>
<text x="1672.7" y="996.2" font-size="25.8" text-anchor="end">5</text>
<text x="1672.7" y="1391.5" font-size="25.8" text-anchor="end">0</text>
<text x="1672.7" y="1354.7" font-size="25.8" text-anchor="end">1</text>
<text x="1672.7" y="1317.9" font-size="25.8" text-anchor="end">2</text>
<text x="1672.7" y="1281.1" font-size="25.8" text-anchor="end">3</text>
<text x="1672.7" y="1244.3" font-size="25.8" text-anchor="end">4</text>
<text x="1672.7" y="1673.8" font-size="25.8" text-anchor="end">0</text>
<text x="1672.7" y="1645.2" font-size="25.8" text-anchor="end">1</text>
<text x="1672.7" y="1616.6" font-size="25.8" text-anchor="end">2</text>
<text x="1672.7" y="1588.0" font-size="25.8" text-anchor="end">3</text>
<text x="1672.7" y="1559.4" font-size="25.8" text-anchor="end">4</text>
<text x="1672.7" y="1530.8" font-size="25.8" text-anchor="end">5</text>
<text x="1672.7" y="1502.2" font-size="25.8" text-anchor="end">6</text>
<text transform="translate(1640.0 1039.0) rotate(-90)" font-size="34.4" text-anchor="middle" font-style="italic">Ets1</text>
<text transform="translate(1640.0 1297.5) rotate(-90)" font-size="34.4" text-anchor="middle" font-style="italic">Cebpg</text>
<text transform="translate(1640.0 1569.5) rotate(-90)" font-size="33.6" text-anchor="middle" font-style="italic">Meis1</text>
<text x="1724.0" y="1708.4" font-size="25.8" text-anchor="middle">eAEC</text>
<text x="1789.0" y="1708.4" font-size="25.8" text-anchor="middle">HEC</text>
<text x="1854.0" y="1708.4" font-size="25.8" text-anchor="middle">pre</text>
<text x="1918.7" y="1708.4" font-size="25.8" text-anchor="middle">LT</text>
<text x="1660.3" y="935.8" font-size="25.65">** <tspan font-style="italic">P</tspan>=0.0027</text>
<text x="1826.3" y="935.8" font-size="25.65">**** <tspan font-style="italic">P</tspan>=1.1e-05</text>
<text x="1763.9" y="967.0" font-size="25.65">ns <tspan font-style="italic">P</tspan>=0.19</text>
<text x="1692.9" y="1190.6" font-size="25.65">ns <tspan font-style="italic">P</tspan>=0.12</text>
<text x="1844.7" y="1190.6" font-size="25.65">ns <tspan font-style="italic">P</tspan>=0.33</text>
<text x="1762.7" y="1220.0" font-size="25.65">ns <tspan font-style="italic">P</tspan>=0.24</text>
<text x="1850.8" y="1430.4" font-size="25.65">ns <tspan font-style="italic">P</tspan>=0.97</text>
<text x="1727.0" y="1464.5" font-size="25.65">*** <tspan font-style="italic">P</tspan>=0.00088</text>
<text x="1688.0" y="1499.5" font-size="25.65">*** <tspan font-style="italic">P</tspan>=0.00028</text>
<path d="M1721.8 947.2V943.2H1786.7V947.2M1852.0 947.2V943.2H1917.0V947.2M1786.7 977.0V973.0H1852.0V977.0M1717.4 1200.4V1196.4H1782.3V1200.4M1847.7 1200.4V1196.4H1912.8V1200.4M1786.7 1229.3V1225.3H1852.0V1229.3M1852.0 1440.6V1436.6H1917.0V1440.6M1786.7 1475.3V1471.3H1852.0V1475.3M1721.8 1511.6V1507.6H1786.7V1511.6" fill="none" stroke="#000" stroke-width="2.2"/>
</svg>
</body>
</html>
